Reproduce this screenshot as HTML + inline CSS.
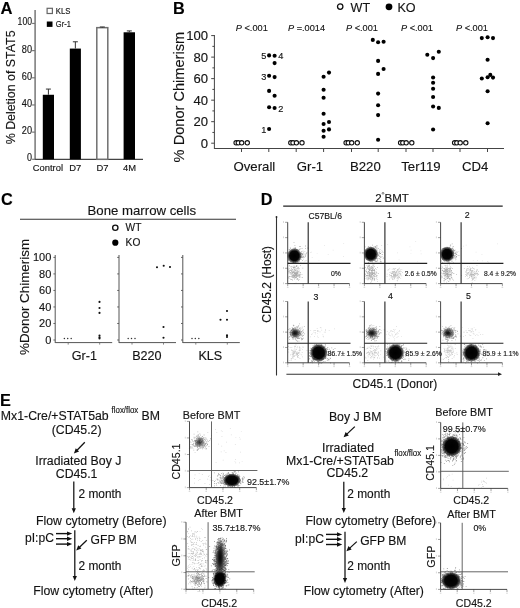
<!DOCTYPE html>
<html><head><meta charset="utf-8"><style>
html,body{margin:0;padding:0;background:#fff;width:520px;height:608px;overflow:hidden}
svg{display:block;filter:blur(0.3px);font-family:"Liberation Sans",sans-serif} text{stroke:#222;stroke-width:0.15px}
</style></head><body>
<svg width="520" height="608" viewBox="0 0 520 608" font-family="Liberation Sans, sans-serif"><defs><radialGradient id="g1"><stop offset="0" stop-color="#000"/><stop offset="0.62" stop-color="#000" stop-opacity="0.97"/><stop offset="0.85" stop-color="#000" stop-opacity="0.55"/><stop offset="1" stop-color="#000" stop-opacity="0"/></radialGradient><radialGradient id="g2"><stop offset="0" stop-color="#000" stop-opacity="0.85"/><stop offset="0.4" stop-color="#000" stop-opacity="0.6"/><stop offset="1" stop-color="#000" stop-opacity="0"/></radialGradient></defs>
<text transform="translate(0.6 13.7) scale(1 1.0)" font-size="16.6" text-anchor="start" font-weight="bold" fill="#000" >A</text>
<line x1="35.1" y1="10" x2="35.1" y2="159.9" stroke="#777" stroke-width="1.5"/>
<line x1="35.1" y1="159.3" x2="143" y2="159.3" stroke="#444" stroke-width="1.3"/>
<line x1="32.1" y1="159.3" x2="35.1" y2="159.3" stroke="#777" stroke-width="1.2"/>
<text transform="translate(32.0 161.3) scale(1 1.0)" font-size="10.0" text-anchor="end" textLength="5.0" lengthAdjust="spacingAndGlyphs" fill="#111" >0</text>
<line x1="32.1" y1="132.13" x2="35.1" y2="132.13" stroke="#777" stroke-width="1.2"/>
<text transform="translate(32.0 134.13) scale(1 1.0)" font-size="10.0" text-anchor="end" textLength="10.2" lengthAdjust="spacingAndGlyphs" fill="#111" >20</text>
<line x1="32.1" y1="104.96000000000001" x2="35.1" y2="104.96000000000001" stroke="#777" stroke-width="1.2"/>
<text transform="translate(32.0 106.96000000000001) scale(1 1.0)" font-size="10.0" text-anchor="end" textLength="10.2" lengthAdjust="spacingAndGlyphs" fill="#111" >40</text>
<line x1="32.1" y1="77.79" x2="35.1" y2="77.79" stroke="#777" stroke-width="1.2"/>
<text transform="translate(32.0 79.79) scale(1 1.0)" font-size="10.0" text-anchor="end" textLength="10.2" lengthAdjust="spacingAndGlyphs" fill="#111" >60</text>
<line x1="32.1" y1="50.620000000000005" x2="35.1" y2="50.620000000000005" stroke="#777" stroke-width="1.2"/>
<text transform="translate(32.0 52.620000000000005) scale(1 1.0)" font-size="10.0" text-anchor="end" textLength="10.2" lengthAdjust="spacingAndGlyphs" fill="#111" >80</text>
<line x1="32.1" y1="23.450000000000017" x2="35.1" y2="23.450000000000017" stroke="#777" stroke-width="1.2"/>
<text transform="translate(32.0 25.450000000000017) scale(1 1.0)" font-size="10.0" text-anchor="end" textLength="14.4" lengthAdjust="spacingAndGlyphs" fill="#111" >100</text>
<text transform="translate(14.6,87.4) rotate(-90) scale(1 1.0)" font-size="12.4" text-anchor="middle" fill="#111">% Deletion of STAT5</text>
<rect x="47.1" y="8.3" width="5.3" height="5.2" fill="#fff" stroke="#666" stroke-width="1.2"/>
<text transform="translate(55.8 13.9) scale(1 1.0)" font-size="8.4" text-anchor="start" textLength="14.6" lengthAdjust="spacingAndGlyphs" fill="#111" >KLS</text>
<rect x="46.8" y="21.5" width="5.7" height="5.4" fill="#000" stroke="none" stroke-width="1"/>
<text transform="translate(55.8 26.9) scale(1 1.0)" font-size="8.4" text-anchor="start" textLength="15.0" lengthAdjust="spacingAndGlyphs" fill="#111" >Gr-1</text>
<rect x="42.8" y="94.77125000000001" width="11.200000000000003" height="64.52875" fill="#000" stroke="none" stroke-width="1"/>
<line x1="48.4" y1="94.77125000000001" x2="48.4" y2="89.06555" stroke="#333" stroke-width="1"/>
<line x1="45.9" y1="89.06555" x2="50.9" y2="89.06555" stroke="#333" stroke-width="1"/>
<rect x="69.8" y="48.58225" width="11.100000000000009" height="110.71775000000001" fill="#000" stroke="none" stroke-width="1"/>
<line x1="75.35" y1="48.58225" x2="75.35" y2="41.78975000000001" stroke="#333" stroke-width="1"/>
<line x1="72.85" y1="41.78975000000001" x2="77.85" y2="41.78975000000001" stroke="#333" stroke-width="1"/>
<rect x="96.8" y="27.66135" width="11.0" height="131.63865" fill="#fff" stroke="#707070" stroke-width="1.5"/>
<line x1="102.3" y1="27.66135" x2="102.3" y2="26.982100000000003" stroke="#333" stroke-width="1"/>
<line x1="99.8" y1="26.982100000000003" x2="104.8" y2="26.982100000000003" stroke="#333" stroke-width="1"/>
<rect x="123.6" y="32.28025000000001" width="11.400000000000006" height="127.01975" fill="#000" stroke="none" stroke-width="1"/>
<line x1="129.3" y1="32.28025000000001" x2="129.3" y2="30.921750000000003" stroke="#333" stroke-width="1"/>
<line x1="126.80000000000001" y1="30.921750000000003" x2="131.8" y2="30.921750000000003" stroke="#333" stroke-width="1"/>
<text transform="translate(47.9 171.3) scale(1 1.0)" font-size="9.4" text-anchor="middle" fill="#111" >Control</text>
<text transform="translate(75.2 171.3) scale(1 1.0)" font-size="9.4" text-anchor="middle" fill="#111" >D7</text>
<text transform="translate(102.5 171.3) scale(1 1.0)" font-size="9.4" text-anchor="middle" fill="#111" >D7</text>
<text transform="translate(129.5 171.3) scale(1 1.0)" font-size="9.4" text-anchor="middle" fill="#111" >4M</text>
<text transform="translate(172.9 13.6) scale(1 1.0)" font-size="16.3" text-anchor="start" font-weight="bold" fill="#000" >B</text>
<line x1="214.4" y1="35" x2="214.4" y2="149.0" stroke="#444" stroke-width="1"/>
<line x1="214.4" y1="148.5" x2="504" y2="148.5" stroke="#444" stroke-width="1"/>
<line x1="211.20000000000002" y1="143.2" x2="214.4" y2="143.2" stroke="#444" stroke-width="1"/>
<text transform="translate(208 147.79999999999998) scale(1 1.0)" font-size="13.1" text-anchor="end" fill="#111" >0</text>
<line x1="212.4" y1="132.44" x2="214.4" y2="132.44" stroke="#444" stroke-width="1"/>
<line x1="211.20000000000002" y1="121.67999999999998" x2="214.4" y2="121.67999999999998" stroke="#444" stroke-width="1"/>
<text transform="translate(208 126.27999999999997) scale(1 1.0)" font-size="13.1" text-anchor="end" fill="#111" >20</text>
<line x1="212.4" y1="110.91999999999999" x2="214.4" y2="110.91999999999999" stroke="#444" stroke-width="1"/>
<line x1="211.20000000000002" y1="100.15999999999998" x2="214.4" y2="100.15999999999998" stroke="#444" stroke-width="1"/>
<text transform="translate(208 104.75999999999998) scale(1 1.0)" font-size="13.1" text-anchor="end" fill="#111" >40</text>
<line x1="212.4" y1="89.39999999999998" x2="214.4" y2="89.39999999999998" stroke="#444" stroke-width="1"/>
<line x1="211.20000000000002" y1="78.63999999999999" x2="214.4" y2="78.63999999999999" stroke="#444" stroke-width="1"/>
<text transform="translate(208 83.23999999999998) scale(1 1.0)" font-size="13.1" text-anchor="end" fill="#111" >60</text>
<line x1="212.4" y1="67.87999999999998" x2="214.4" y2="67.87999999999998" stroke="#444" stroke-width="1"/>
<line x1="211.20000000000002" y1="57.119999999999976" x2="214.4" y2="57.119999999999976" stroke="#444" stroke-width="1"/>
<text transform="translate(208 61.71999999999998) scale(1 1.0)" font-size="13.1" text-anchor="end" fill="#111" >80</text>
<line x1="212.4" y1="46.359999999999985" x2="214.4" y2="46.359999999999985" stroke="#444" stroke-width="1"/>
<line x1="211.20000000000002" y1="35.59999999999998" x2="214.4" y2="35.59999999999998" stroke="#444" stroke-width="1"/>
<text transform="translate(208 40.19999999999998) scale(1 1.0)" font-size="13.1" text-anchor="end" fill="#111" >100</text>
<text transform="translate(183.6,97.1) rotate(-90) scale(1 1.0)" font-size="14.6" text-anchor="middle" fill="#111">% Donor Chimerism</text>
<line x1="241.5" y1="148.5" x2="241.5" y2="152.0" stroke="#444" stroke-width="1"/>
<line x1="268.8" y1="148.5" x2="268.8" y2="152.0" stroke="#444" stroke-width="1"/>
<line x1="296.2" y1="148.5" x2="296.2" y2="152.0" stroke="#444" stroke-width="1"/>
<line x1="323.6" y1="148.5" x2="323.6" y2="152.0" stroke="#444" stroke-width="1"/>
<line x1="351.5" y1="148.5" x2="351.5" y2="152.0" stroke="#444" stroke-width="1"/>
<line x1="378.2" y1="148.5" x2="378.2" y2="152.0" stroke="#444" stroke-width="1"/>
<line x1="406.0" y1="148.5" x2="406.0" y2="152.0" stroke="#444" stroke-width="1"/>
<line x1="433.0" y1="148.5" x2="433.0" y2="152.0" stroke="#444" stroke-width="1"/>
<line x1="460.0" y1="148.5" x2="460.0" y2="152.0" stroke="#444" stroke-width="1"/>
<line x1="487.5" y1="148.5" x2="487.5" y2="152.0" stroke="#444" stroke-width="1"/>
<text transform="translate(254.4 171.2) scale(1 1.0)" font-size="13.2" text-anchor="middle" fill="#111" >Overall</text>
<text transform="translate(310.0 171.2) scale(1 1.0)" font-size="13.2" text-anchor="middle" fill="#111" >Gr-1</text>
<text transform="translate(365.4 171.2) scale(1 1.0)" font-size="13.2" text-anchor="middle" fill="#111" >B220</text>
<text transform="translate(420.9 171.2) scale(1 1.0)" font-size="13.2" text-anchor="middle" fill="#111" >Ter119</text>
<text transform="translate(475.25 171.2) scale(1 1.0)" font-size="13.2" text-anchor="middle" fill="#111" >CD4</text>
<circle cx="340.2" cy="6.6" r="2.7" fill="#fff" stroke="#111" stroke-width="1.3"/>
<text transform="translate(350.6 11.5) scale(1 1.0)" font-size="12.6" text-anchor="start" fill="#111" >WT</text>
<circle cx="389.0" cy="6.8" r="3.4" fill="#000" stroke="none" stroke-width="1"/>
<text transform="translate(397.4 11.5) scale(1 1.0)" font-size="12.6" text-anchor="start" fill="#111" >KO</text>
<text transform="translate(235.8 31.2) scale(1 1.0)" font-size="9.2" fill="#111"><tspan font-style="italic">P</tspan> &lt;.001</text>
<text transform="translate(288.0 31.2) scale(1 1.0)" font-size="9.2" fill="#111"><tspan font-style="italic">P</tspan> =.0014</text>
<text transform="translate(346.0 31.2) scale(1 1.0)" font-size="9.2" fill="#111"><tspan font-style="italic">P</tspan> &lt;.001</text>
<text transform="translate(401.0 31.2) scale(1 1.0)" font-size="9.2" fill="#111"><tspan font-style="italic">P</tspan> &lt;.001</text>
<text transform="translate(456.0 31.2) scale(1 1.0)" font-size="9.2" fill="#111"><tspan font-style="italic">P</tspan> &lt;.001</text>
<circle cx="236.1" cy="142.8" r="2.15" fill="#fff" stroke="#111" stroke-width="1.1"/>
<circle cx="238.3" cy="142.8" r="2.15" fill="#fff" stroke="#111" stroke-width="1.1"/>
<circle cx="241.7" cy="142.8" r="2.15" fill="#fff" stroke="#111" stroke-width="1.1"/>
<circle cx="247.3" cy="142.8" r="2.15" fill="#fff" stroke="#111" stroke-width="1.1"/>
<circle cx="290.8" cy="142.8" r="2.15" fill="#fff" stroke="#111" stroke-width="1.1"/>
<circle cx="293.0" cy="142.8" r="2.15" fill="#fff" stroke="#111" stroke-width="1.1"/>
<circle cx="296.4" cy="142.8" r="2.15" fill="#fff" stroke="#111" stroke-width="1.1"/>
<circle cx="302.0" cy="142.8" r="2.15" fill="#fff" stroke="#111" stroke-width="1.1"/>
<circle cx="346.1" cy="142.8" r="2.15" fill="#fff" stroke="#111" stroke-width="1.1"/>
<circle cx="348.3" cy="142.8" r="2.15" fill="#fff" stroke="#111" stroke-width="1.1"/>
<circle cx="351.7" cy="142.8" r="2.15" fill="#fff" stroke="#111" stroke-width="1.1"/>
<circle cx="357.3" cy="142.8" r="2.15" fill="#fff" stroke="#111" stroke-width="1.1"/>
<circle cx="400.6" cy="142.8" r="2.15" fill="#fff" stroke="#111" stroke-width="1.1"/>
<circle cx="402.8" cy="142.8" r="2.15" fill="#fff" stroke="#111" stroke-width="1.1"/>
<circle cx="406.2" cy="142.8" r="2.15" fill="#fff" stroke="#111" stroke-width="1.1"/>
<circle cx="411.8" cy="142.8" r="2.15" fill="#fff" stroke="#111" stroke-width="1.1"/>
<circle cx="454.6" cy="142.8" r="2.15" fill="#fff" stroke="#111" stroke-width="1.1"/>
<circle cx="456.8" cy="142.8" r="2.15" fill="#fff" stroke="#111" stroke-width="1.1"/>
<circle cx="460.2" cy="142.8" r="2.15" fill="#fff" stroke="#111" stroke-width="1.1"/>
<circle cx="465.8" cy="142.8" r="2.15" fill="#fff" stroke="#111" stroke-width="1.1"/>
<circle cx="269.1" cy="55.4" r="2.05" fill="#000" stroke="none" stroke-width="1"/>
<circle cx="274.6" cy="55.7" r="2.05" fill="#000" stroke="none" stroke-width="1"/>
<circle cx="274.6" cy="63.1" r="2.05" fill="#000" stroke="none" stroke-width="1"/>
<circle cx="269.1" cy="75.7" r="2.05" fill="#000" stroke="none" stroke-width="1"/>
<circle cx="274.6" cy="77.1" r="2.05" fill="#000" stroke="none" stroke-width="1"/>
<circle cx="269.1" cy="90.9" r="2.05" fill="#000" stroke="none" stroke-width="1"/>
<circle cx="274.6" cy="95.8" r="2.05" fill="#000" stroke="none" stroke-width="1"/>
<circle cx="269.1" cy="107.2" r="2.05" fill="#000" stroke="none" stroke-width="1"/>
<circle cx="274.6" cy="108.0" r="2.05" fill="#000" stroke="none" stroke-width="1"/>
<circle cx="269.1" cy="129.0" r="2.05" fill="#000" stroke="none" stroke-width="1"/>
<circle cx="329" cy="72.6" r="2.05" fill="#000" stroke="none" stroke-width="1"/>
<circle cx="323.6" cy="76.8" r="2.05" fill="#000" stroke="none" stroke-width="1"/>
<circle cx="323.6" cy="89.7" r="2.05" fill="#000" stroke="none" stroke-width="1"/>
<circle cx="323.6" cy="97.8" r="2.05" fill="#000" stroke="none" stroke-width="1"/>
<circle cx="323.6" cy="113.7" r="2.05" fill="#000" stroke="none" stroke-width="1"/>
<circle cx="329" cy="122" r="2.05" fill="#000" stroke="none" stroke-width="1"/>
<circle cx="323.6" cy="124" r="2.05" fill="#000" stroke="none" stroke-width="1"/>
<circle cx="329" cy="129.4" r="2.05" fill="#000" stroke="none" stroke-width="1"/>
<circle cx="323.6" cy="130.7" r="2.05" fill="#000" stroke="none" stroke-width="1"/>
<circle cx="323.6" cy="136.7" r="2.05" fill="#000" stroke="none" stroke-width="1"/>
<circle cx="372.8" cy="39.9" r="2.05" fill="#000" stroke="none" stroke-width="1"/>
<circle cx="378.1" cy="42.2" r="2.05" fill="#000" stroke="none" stroke-width="1"/>
<circle cx="383.6" cy="41.8" r="2.05" fill="#000" stroke="none" stroke-width="1"/>
<circle cx="378.1" cy="60.9" r="2.05" fill="#000" stroke="none" stroke-width="1"/>
<circle cx="383.6" cy="69" r="2.05" fill="#000" stroke="none" stroke-width="1"/>
<circle cx="378.1" cy="73.9" r="2.05" fill="#000" stroke="none" stroke-width="1"/>
<circle cx="378.1" cy="93.6" r="2.05" fill="#000" stroke="none" stroke-width="1"/>
<circle cx="378.1" cy="105.3" r="2.05" fill="#000" stroke="none" stroke-width="1"/>
<circle cx="378.1" cy="115.1" r="2.05" fill="#000" stroke="none" stroke-width="1"/>
<circle cx="378.1" cy="139.8" r="2.05" fill="#000" stroke="none" stroke-width="1"/>
<circle cx="427.3" cy="54.8" r="2.05" fill="#000" stroke="none" stroke-width="1"/>
<circle cx="438.8" cy="51.8" r="2.05" fill="#000" stroke="none" stroke-width="1"/>
<circle cx="433.1" cy="58.1" r="2.05" fill="#000" stroke="none" stroke-width="1"/>
<circle cx="433.1" cy="77.5" r="2.05" fill="#000" stroke="none" stroke-width="1"/>
<circle cx="433.1" cy="82.7" r="2.05" fill="#000" stroke="none" stroke-width="1"/>
<circle cx="433.1" cy="88.8" r="2.05" fill="#000" stroke="none" stroke-width="1"/>
<circle cx="433.1" cy="97" r="2.05" fill="#000" stroke="none" stroke-width="1"/>
<circle cx="433.1" cy="106.5" r="2.05" fill="#000" stroke="none" stroke-width="1"/>
<circle cx="438.8" cy="107.9" r="2.05" fill="#000" stroke="none" stroke-width="1"/>
<circle cx="433.1" cy="129.5" r="2.05" fill="#000" stroke="none" stroke-width="1"/>
<circle cx="481.8" cy="38.1" r="2.05" fill="#000" stroke="none" stroke-width="1"/>
<circle cx="487.6" cy="37.3" r="2.05" fill="#000" stroke="none" stroke-width="1"/>
<circle cx="493" cy="38.1" r="2.05" fill="#000" stroke="none" stroke-width="1"/>
<circle cx="487.6" cy="59.8" r="2.05" fill="#000" stroke="none" stroke-width="1"/>
<circle cx="481.8" cy="78.5" r="2.05" fill="#000" stroke="none" stroke-width="1"/>
<circle cx="487.6" cy="77.2" r="2.05" fill="#000" stroke="none" stroke-width="1"/>
<circle cx="490.3" cy="74.9" r="2.05" fill="#000" stroke="none" stroke-width="1"/>
<circle cx="493" cy="77.6" r="2.05" fill="#000" stroke="none" stroke-width="1"/>
<circle cx="487.6" cy="91.2" r="2.05" fill="#000" stroke="none" stroke-width="1"/>
<circle cx="487.6" cy="123.3" r="2.05" fill="#000" stroke="none" stroke-width="1"/>
<text transform="translate(263.7 58.9) scale(1 1.0)" font-size="9.2" text-anchor="middle" fill="#111" >5</text>
<text transform="translate(280.7 58.9) scale(1 1.0)" font-size="9.2" text-anchor="middle" fill="#111" >4</text>
<text transform="translate(263.7 79.8) scale(1 1.0)" font-size="9.2" text-anchor="middle" fill="#111" >3</text>
<text transform="translate(280.7 112.3) scale(1 1.0)" font-size="9.2" text-anchor="middle" fill="#111" >2</text>
<text transform="translate(263.9 132.5) scale(1 1.0)" font-size="9.2" text-anchor="middle" fill="#111" >1</text>
<text transform="translate(1.0 205.0) scale(1 1.0)" font-size="16.3" text-anchor="start" font-weight="bold" fill="#000" >C</text>
<text transform="translate(141.8 215.4) scale(1 1.0)" font-size="13.2" text-anchor="middle" fill="#111" >Bone marrow cells</text>
<line x1="20" y1="219.2" x2="236" y2="219.2" stroke="#333" stroke-width="1.1"/>
<circle cx="115.3" cy="227.7" r="2.65" fill="#fff" stroke="#111" stroke-width="1.35"/>
<text transform="translate(125.6 230.9) scale(1 1.0)" font-size="10.2" text-anchor="start" fill="#111" >WT</text>
<circle cx="115.3" cy="242.7" r="3.1" fill="#000" stroke="none" stroke-width="1"/>
<text transform="translate(125.6 245.7) scale(1 1.0)" font-size="10.2" text-anchor="start" fill="#111" >KO</text>
<line x1="55.2" y1="255" x2="55.2" y2="343" stroke="#555" stroke-width="1"/>
<line x1="55.2" y1="342.6" x2="112.2" y2="342.6" stroke="#555" stroke-width="1"/>
<line x1="53.400000000000006" y1="340.0" x2="55.2" y2="340.0" stroke="#555" stroke-width="0.9"/>
<line x1="53.400000000000006" y1="323.48" x2="55.2" y2="323.48" stroke="#555" stroke-width="0.9"/>
<line x1="53.400000000000006" y1="306.96" x2="55.2" y2="306.96" stroke="#555" stroke-width="0.9"/>
<line x1="53.400000000000006" y1="290.44" x2="55.2" y2="290.44" stroke="#555" stroke-width="0.9"/>
<line x1="53.400000000000006" y1="273.92" x2="55.2" y2="273.92" stroke="#555" stroke-width="0.9"/>
<line x1="53.400000000000006" y1="257.4" x2="55.2" y2="257.4" stroke="#555" stroke-width="0.9"/>
<line x1="68.2" y1="342.6" x2="68.2" y2="344.6" stroke="#666" stroke-width="0.8"/>
<line x1="99.7" y1="342.6" x2="99.7" y2="344.6" stroke="#666" stroke-width="0.8"/>
<line x1="119.0" y1="255" x2="119.0" y2="343" stroke="#555" stroke-width="1"/>
<line x1="119.0" y1="342.6" x2="176.0" y2="342.6" stroke="#555" stroke-width="1"/>
<line x1="117.2" y1="340.0" x2="119.0" y2="340.0" stroke="#555" stroke-width="0.9"/>
<line x1="117.2" y1="323.48" x2="119.0" y2="323.48" stroke="#555" stroke-width="0.9"/>
<line x1="117.2" y1="306.96" x2="119.0" y2="306.96" stroke="#555" stroke-width="0.9"/>
<line x1="117.2" y1="290.44" x2="119.0" y2="290.44" stroke="#555" stroke-width="0.9"/>
<line x1="117.2" y1="273.92" x2="119.0" y2="273.92" stroke="#555" stroke-width="0.9"/>
<line x1="117.2" y1="257.4" x2="119.0" y2="257.4" stroke="#555" stroke-width="0.9"/>
<line x1="132.0" y1="342.6" x2="132.0" y2="344.6" stroke="#666" stroke-width="0.8"/>
<line x1="163.5" y1="342.6" x2="163.5" y2="344.6" stroke="#666" stroke-width="0.8"/>
<line x1="182.8" y1="255" x2="182.8" y2="343" stroke="#555" stroke-width="1"/>
<line x1="182.8" y1="342.6" x2="239.8" y2="342.6" stroke="#555" stroke-width="1"/>
<line x1="181.0" y1="340.0" x2="182.8" y2="340.0" stroke="#555" stroke-width="0.9"/>
<line x1="181.0" y1="323.48" x2="182.8" y2="323.48" stroke="#555" stroke-width="0.9"/>
<line x1="181.0" y1="306.96" x2="182.8" y2="306.96" stroke="#555" stroke-width="0.9"/>
<line x1="181.0" y1="290.44" x2="182.8" y2="290.44" stroke="#555" stroke-width="0.9"/>
<line x1="181.0" y1="273.92" x2="182.8" y2="273.92" stroke="#555" stroke-width="0.9"/>
<line x1="181.0" y1="257.4" x2="182.8" y2="257.4" stroke="#555" stroke-width="0.9"/>
<line x1="195.8" y1="342.6" x2="195.8" y2="344.6" stroke="#666" stroke-width="0.8"/>
<line x1="227.3" y1="342.6" x2="227.3" y2="344.6" stroke="#666" stroke-width="0.8"/>
<text transform="translate(51.3 343.9) scale(1 1.0)" font-size="11" text-anchor="end" fill="#111" >0</text>
<text transform="translate(51.3 327.38) scale(1 1.0)" font-size="11" text-anchor="end" fill="#111" >20</text>
<text transform="translate(51.3 310.85999999999996) scale(1 1.0)" font-size="11" text-anchor="end" fill="#111" >40</text>
<text transform="translate(51.3 294.34) scale(1 1.0)" font-size="11" text-anchor="end" fill="#111" >60</text>
<text transform="translate(51.3 277.82) scale(1 1.0)" font-size="11" text-anchor="end" fill="#111" >80</text>
<text transform="translate(51.3 261.29999999999995) scale(1 1.0)" font-size="11" text-anchor="end" fill="#111" >100</text>
<text transform="translate(29.2,297) rotate(-90) scale(1 1.0)" font-size="13.4" text-anchor="middle" fill="#111">%Donor Chimerism</text>
<text transform="translate(84.3 359.6) scale(1 1.0)" font-size="12.6" text-anchor="middle" fill="#111" >Gr-1</text>
<text transform="translate(146.9 359.6) scale(1 1.0)" font-size="12.6" text-anchor="middle" fill="#111" >B220</text>
<text transform="translate(210.3 359.6) scale(1 1.0)" font-size="12.6" text-anchor="middle" fill="#111" >KLS</text>
<circle cx="99.5" cy="301.9" r="1.05" fill="#111" stroke="none" stroke-width="1"/>
<circle cx="99.5" cy="308" r="1.05" fill="#111" stroke="none" stroke-width="1"/>
<circle cx="99.5" cy="312.9" r="1.05" fill="#111" stroke="none" stroke-width="1"/>
<circle cx="99.5" cy="335.6" r="1.05" fill="#111" stroke="none" stroke-width="1"/>
<circle cx="99.5" cy="337.2" r="1.05" fill="#111" stroke="none" stroke-width="1"/>
<circle cx="99.5" cy="338.4" r="1.05" fill="#111" stroke="none" stroke-width="1"/>
<circle cx="157" cy="267.3" r="1.05" fill="#111" stroke="none" stroke-width="1"/>
<circle cx="163.7" cy="265.8" r="1.05" fill="#111" stroke="none" stroke-width="1"/>
<circle cx="170" cy="267" r="1.05" fill="#111" stroke="none" stroke-width="1"/>
<circle cx="163.5" cy="327" r="1.05" fill="#111" stroke="none" stroke-width="1"/>
<circle cx="163.5" cy="337.7" r="1.05" fill="#111" stroke="none" stroke-width="1"/>
<circle cx="227" cy="311" r="1.05" fill="#111" stroke="none" stroke-width="1"/>
<circle cx="227" cy="319.8" r="1.05" fill="#111" stroke="none" stroke-width="1"/>
<circle cx="220.5" cy="319.8" r="1.05" fill="#111" stroke="none" stroke-width="1"/>
<circle cx="227" cy="335.4" r="1.05" fill="#111" stroke="none" stroke-width="1"/>
<circle cx="227" cy="337" r="1.05" fill="#111" stroke="none" stroke-width="1"/>
<circle cx="64.4" cy="338.6" r="0.75" fill="#333" stroke="none" stroke-width="1"/>
<circle cx="67.7" cy="338.6" r="0.75" fill="#333" stroke="none" stroke-width="1"/>
<circle cx="71.2" cy="338.6" r="0.75" fill="#333" stroke="none" stroke-width="1"/>
<circle cx="128.2" cy="338.6" r="0.75" fill="#333" stroke="none" stroke-width="1"/>
<circle cx="131.5" cy="338.6" r="0.75" fill="#333" stroke="none" stroke-width="1"/>
<circle cx="135.0" cy="338.6" r="0.75" fill="#333" stroke="none" stroke-width="1"/>
<circle cx="192.0" cy="338.6" r="0.75" fill="#333" stroke="none" stroke-width="1"/>
<circle cx="195.3" cy="338.6" r="0.75" fill="#333" stroke="none" stroke-width="1"/>
<circle cx="198.8" cy="338.6" r="0.75" fill="#333" stroke="none" stroke-width="1"/>
<text transform="translate(260.8 205.0) scale(1 1.0)" font-size="16.3" text-anchor="start" font-weight="bold" fill="#000" >D</text>
<line x1="283.2" y1="206.2" x2="502.7" y2="206.2" stroke="#222" stroke-width="1.3"/>
<text transform="translate(375.2 201.7) scale(1 1.0)" font-size="11.5" text-anchor="start" fill="#111" >2</text>
<circle cx="383.0" cy="193.3" r="0.9" fill="none" stroke="#333" stroke-width="0.6"/>
<text transform="translate(384.5 201.7) scale(1 1.0)" font-size="11.5" text-anchor="start" fill="#111" >BMT</text>
<line x1="276.5" y1="217" x2="276.5" y2="375.5" stroke="#333" stroke-width="1.1"/>
<circle cx="276.5" cy="217" r="0.9" fill="#222" stroke="none" stroke-width="1"/>
<line x1="286.4" y1="374.2" x2="500" y2="374.2" stroke="#333" stroke-width="1.1"/>
<path d="M498,372.3 L502,374.2 L498,376.1 Z" fill="#222"/>
<text transform="translate(270.8,284.3) rotate(-90) scale(1 1.0)" font-size="12" text-anchor="middle" fill="#111">CD45.2 (Host)</text>
<text transform="translate(352.6 387.6) scale(1 1.0)" font-size="12" text-anchor="start" fill="#111" >CD45.1 (Donor)</text>
<path d="M293.5 274.6h0.7v0.7h-0.7zM293.6 271.2h0.7v0.7h-0.7zM291.5 271.6h0.7v0.7h-0.7zM297.6 274.3h0.7v0.7h-0.7zM297.4 273.5h0.7v0.7h-0.7zM295.5 273.3h0.7v0.7h-0.7zM289.3 276.1h0.7v0.7h-0.7zM295.8 274.6h0.7v0.7h-0.7zM289.2 265.2h0.7v0.7h-0.7zM291.6 270.5h0.7v0.7h-0.7zM295.2 272.3h0.7v0.7h-0.7zM295.9 269.8h0.7v0.7h-0.7zM295.2 274.2h0.7v0.7h-0.7zM292.3 279.7h0.7v0.7h-0.7zM296.0 277.5h0.7v0.7h-0.7zM292.4 269.4h0.7v0.7h-0.7zM293.3 272.1h0.7v0.7h-0.7zM296.2 273.5h0.7v0.7h-0.7zM293.0 268.5h0.7v0.7h-0.7zM292.7 277.6h0.7v0.7h-0.7zM291.9 273.5h0.7v0.7h-0.7zM295.6 266.2h0.7v0.7h-0.7zM294.4 278.0h0.7v0.7h-0.7zM288.3 271.1h0.7v0.7h-0.7zM294.0 269.1h0.7v0.7h-0.7zM295.8 272.2h0.7v0.7h-0.7zM289.9 276.0h0.7v0.7h-0.7zM296.3 276.5h0.7v0.7h-0.7zM298.6 274.0h0.7v0.7h-0.7zM294.7 267.0h0.7v0.7h-0.7zM296.1 269.9h0.7v0.7h-0.7zM292.9 267.2h0.7v0.7h-0.7zM291.4 270.3h0.7v0.7h-0.7zM289.9 273.5h0.7v0.7h-0.7zM298.6 274.9h0.7v0.7h-0.7zM295.4 269.4h0.7v0.7h-0.7zM290.9 276.6h0.7v0.7h-0.7zM297.6 273.2h0.7v0.7h-0.7zM295.0 274.3h0.7v0.7h-0.7zM299.1 275.1h0.7v0.7h-0.7zM295.9 274.8h0.7v0.7h-0.7zM289.6 277.9h0.7v0.7h-0.7zM297.2 274.7h0.7v0.7h-0.7zM288.4 269.8h0.7v0.7h-0.7zM296.8 264.9h0.7v0.7h-0.7zM293.7 276.8h0.7v0.7h-0.7zM290.4 279.3h0.7v0.7h-0.7zM296.0 271.9h0.7v0.7h-0.7zM295.3 275.2h0.7v0.7h-0.7zM294.7 277.3h0.7v0.7h-0.7zM292.3 270.8h0.7v0.7h-0.7zM297.4 272.6h0.7v0.7h-0.7zM291.7 276.5h0.7v0.7h-0.7zM298.7 270.6h0.7v0.7h-0.7zM290.2 271.9h0.7v0.7h-0.7zM293.9 271.2h0.7v0.7h-0.7zM298.5 268.2h0.7v0.7h-0.7zM298.1 267.2h0.7v0.7h-0.7zM291.9 275.2h0.7v0.7h-0.7zM297.7 276.1h0.7v0.7h-0.7zM295.3 273.1h0.7v0.7h-0.7zM294.8 274.9h0.7v0.7h-0.7zM293.8 273.7h0.7v0.7h-0.7zM296.0 272.5h0.7v0.7h-0.7zM296.6 274.9h0.7v0.7h-0.7zM300.3 273.9h0.7v0.7h-0.7zM293.0 270.9h0.7v0.7h-0.7zM294.3 276.4h0.7v0.7h-0.7zM293.3 274.1h0.7v0.7h-0.7zM290.9 273.5h0.7v0.7h-0.7zM295.5 273.5h0.7v0.7h-0.7zM293.0 275.3h0.7v0.7h-0.7zM295.1 270.3h0.7v0.7h-0.7zM301.6 274.0h0.7v0.7h-0.7zM292.6 272.1h0.7v0.7h-0.7zM293.6 272.2h0.7v0.7h-0.7zM297.3 267.6h0.7v0.7h-0.7zM294.1 276.5h0.7v0.7h-0.7zM296.9 278.8h0.7v0.7h-0.7zM289.2 271.0h0.7v0.7h-0.7zM293.3 275.1h0.7v0.7h-0.7zM297.6 266.4h0.7v0.7h-0.7zM296.3 266.2h0.7v0.7h-0.7zM294.8 277.5h0.7v0.7h-0.7zM293.9 273.3h0.7v0.7h-0.7zM296.7 273.1h0.7v0.7h-0.7zM294.0 278.9h0.7v0.7h-0.7zM297.4 271.3h0.7v0.7h-0.7zM302.5 267.7h0.7v0.7h-0.7zM297.0 271.4h0.7v0.7h-0.7zM294.7 275.5h0.7v0.7h-0.7zM295.0 275.2h0.7v0.7h-0.7zM289.7 266.2h0.7v0.7h-0.7zM296.1 268.5h0.7v0.7h-0.7zM291.2 266.3h0.7v0.7h-0.7zM298.1 275.6h0.7v0.7h-0.7zM298.7 268.6h0.7v0.7h-0.7zM294.3 267.7h0.7v0.7h-0.7zM296.6 279.2h0.7v0.7h-0.7zM291.6 279.1h0.7v0.7h-0.7zM297.3 271.8h0.7v0.7h-0.7zM288.4 278.4h0.7v0.7h-0.7zM294.0 270.0h0.7v0.7h-0.7zM295.5 274.2h0.7v0.7h-0.7zM298.8 268.2h0.7v0.7h-0.7zM297.7 278.7h0.7v0.7h-0.7zM298.7 271.7h0.7v0.7h-0.7zM292.1 276.8h0.7v0.7h-0.7zM294.6 273.0h0.7v0.7h-0.7zM298.6 271.4h0.7v0.7h-0.7zM288.7 275.9h0.7v0.7h-0.7zM295.3 269.9h0.7v0.7h-0.7zM294.3 276.0h0.7v0.7h-0.7zM294.5 278.1h0.7v0.7h-0.7zM294.1 276.9h0.7v0.7h-0.7zM298.8 279.3h0.7v0.7h-0.7zM292.3 276.2h0.7v0.7h-0.7zM288.7 267.9h0.7v0.7h-0.7zM288.4 277.0h0.7v0.7h-0.7zM290.6 272.4h0.7v0.7h-0.7zM293.7 272.4h0.7v0.7h-0.7zM292.5 273.5h0.7v0.7h-0.7zM299.7 272.7h0.7v0.7h-0.7zM295.9 276.7h0.7v0.7h-0.7zM293.7 267.2h0.7v0.7h-0.7zM292.6 277.0h0.7v0.7h-0.7zM289.4 270.0h0.7v0.7h-0.7zM297.3 275.8h0.7v0.7h-0.7zM294.3 275.9h0.7v0.7h-0.7zM294.8 267.5h0.7v0.7h-0.7zM289.6 269.8h0.7v0.7h-0.7zM297.1 270.1h0.7v0.7h-0.7zM291.6 269.3h0.7v0.7h-0.7zM289.7 272.0h0.7v0.7h-0.7zM290.8 274.0h0.7v0.7h-0.7zM296.5 271.3h0.7v0.7h-0.7zM295.2 270.6h0.7v0.7h-0.7zM296.6 275.6h0.7v0.7h-0.7zM296.3 273.9h0.7v0.7h-0.7zM298.3 275.3h0.7v0.7h-0.7zM297.0 278.0h0.7v0.7h-0.7zM293.4 270.5h0.7v0.7h-0.7zM300.1 265.1h0.7v0.7h-0.7zM295.7 282.7h0.7v0.7h-0.7zM291.5 275.4h0.7v0.7h-0.7zM300.0 272.0h0.7v0.7h-0.7zM296.0 276.3h0.7v0.7h-0.7zM291.6 272.1h0.7v0.7h-0.7zM295.2 276.0h0.7v0.7h-0.7zM294.2 271.7h0.7v0.7h-0.7zM291.3 271.0h0.7v0.7h-0.7zM297.0 272.9h0.7v0.7h-0.7zM291.7 269.0h0.7v0.7h-0.7zM302.3 277.3h0.7v0.7h-0.7zM296.2 274.5h0.7v0.7h-0.7zM299.4 274.3h0.7v0.7h-0.7zM294.1 274.7h0.7v0.7h-0.7zM288.5 276.8h0.7v0.7h-0.7zM295.3 269.6h0.7v0.7h-0.7zM298.3 280.1h0.7v0.7h-0.7zM290.1 269.7h0.7v0.7h-0.7zM295.2 273.3h0.7v0.7h-0.7zM293.1 268.4h0.7v0.7h-0.7zM300.7 276.9h0.7v0.7h-0.7zM290.7 266.9h0.7v0.7h-0.7zM299.4 276.7h0.7v0.7h-0.7zM299.8 275.9h0.7v0.7h-0.7zM291.7 273.6h0.7v0.7h-0.7zM287.8 269.4h0.7v0.7h-0.7zM294.1 274.7h0.7v0.7h-0.7zM292.1 272.0h0.7v0.7h-0.7zM295.7 274.1h0.7v0.7h-0.7zM296.2 273.4h0.7v0.7h-0.7zM293.3 275.8h0.7v0.7h-0.7zM294.4 269.0h0.7v0.7h-0.7zM292.4 272.5h0.7v0.7h-0.7zM294.0 273.2h0.7v0.7h-0.7zM294.3 273.2h0.7v0.7h-0.7zM293.9 267.2h0.7v0.7h-0.7zM295.6 276.9h0.7v0.7h-0.7zM295.6 271.7h0.7v0.7h-0.7zM295.6 268.4h0.7v0.7h-0.7zM288.6 272.8h0.7v0.7h-0.7zM291.5 275.6h0.7v0.7h-0.7zM291.2 279.1h0.7v0.7h-0.7zM293.2 266.7h0.7v0.7h-0.7zM292.0 274.7h0.7v0.7h-0.7zM295.8 273.2h0.7v0.7h-0.7zM298.8 275.5h0.7v0.7h-0.7zM294.2 275.0h0.7v0.7h-0.7zM299.3 276.6h0.7v0.7h-0.7zM297.4 268.0h0.7v0.7h-0.7zM293.9 275.6h0.7v0.7h-0.7zM293.4 277.0h0.7v0.7h-0.7zM296.1 276.3h0.7v0.7h-0.7zM293.7 283.2h0.7v0.7h-0.7zM298.0 271.6h0.7v0.7h-0.7zM294.6 283.4h0.7v0.7h-0.7zM293.3 276.2h0.7v0.7h-0.7zM297.2 272.5h0.7v0.7h-0.7zM290.8 273.3h0.7v0.7h-0.7zM295.4 277.2h0.7v0.7h-0.7zM296.6 272.6h0.7v0.7h-0.7zM296.9 274.8h0.7v0.7h-0.7zM294.9 272.7h0.7v0.7h-0.7zM293.6 275.4h0.7v0.7h-0.7zM291.1 269.9h0.7v0.7h-0.7zM294.3 266.4h0.7v0.7h-0.7zM292.3 274.9h0.7v0.7h-0.7zM296.0 272.3h0.7v0.7h-0.7zM293.6 266.5h0.7v0.7h-0.7zM299.8 274.7h0.7v0.7h-0.7zM297.6 268.8h0.7v0.7h-0.7zM293.7 264.9h0.7v0.7h-0.7zM296.6 276.4h0.7v0.7h-0.7zM288.6 272.3h0.7v0.7h-0.7zM296.2 265.1h0.7v0.7h-0.7zM288.8 268.0h0.7v0.7h-0.7zM292.4 266.6h0.7v0.7h-0.7zM294.4 273.5h0.7v0.7h-0.7zM296.2 275.4h0.7v0.7h-0.7zM298.8 277.4h0.7v0.7h-0.7zM290.4 270.4h0.7v0.7h-0.7zM291.1 268.0h0.7v0.7h-0.7zM294.1 272.5h0.7v0.7h-0.7zM295.8 265.8h0.7v0.7h-0.7zM290.6 272.4h0.7v0.7h-0.7z" fill="#000" fill-opacity="0.35"/>
<path d="M294.4 254.6h0.8v0.8h-0.8zM295.0 252.8h0.8v0.8h-0.8zM298.4 257.2h0.8v0.8h-0.8zM294.9 253.1h0.8v0.8h-0.8zM294.5 244.9h0.8v0.8h-0.8zM291.0 255.9h0.8v0.8h-0.8zM288.7 256.6h0.8v0.8h-0.8zM295.9 250.3h0.8v0.8h-0.8zM294.2 254.5h0.8v0.8h-0.8zM297.3 258.2h0.8v0.8h-0.8zM295.1 252.4h0.8v0.8h-0.8zM294.7 255.5h0.8v0.8h-0.8zM298.5 257.0h0.8v0.8h-0.8zM292.1 250.4h0.8v0.8h-0.8zM293.7 252.8h0.8v0.8h-0.8zM290.4 255.3h0.8v0.8h-0.8zM293.1 256.2h0.8v0.8h-0.8zM297.6 254.1h0.8v0.8h-0.8zM305.5 254.5h0.8v0.8h-0.8zM300.1 256.3h0.8v0.8h-0.8zM300.2 246.3h0.8v0.8h-0.8zM292.0 256.8h0.8v0.8h-0.8zM296.7 260.9h0.8v0.8h-0.8zM298.7 259.6h0.8v0.8h-0.8zM297.5 255.2h0.8v0.8h-0.8zM297.5 251.5h0.8v0.8h-0.8zM300.5 251.7h0.8v0.8h-0.8zM294.3 255.9h0.8v0.8h-0.8zM300.4 255.9h0.8v0.8h-0.8zM291.7 256.8h0.8v0.8h-0.8zM297.9 258.6h0.8v0.8h-0.8zM291.9 262.8h0.8v0.8h-0.8zM302.6 255.9h0.8v0.8h-0.8zM296.5 254.1h0.8v0.8h-0.8zM301.5 253.0h0.8v0.8h-0.8zM298.3 253.9h0.8v0.8h-0.8zM292.2 258.7h0.8v0.8h-0.8zM301.2 255.8h0.8v0.8h-0.8zM292.3 259.0h0.8v0.8h-0.8zM295.1 257.0h0.8v0.8h-0.8zM302.0 260.3h0.8v0.8h-0.8zM295.3 258.9h0.8v0.8h-0.8zM292.5 255.6h0.8v0.8h-0.8zM301.3 250.9h0.8v0.8h-0.8zM288.7 249.3h0.8v0.8h-0.8zM300.5 254.0h0.8v0.8h-0.8zM295.0 254.5h0.8v0.8h-0.8zM294.8 251.4h0.8v0.8h-0.8zM295.4 250.0h0.8v0.8h-0.8zM295.0 257.0h0.8v0.8h-0.8zM297.4 254.9h0.8v0.8h-0.8zM291.3 256.4h0.8v0.8h-0.8zM293.2 262.1h0.8v0.8h-0.8zM298.7 255.3h0.8v0.8h-0.8zM293.2 253.0h0.8v0.8h-0.8zM291.2 254.4h0.8v0.8h-0.8zM296.6 257.9h0.8v0.8h-0.8zM292.2 255.9h0.8v0.8h-0.8zM307.6 248.3h0.8v0.8h-0.8zM293.0 256.5h0.8v0.8h-0.8zM296.0 257.4h0.8v0.8h-0.8zM294.2 257.3h0.8v0.8h-0.8zM295.5 258.9h0.8v0.8h-0.8zM295.3 251.7h0.8v0.8h-0.8zM290.7 258.3h0.8v0.8h-0.8zM292.4 258.3h0.8v0.8h-0.8zM298.6 257.0h0.8v0.8h-0.8zM297.5 255.4h0.8v0.8h-0.8zM289.1 255.7h0.8v0.8h-0.8zM297.3 253.7h0.8v0.8h-0.8zM294.9 258.8h0.8v0.8h-0.8zM291.4 258.4h0.8v0.8h-0.8zM303.5 253.6h0.8v0.8h-0.8zM295.9 255.2h0.8v0.8h-0.8zM302.1 257.1h0.8v0.8h-0.8zM299.3 253.0h0.8v0.8h-0.8zM295.2 255.8h0.8v0.8h-0.8zM299.3 248.8h0.8v0.8h-0.8zM298.6 255.3h0.8v0.8h-0.8zM297.3 257.3h0.8v0.8h-0.8zM288.7 255.0h0.8v0.8h-0.8zM301.9 253.5h0.8v0.8h-0.8zM290.8 250.4h0.8v0.8h-0.8zM289.9 257.1h0.8v0.8h-0.8zM302.7 257.5h0.8v0.8h-0.8zM293.0 253.1h0.8v0.8h-0.8zM297.6 258.0h0.8v0.8h-0.8zM290.8 251.1h0.8v0.8h-0.8zM296.6 256.8h0.8v0.8h-0.8zM289.5 255.0h0.8v0.8h-0.8zM292.9 257.6h0.8v0.8h-0.8zM294.8 255.5h0.8v0.8h-0.8zM293.7 260.0h0.8v0.8h-0.8zM301.4 254.3h0.8v0.8h-0.8zM299.0 252.8h0.8v0.8h-0.8zM295.6 258.8h0.8v0.8h-0.8zM302.0 254.3h0.8v0.8h-0.8zM295.0 256.6h0.8v0.8h-0.8zM288.7 255.9h0.8v0.8h-0.8zM292.3 257.3h0.8v0.8h-0.8zM290.3 247.9h0.8v0.8h-0.8zM295.5 256.8h0.8v0.8h-0.8zM292.9 259.4h0.8v0.8h-0.8zM294.1 253.4h0.8v0.8h-0.8zM297.4 249.5h0.8v0.8h-0.8zM292.3 255.7h0.8v0.8h-0.8zM299.0 255.1h0.8v0.8h-0.8zM296.7 253.2h0.8v0.8h-0.8zM296.6 262.5h0.8v0.8h-0.8zM292.5 255.9h0.8v0.8h-0.8zM296.1 259.9h0.8v0.8h-0.8zM289.9 247.4h0.8v0.8h-0.8zM298.0 259.0h0.8v0.8h-0.8zM296.2 256.8h0.8v0.8h-0.8zM299.4 257.3h0.8v0.8h-0.8zM302.6 250.8h0.8v0.8h-0.8zM293.6 242.0h0.8v0.8h-0.8zM298.9 254.3h0.8v0.8h-0.8zM295.3 254.8h0.8v0.8h-0.8zM293.1 252.4h0.8v0.8h-0.8zM292.5 258.4h0.8v0.8h-0.8zM295.5 256.1h0.8v0.8h-0.8zM294.5 259.5h0.8v0.8h-0.8zM297.5 255.2h0.8v0.8h-0.8zM298.2 255.2h0.8v0.8h-0.8zM290.2 261.6h0.8v0.8h-0.8zM297.3 252.0h0.8v0.8h-0.8zM300.0 257.2h0.8v0.8h-0.8zM288.4 262.2h0.8v0.8h-0.8zM296.8 259.4h0.8v0.8h-0.8zM296.2 255.2h0.8v0.8h-0.8zM288.5 259.7h0.8v0.8h-0.8zM295.4 254.7h0.8v0.8h-0.8zM296.8 256.1h0.8v0.8h-0.8zM298.3 254.3h0.8v0.8h-0.8zM295.1 247.2h0.8v0.8h-0.8zM293.4 258.5h0.8v0.8h-0.8zM301.2 254.3h0.8v0.8h-0.8zM294.8 262.1h0.8v0.8h-0.8zM293.9 258.7h0.8v0.8h-0.8zM302.7 256.0h0.8v0.8h-0.8zM300.7 253.0h0.8v0.8h-0.8zM296.2 255.5h0.8v0.8h-0.8zM295.8 260.3h0.8v0.8h-0.8zM305.8 253.1h0.8v0.8h-0.8zM292.8 257.8h0.8v0.8h-0.8zM290.7 257.8h0.8v0.8h-0.8zM297.8 254.7h0.8v0.8h-0.8zM297.6 249.6h0.8v0.8h-0.8zM298.6 249.6h0.8v0.8h-0.8zM292.2 253.6h0.8v0.8h-0.8zM293.5 259.2h0.8v0.8h-0.8zM295.7 254.2h0.8v0.8h-0.8zM297.7 262.1h0.8v0.8h-0.8zM295.3 257.3h0.8v0.8h-0.8zM300.8 256.9h0.8v0.8h-0.8zM305.0 247.9h0.8v0.8h-0.8zM295.1 257.5h0.8v0.8h-0.8zM299.5 258.5h0.8v0.8h-0.8zM294.1 251.6h0.8v0.8h-0.8zM295.8 259.9h0.8v0.8h-0.8zM290.5 251.7h0.8v0.8h-0.8zM295.2 248.1h0.8v0.8h-0.8zM294.2 254.1h0.8v0.8h-0.8zM297.3 253.0h0.8v0.8h-0.8zM291.4 254.2h0.8v0.8h-0.8zM295.1 253.1h0.8v0.8h-0.8zM295.4 258.8h0.8v0.8h-0.8zM300.5 262.6h0.8v0.8h-0.8zM291.9 254.1h0.8v0.8h-0.8zM292.1 255.7h0.8v0.8h-0.8zM297.6 250.4h0.8v0.8h-0.8zM297.3 255.7h0.8v0.8h-0.8zM300.6 248.3h0.8v0.8h-0.8zM298.9 256.6h0.8v0.8h-0.8zM297.4 257.6h0.8v0.8h-0.8zM301.0 254.9h0.8v0.8h-0.8zM299.1 254.2h0.8v0.8h-0.8zM298.5 252.5h0.8v0.8h-0.8zM294.8 262.7h0.8v0.8h-0.8zM297.3 255.2h0.8v0.8h-0.8zM290.3 252.6h0.8v0.8h-0.8zM296.2 259.6h0.8v0.8h-0.8zM297.2 257.9h0.8v0.8h-0.8zM295.1 261.2h0.8v0.8h-0.8zM293.6 253.6h0.8v0.8h-0.8zM299.2 256.1h0.8v0.8h-0.8zM294.1 253.5h0.8v0.8h-0.8zM294.2 258.3h0.8v0.8h-0.8zM296.9 251.0h0.8v0.8h-0.8zM297.2 256.5h0.8v0.8h-0.8zM290.9 258.9h0.8v0.8h-0.8zM294.1 254.5h0.8v0.8h-0.8zM298.8 261.1h0.8v0.8h-0.8zM292.3 257.6h0.8v0.8h-0.8zM293.1 260.6h0.8v0.8h-0.8zM292.5 259.0h0.8v0.8h-0.8zM305.1 245.6h0.8v0.8h-0.8zM293.4 257.8h0.8v0.8h-0.8zM294.9 253.1h0.8v0.8h-0.8zM304.8 256.1h0.8v0.8h-0.8zM288.1 259.2h0.8v0.8h-0.8zM287.7 260.4h0.8v0.8h-0.8zM292.8 256.4h0.8v0.8h-0.8zM300.8 256.3h0.8v0.8h-0.8zM289.2 249.0h0.8v0.8h-0.8zM300.5 258.8h0.8v0.8h-0.8zM291.7 259.2h0.8v0.8h-0.8zM297.5 258.4h0.8v0.8h-0.8zM299.3 258.7h0.8v0.8h-0.8zM299.2 246.0h0.8v0.8h-0.8zM296.0 257.8h0.8v0.8h-0.8zM306.5 252.0h0.8v0.8h-0.8zM293.9 255.9h0.8v0.8h-0.8zM299.2 254.0h0.8v0.8h-0.8zM300.3 252.6h0.8v0.8h-0.8zM296.5 253.7h0.8v0.8h-0.8zM296.0 253.0h0.8v0.8h-0.8zM288.3 260.2h0.8v0.8h-0.8zM296.6 253.6h0.8v0.8h-0.8zM296.2 259.8h0.8v0.8h-0.8zM291.0 255.4h0.8v0.8h-0.8zM297.7 257.9h0.8v0.8h-0.8zM293.8 247.4h0.8v0.8h-0.8zM300.8 257.1h0.8v0.8h-0.8zM295.4 254.7h0.8v0.8h-0.8zM296.5 254.1h0.8v0.8h-0.8zM290.8 252.8h0.8v0.8h-0.8zM292.7 253.4h0.8v0.8h-0.8zM290.2 258.3h0.8v0.8h-0.8zM289.5 258.4h0.8v0.8h-0.8zM290.8 257.2h0.8v0.8h-0.8zM301.3 256.6h0.8v0.8h-0.8zM292.1 256.0h0.8v0.8h-0.8zM296.0 248.9h0.8v0.8h-0.8zM292.6 256.5h0.8v0.8h-0.8zM293.2 256.1h0.8v0.8h-0.8zM298.5 258.9h0.8v0.8h-0.8zM299.3 258.2h0.8v0.8h-0.8zM294.0 255.7h0.8v0.8h-0.8zM294.1 254.5h0.8v0.8h-0.8zM294.5 248.9h0.8v0.8h-0.8zM293.8 255.7h0.8v0.8h-0.8zM291.0 255.7h0.8v0.8h-0.8z" fill="#000" fill-opacity="0.35"/>
<path d="M302.1 254.3h0.7v0.7h-0.7zM307.6 247.0h0.7v0.7h-0.7zM299.6 249.3h0.7v0.7h-0.7zM303.7 262.8h0.7v0.7h-0.7zM291.5 255.2h0.7v0.7h-0.7zM302.1 253.9h0.7v0.7h-0.7zM302.2 248.1h0.7v0.7h-0.7zM303.3 255.9h0.7v0.7h-0.7zM300.4 253.0h0.7v0.7h-0.7zM302.5 253.3h0.7v0.7h-0.7zM301.1 253.3h0.7v0.7h-0.7zM292.4 254.7h0.7v0.7h-0.7zM301.0 257.1h0.7v0.7h-0.7zM297.2 254.7h0.7v0.7h-0.7zM302.5 255.2h0.7v0.7h-0.7zM304.6 260.8h0.7v0.7h-0.7zM297.1 249.0h0.7v0.7h-0.7zM303.3 259.4h0.7v0.7h-0.7zM303.5 257.2h0.7v0.7h-0.7zM298.1 252.7h0.7v0.7h-0.7zM303.4 252.1h0.7v0.7h-0.7zM294.0 251.8h0.7v0.7h-0.7zM297.9 252.6h0.7v0.7h-0.7zM301.1 252.6h0.7v0.7h-0.7zM304.9 254.6h0.7v0.7h-0.7zM296.5 258.7h0.7v0.7h-0.7zM298.3 255.5h0.7v0.7h-0.7zM300.3 253.9h0.7v0.7h-0.7zM301.4 252.7h0.7v0.7h-0.7zM293.8 248.2h0.7v0.7h-0.7zM295.9 252.5h0.7v0.7h-0.7zM300.2 255.0h0.7v0.7h-0.7zM302.2 255.2h0.7v0.7h-0.7zM297.5 252.7h0.7v0.7h-0.7zM292.9 254.3h0.7v0.7h-0.7zM302.0 256.4h0.7v0.7h-0.7zM299.9 254.3h0.7v0.7h-0.7zM303.6 254.8h0.7v0.7h-0.7zM302.9 256.5h0.7v0.7h-0.7zM301.0 258.7h0.7v0.7h-0.7zM298.3 253.7h0.7v0.7h-0.7zM297.5 252.4h0.7v0.7h-0.7zM305.7 260.1h0.7v0.7h-0.7zM300.4 256.5h0.7v0.7h-0.7zM304.4 257.2h0.7v0.7h-0.7zM304.5 251.0h0.7v0.7h-0.7zM298.1 256.2h0.7v0.7h-0.7zM305.3 255.1h0.7v0.7h-0.7zM297.3 253.7h0.7v0.7h-0.7z" fill="#000" fill-opacity="0.25"/>
<ellipse cx="294.3" cy="255.8" rx="7.5" ry="7.9" fill="url(#g1)" fill-opacity="1.0"/>
<path d="M332.8 249.8h0.7v0.7h-0.7zM343.3 256.1h0.7v0.7h-0.7zM318.6 259.9h0.7v0.7h-0.7zM311.3 251.7h0.7v0.7h-0.7zM324.2 245.2h0.7v0.7h-0.7zM311.8 257.1h0.7v0.7h-0.7zM310.1 252.1h0.7v0.7h-0.7zM343.4 243.1h0.7v0.7h-0.7zM316.8 253.4h0.7v0.7h-0.7zM327.8 254.1h0.7v0.7h-0.7z" fill="#000" fill-opacity="0.15"/>
<line x1="285.09999999999997" y1="222.3" x2="287.7" y2="222.3" stroke="#777" stroke-width="0.7"/>
<line x1="283.5" y1="221.10000000000002" x2="283.5" y2="222.9" stroke="#aaa" stroke-width="0.5"/>
<line x1="287.7" y1="283.6" x2="287.7" y2="286.20000000000005" stroke="#777" stroke-width="0.7"/>
<line x1="286.9" y1="287.40000000000003" x2="288.5" y2="287.40000000000003" stroke="#aaa" stroke-width="0.5"/>
<line x1="285.09999999999997" y1="237.625" x2="287.7" y2="237.625" stroke="#777" stroke-width="0.7"/>
<line x1="283.5" y1="236.425" x2="283.5" y2="238.225" stroke="#aaa" stroke-width="0.5"/>
<line x1="303.15" y1="283.6" x2="303.15" y2="286.20000000000005" stroke="#777" stroke-width="0.7"/>
<line x1="302.34999999999997" y1="287.40000000000003" x2="303.95" y2="287.40000000000003" stroke="#aaa" stroke-width="0.5"/>
<line x1="285.09999999999997" y1="252.95000000000002" x2="287.7" y2="252.95000000000002" stroke="#777" stroke-width="0.7"/>
<line x1="283.5" y1="251.75000000000003" x2="283.5" y2="253.55" stroke="#aaa" stroke-width="0.5"/>
<line x1="318.6" y1="283.6" x2="318.6" y2="286.20000000000005" stroke="#777" stroke-width="0.7"/>
<line x1="317.8" y1="287.40000000000003" x2="319.40000000000003" y2="287.40000000000003" stroke="#aaa" stroke-width="0.5"/>
<line x1="285.09999999999997" y1="268.27500000000003" x2="287.7" y2="268.27500000000003" stroke="#777" stroke-width="0.7"/>
<line x1="283.5" y1="267.07500000000005" x2="283.5" y2="268.87500000000006" stroke="#aaa" stroke-width="0.5"/>
<line x1="334.05" y1="283.6" x2="334.05" y2="286.20000000000005" stroke="#777" stroke-width="0.7"/>
<line x1="333.25" y1="287.40000000000003" x2="334.85" y2="287.40000000000003" stroke="#aaa" stroke-width="0.5"/>
<line x1="285.09999999999997" y1="283.6" x2="287.7" y2="283.6" stroke="#777" stroke-width="0.7"/>
<line x1="283.5" y1="282.40000000000003" x2="283.5" y2="284.20000000000005" stroke="#aaa" stroke-width="0.5"/>
<line x1="349.5" y1="283.6" x2="349.5" y2="286.20000000000005" stroke="#777" stroke-width="0.7"/>
<line x1="348.7" y1="287.40000000000003" x2="350.3" y2="287.40000000000003" stroke="#aaa" stroke-width="0.5"/>
<line x1="287.7" y1="222.3" x2="287.7" y2="283.6" stroke="#333" stroke-width="0.9"/>
<line x1="287.7" y1="283.6" x2="349.5" y2="283.6" stroke="#333" stroke-width="0.9"/>
<line x1="308.2" y1="222.3" x2="308.2" y2="283.6" stroke="#222" stroke-width="1.1"/>
<line x1="287.7" y1="263.4" x2="350.5" y2="263.4" stroke="#222" stroke-width="1.1"/>
<path d="M371.5 270.1h0.7v0.7h-0.7zM369.9 275.8h0.7v0.7h-0.7zM376.8 275.1h0.7v0.7h-0.7zM371.8 266.0h0.7v0.7h-0.7zM376.6 272.8h0.7v0.7h-0.7zM370.7 267.8h0.7v0.7h-0.7zM370.6 267.9h0.7v0.7h-0.7zM371.0 274.5h0.7v0.7h-0.7zM370.9 273.7h0.7v0.7h-0.7zM368.2 278.5h0.7v0.7h-0.7zM368.8 264.9h0.7v0.7h-0.7zM370.2 269.3h0.7v0.7h-0.7zM367.8 271.0h0.7v0.7h-0.7zM371.7 267.5h0.7v0.7h-0.7zM370.4 278.5h0.7v0.7h-0.7zM372.8 271.9h0.7v0.7h-0.7zM371.2 272.0h0.7v0.7h-0.7zM370.7 275.6h0.7v0.7h-0.7zM370.7 268.8h0.7v0.7h-0.7zM372.8 269.9h0.7v0.7h-0.7zM371.2 281.6h0.7v0.7h-0.7zM367.7 267.8h0.7v0.7h-0.7zM365.2 274.0h0.7v0.7h-0.7zM368.9 264.7h0.7v0.7h-0.7zM366.4 275.1h0.7v0.7h-0.7zM368.5 271.0h0.7v0.7h-0.7zM371.8 278.2h0.7v0.7h-0.7zM376.6 276.8h0.7v0.7h-0.7zM371.2 273.3h0.7v0.7h-0.7zM376.2 278.5h0.7v0.7h-0.7zM369.9 274.4h0.7v0.7h-0.7zM371.7 272.7h0.7v0.7h-0.7zM369.3 266.9h0.7v0.7h-0.7zM369.2 266.0h0.7v0.7h-0.7zM374.5 274.8h0.7v0.7h-0.7zM367.2 278.4h0.7v0.7h-0.7zM373.5 264.5h0.7v0.7h-0.7zM376.3 275.9h0.7v0.7h-0.7zM377.0 267.3h0.7v0.7h-0.7zM372.4 274.3h0.7v0.7h-0.7zM371.4 273.2h0.7v0.7h-0.7zM374.0 266.2h0.7v0.7h-0.7zM367.1 266.6h0.7v0.7h-0.7zM369.1 270.0h0.7v0.7h-0.7zM371.9 273.6h0.7v0.7h-0.7zM370.9 269.7h0.7v0.7h-0.7zM369.5 276.5h0.7v0.7h-0.7zM373.1 272.9h0.7v0.7h-0.7zM369.8 279.0h0.7v0.7h-0.7zM369.0 275.2h0.7v0.7h-0.7zM374.3 271.4h0.7v0.7h-0.7zM373.3 267.8h0.7v0.7h-0.7zM373.8 273.3h0.7v0.7h-0.7zM366.0 275.3h0.7v0.7h-0.7zM368.1 277.9h0.7v0.7h-0.7zM368.8 271.8h0.7v0.7h-0.7zM371.6 271.1h0.7v0.7h-0.7zM371.6 270.2h0.7v0.7h-0.7zM372.8 272.5h0.7v0.7h-0.7zM374.3 272.6h0.7v0.7h-0.7zM365.5 272.9h0.7v0.7h-0.7zM372.2 277.0h0.7v0.7h-0.7zM367.6 279.0h0.7v0.7h-0.7zM370.3 282.6h0.7v0.7h-0.7zM370.4 275.4h0.7v0.7h-0.7zM369.7 267.8h0.7v0.7h-0.7zM374.1 276.3h0.7v0.7h-0.7zM375.4 276.1h0.7v0.7h-0.7zM369.1 265.5h0.7v0.7h-0.7zM368.8 269.7h0.7v0.7h-0.7zM368.4 274.9h0.7v0.7h-0.7zM371.8 271.4h0.7v0.7h-0.7zM371.3 271.9h0.7v0.7h-0.7zM371.4 275.7h0.7v0.7h-0.7zM373.7 269.6h0.7v0.7h-0.7zM366.3 278.5h0.7v0.7h-0.7zM371.1 277.1h0.7v0.7h-0.7zM365.9 271.1h0.7v0.7h-0.7zM370.9 266.4h0.7v0.7h-0.7zM369.3 275.5h0.7v0.7h-0.7zM374.0 279.2h0.7v0.7h-0.7zM368.2 266.6h0.7v0.7h-0.7zM372.4 276.4h0.7v0.7h-0.7zM371.4 267.0h0.7v0.7h-0.7zM373.1 275.8h0.7v0.7h-0.7zM372.5 270.5h0.7v0.7h-0.7zM371.7 275.8h0.7v0.7h-0.7zM369.1 264.8h0.7v0.7h-0.7zM371.8 274.5h0.7v0.7h-0.7zM370.8 276.2h0.7v0.7h-0.7zM369.0 272.2h0.7v0.7h-0.7zM369.9 274.9h0.7v0.7h-0.7zM375.6 271.4h0.7v0.7h-0.7zM377.0 278.9h0.7v0.7h-0.7zM373.2 275.0h0.7v0.7h-0.7zM376.1 271.7h0.7v0.7h-0.7zM370.5 268.0h0.7v0.7h-0.7zM372.2 278.1h0.7v0.7h-0.7zM372.4 274.3h0.7v0.7h-0.7zM370.2 273.2h0.7v0.7h-0.7zM366.5 276.9h0.7v0.7h-0.7zM369.6 267.9h0.7v0.7h-0.7zM368.5 269.0h0.7v0.7h-0.7zM373.4 276.9h0.7v0.7h-0.7zM366.7 276.4h0.7v0.7h-0.7zM373.5 270.1h0.7v0.7h-0.7zM366.3 269.4h0.7v0.7h-0.7zM368.9 273.9h0.7v0.7h-0.7zM371.5 266.1h0.7v0.7h-0.7zM373.5 267.4h0.7v0.7h-0.7zM368.7 268.9h0.7v0.7h-0.7zM369.2 278.0h0.7v0.7h-0.7zM373.4 275.0h0.7v0.7h-0.7zM371.8 266.0h0.7v0.7h-0.7zM369.2 270.2h0.7v0.7h-0.7zM367.9 274.6h0.7v0.7h-0.7zM368.6 269.5h0.7v0.7h-0.7zM372.6 278.1h0.7v0.7h-0.7zM371.3 268.4h0.7v0.7h-0.7zM374.4 273.7h0.7v0.7h-0.7zM373.6 278.7h0.7v0.7h-0.7zM374.2 270.6h0.7v0.7h-0.7zM374.0 275.8h0.7v0.7h-0.7zM366.2 270.8h0.7v0.7h-0.7zM366.5 272.0h0.7v0.7h-0.7zM372.5 268.0h0.7v0.7h-0.7zM364.6 278.0h0.7v0.7h-0.7zM371.9 278.7h0.7v0.7h-0.7zM366.8 277.0h0.7v0.7h-0.7zM377.0 280.9h0.7v0.7h-0.7zM370.2 273.6h0.7v0.7h-0.7zM370.3 276.7h0.7v0.7h-0.7zM373.9 272.9h0.7v0.7h-0.7zM366.7 275.6h0.7v0.7h-0.7zM369.4 275.1h0.7v0.7h-0.7zM371.6 279.3h0.7v0.7h-0.7zM374.2 270.6h0.7v0.7h-0.7zM371.8 279.9h0.7v0.7h-0.7zM369.2 274.3h0.7v0.7h-0.7zM374.4 277.8h0.7v0.7h-0.7zM372.4 267.0h0.7v0.7h-0.7zM367.0 273.5h0.7v0.7h-0.7zM372.0 283.2h0.7v0.7h-0.7zM368.2 277.3h0.7v0.7h-0.7zM373.1 265.5h0.7v0.7h-0.7zM368.3 273.2h0.7v0.7h-0.7zM369.3 271.9h0.7v0.7h-0.7zM372.2 269.1h0.7v0.7h-0.7zM372.2 269.8h0.7v0.7h-0.7zM369.2 274.8h0.7v0.7h-0.7zM369.1 273.7h0.7v0.7h-0.7zM375.6 272.6h0.7v0.7h-0.7zM370.4 275.6h0.7v0.7h-0.7zM369.7 277.0h0.7v0.7h-0.7zM367.0 275.1h0.7v0.7h-0.7zM369.3 269.1h0.7v0.7h-0.7zM376.1 268.9h0.7v0.7h-0.7zM376.1 275.3h0.7v0.7h-0.7zM375.2 268.4h0.7v0.7h-0.7zM374.4 278.6h0.7v0.7h-0.7zM370.5 272.0h0.7v0.7h-0.7zM378.2 273.2h0.7v0.7h-0.7zM369.5 269.9h0.7v0.7h-0.7zM372.1 273.9h0.7v0.7h-0.7zM371.3 279.7h0.7v0.7h-0.7zM369.8 274.5h0.7v0.7h-0.7zM375.2 268.3h0.7v0.7h-0.7zM373.9 280.2h0.7v0.7h-0.7zM366.7 267.9h0.7v0.7h-0.7zM367.7 264.7h0.7v0.7h-0.7zM372.2 264.7h0.7v0.7h-0.7zM372.3 278.6h0.7v0.7h-0.7zM366.0 271.2h0.7v0.7h-0.7zM365.0 275.8h0.7v0.7h-0.7zM368.6 271.4h0.7v0.7h-0.7zM371.0 274.8h0.7v0.7h-0.7zM369.8 272.6h0.7v0.7h-0.7zM369.2 273.0h0.7v0.7h-0.7zM367.3 272.8h0.7v0.7h-0.7zM365.0 270.4h0.7v0.7h-0.7zM376.5 272.8h0.7v0.7h-0.7zM367.0 273.6h0.7v0.7h-0.7zM367.9 265.6h0.7v0.7h-0.7zM368.6 275.6h0.7v0.7h-0.7zM372.0 272.1h0.7v0.7h-0.7zM368.0 268.0h0.7v0.7h-0.7zM374.8 273.5h0.7v0.7h-0.7zM366.7 282.9h0.7v0.7h-0.7zM367.4 272.2h0.7v0.7h-0.7zM371.4 271.8h0.7v0.7h-0.7zM370.0 266.7h0.7v0.7h-0.7zM367.6 279.6h0.7v0.7h-0.7zM368.5 276.1h0.7v0.7h-0.7zM365.7 271.3h0.7v0.7h-0.7zM371.6 276.9h0.7v0.7h-0.7zM367.4 275.0h0.7v0.7h-0.7zM372.0 269.4h0.7v0.7h-0.7zM372.2 268.7h0.7v0.7h-0.7zM368.4 272.4h0.7v0.7h-0.7zM367.8 266.4h0.7v0.7h-0.7zM369.5 275.7h0.7v0.7h-0.7zM369.6 277.8h0.7v0.7h-0.7zM367.3 267.0h0.7v0.7h-0.7zM375.5 274.2h0.7v0.7h-0.7zM373.6 269.0h0.7v0.7h-0.7zM373.2 273.6h0.7v0.7h-0.7zM372.7 272.6h0.7v0.7h-0.7zM374.4 269.8h0.7v0.7h-0.7zM367.9 266.3h0.7v0.7h-0.7zM374.3 269.4h0.7v0.7h-0.7zM367.7 268.6h0.7v0.7h-0.7zM369.5 267.2h0.7v0.7h-0.7zM369.9 269.9h0.7v0.7h-0.7zM369.1 268.5h0.7v0.7h-0.7zM370.9 270.6h0.7v0.7h-0.7zM371.1 273.5h0.7v0.7h-0.7zM369.2 269.2h0.7v0.7h-0.7zM373.1 265.9h0.7v0.7h-0.7zM368.7 271.3h0.7v0.7h-0.7zM369.8 276.7h0.7v0.7h-0.7zM369.5 276.6h0.7v0.7h-0.7zM366.4 264.9h0.7v0.7h-0.7zM374.5 274.3h0.7v0.7h-0.7zM372.3 273.0h0.7v0.7h-0.7zM372.3 267.4h0.7v0.7h-0.7zM373.6 270.3h0.7v0.7h-0.7zM373.8 272.9h0.7v0.7h-0.7zM364.9 267.1h0.7v0.7h-0.7zM374.2 271.9h0.7v0.7h-0.7zM369.6 273.5h0.7v0.7h-0.7zM369.5 270.2h0.7v0.7h-0.7z" fill="#000" fill-opacity="0.35"/>
<path d="M372.3 254.8h0.8v0.8h-0.8zM378.5 254.4h0.8v0.8h-0.8zM380.1 261.4h0.8v0.8h-0.8zM379.4 258.4h0.8v0.8h-0.8zM372.4 254.7h0.8v0.8h-0.8zM371.2 251.3h0.8v0.8h-0.8zM371.5 251.6h0.8v0.8h-0.8zM379.0 256.3h0.8v0.8h-0.8zM369.8 246.5h0.8v0.8h-0.8zM371.6 252.5h0.8v0.8h-0.8zM367.0 249.7h0.8v0.8h-0.8zM371.7 253.6h0.8v0.8h-0.8zM378.2 254.7h0.8v0.8h-0.8zM372.5 252.7h0.8v0.8h-0.8zM369.1 260.2h0.8v0.8h-0.8zM376.2 261.1h0.8v0.8h-0.8zM370.3 254.3h0.8v0.8h-0.8zM367.9 258.1h0.8v0.8h-0.8zM365.7 256.5h0.8v0.8h-0.8zM376.6 259.8h0.8v0.8h-0.8zM367.7 258.6h0.8v0.8h-0.8zM368.7 251.2h0.8v0.8h-0.8zM366.0 258.8h0.8v0.8h-0.8zM379.1 251.8h0.8v0.8h-0.8zM368.5 252.8h0.8v0.8h-0.8zM382.8 258.2h0.8v0.8h-0.8zM369.4 247.0h0.8v0.8h-0.8zM368.8 258.9h0.8v0.8h-0.8zM380.0 253.1h0.8v0.8h-0.8zM368.8 252.2h0.8v0.8h-0.8zM367.0 258.5h0.8v0.8h-0.8zM373.1 251.1h0.8v0.8h-0.8zM375.2 254.2h0.8v0.8h-0.8zM366.6 256.7h0.8v0.8h-0.8zM375.5 246.5h0.8v0.8h-0.8zM379.8 256.2h0.8v0.8h-0.8zM375.1 246.8h0.8v0.8h-0.8zM368.6 252.8h0.8v0.8h-0.8zM376.5 248.4h0.8v0.8h-0.8zM367.9 246.1h0.8v0.8h-0.8zM370.7 255.6h0.8v0.8h-0.8zM374.0 260.5h0.8v0.8h-0.8zM374.7 253.0h0.8v0.8h-0.8zM366.6 250.5h0.8v0.8h-0.8zM368.9 254.8h0.8v0.8h-0.8zM371.6 260.9h0.8v0.8h-0.8zM373.1 249.9h0.8v0.8h-0.8zM378.6 258.0h0.8v0.8h-0.8zM372.2 251.3h0.8v0.8h-0.8zM375.8 251.0h0.8v0.8h-0.8zM366.0 255.0h0.8v0.8h-0.8zM372.9 256.6h0.8v0.8h-0.8zM374.7 259.8h0.8v0.8h-0.8zM368.1 258.1h0.8v0.8h-0.8zM367.5 257.0h0.8v0.8h-0.8zM372.6 255.2h0.8v0.8h-0.8zM376.1 254.1h0.8v0.8h-0.8zM376.7 257.7h0.8v0.8h-0.8zM372.4 251.9h0.8v0.8h-0.8zM368.5 252.1h0.8v0.8h-0.8zM370.9 254.1h0.8v0.8h-0.8zM375.2 250.8h0.8v0.8h-0.8zM368.7 252.9h0.8v0.8h-0.8zM372.6 250.1h0.8v0.8h-0.8zM378.9 251.9h0.8v0.8h-0.8zM376.5 244.9h0.8v0.8h-0.8zM371.8 255.3h0.8v0.8h-0.8zM372.6 256.6h0.8v0.8h-0.8zM373.0 254.8h0.8v0.8h-0.8zM373.2 253.4h0.8v0.8h-0.8zM368.2 251.9h0.8v0.8h-0.8zM379.9 261.1h0.8v0.8h-0.8zM371.5 259.4h0.8v0.8h-0.8zM364.8 246.5h0.8v0.8h-0.8zM369.7 250.7h0.8v0.8h-0.8zM369.3 255.0h0.8v0.8h-0.8zM372.0 255.3h0.8v0.8h-0.8zM371.6 257.9h0.8v0.8h-0.8zM379.6 249.2h0.8v0.8h-0.8zM372.5 253.1h0.8v0.8h-0.8zM373.4 248.1h0.8v0.8h-0.8zM374.1 255.0h0.8v0.8h-0.8zM372.1 244.7h0.8v0.8h-0.8zM370.2 251.2h0.8v0.8h-0.8zM365.6 250.5h0.8v0.8h-0.8zM374.9 256.4h0.8v0.8h-0.8zM371.7 256.3h0.8v0.8h-0.8zM369.1 254.5h0.8v0.8h-0.8zM372.0 256.4h0.8v0.8h-0.8zM371.5 253.6h0.8v0.8h-0.8zM371.2 251.6h0.8v0.8h-0.8zM381.6 256.3h0.8v0.8h-0.8zM373.7 263.4h0.8v0.8h-0.8zM378.0 248.0h0.8v0.8h-0.8zM374.9 257.6h0.8v0.8h-0.8zM380.1 259.5h0.8v0.8h-0.8zM375.2 249.5h0.8v0.8h-0.8zM368.0 255.3h0.8v0.8h-0.8zM374.0 250.1h0.8v0.8h-0.8zM370.1 252.6h0.8v0.8h-0.8zM372.1 255.5h0.8v0.8h-0.8zM370.5 249.3h0.8v0.8h-0.8zM377.3 260.6h0.8v0.8h-0.8zM371.3 258.3h0.8v0.8h-0.8zM373.8 256.8h0.8v0.8h-0.8zM373.9 251.1h0.8v0.8h-0.8zM374.3 258.2h0.8v0.8h-0.8zM367.9 262.1h0.8v0.8h-0.8zM381.0 261.5h0.8v0.8h-0.8zM380.6 257.2h0.8v0.8h-0.8zM370.3 251.8h0.8v0.8h-0.8zM368.2 254.7h0.8v0.8h-0.8zM371.7 256.9h0.8v0.8h-0.8zM381.8 254.1h0.8v0.8h-0.8zM374.8 256.1h0.8v0.8h-0.8zM373.0 253.4h0.8v0.8h-0.8zM371.3 250.9h0.8v0.8h-0.8zM372.6 254.1h0.8v0.8h-0.8zM373.2 250.8h0.8v0.8h-0.8zM372.0 254.4h0.8v0.8h-0.8zM374.5 249.9h0.8v0.8h-0.8zM373.6 258.1h0.8v0.8h-0.8zM374.4 252.7h0.8v0.8h-0.8zM369.6 253.3h0.8v0.8h-0.8zM375.0 260.4h0.8v0.8h-0.8zM371.1 251.6h0.8v0.8h-0.8zM373.5 255.0h0.8v0.8h-0.8zM367.8 251.3h0.8v0.8h-0.8zM371.4 256.9h0.8v0.8h-0.8zM366.6 250.1h0.8v0.8h-0.8zM374.0 249.3h0.8v0.8h-0.8zM372.3 255.6h0.8v0.8h-0.8zM371.3 250.1h0.8v0.8h-0.8zM371.5 252.9h0.8v0.8h-0.8zM373.3 250.8h0.8v0.8h-0.8zM376.6 247.5h0.8v0.8h-0.8zM371.0 254.2h0.8v0.8h-0.8zM376.0 251.8h0.8v0.8h-0.8zM374.2 251.9h0.8v0.8h-0.8zM375.0 261.1h0.8v0.8h-0.8zM370.0 256.0h0.8v0.8h-0.8zM367.7 258.1h0.8v0.8h-0.8zM377.1 254.3h0.8v0.8h-0.8zM366.8 255.8h0.8v0.8h-0.8zM376.9 258.6h0.8v0.8h-0.8zM375.4 246.9h0.8v0.8h-0.8zM368.8 259.9h0.8v0.8h-0.8zM366.4 258.7h0.8v0.8h-0.8zM380.1 257.2h0.8v0.8h-0.8zM376.7 252.9h0.8v0.8h-0.8zM366.4 253.8h0.8v0.8h-0.8zM370.9 254.0h0.8v0.8h-0.8zM374.9 253.6h0.8v0.8h-0.8zM372.6 255.9h0.8v0.8h-0.8zM371.8 261.6h0.8v0.8h-0.8zM373.7 254.5h0.8v0.8h-0.8zM370.9 251.7h0.8v0.8h-0.8zM377.7 254.8h0.8v0.8h-0.8zM367.1 252.0h0.8v0.8h-0.8zM371.2 252.4h0.8v0.8h-0.8zM376.6 249.6h0.8v0.8h-0.8zM374.0 254.8h0.8v0.8h-0.8zM366.6 254.4h0.8v0.8h-0.8zM371.4 256.2h0.8v0.8h-0.8zM369.8 255.4h0.8v0.8h-0.8zM364.5 249.9h0.8v0.8h-0.8zM375.3 258.4h0.8v0.8h-0.8zM371.7 251.8h0.8v0.8h-0.8zM376.6 245.8h0.8v0.8h-0.8zM368.3 256.9h0.8v0.8h-0.8zM374.7 250.1h0.8v0.8h-0.8zM372.5 250.6h0.8v0.8h-0.8zM372.0 257.8h0.8v0.8h-0.8zM375.1 245.9h0.8v0.8h-0.8zM375.2 247.1h0.8v0.8h-0.8zM376.8 255.8h0.8v0.8h-0.8zM381.7 251.8h0.8v0.8h-0.8zM371.8 258.4h0.8v0.8h-0.8zM369.0 251.4h0.8v0.8h-0.8zM370.2 253.9h0.8v0.8h-0.8zM367.0 256.1h0.8v0.8h-0.8zM374.2 254.5h0.8v0.8h-0.8zM379.3 252.9h0.8v0.8h-0.8zM377.5 252.0h0.8v0.8h-0.8zM375.1 246.5h0.8v0.8h-0.8zM372.7 253.5h0.8v0.8h-0.8zM369.6 251.8h0.8v0.8h-0.8zM370.3 251.3h0.8v0.8h-0.8zM369.4 252.1h0.8v0.8h-0.8zM367.1 253.7h0.8v0.8h-0.8zM375.3 253.2h0.8v0.8h-0.8zM369.6 259.6h0.8v0.8h-0.8zM376.1 257.9h0.8v0.8h-0.8zM376.9 252.9h0.8v0.8h-0.8zM371.2 258.7h0.8v0.8h-0.8zM369.4 253.7h0.8v0.8h-0.8zM373.5 255.7h0.8v0.8h-0.8zM370.6 258.1h0.8v0.8h-0.8zM371.0 257.1h0.8v0.8h-0.8zM376.5 256.8h0.8v0.8h-0.8zM375.0 249.6h0.8v0.8h-0.8zM366.0 251.7h0.8v0.8h-0.8zM373.9 260.2h0.8v0.8h-0.8zM366.4 255.4h0.8v0.8h-0.8zM368.0 251.3h0.8v0.8h-0.8zM370.6 257.0h0.8v0.8h-0.8zM372.7 258.9h0.8v0.8h-0.8zM367.5 257.8h0.8v0.8h-0.8zM375.9 254.5h0.8v0.8h-0.8zM373.9 251.9h0.8v0.8h-0.8zM367.0 252.6h0.8v0.8h-0.8zM369.7 260.8h0.8v0.8h-0.8zM372.7 255.4h0.8v0.8h-0.8zM375.1 251.1h0.8v0.8h-0.8zM375.8 255.7h0.8v0.8h-0.8zM365.1 256.6h0.8v0.8h-0.8zM374.2 256.0h0.8v0.8h-0.8zM378.8 252.5h0.8v0.8h-0.8zM374.1 257.2h0.8v0.8h-0.8zM367.8 259.0h0.8v0.8h-0.8zM365.4 249.0h0.8v0.8h-0.8zM374.1 249.8h0.8v0.8h-0.8zM371.3 247.6h0.8v0.8h-0.8zM372.1 249.7h0.8v0.8h-0.8zM373.3 248.1h0.8v0.8h-0.8zM373.8 253.1h0.8v0.8h-0.8zM372.1 253.9h0.8v0.8h-0.8zM372.4 248.9h0.8v0.8h-0.8zM367.7 252.4h0.8v0.8h-0.8zM373.7 246.3h0.8v0.8h-0.8zM368.4 251.8h0.8v0.8h-0.8zM367.1 255.5h0.8v0.8h-0.8zM371.2 250.9h0.8v0.8h-0.8zM367.5 257.4h0.8v0.8h-0.8zM368.9 256.5h0.8v0.8h-0.8zM373.8 246.6h0.8v0.8h-0.8zM367.0 254.2h0.8v0.8h-0.8zM373.3 257.3h0.8v0.8h-0.8zM375.3 258.3h0.8v0.8h-0.8zM370.2 253.4h0.8v0.8h-0.8zM375.2 252.5h0.8v0.8h-0.8zM376.4 247.8h0.8v0.8h-0.8zM374.7 253.5h0.8v0.8h-0.8z" fill="#000" fill-opacity="0.35"/>
<path d="M369.9 256.1h0.7v0.7h-0.7zM377.9 253.3h0.7v0.7h-0.7zM373.0 251.8h0.7v0.7h-0.7zM382.1 250.7h0.7v0.7h-0.7zM364.6 250.6h0.7v0.7h-0.7zM372.6 252.8h0.7v0.7h-0.7zM375.4 250.5h0.7v0.7h-0.7zM373.9 256.3h0.7v0.7h-0.7zM371.8 259.1h0.7v0.7h-0.7zM374.9 249.9h0.7v0.7h-0.7zM379.6 254.9h0.7v0.7h-0.7zM373.2 255.4h0.7v0.7h-0.7zM370.4 250.4h0.7v0.7h-0.7zM380.7 252.4h0.7v0.7h-0.7zM372.2 254.7h0.7v0.7h-0.7zM380.0 253.1h0.7v0.7h-0.7zM370.5 252.2h0.7v0.7h-0.7zM378.3 255.5h0.7v0.7h-0.7zM383.3 252.4h0.7v0.7h-0.7zM375.1 253.1h0.7v0.7h-0.7zM381.0 250.4h0.7v0.7h-0.7zM381.4 245.0h0.7v0.7h-0.7zM379.6 251.2h0.7v0.7h-0.7zM378.4 255.3h0.7v0.7h-0.7zM372.7 252.9h0.7v0.7h-0.7zM377.6 255.0h0.7v0.7h-0.7zM373.5 250.2h0.7v0.7h-0.7zM370.1 260.8h0.7v0.7h-0.7zM376.1 252.5h0.7v0.7h-0.7zM371.6 256.0h0.7v0.7h-0.7zM374.9 257.5h0.7v0.7h-0.7zM379.8 253.3h0.7v0.7h-0.7zM379.3 249.9h0.7v0.7h-0.7zM375.7 251.5h0.7v0.7h-0.7zM372.4 253.3h0.7v0.7h-0.7zM376.3 257.5h0.7v0.7h-0.7zM365.1 251.2h0.7v0.7h-0.7zM373.6 251.8h0.7v0.7h-0.7zM378.3 254.4h0.7v0.7h-0.7zM376.9 251.8h0.7v0.7h-0.7zM378.5 254.3h0.7v0.7h-0.7zM370.4 252.4h0.7v0.7h-0.7zM372.0 249.7h0.7v0.7h-0.7zM377.3 253.4h0.7v0.7h-0.7zM377.2 250.6h0.7v0.7h-0.7zM376.1 250.5h0.7v0.7h-0.7zM378.1 255.3h0.7v0.7h-0.7zM382.9 257.0h0.7v0.7h-0.7zM374.0 251.8h0.7v0.7h-0.7zM373.5 254.1h0.7v0.7h-0.7z" fill="#000" fill-opacity="0.25"/>
<ellipse cx="370.79999999999995" cy="254.2" rx="7.5" ry="7.9" fill="url(#g1)" fill-opacity="1.0"/>
<path d="M401.4 275.6h0.7v0.7h-0.7zM387.6 269.7h0.7v0.7h-0.7zM390.6 275.0h0.7v0.7h-0.7zM394.9 274.4h0.7v0.7h-0.7zM400.8 271.0h0.7v0.7h-0.7zM392.1 279.4h0.7v0.7h-0.7zM396.0 271.2h0.7v0.7h-0.7zM388.2 268.9h0.7v0.7h-0.7zM386.8 273.7h0.7v0.7h-0.7zM395.0 276.5h0.7v0.7h-0.7zM394.4 271.4h0.7v0.7h-0.7zM392.5 279.2h0.7v0.7h-0.7zM389.1 274.0h0.7v0.7h-0.7zM395.0 275.4h0.7v0.7h-0.7zM393.6 275.0h0.7v0.7h-0.7zM397.6 273.1h0.7v0.7h-0.7zM393.4 272.9h0.7v0.7h-0.7zM391.7 272.9h0.7v0.7h-0.7zM393.9 274.1h0.7v0.7h-0.7zM399.3 277.4h0.7v0.7h-0.7zM393.4 275.3h0.7v0.7h-0.7zM395.9 275.8h0.7v0.7h-0.7zM395.0 274.3h0.7v0.7h-0.7zM393.4 271.1h0.7v0.7h-0.7zM397.8 277.4h0.7v0.7h-0.7zM397.1 274.8h0.7v0.7h-0.7zM395.8 272.1h0.7v0.7h-0.7zM389.0 275.5h0.7v0.7h-0.7zM395.6 271.8h0.7v0.7h-0.7zM391.7 277.3h0.7v0.7h-0.7zM388.9 278.8h0.7v0.7h-0.7zM397.0 280.6h0.7v0.7h-0.7zM392.5 273.4h0.7v0.7h-0.7zM393.2 274.0h0.7v0.7h-0.7zM394.2 271.3h0.7v0.7h-0.7zM398.4 271.1h0.7v0.7h-0.7zM393.2 275.2h0.7v0.7h-0.7zM393.1 272.2h0.7v0.7h-0.7zM396.1 272.4h0.7v0.7h-0.7zM390.8 273.2h0.7v0.7h-0.7zM394.2 278.6h0.7v0.7h-0.7zM391.3 276.4h0.7v0.7h-0.7zM392.3 272.4h0.7v0.7h-0.7zM393.8 274.3h0.7v0.7h-0.7zM397.7 278.7h0.7v0.7h-0.7zM392.8 277.5h0.7v0.7h-0.7zM398.2 275.9h0.7v0.7h-0.7zM392.4 276.2h0.7v0.7h-0.7zM394.5 274.6h0.7v0.7h-0.7zM394.0 275.5h0.7v0.7h-0.7zM398.6 276.9h0.7v0.7h-0.7zM394.2 276.5h0.7v0.7h-0.7zM399.7 270.7h0.7v0.7h-0.7zM399.8 269.5h0.7v0.7h-0.7zM396.7 275.3h0.7v0.7h-0.7zM399.8 274.3h0.7v0.7h-0.7zM393.3 271.1h0.7v0.7h-0.7zM390.8 275.8h0.7v0.7h-0.7zM394.1 271.3h0.7v0.7h-0.7zM396.7 271.2h0.7v0.7h-0.7zM393.5 272.1h0.7v0.7h-0.7zM400.4 277.9h0.7v0.7h-0.7zM394.4 268.8h0.7v0.7h-0.7zM395.8 273.7h0.7v0.7h-0.7zM396.1 275.2h0.7v0.7h-0.7zM393.8 276.3h0.7v0.7h-0.7zM397.7 274.1h0.7v0.7h-0.7zM393.6 272.1h0.7v0.7h-0.7zM397.2 270.2h0.7v0.7h-0.7zM394.4 271.3h0.7v0.7h-0.7zM390.3 275.3h0.7v0.7h-0.7zM394.8 273.6h0.7v0.7h-0.7zM397.8 269.0h0.7v0.7h-0.7zM394.7 274.4h0.7v0.7h-0.7zM397.6 270.2h0.7v0.7h-0.7zM397.3 274.2h0.7v0.7h-0.7zM399.4 276.9h0.7v0.7h-0.7zM396.7 279.9h0.7v0.7h-0.7zM394.9 272.2h0.7v0.7h-0.7zM393.8 270.7h0.7v0.7h-0.7zM394.8 267.9h0.7v0.7h-0.7zM394.6 274.8h0.7v0.7h-0.7zM398.2 272.5h0.7v0.7h-0.7zM399.5 271.5h0.7v0.7h-0.7zM394.5 267.9h0.7v0.7h-0.7zM392.4 271.1h0.7v0.7h-0.7zM399.7 275.1h0.7v0.7h-0.7zM391.3 275.1h0.7v0.7h-0.7zM396.5 272.8h0.7v0.7h-0.7zM395.0 272.6h0.7v0.7h-0.7zM393.2 268.3h0.7v0.7h-0.7zM394.6 277.3h0.7v0.7h-0.7zM399.5 272.7h0.7v0.7h-0.7zM392.5 272.9h0.7v0.7h-0.7zM397.8 274.5h0.7v0.7h-0.7zM393.0 274.6h0.7v0.7h-0.7zM394.2 275.0h0.7v0.7h-0.7zM393.6 269.2h0.7v0.7h-0.7zM395.1 275.7h0.7v0.7h-0.7zM391.3 273.2h0.7v0.7h-0.7zM397.7 272.4h0.7v0.7h-0.7zM392.8 279.4h0.7v0.7h-0.7zM397.6 276.5h0.7v0.7h-0.7zM391.9 278.3h0.7v0.7h-0.7zM389.6 272.0h0.7v0.7h-0.7zM397.3 277.4h0.7v0.7h-0.7zM391.9 271.6h0.7v0.7h-0.7zM395.5 267.9h0.7v0.7h-0.7zM397.0 275.1h0.7v0.7h-0.7zM393.5 275.1h0.7v0.7h-0.7zM397.4 274.4h0.7v0.7h-0.7zM396.6 277.9h0.7v0.7h-0.7zM393.4 274.0h0.7v0.7h-0.7zM393.2 276.5h0.7v0.7h-0.7zM393.6 274.9h0.7v0.7h-0.7zM395.3 273.7h0.7v0.7h-0.7zM400.4 273.3h0.7v0.7h-0.7zM399.4 275.9h0.7v0.7h-0.7zM399.1 273.0h0.7v0.7h-0.7zM397.9 275.7h0.7v0.7h-0.7zM392.9 274.3h0.7v0.7h-0.7zM394.5 273.4h0.7v0.7h-0.7zM399.1 271.4h0.7v0.7h-0.7zM389.5 268.5h0.7v0.7h-0.7zM393.5 271.6h0.7v0.7h-0.7zM394.9 275.1h0.7v0.7h-0.7zM400.5 274.4h0.7v0.7h-0.7zM396.4 271.4h0.7v0.7h-0.7zM396.7 277.4h0.7v0.7h-0.7zM399.2 267.8h0.7v0.7h-0.7zM397.7 278.1h0.7v0.7h-0.7zM397.5 269.2h0.7v0.7h-0.7zM393.9 275.2h0.7v0.7h-0.7zM396.2 271.2h0.7v0.7h-0.7zM392.1 276.3h0.7v0.7h-0.7zM390.7 277.6h0.7v0.7h-0.7zM395.0 274.4h0.7v0.7h-0.7zM390.7 271.8h0.7v0.7h-0.7zM397.1 269.3h0.7v0.7h-0.7zM401.5 269.4h0.7v0.7h-0.7zM391.0 273.6h0.7v0.7h-0.7zM396.4 275.6h0.7v0.7h-0.7zM393.7 272.9h0.7v0.7h-0.7zM394.2 271.8h0.7v0.7h-0.7zM386.7 276.3h0.7v0.7h-0.7zM395.7 274.0h0.7v0.7h-0.7zM392.9 274.2h0.7v0.7h-0.7zM394.9 273.3h0.7v0.7h-0.7zM398.4 268.5h0.7v0.7h-0.7zM395.7 270.4h0.7v0.7h-0.7zM393.9 277.8h0.7v0.7h-0.7zM391.5 273.2h0.7v0.7h-0.7zM393.0 276.2h0.7v0.7h-0.7zM391.8 268.7h0.7v0.7h-0.7zM396.5 272.5h0.7v0.7h-0.7zM393.9 276.6h0.7v0.7h-0.7zM392.1 272.4h0.7v0.7h-0.7zM395.4 274.7h0.7v0.7h-0.7zM393.3 276.5h0.7v0.7h-0.7zM402.0 272.3h0.7v0.7h-0.7z" fill="#000" fill-opacity="0.28"/>
<path d="M417.4 261.4h0.7v0.7h-0.7zM420.8 253.6h0.7v0.7h-0.7zM415.4 241.3h0.7v0.7h-0.7zM410.6 253.4h0.7v0.7h-0.7zM397.0 252.6h0.7v0.7h-0.7zM420.5 250.6h0.7v0.7h-0.7zM409.6 246.6h0.7v0.7h-0.7zM398.7 259.5h0.7v0.7h-0.7zM387.4 244.2h0.7v0.7h-0.7zM410.7 249.8h0.7v0.7h-0.7z" fill="#000" fill-opacity="0.15"/>
<line x1="361.79999999999995" y1="222.3" x2="364.4" y2="222.3" stroke="#777" stroke-width="0.7"/>
<line x1="360.2" y1="221.10000000000002" x2="360.2" y2="222.9" stroke="#aaa" stroke-width="0.5"/>
<line x1="364.4" y1="283.6" x2="364.4" y2="286.20000000000005" stroke="#777" stroke-width="0.7"/>
<line x1="363.59999999999997" y1="287.40000000000003" x2="365.2" y2="287.40000000000003" stroke="#aaa" stroke-width="0.5"/>
<line x1="361.79999999999995" y1="237.625" x2="364.4" y2="237.625" stroke="#777" stroke-width="0.7"/>
<line x1="360.2" y1="236.425" x2="360.2" y2="238.225" stroke="#aaa" stroke-width="0.5"/>
<line x1="379.84999999999997" y1="283.6" x2="379.84999999999997" y2="286.20000000000005" stroke="#777" stroke-width="0.7"/>
<line x1="379.04999999999995" y1="287.40000000000003" x2="380.65" y2="287.40000000000003" stroke="#aaa" stroke-width="0.5"/>
<line x1="361.79999999999995" y1="252.95000000000002" x2="364.4" y2="252.95000000000002" stroke="#777" stroke-width="0.7"/>
<line x1="360.2" y1="251.75000000000003" x2="360.2" y2="253.55" stroke="#aaa" stroke-width="0.5"/>
<line x1="395.29999999999995" y1="283.6" x2="395.29999999999995" y2="286.20000000000005" stroke="#777" stroke-width="0.7"/>
<line x1="394.49999999999994" y1="287.40000000000003" x2="396.09999999999997" y2="287.40000000000003" stroke="#aaa" stroke-width="0.5"/>
<line x1="361.79999999999995" y1="268.27500000000003" x2="364.4" y2="268.27500000000003" stroke="#777" stroke-width="0.7"/>
<line x1="360.2" y1="267.07500000000005" x2="360.2" y2="268.87500000000006" stroke="#aaa" stroke-width="0.5"/>
<line x1="410.75" y1="283.6" x2="410.75" y2="286.20000000000005" stroke="#777" stroke-width="0.7"/>
<line x1="409.95" y1="287.40000000000003" x2="411.55" y2="287.40000000000003" stroke="#aaa" stroke-width="0.5"/>
<line x1="361.79999999999995" y1="283.6" x2="364.4" y2="283.6" stroke="#777" stroke-width="0.7"/>
<line x1="360.2" y1="282.40000000000003" x2="360.2" y2="284.20000000000005" stroke="#aaa" stroke-width="0.5"/>
<line x1="426.2" y1="283.6" x2="426.2" y2="286.20000000000005" stroke="#777" stroke-width="0.7"/>
<line x1="425.4" y1="287.40000000000003" x2="427.0" y2="287.40000000000003" stroke="#aaa" stroke-width="0.5"/>
<line x1="364.4" y1="222.3" x2="364.4" y2="283.6" stroke="#333" stroke-width="0.9"/>
<line x1="364.4" y1="283.6" x2="426.2" y2="283.6" stroke="#333" stroke-width="0.9"/>
<line x1="384.9" y1="222.3" x2="384.9" y2="283.6" stroke="#222" stroke-width="1.1"/>
<line x1="364.4" y1="263.4" x2="427.2" y2="263.4" stroke="#222" stroke-width="1.1"/>
<path d="M450.8 275.6h0.7v0.7h-0.7zM444.3 276.5h0.7v0.7h-0.7zM443.8 275.1h0.7v0.7h-0.7zM444.2 270.8h0.7v0.7h-0.7zM448.4 274.2h0.7v0.7h-0.7zM449.9 269.1h0.7v0.7h-0.7zM451.5 277.9h0.7v0.7h-0.7zM447.0 274.4h0.7v0.7h-0.7zM444.8 271.9h0.7v0.7h-0.7zM443.2 272.9h0.7v0.7h-0.7zM447.6 277.9h0.7v0.7h-0.7zM449.7 275.8h0.7v0.7h-0.7zM446.0 271.6h0.7v0.7h-0.7zM446.0 273.4h0.7v0.7h-0.7zM441.4 275.6h0.7v0.7h-0.7zM442.5 270.4h0.7v0.7h-0.7zM447.1 270.4h0.7v0.7h-0.7zM451.8 272.1h0.7v0.7h-0.7zM451.5 277.2h0.7v0.7h-0.7zM445.6 274.1h0.7v0.7h-0.7zM450.7 271.2h0.7v0.7h-0.7zM447.3 270.2h0.7v0.7h-0.7zM447.2 271.1h0.7v0.7h-0.7zM447.2 276.5h0.7v0.7h-0.7zM451.0 273.0h0.7v0.7h-0.7zM447.6 276.0h0.7v0.7h-0.7zM446.2 268.2h0.7v0.7h-0.7zM450.2 268.7h0.7v0.7h-0.7zM449.7 268.6h0.7v0.7h-0.7zM452.3 268.3h0.7v0.7h-0.7zM449.4 278.5h0.7v0.7h-0.7zM444.2 278.5h0.7v0.7h-0.7zM444.6 265.4h0.7v0.7h-0.7zM449.1 275.3h0.7v0.7h-0.7zM446.8 271.3h0.7v0.7h-0.7zM445.9 271.3h0.7v0.7h-0.7zM441.8 270.2h0.7v0.7h-0.7zM452.2 278.7h0.7v0.7h-0.7zM446.0 269.6h0.7v0.7h-0.7zM448.1 276.8h0.7v0.7h-0.7zM449.1 267.8h0.7v0.7h-0.7zM447.5 273.1h0.7v0.7h-0.7zM451.1 277.3h0.7v0.7h-0.7zM448.5 277.4h0.7v0.7h-0.7zM445.9 278.7h0.7v0.7h-0.7zM445.8 274.1h0.7v0.7h-0.7zM449.6 268.8h0.7v0.7h-0.7zM445.0 265.4h0.7v0.7h-0.7zM447.5 272.3h0.7v0.7h-0.7zM446.1 274.5h0.7v0.7h-0.7zM440.9 272.4h0.7v0.7h-0.7zM447.3 271.4h0.7v0.7h-0.7zM449.3 279.6h0.7v0.7h-0.7zM445.7 268.7h0.7v0.7h-0.7zM445.3 272.9h0.7v0.7h-0.7zM448.7 269.0h0.7v0.7h-0.7zM449.9 268.4h0.7v0.7h-0.7zM449.4 274.2h0.7v0.7h-0.7zM448.3 281.2h0.7v0.7h-0.7zM446.2 271.8h0.7v0.7h-0.7zM448.4 276.0h0.7v0.7h-0.7zM443.1 273.6h0.7v0.7h-0.7zM444.9 275.0h0.7v0.7h-0.7zM450.9 272.7h0.7v0.7h-0.7zM446.7 273.2h0.7v0.7h-0.7zM448.6 273.2h0.7v0.7h-0.7zM445.9 269.6h0.7v0.7h-0.7zM446.5 277.4h0.7v0.7h-0.7zM446.7 277.9h0.7v0.7h-0.7zM447.8 272.4h0.7v0.7h-0.7zM442.2 269.8h0.7v0.7h-0.7zM450.6 267.3h0.7v0.7h-0.7zM444.1 268.1h0.7v0.7h-0.7zM445.4 275.1h0.7v0.7h-0.7zM451.2 270.1h0.7v0.7h-0.7zM445.3 279.2h0.7v0.7h-0.7zM446.8 267.5h0.7v0.7h-0.7zM445.2 269.6h0.7v0.7h-0.7zM444.1 271.2h0.7v0.7h-0.7zM449.5 273.9h0.7v0.7h-0.7zM444.1 273.0h0.7v0.7h-0.7zM447.1 275.6h0.7v0.7h-0.7zM446.1 274.3h0.7v0.7h-0.7zM453.1 272.9h0.7v0.7h-0.7zM443.9 273.8h0.7v0.7h-0.7zM444.7 271.0h0.7v0.7h-0.7zM447.5 273.9h0.7v0.7h-0.7zM446.2 275.9h0.7v0.7h-0.7zM446.4 267.2h0.7v0.7h-0.7zM449.5 271.0h0.7v0.7h-0.7zM450.5 269.9h0.7v0.7h-0.7zM448.6 273.8h0.7v0.7h-0.7zM443.8 278.2h0.7v0.7h-0.7zM441.6 276.2h0.7v0.7h-0.7zM450.1 274.5h0.7v0.7h-0.7zM448.9 270.5h0.7v0.7h-0.7zM447.0 273.4h0.7v0.7h-0.7zM448.2 275.4h0.7v0.7h-0.7zM446.4 269.7h0.7v0.7h-0.7zM445.4 274.2h0.7v0.7h-0.7zM442.2 267.4h0.7v0.7h-0.7zM445.8 270.3h0.7v0.7h-0.7zM446.0 271.5h0.7v0.7h-0.7zM449.2 264.5h0.7v0.7h-0.7zM446.1 274.4h0.7v0.7h-0.7zM448.4 277.3h0.7v0.7h-0.7zM450.0 268.3h0.7v0.7h-0.7zM448.8 271.1h0.7v0.7h-0.7zM444.7 278.7h0.7v0.7h-0.7zM445.2 269.1h0.7v0.7h-0.7zM445.8 269.1h0.7v0.7h-0.7zM449.9 274.0h0.7v0.7h-0.7zM451.0 274.2h0.7v0.7h-0.7zM445.2 276.7h0.7v0.7h-0.7zM445.1 270.6h0.7v0.7h-0.7zM446.5 272.7h0.7v0.7h-0.7zM450.4 270.1h0.7v0.7h-0.7zM448.0 272.4h0.7v0.7h-0.7zM443.4 268.1h0.7v0.7h-0.7zM446.4 274.1h0.7v0.7h-0.7zM447.9 274.4h0.7v0.7h-0.7zM447.1 270.7h0.7v0.7h-0.7zM448.2 268.4h0.7v0.7h-0.7zM443.1 271.2h0.7v0.7h-0.7zM442.9 270.4h0.7v0.7h-0.7zM444.8 270.3h0.7v0.7h-0.7zM446.9 269.3h0.7v0.7h-0.7zM445.8 265.6h0.7v0.7h-0.7zM447.4 268.9h0.7v0.7h-0.7zM444.7 273.5h0.7v0.7h-0.7zM447.3 272.9h0.7v0.7h-0.7zM442.7 273.4h0.7v0.7h-0.7zM447.4 268.6h0.7v0.7h-0.7zM449.2 272.3h0.7v0.7h-0.7zM447.1 270.7h0.7v0.7h-0.7zM448.6 272.9h0.7v0.7h-0.7zM450.3 274.3h0.7v0.7h-0.7zM445.2 271.6h0.7v0.7h-0.7zM449.7 271.0h0.7v0.7h-0.7zM448.1 274.6h0.7v0.7h-0.7zM447.4 273.4h0.7v0.7h-0.7zM447.4 269.4h0.7v0.7h-0.7zM450.5 272.0h0.7v0.7h-0.7zM445.2 269.6h0.7v0.7h-0.7zM448.0 268.1h0.7v0.7h-0.7zM444.1 280.6h0.7v0.7h-0.7zM450.8 276.8h0.7v0.7h-0.7zM451.0 274.9h0.7v0.7h-0.7zM442.1 277.4h0.7v0.7h-0.7zM450.6 274.5h0.7v0.7h-0.7zM441.3 277.6h0.7v0.7h-0.7zM451.0 270.5h0.7v0.7h-0.7zM447.4 275.7h0.7v0.7h-0.7zM446.8 277.0h0.7v0.7h-0.7zM447.2 275.3h0.7v0.7h-0.7zM447.2 266.5h0.7v0.7h-0.7zM447.8 277.8h0.7v0.7h-0.7zM450.3 279.5h0.7v0.7h-0.7zM448.6 270.1h0.7v0.7h-0.7zM447.1 264.7h0.7v0.7h-0.7zM446.5 276.2h0.7v0.7h-0.7zM440.7 273.3h0.7v0.7h-0.7zM449.4 277.9h0.7v0.7h-0.7zM444.3 269.8h0.7v0.7h-0.7zM441.5 268.3h0.7v0.7h-0.7zM448.6 280.9h0.7v0.7h-0.7zM443.7 278.1h0.7v0.7h-0.7zM448.2 270.5h0.7v0.7h-0.7zM446.8 273.4h0.7v0.7h-0.7zM453.2 279.8h0.7v0.7h-0.7zM453.6 273.0h0.7v0.7h-0.7zM449.9 278.1h0.7v0.7h-0.7zM448.5 274.0h0.7v0.7h-0.7zM446.5 270.8h0.7v0.7h-0.7zM443.4 280.5h0.7v0.7h-0.7zM447.8 272.4h0.7v0.7h-0.7zM447.5 279.9h0.7v0.7h-0.7zM446.7 271.4h0.7v0.7h-0.7zM444.8 272.4h0.7v0.7h-0.7zM445.7 273.3h0.7v0.7h-0.7zM456.1 274.1h0.7v0.7h-0.7zM444.5 280.4h0.7v0.7h-0.7zM449.5 275.8h0.7v0.7h-0.7zM449.1 275.8h0.7v0.7h-0.7zM449.0 278.3h0.7v0.7h-0.7zM449.9 278.0h0.7v0.7h-0.7zM445.5 272.5h0.7v0.7h-0.7zM444.9 276.4h0.7v0.7h-0.7zM449.4 270.6h0.7v0.7h-0.7zM448.7 283.2h0.7v0.7h-0.7zM450.6 267.9h0.7v0.7h-0.7zM446.7 275.1h0.7v0.7h-0.7zM446.9 274.1h0.7v0.7h-0.7zM450.4 273.8h0.7v0.7h-0.7zM443.8 275.4h0.7v0.7h-0.7zM446.7 273.0h0.7v0.7h-0.7zM445.3 266.8h0.7v0.7h-0.7zM443.4 271.1h0.7v0.7h-0.7zM450.4 267.7h0.7v0.7h-0.7zM444.9 274.7h0.7v0.7h-0.7zM444.8 275.2h0.7v0.7h-0.7zM445.6 273.8h0.7v0.7h-0.7zM447.3 272.5h0.7v0.7h-0.7zM441.7 266.5h0.7v0.7h-0.7zM446.9 278.3h0.7v0.7h-0.7zM445.4 274.7h0.7v0.7h-0.7zM447.5 274.5h0.7v0.7h-0.7zM449.9 266.4h0.7v0.7h-0.7zM447.8 271.8h0.7v0.7h-0.7zM446.1 269.0h0.7v0.7h-0.7zM444.7 268.3h0.7v0.7h-0.7zM443.8 282.8h0.7v0.7h-0.7zM452.0 272.5h0.7v0.7h-0.7zM449.2 268.5h0.7v0.7h-0.7zM447.4 278.4h0.7v0.7h-0.7zM446.9 268.4h0.7v0.7h-0.7zM446.3 268.4h0.7v0.7h-0.7zM442.9 271.5h0.7v0.7h-0.7zM445.8 269.2h0.7v0.7h-0.7zM444.4 268.7h0.7v0.7h-0.7zM447.7 278.2h0.7v0.7h-0.7zM446.4 281.7h0.7v0.7h-0.7zM442.3 273.6h0.7v0.7h-0.7zM443.6 271.8h0.7v0.7h-0.7z" fill="#000" fill-opacity="0.35"/>
<path d="M448.4 256.4h0.8v0.8h-0.8zM452.8 252.0h0.8v0.8h-0.8zM442.7 253.5h0.8v0.8h-0.8zM449.3 251.5h0.8v0.8h-0.8zM451.8 260.8h0.8v0.8h-0.8zM441.9 255.6h0.8v0.8h-0.8zM452.4 246.7h0.8v0.8h-0.8zM448.9 253.3h0.8v0.8h-0.8zM441.9 259.3h0.8v0.8h-0.8zM448.9 252.3h0.8v0.8h-0.8zM449.9 256.7h0.8v0.8h-0.8zM451.3 256.5h0.8v0.8h-0.8zM449.8 249.6h0.8v0.8h-0.8zM446.2 254.7h0.8v0.8h-0.8zM446.4 250.1h0.8v0.8h-0.8zM448.1 251.9h0.8v0.8h-0.8zM446.2 250.7h0.8v0.8h-0.8zM444.8 253.8h0.8v0.8h-0.8zM445.2 256.8h0.8v0.8h-0.8zM447.4 254.7h0.8v0.8h-0.8zM449.7 259.2h0.8v0.8h-0.8zM450.6 255.1h0.8v0.8h-0.8zM447.3 251.1h0.8v0.8h-0.8zM446.5 256.9h0.8v0.8h-0.8zM449.0 252.7h0.8v0.8h-0.8zM442.3 248.2h0.8v0.8h-0.8zM449.4 258.2h0.8v0.8h-0.8zM449.6 248.8h0.8v0.8h-0.8zM447.1 255.1h0.8v0.8h-0.8zM444.1 255.6h0.8v0.8h-0.8zM447.1 250.9h0.8v0.8h-0.8zM442.7 257.4h0.8v0.8h-0.8zM449.5 250.7h0.8v0.8h-0.8zM443.7 257.7h0.8v0.8h-0.8zM450.6 253.0h0.8v0.8h-0.8zM454.8 253.1h0.8v0.8h-0.8zM443.5 258.5h0.8v0.8h-0.8zM447.2 255.5h0.8v0.8h-0.8zM448.2 250.3h0.8v0.8h-0.8zM442.9 253.4h0.8v0.8h-0.8zM454.0 250.3h0.8v0.8h-0.8zM453.8 255.1h0.8v0.8h-0.8zM443.2 255.2h0.8v0.8h-0.8zM450.4 250.7h0.8v0.8h-0.8zM443.2 255.9h0.8v0.8h-0.8zM444.5 248.4h0.8v0.8h-0.8zM447.0 254.9h0.8v0.8h-0.8zM445.6 249.6h0.8v0.8h-0.8zM448.9 247.4h0.8v0.8h-0.8zM450.3 256.1h0.8v0.8h-0.8zM455.2 257.6h0.8v0.8h-0.8zM449.5 255.2h0.8v0.8h-0.8zM448.1 249.0h0.8v0.8h-0.8zM454.3 256.2h0.8v0.8h-0.8zM446.8 249.7h0.8v0.8h-0.8zM454.3 256.3h0.8v0.8h-0.8zM442.9 256.8h0.8v0.8h-0.8zM456.1 254.1h0.8v0.8h-0.8zM449.7 252.6h0.8v0.8h-0.8zM445.3 258.4h0.8v0.8h-0.8zM447.5 257.3h0.8v0.8h-0.8zM446.7 257.0h0.8v0.8h-0.8zM451.5 250.3h0.8v0.8h-0.8zM443.4 253.9h0.8v0.8h-0.8zM451.6 255.3h0.8v0.8h-0.8zM453.3 248.9h0.8v0.8h-0.8zM450.1 251.8h0.8v0.8h-0.8zM448.4 255.4h0.8v0.8h-0.8zM443.9 253.3h0.8v0.8h-0.8zM443.0 255.2h0.8v0.8h-0.8zM444.4 252.3h0.8v0.8h-0.8zM448.9 251.7h0.8v0.8h-0.8zM452.9 251.7h0.8v0.8h-0.8zM451.6 255.3h0.8v0.8h-0.8zM443.6 253.4h0.8v0.8h-0.8zM444.4 252.8h0.8v0.8h-0.8zM446.8 261.3h0.8v0.8h-0.8zM446.2 260.3h0.8v0.8h-0.8zM449.9 249.1h0.8v0.8h-0.8zM452.4 255.7h0.8v0.8h-0.8zM447.1 253.2h0.8v0.8h-0.8zM449.1 253.0h0.8v0.8h-0.8zM445.7 252.8h0.8v0.8h-0.8zM453.0 251.8h0.8v0.8h-0.8zM449.6 249.7h0.8v0.8h-0.8zM445.0 248.9h0.8v0.8h-0.8zM447.2 256.8h0.8v0.8h-0.8zM449.3 252.3h0.8v0.8h-0.8zM450.6 252.9h0.8v0.8h-0.8zM449.6 255.3h0.8v0.8h-0.8zM450.3 244.6h0.8v0.8h-0.8zM442.5 257.2h0.8v0.8h-0.8zM447.5 262.9h0.8v0.8h-0.8zM447.0 252.1h0.8v0.8h-0.8zM454.4 256.4h0.8v0.8h-0.8zM456.1 256.2h0.8v0.8h-0.8zM447.1 257.0h0.8v0.8h-0.8zM444.6 252.5h0.8v0.8h-0.8zM445.6 253.3h0.8v0.8h-0.8zM451.3 252.3h0.8v0.8h-0.8zM449.4 252.3h0.8v0.8h-0.8zM451.8 243.5h0.8v0.8h-0.8zM447.1 254.9h0.8v0.8h-0.8zM443.4 258.1h0.8v0.8h-0.8zM448.9 259.2h0.8v0.8h-0.8zM452.1 256.7h0.8v0.8h-0.8zM447.4 250.0h0.8v0.8h-0.8zM447.1 252.4h0.8v0.8h-0.8zM449.1 252.4h0.8v0.8h-0.8zM461.0 248.0h0.8v0.8h-0.8zM453.0 252.4h0.8v0.8h-0.8zM447.0 257.8h0.8v0.8h-0.8zM448.0 249.5h0.8v0.8h-0.8zM449.8 253.4h0.8v0.8h-0.8zM443.5 251.3h0.8v0.8h-0.8zM450.1 255.4h0.8v0.8h-0.8zM446.8 262.6h0.8v0.8h-0.8zM449.8 251.8h0.8v0.8h-0.8zM449.0 253.7h0.8v0.8h-0.8zM442.1 262.2h0.8v0.8h-0.8zM447.2 253.1h0.8v0.8h-0.8zM445.6 258.0h0.8v0.8h-0.8zM448.1 260.8h0.8v0.8h-0.8zM451.3 260.6h0.8v0.8h-0.8zM447.5 255.6h0.8v0.8h-0.8zM446.2 253.5h0.8v0.8h-0.8zM440.7 252.0h0.8v0.8h-0.8zM444.0 251.7h0.8v0.8h-0.8zM453.2 255.2h0.8v0.8h-0.8zM453.2 257.5h0.8v0.8h-0.8zM451.9 258.1h0.8v0.8h-0.8zM445.4 257.3h0.8v0.8h-0.8zM446.6 252.2h0.8v0.8h-0.8zM453.1 262.5h0.8v0.8h-0.8zM443.9 260.9h0.8v0.8h-0.8zM451.5 250.9h0.8v0.8h-0.8zM449.2 255.6h0.8v0.8h-0.8zM449.6 252.8h0.8v0.8h-0.8zM442.5 254.3h0.8v0.8h-0.8zM451.7 257.2h0.8v0.8h-0.8zM450.8 258.4h0.8v0.8h-0.8zM443.8 254.0h0.8v0.8h-0.8zM449.4 258.1h0.8v0.8h-0.8zM448.7 256.2h0.8v0.8h-0.8zM448.6 262.3h0.8v0.8h-0.8zM458.5 255.1h0.8v0.8h-0.8zM441.9 251.6h0.8v0.8h-0.8zM449.0 260.8h0.8v0.8h-0.8zM450.0 256.8h0.8v0.8h-0.8zM452.3 255.0h0.8v0.8h-0.8zM444.4 253.8h0.8v0.8h-0.8zM449.4 253.1h0.8v0.8h-0.8zM445.2 252.8h0.8v0.8h-0.8zM441.6 250.3h0.8v0.8h-0.8zM447.6 252.8h0.8v0.8h-0.8zM448.2 259.6h0.8v0.8h-0.8zM449.3 254.1h0.8v0.8h-0.8zM443.0 250.0h0.8v0.8h-0.8zM449.6 250.8h0.8v0.8h-0.8zM449.8 250.1h0.8v0.8h-0.8zM448.6 253.9h0.8v0.8h-0.8zM452.2 252.7h0.8v0.8h-0.8zM446.4 255.1h0.8v0.8h-0.8zM448.2 260.7h0.8v0.8h-0.8zM446.9 252.1h0.8v0.8h-0.8zM446.6 256.0h0.8v0.8h-0.8zM449.0 256.9h0.8v0.8h-0.8zM455.8 254.1h0.8v0.8h-0.8zM442.9 254.8h0.8v0.8h-0.8zM449.8 245.6h0.8v0.8h-0.8zM448.1 248.5h0.8v0.8h-0.8zM449.9 259.5h0.8v0.8h-0.8zM452.4 248.4h0.8v0.8h-0.8zM453.8 257.7h0.8v0.8h-0.8zM446.5 256.1h0.8v0.8h-0.8zM454.4 252.9h0.8v0.8h-0.8zM447.9 252.0h0.8v0.8h-0.8zM452.9 245.9h0.8v0.8h-0.8zM454.0 250.5h0.8v0.8h-0.8zM451.9 247.9h0.8v0.8h-0.8zM444.0 251.9h0.8v0.8h-0.8zM451.5 248.0h0.8v0.8h-0.8zM450.6 251.8h0.8v0.8h-0.8zM453.3 253.0h0.8v0.8h-0.8zM450.1 253.5h0.8v0.8h-0.8zM455.6 252.8h0.8v0.8h-0.8zM447.9 261.8h0.8v0.8h-0.8zM448.3 256.8h0.8v0.8h-0.8zM444.9 255.0h0.8v0.8h-0.8zM445.3 248.4h0.8v0.8h-0.8zM442.0 258.6h0.8v0.8h-0.8zM449.8 248.4h0.8v0.8h-0.8zM455.7 251.5h0.8v0.8h-0.8zM446.4 255.1h0.8v0.8h-0.8zM443.2 248.0h0.8v0.8h-0.8zM444.8 258.7h0.8v0.8h-0.8zM452.0 248.1h0.8v0.8h-0.8zM453.1 254.3h0.8v0.8h-0.8zM450.1 254.4h0.8v0.8h-0.8zM449.8 250.3h0.8v0.8h-0.8zM444.2 251.5h0.8v0.8h-0.8zM446.4 256.6h0.8v0.8h-0.8zM442.9 260.3h0.8v0.8h-0.8zM445.3 251.9h0.8v0.8h-0.8zM451.0 255.9h0.8v0.8h-0.8zM446.6 250.1h0.8v0.8h-0.8zM443.8 248.0h0.8v0.8h-0.8zM452.8 258.4h0.8v0.8h-0.8zM455.9 256.1h0.8v0.8h-0.8zM449.4 257.1h0.8v0.8h-0.8zM452.0 253.2h0.8v0.8h-0.8zM449.5 262.5h0.8v0.8h-0.8zM440.8 248.8h0.8v0.8h-0.8zM443.9 257.1h0.8v0.8h-0.8zM453.0 252.9h0.8v0.8h-0.8zM450.8 254.0h0.8v0.8h-0.8zM449.3 252.1h0.8v0.8h-0.8zM447.9 254.2h0.8v0.8h-0.8zM452.8 262.8h0.8v0.8h-0.8zM448.0 257.9h0.8v0.8h-0.8zM452.5 257.2h0.8v0.8h-0.8zM451.4 250.5h0.8v0.8h-0.8zM440.8 260.6h0.8v0.8h-0.8zM453.1 250.5h0.8v0.8h-0.8zM453.5 256.8h0.8v0.8h-0.8zM443.8 258.7h0.8v0.8h-0.8zM445.1 251.3h0.8v0.8h-0.8zM441.5 253.4h0.8v0.8h-0.8zM452.3 251.6h0.8v0.8h-0.8zM455.8 256.9h0.8v0.8h-0.8zM445.7 249.5h0.8v0.8h-0.8zM441.1 256.4h0.8v0.8h-0.8zM453.5 250.1h0.8v0.8h-0.8zM448.0 253.1h0.8v0.8h-0.8zM446.9 256.1h0.8v0.8h-0.8zM456.9 251.7h0.8v0.8h-0.8zM451.6 258.4h0.8v0.8h-0.8zM446.8 253.6h0.8v0.8h-0.8zM442.3 258.4h0.8v0.8h-0.8zM445.7 251.7h0.8v0.8h-0.8zM448.3 250.9h0.8v0.8h-0.8zM443.6 253.1h0.8v0.8h-0.8zM454.3 253.4h0.8v0.8h-0.8zM450.2 248.5h0.8v0.8h-0.8z" fill="#000" fill-opacity="0.35"/>
<path d="M446.4 258.5h0.7v0.7h-0.7zM451.7 248.7h0.7v0.7h-0.7zM452.6 255.0h0.7v0.7h-0.7zM447.2 250.6h0.7v0.7h-0.7zM453.9 250.5h0.7v0.7h-0.7zM455.7 256.0h0.7v0.7h-0.7zM454.5 252.0h0.7v0.7h-0.7zM452.8 251.4h0.7v0.7h-0.7zM452.6 254.1h0.7v0.7h-0.7zM452.0 256.0h0.7v0.7h-0.7zM454.2 255.6h0.7v0.7h-0.7zM455.2 252.5h0.7v0.7h-0.7zM451.4 256.1h0.7v0.7h-0.7zM455.1 254.7h0.7v0.7h-0.7zM450.3 255.0h0.7v0.7h-0.7zM455.7 252.7h0.7v0.7h-0.7zM455.2 259.5h0.7v0.7h-0.7zM446.7 255.0h0.7v0.7h-0.7zM449.0 249.2h0.7v0.7h-0.7zM452.2 254.8h0.7v0.7h-0.7zM453.2 249.8h0.7v0.7h-0.7zM448.1 251.6h0.7v0.7h-0.7zM453.0 250.8h0.7v0.7h-0.7zM447.9 258.3h0.7v0.7h-0.7zM450.2 252.7h0.7v0.7h-0.7zM451.1 251.5h0.7v0.7h-0.7zM453.1 252.3h0.7v0.7h-0.7zM455.1 249.8h0.7v0.7h-0.7zM448.0 258.9h0.7v0.7h-0.7zM452.7 255.4h0.7v0.7h-0.7zM457.0 254.8h0.7v0.7h-0.7zM453.1 248.7h0.7v0.7h-0.7zM447.6 256.0h0.7v0.7h-0.7zM455.3 254.9h0.7v0.7h-0.7zM447.4 247.0h0.7v0.7h-0.7zM449.4 249.8h0.7v0.7h-0.7zM453.5 250.2h0.7v0.7h-0.7zM458.4 251.4h0.7v0.7h-0.7zM451.1 255.7h0.7v0.7h-0.7zM454.1 250.6h0.7v0.7h-0.7zM455.8 258.8h0.7v0.7h-0.7zM448.8 252.5h0.7v0.7h-0.7zM449.3 247.6h0.7v0.7h-0.7zM455.1 255.2h0.7v0.7h-0.7zM456.3 254.4h0.7v0.7h-0.7zM446.2 253.1h0.7v0.7h-0.7zM450.7 249.8h0.7v0.7h-0.7zM449.2 255.4h0.7v0.7h-0.7zM452.0 258.9h0.7v0.7h-0.7z" fill="#000" fill-opacity="0.25"/>
<ellipse cx="447.0" cy="254.2" rx="7.5" ry="7.9" fill="url(#g1)" fill-opacity="1.0"/>
<path d="M472.6 267.9h0.7v0.7h-0.7zM474.0 277.1h0.7v0.7h-0.7zM471.2 270.0h0.7v0.7h-0.7zM476.8 269.7h0.7v0.7h-0.7zM470.8 267.9h0.7v0.7h-0.7zM467.1 268.5h0.7v0.7h-0.7zM474.6 276.9h0.7v0.7h-0.7zM469.8 269.5h0.7v0.7h-0.7zM470.9 274.6h0.7v0.7h-0.7zM466.2 270.1h0.7v0.7h-0.7zM470.8 275.6h0.7v0.7h-0.7zM471.3 274.8h0.7v0.7h-0.7zM467.1 266.2h0.7v0.7h-0.7zM472.1 270.8h0.7v0.7h-0.7zM470.7 272.4h0.7v0.7h-0.7zM472.6 271.2h0.7v0.7h-0.7zM475.7 273.6h0.7v0.7h-0.7zM472.8 275.3h0.7v0.7h-0.7zM474.4 274.7h0.7v0.7h-0.7zM465.5 271.7h0.7v0.7h-0.7zM477.1 274.9h0.7v0.7h-0.7zM472.9 274.9h0.7v0.7h-0.7zM469.0 271.5h0.7v0.7h-0.7zM469.0 276.9h0.7v0.7h-0.7zM472.3 278.7h0.7v0.7h-0.7zM472.7 279.0h0.7v0.7h-0.7zM472.6 270.0h0.7v0.7h-0.7zM476.7 274.5h0.7v0.7h-0.7zM474.9 274.1h0.7v0.7h-0.7zM470.0 274.0h0.7v0.7h-0.7zM467.5 270.0h0.7v0.7h-0.7zM468.2 272.0h0.7v0.7h-0.7zM466.7 273.2h0.7v0.7h-0.7zM472.1 279.5h0.7v0.7h-0.7zM477.1 273.4h0.7v0.7h-0.7zM474.0 272.9h0.7v0.7h-0.7zM472.4 273.4h0.7v0.7h-0.7zM469.3 273.7h0.7v0.7h-0.7zM466.3 274.8h0.7v0.7h-0.7zM470.2 270.3h0.7v0.7h-0.7zM469.9 275.1h0.7v0.7h-0.7zM468.9 274.9h0.7v0.7h-0.7zM472.9 278.1h0.7v0.7h-0.7zM467.6 273.2h0.7v0.7h-0.7zM472.8 277.9h0.7v0.7h-0.7zM472.0 275.7h0.7v0.7h-0.7zM466.3 271.8h0.7v0.7h-0.7zM476.5 272.7h0.7v0.7h-0.7zM478.1 271.3h0.7v0.7h-0.7zM470.2 268.8h0.7v0.7h-0.7zM473.2 274.3h0.7v0.7h-0.7zM477.7 274.0h0.7v0.7h-0.7zM470.3 269.3h0.7v0.7h-0.7zM470.8 276.3h0.7v0.7h-0.7zM473.5 277.1h0.7v0.7h-0.7zM473.9 273.4h0.7v0.7h-0.7zM473.1 274.0h0.7v0.7h-0.7zM466.8 278.6h0.7v0.7h-0.7zM472.3 270.4h0.7v0.7h-0.7zM472.4 274.4h0.7v0.7h-0.7zM474.3 277.8h0.7v0.7h-0.7zM461.2 275.1h0.7v0.7h-0.7zM476.1 270.7h0.7v0.7h-0.7zM465.0 274.3h0.7v0.7h-0.7zM472.2 274.5h0.7v0.7h-0.7zM467.5 272.1h0.7v0.7h-0.7zM471.7 275.7h0.7v0.7h-0.7zM478.3 274.4h0.7v0.7h-0.7zM469.1 266.5h0.7v0.7h-0.7zM474.6 273.1h0.7v0.7h-0.7zM470.7 270.6h0.7v0.7h-0.7zM473.5 268.2h0.7v0.7h-0.7zM471.5 273.9h0.7v0.7h-0.7zM472.1 277.4h0.7v0.7h-0.7zM470.8 273.8h0.7v0.7h-0.7zM473.9 268.9h0.7v0.7h-0.7zM470.1 273.7h0.7v0.7h-0.7zM474.2 271.1h0.7v0.7h-0.7zM473.7 274.6h0.7v0.7h-0.7zM466.2 269.1h0.7v0.7h-0.7zM466.4 273.9h0.7v0.7h-0.7zM471.8 275.7h0.7v0.7h-0.7zM473.8 271.9h0.7v0.7h-0.7zM474.6 275.9h0.7v0.7h-0.7zM472.6 274.9h0.7v0.7h-0.7zM466.9 274.6h0.7v0.7h-0.7zM467.7 269.9h0.7v0.7h-0.7zM470.0 273.9h0.7v0.7h-0.7zM470.9 272.5h0.7v0.7h-0.7zM467.8 274.1h0.7v0.7h-0.7zM468.7 269.3h0.7v0.7h-0.7zM471.4 277.8h0.7v0.7h-0.7zM469.8 270.3h0.7v0.7h-0.7zM475.6 278.6h0.7v0.7h-0.7zM470.1 272.9h0.7v0.7h-0.7zM471.8 282.3h0.7v0.7h-0.7zM471.5 276.5h0.7v0.7h-0.7zM472.6 268.1h0.7v0.7h-0.7zM467.5 269.8h0.7v0.7h-0.7zM472.5 273.8h0.7v0.7h-0.7zM477.0 272.7h0.7v0.7h-0.7zM472.1 273.7h0.7v0.7h-0.7zM471.6 280.4h0.7v0.7h-0.7zM472.0 277.9h0.7v0.7h-0.7zM475.4 271.7h0.7v0.7h-0.7zM473.4 272.4h0.7v0.7h-0.7zM471.5 274.0h0.7v0.7h-0.7zM471.2 272.1h0.7v0.7h-0.7zM476.2 272.7h0.7v0.7h-0.7zM473.4 278.5h0.7v0.7h-0.7zM473.2 276.6h0.7v0.7h-0.7zM475.7 276.8h0.7v0.7h-0.7zM476.8 269.2h0.7v0.7h-0.7zM477.5 273.6h0.7v0.7h-0.7zM465.3 271.6h0.7v0.7h-0.7zM466.5 273.4h0.7v0.7h-0.7zM466.2 270.5h0.7v0.7h-0.7zM472.1 274.0h0.7v0.7h-0.7zM468.5 272.8h0.7v0.7h-0.7zM470.8 273.7h0.7v0.7h-0.7zM471.1 272.8h0.7v0.7h-0.7zM474.0 268.7h0.7v0.7h-0.7zM469.5 273.9h0.7v0.7h-0.7zM469.8 271.8h0.7v0.7h-0.7zM469.7 274.1h0.7v0.7h-0.7zM475.2 272.9h0.7v0.7h-0.7zM470.2 274.6h0.7v0.7h-0.7zM470.3 267.7h0.7v0.7h-0.7zM472.0 272.4h0.7v0.7h-0.7zM469.2 275.4h0.7v0.7h-0.7zM471.2 271.8h0.7v0.7h-0.7zM463.9 268.3h0.7v0.7h-0.7zM471.1 273.1h0.7v0.7h-0.7zM472.5 274.2h0.7v0.7h-0.7zM469.5 269.7h0.7v0.7h-0.7zM467.5 273.1h0.7v0.7h-0.7zM467.3 275.8h0.7v0.7h-0.7zM466.7 268.1h0.7v0.7h-0.7zM470.5 268.2h0.7v0.7h-0.7zM476.5 270.5h0.7v0.7h-0.7zM470.9 272.8h0.7v0.7h-0.7zM468.4 268.2h0.7v0.7h-0.7zM465.0 276.1h0.7v0.7h-0.7zM474.5 280.0h0.7v0.7h-0.7zM466.3 275.2h0.7v0.7h-0.7zM471.1 276.0h0.7v0.7h-0.7zM469.4 275.7h0.7v0.7h-0.7zM474.1 275.3h0.7v0.7h-0.7zM475.9 273.0h0.7v0.7h-0.7zM476.2 271.4h0.7v0.7h-0.7zM476.6 265.3h0.7v0.7h-0.7zM471.1 271.1h0.7v0.7h-0.7zM471.1 276.6h0.7v0.7h-0.7zM473.5 273.8h0.7v0.7h-0.7zM476.7 269.1h0.7v0.7h-0.7zM468.4 278.0h0.7v0.7h-0.7zM472.2 267.3h0.7v0.7h-0.7zM472.2 269.9h0.7v0.7h-0.7zM476.0 276.9h0.7v0.7h-0.7zM469.3 277.4h0.7v0.7h-0.7z" fill="#000" fill-opacity="0.28"/>
<path d="M475.7 251.8h0.7v0.7h-0.7zM497.2 243.5h0.7v0.7h-0.7zM481.6 254.3h0.7v0.7h-0.7zM481.9 260.6h0.7v0.7h-0.7zM477.2 260.1h0.7v0.7h-0.7zM487.3 261.3h0.7v0.7h-0.7zM465.8 244.7h0.7v0.7h-0.7zM472.9 259.9h0.7v0.7h-0.7zM463.1 245.7h0.7v0.7h-0.7zM488.2 261.8h0.7v0.7h-0.7z" fill="#000" fill-opacity="0.15"/>
<line x1="438.0" y1="222.3" x2="440.6" y2="222.3" stroke="#777" stroke-width="0.7"/>
<line x1="436.40000000000003" y1="221.10000000000002" x2="436.40000000000003" y2="222.9" stroke="#aaa" stroke-width="0.5"/>
<line x1="440.6" y1="283.6" x2="440.6" y2="286.20000000000005" stroke="#777" stroke-width="0.7"/>
<line x1="439.8" y1="287.40000000000003" x2="441.40000000000003" y2="287.40000000000003" stroke="#aaa" stroke-width="0.5"/>
<line x1="438.0" y1="237.625" x2="440.6" y2="237.625" stroke="#777" stroke-width="0.7"/>
<line x1="436.40000000000003" y1="236.425" x2="436.40000000000003" y2="238.225" stroke="#aaa" stroke-width="0.5"/>
<line x1="456.05" y1="283.6" x2="456.05" y2="286.20000000000005" stroke="#777" stroke-width="0.7"/>
<line x1="455.25" y1="287.40000000000003" x2="456.85" y2="287.40000000000003" stroke="#aaa" stroke-width="0.5"/>
<line x1="438.0" y1="252.95000000000002" x2="440.6" y2="252.95000000000002" stroke="#777" stroke-width="0.7"/>
<line x1="436.40000000000003" y1="251.75000000000003" x2="436.40000000000003" y2="253.55" stroke="#aaa" stroke-width="0.5"/>
<line x1="471.5" y1="283.6" x2="471.5" y2="286.20000000000005" stroke="#777" stroke-width="0.7"/>
<line x1="470.7" y1="287.40000000000003" x2="472.3" y2="287.40000000000003" stroke="#aaa" stroke-width="0.5"/>
<line x1="438.0" y1="268.27500000000003" x2="440.6" y2="268.27500000000003" stroke="#777" stroke-width="0.7"/>
<line x1="436.40000000000003" y1="267.07500000000005" x2="436.40000000000003" y2="268.87500000000006" stroke="#aaa" stroke-width="0.5"/>
<line x1="486.95000000000005" y1="283.6" x2="486.95000000000005" y2="286.20000000000005" stroke="#777" stroke-width="0.7"/>
<line x1="486.15000000000003" y1="287.40000000000003" x2="487.75000000000006" y2="287.40000000000003" stroke="#aaa" stroke-width="0.5"/>
<line x1="438.0" y1="283.6" x2="440.6" y2="283.6" stroke="#777" stroke-width="0.7"/>
<line x1="436.40000000000003" y1="282.40000000000003" x2="436.40000000000003" y2="284.20000000000005" stroke="#aaa" stroke-width="0.5"/>
<line x1="502.40000000000003" y1="283.6" x2="502.40000000000003" y2="286.20000000000005" stroke="#777" stroke-width="0.7"/>
<line x1="501.6" y1="287.40000000000003" x2="503.20000000000005" y2="287.40000000000003" stroke="#aaa" stroke-width="0.5"/>
<line x1="440.6" y1="222.3" x2="440.6" y2="283.6" stroke="#333" stroke-width="0.9"/>
<line x1="440.6" y1="283.6" x2="502.40000000000003" y2="283.6" stroke="#333" stroke-width="0.9"/>
<line x1="461.1" y1="222.3" x2="461.1" y2="283.6" stroke="#222" stroke-width="1.1"/>
<line x1="440.6" y1="263.4" x2="503.40000000000003" y2="263.4" stroke="#222" stroke-width="1.1"/>
<text transform="translate(325.2 218.6) scale(1 1.0)" font-size="8.6" text-anchor="middle" fill="#111" >C57BL/6</text>
<text transform="translate(389.4 218.0) scale(1 1.0)" font-size="8.8" text-anchor="middle" fill="#111" >1</text>
<text transform="translate(467.2 218.0) scale(1 1.0)" font-size="8.8" text-anchor="middle" fill="#111" >2</text>
<text transform="translate(331 276.4) scale(1 1.0)" font-size="6.9" text-anchor="start" fill="#111" >0%</text>
<text transform="translate(404.8 276.2) scale(1 1.0)" font-size="6.7" text-anchor="start" fill="#111" >2.6 ± 0.5%</text>
<text transform="translate(484.0 276.2) scale(1 1.0)" font-size="6.7" text-anchor="start" fill="#111" >8.4 ± 9.2%</text>
<path d="M297.2 336.2h0.7v0.7h-0.7zM293.4 328.3h0.7v0.7h-0.7zM295.3 327.5h0.7v0.7h-0.7zM295.5 335.5h0.7v0.7h-0.7zM300.9 333.9h0.7v0.7h-0.7zM296.2 335.5h0.7v0.7h-0.7zM300.5 331.9h0.7v0.7h-0.7zM291.1 330.4h0.7v0.7h-0.7zM291.0 330.1h0.7v0.7h-0.7zM295.1 334.1h0.7v0.7h-0.7zM296.1 333.2h0.7v0.7h-0.7zM294.2 334.4h0.7v0.7h-0.7zM298.7 335.5h0.7v0.7h-0.7zM300.9 332.0h0.7v0.7h-0.7zM294.6 338.6h0.7v0.7h-0.7zM296.2 334.4h0.7v0.7h-0.7zM294.3 336.2h0.7v0.7h-0.7zM294.1 329.7h0.7v0.7h-0.7zM295.3 331.5h0.7v0.7h-0.7zM298.5 331.8h0.7v0.7h-0.7zM295.9 332.3h0.7v0.7h-0.7zM296.7 330.9h0.7v0.7h-0.7zM299.5 328.3h0.7v0.7h-0.7zM294.1 330.7h0.7v0.7h-0.7zM297.8 333.1h0.7v0.7h-0.7zM297.2 331.9h0.7v0.7h-0.7zM292.9 329.3h0.7v0.7h-0.7zM294.3 331.2h0.7v0.7h-0.7zM296.5 334.2h0.7v0.7h-0.7zM299.0 332.6h0.7v0.7h-0.7zM292.8 329.5h0.7v0.7h-0.7zM295.7 334.2h0.7v0.7h-0.7zM302.5 333.6h0.7v0.7h-0.7zM301.8 339.2h0.7v0.7h-0.7zM291.7 337.0h0.7v0.7h-0.7zM299.6 337.4h0.7v0.7h-0.7zM295.5 336.2h0.7v0.7h-0.7zM293.8 332.8h0.7v0.7h-0.7zM295.6 338.9h0.7v0.7h-0.7zM294.7 336.2h0.7v0.7h-0.7zM295.7 330.7h0.7v0.7h-0.7zM296.4 335.2h0.7v0.7h-0.7zM292.9 335.1h0.7v0.7h-0.7zM292.9 330.1h0.7v0.7h-0.7zM296.3 332.2h0.7v0.7h-0.7zM292.0 327.6h0.7v0.7h-0.7zM295.6 333.8h0.7v0.7h-0.7zM293.8 333.6h0.7v0.7h-0.7zM290.0 334.3h0.7v0.7h-0.7zM297.0 333.9h0.7v0.7h-0.7zM293.3 333.3h0.7v0.7h-0.7zM296.0 336.5h0.7v0.7h-0.7zM296.5 333.8h0.7v0.7h-0.7zM292.9 335.8h0.7v0.7h-0.7zM299.7 331.4h0.7v0.7h-0.7zM297.8 334.0h0.7v0.7h-0.7zM295.3 328.8h0.7v0.7h-0.7zM301.8 326.8h0.7v0.7h-0.7zM296.6 331.8h0.7v0.7h-0.7zM299.6 331.6h0.7v0.7h-0.7zM295.6 335.0h0.7v0.7h-0.7zM297.1 331.3h0.7v0.7h-0.7zM298.0 334.3h0.7v0.7h-0.7zM299.1 331.3h0.7v0.7h-0.7zM295.3 331.7h0.7v0.7h-0.7zM292.5 333.8h0.7v0.7h-0.7zM297.0 337.7h0.7v0.7h-0.7zM294.3 334.3h0.7v0.7h-0.7zM299.6 332.6h0.7v0.7h-0.7zM295.7 333.4h0.7v0.7h-0.7zM293.0 329.7h0.7v0.7h-0.7zM299.5 333.6h0.7v0.7h-0.7zM295.2 328.9h0.7v0.7h-0.7zM295.9 336.9h0.7v0.7h-0.7zM291.4 330.1h0.7v0.7h-0.7zM299.5 337.7h0.7v0.7h-0.7zM301.1 331.2h0.7v0.7h-0.7zM297.7 330.5h0.7v0.7h-0.7zM297.4 331.8h0.7v0.7h-0.7zM296.2 337.4h0.7v0.7h-0.7zM296.7 332.2h0.7v0.7h-0.7zM295.7 333.9h0.7v0.7h-0.7zM293.7 333.7h0.7v0.7h-0.7zM297.6 338.1h0.7v0.7h-0.7zM288.1 329.1h0.7v0.7h-0.7zM291.1 335.9h0.7v0.7h-0.7zM304.2 333.6h0.7v0.7h-0.7zM295.9 336.7h0.7v0.7h-0.7zM293.7 331.4h0.7v0.7h-0.7zM296.7 331.1h0.7v0.7h-0.7zM299.5 333.0h0.7v0.7h-0.7zM296.9 341.3h0.7v0.7h-0.7zM293.9 336.0h0.7v0.7h-0.7zM292.5 337.1h0.7v0.7h-0.7zM298.9 333.5h0.7v0.7h-0.7zM299.0 338.3h0.7v0.7h-0.7zM300.4 333.0h0.7v0.7h-0.7zM295.3 336.6h0.7v0.7h-0.7zM290.2 331.0h0.7v0.7h-0.7zM297.2 334.9h0.7v0.7h-0.7zM302.1 338.8h0.7v0.7h-0.7zM296.7 334.4h0.7v0.7h-0.7zM290.8 332.4h0.7v0.7h-0.7zM296.4 332.3h0.7v0.7h-0.7zM295.7 335.0h0.7v0.7h-0.7zM292.1 331.1h0.7v0.7h-0.7zM289.2 336.7h0.7v0.7h-0.7zM291.7 327.4h0.7v0.7h-0.7zM298.2 332.3h0.7v0.7h-0.7zM298.9 331.8h0.7v0.7h-0.7zM303.1 335.3h0.7v0.7h-0.7zM296.0 333.4h0.7v0.7h-0.7zM294.8 335.6h0.7v0.7h-0.7zM302.6 331.6h0.7v0.7h-0.7zM291.6 334.9h0.7v0.7h-0.7zM299.3 328.1h0.7v0.7h-0.7zM293.0 329.7h0.7v0.7h-0.7zM297.5 334.6h0.7v0.7h-0.7zM292.9 329.3h0.7v0.7h-0.7zM297.9 326.3h0.7v0.7h-0.7zM297.8 332.5h0.7v0.7h-0.7zM302.3 336.2h0.7v0.7h-0.7zM293.4 332.1h0.7v0.7h-0.7zM294.5 330.6h0.7v0.7h-0.7zM295.8 336.1h0.7v0.7h-0.7zM290.1 332.3h0.7v0.7h-0.7zM300.8 335.4h0.7v0.7h-0.7zM292.6 330.4h0.7v0.7h-0.7zM292.5 327.8h0.7v0.7h-0.7zM299.6 333.2h0.7v0.7h-0.7zM293.0 328.3h0.7v0.7h-0.7zM294.1 331.3h0.7v0.7h-0.7zM301.6 331.5h0.7v0.7h-0.7zM295.9 336.5h0.7v0.7h-0.7zM297.9 332.4h0.7v0.7h-0.7zM287.8 337.6h0.7v0.7h-0.7zM297.6 331.6h0.7v0.7h-0.7zM295.2 329.9h0.7v0.7h-0.7zM292.3 328.2h0.7v0.7h-0.7zM297.3 334.7h0.7v0.7h-0.7zM296.1 335.5h0.7v0.7h-0.7zM297.4 333.4h0.7v0.7h-0.7zM292.4 334.9h0.7v0.7h-0.7zM299.7 335.0h0.7v0.7h-0.7zM299.9 331.5h0.7v0.7h-0.7zM292.0 337.1h0.7v0.7h-0.7zM293.4 333.8h0.7v0.7h-0.7zM294.8 333.1h0.7v0.7h-0.7zM294.5 331.3h0.7v0.7h-0.7zM289.2 339.2h0.7v0.7h-0.7zM296.2 326.8h0.7v0.7h-0.7zM292.3 329.4h0.7v0.7h-0.7zM292.9 324.7h0.7v0.7h-0.7zM297.5 338.3h0.7v0.7h-0.7zM294.6 335.4h0.7v0.7h-0.7zM297.6 329.0h0.7v0.7h-0.7zM299.8 327.5h0.7v0.7h-0.7zM293.5 331.8h0.7v0.7h-0.7zM299.9 333.4h0.7v0.7h-0.7zM295.1 330.4h0.7v0.7h-0.7zM295.8 333.1h0.7v0.7h-0.7zM298.1 337.5h0.7v0.7h-0.7zM298.1 333.1h0.7v0.7h-0.7zM295.0 338.2h0.7v0.7h-0.7zM296.2 332.9h0.7v0.7h-0.7zM301.8 338.1h0.7v0.7h-0.7zM297.5 332.6h0.7v0.7h-0.7zM293.3 336.4h0.7v0.7h-0.7zM293.9 336.1h0.7v0.7h-0.7zM292.7 333.3h0.7v0.7h-0.7zM296.9 333.5h0.7v0.7h-0.7zM296.3 334.2h0.7v0.7h-0.7zM291.5 329.4h0.7v0.7h-0.7zM295.0 338.8h0.7v0.7h-0.7zM295.1 330.0h0.7v0.7h-0.7zM293.2 333.1h0.7v0.7h-0.7zM299.7 331.2h0.7v0.7h-0.7zM297.5 333.6h0.7v0.7h-0.7zM294.2 330.0h0.7v0.7h-0.7zM295.0 330.7h0.7v0.7h-0.7zM297.4 327.3h0.7v0.7h-0.7zM299.5 335.4h0.7v0.7h-0.7zM297.5 337.8h0.7v0.7h-0.7zM297.6 327.5h0.7v0.7h-0.7zM295.7 334.5h0.7v0.7h-0.7zM293.1 329.4h0.7v0.7h-0.7zM297.0 334.6h0.7v0.7h-0.7zM294.0 332.2h0.7v0.7h-0.7zM293.7 331.2h0.7v0.7h-0.7zM295.3 336.5h0.7v0.7h-0.7zM289.8 331.9h0.7v0.7h-0.7zM301.2 334.0h0.7v0.7h-0.7zM296.0 335.7h0.7v0.7h-0.7zM292.0 329.1h0.7v0.7h-0.7zM289.7 328.3h0.7v0.7h-0.7zM296.4 335.7h0.7v0.7h-0.7zM294.0 330.8h0.7v0.7h-0.7zM296.9 335.0h0.7v0.7h-0.7zM296.4 326.9h0.7v0.7h-0.7zM293.6 324.9h0.7v0.7h-0.7zM296.4 330.3h0.7v0.7h-0.7zM293.2 337.8h0.7v0.7h-0.7zM300.1 334.5h0.7v0.7h-0.7zM296.5 333.6h0.7v0.7h-0.7zM293.4 332.8h0.7v0.7h-0.7zM302.2 330.2h0.7v0.7h-0.7zM293.2 333.5h0.7v0.7h-0.7zM298.6 335.7h0.7v0.7h-0.7zM292.1 332.6h0.7v0.7h-0.7zM294.6 329.0h0.7v0.7h-0.7zM295.8 331.5h0.7v0.7h-0.7zM298.7 334.4h0.7v0.7h-0.7zM292.8 333.3h0.7v0.7h-0.7zM294.3 331.0h0.7v0.7h-0.7zM293.8 336.4h0.7v0.7h-0.7zM294.1 327.5h0.7v0.7h-0.7zM292.8 335.6h0.7v0.7h-0.7zM303.0 329.6h0.7v0.7h-0.7zM294.3 331.9h0.7v0.7h-0.7zM290.6 334.3h0.7v0.7h-0.7zM295.3 333.9h0.7v0.7h-0.7zM303.3 332.1h0.7v0.7h-0.7zM298.3 335.7h0.7v0.7h-0.7zM293.3 331.1h0.7v0.7h-0.7zM301.0 335.3h0.7v0.7h-0.7zM296.0 329.5h0.7v0.7h-0.7zM298.6 334.7h0.7v0.7h-0.7zM303.2 337.7h0.7v0.7h-0.7zM298.3 333.9h0.7v0.7h-0.7zM295.7 331.2h0.7v0.7h-0.7zM296.6 333.8h0.7v0.7h-0.7zM297.8 336.5h0.7v0.7h-0.7zM296.6 331.3h0.7v0.7h-0.7zM298.3 338.0h0.7v0.7h-0.7zM292.6 334.3h0.7v0.7h-0.7zM297.4 334.7h0.7v0.7h-0.7zM297.3 332.7h0.7v0.7h-0.7zM295.1 338.4h0.7v0.7h-0.7zM301.6 328.5h0.7v0.7h-0.7zM293.1 331.3h0.7v0.7h-0.7zM289.9 334.1h0.7v0.7h-0.7zM295.3 331.3h0.7v0.7h-0.7zM298.6 340.8h0.7v0.7h-0.7zM300.7 336.8h0.7v0.7h-0.7zM294.1 335.1h0.7v0.7h-0.7zM295.4 336.7h0.7v0.7h-0.7zM297.5 332.9h0.7v0.7h-0.7zM297.4 330.7h0.7v0.7h-0.7zM298.3 337.8h0.7v0.7h-0.7zM294.2 334.8h0.7v0.7h-0.7zM289.7 336.0h0.7v0.7h-0.7zM298.6 329.7h0.7v0.7h-0.7zM301.6 333.4h0.7v0.7h-0.7zM289.4 328.6h0.7v0.7h-0.7zM298.6 332.1h0.7v0.7h-0.7zM299.4 328.0h0.7v0.7h-0.7zM295.2 336.1h0.7v0.7h-0.7zM293.1 335.2h0.7v0.7h-0.7zM294.2 334.1h0.7v0.7h-0.7zM296.6 340.2h0.7v0.7h-0.7zM291.2 335.5h0.7v0.7h-0.7zM300.1 329.4h0.7v0.7h-0.7zM295.8 340.4h0.7v0.7h-0.7zM299.2 323.5h0.7v0.7h-0.7zM294.7 327.5h0.7v0.7h-0.7zM296.6 330.7h0.7v0.7h-0.7zM293.5 330.3h0.7v0.7h-0.7zM296.5 331.5h0.7v0.7h-0.7zM292.3 332.3h0.7v0.7h-0.7zM296.9 330.3h0.7v0.7h-0.7zM299.4 327.7h0.7v0.7h-0.7zM296.9 331.8h0.7v0.7h-0.7zM301.0 330.9h0.7v0.7h-0.7zM293.2 328.7h0.7v0.7h-0.7zM302.4 335.0h0.7v0.7h-0.7zM291.7 331.9h0.7v0.7h-0.7zM292.2 337.9h0.7v0.7h-0.7zM297.0 326.5h0.7v0.7h-0.7zM296.2 335.9h0.7v0.7h-0.7zM295.5 334.5h0.7v0.7h-0.7zM295.1 333.7h0.7v0.7h-0.7zM296.2 330.7h0.7v0.7h-0.7zM296.7 333.5h0.7v0.7h-0.7zM295.4 330.8h0.7v0.7h-0.7zM292.0 333.8h0.7v0.7h-0.7zM298.4 325.2h0.7v0.7h-0.7zM293.6 337.3h0.7v0.7h-0.7zM298.7 330.7h0.7v0.7h-0.7zM300.2 329.8h0.7v0.7h-0.7zM292.7 339.2h0.7v0.7h-0.7zM294.0 332.3h0.7v0.7h-0.7zM289.7 329.8h0.7v0.7h-0.7zM291.4 332.6h0.7v0.7h-0.7zM289.1 336.4h0.7v0.7h-0.7zM294.3 331.1h0.7v0.7h-0.7zM293.3 335.4h0.7v0.7h-0.7zM300.9 331.7h0.7v0.7h-0.7zM301.1 338.2h0.7v0.7h-0.7zM300.2 334.0h0.7v0.7h-0.7zM290.3 335.2h0.7v0.7h-0.7zM294.1 333.6h0.7v0.7h-0.7zM288.9 332.1h0.7v0.7h-0.7zM296.3 330.0h0.7v0.7h-0.7zM296.5 338.4h0.7v0.7h-0.7zM296.3 330.8h0.7v0.7h-0.7zM303.9 326.1h0.7v0.7h-0.7zM292.3 334.3h0.7v0.7h-0.7zM293.4 325.6h0.7v0.7h-0.7zM296.4 335.7h0.7v0.7h-0.7zM292.7 337.7h0.7v0.7h-0.7zM297.3 336.8h0.7v0.7h-0.7zM290.2 333.0h0.7v0.7h-0.7zM301.1 339.5h0.7v0.7h-0.7zM300.1 333.0h0.7v0.7h-0.7zM296.1 331.0h0.7v0.7h-0.7zM299.4 330.8h0.7v0.7h-0.7zM295.9 326.4h0.7v0.7h-0.7z" fill="#000" fill-opacity="0.4"/>
<ellipse cx="295.09999999999997" cy="333" rx="6.4" ry="5.6" fill="url(#g2)" fill-opacity="1.0"/>
<ellipse cx="294.7" cy="333.2" rx="3.2" ry="2.8" fill="url(#g2)" fill-opacity="0.6"/>
<path d="M290.7 358.6h0.7v0.7h-0.7zM295.9 352.8h0.7v0.7h-0.7zM288.4 351.9h0.7v0.7h-0.7zM302.6 346.5h0.7v0.7h-0.7zM287.8 351.4h0.7v0.7h-0.7zM293.9 351.2h0.7v0.7h-0.7zM291.5 347.0h0.7v0.7h-0.7zM291.6 354.4h0.7v0.7h-0.7zM295.5 355.0h0.7v0.7h-0.7zM292.1 354.2h0.7v0.7h-0.7zM294.2 352.3h0.7v0.7h-0.7zM298.8 352.1h0.7v0.7h-0.7zM294.5 345.8h0.7v0.7h-0.7zM295.9 354.9h0.7v0.7h-0.7zM293.6 351.8h0.7v0.7h-0.7zM289.8 347.0h0.7v0.7h-0.7zM297.0 356.8h0.7v0.7h-0.7zM294.7 345.8h0.7v0.7h-0.7zM294.4 346.2h0.7v0.7h-0.7zM294.8 359.2h0.7v0.7h-0.7zM296.7 351.4h0.7v0.7h-0.7zM299.2 350.6h0.7v0.7h-0.7zM296.8 352.7h0.7v0.7h-0.7zM297.2 346.5h0.7v0.7h-0.7zM298.1 355.3h0.7v0.7h-0.7zM292.7 357.6h0.7v0.7h-0.7zM295.8 354.5h0.7v0.7h-0.7zM297.5 355.3h0.7v0.7h-0.7zM293.6 349.8h0.7v0.7h-0.7zM297.0 354.3h0.7v0.7h-0.7zM297.6 353.3h0.7v0.7h-0.7zM294.1 356.1h0.7v0.7h-0.7zM297.3 356.0h0.7v0.7h-0.7zM293.5 352.5h0.7v0.7h-0.7zM294.1 350.8h0.7v0.7h-0.7zM296.3 353.3h0.7v0.7h-0.7zM293.1 354.0h0.7v0.7h-0.7zM292.9 353.6h0.7v0.7h-0.7zM294.5 348.5h0.7v0.7h-0.7zM299.6 358.2h0.7v0.7h-0.7zM295.4 351.8h0.7v0.7h-0.7zM298.9 347.0h0.7v0.7h-0.7zM292.8 356.2h0.7v0.7h-0.7zM298.7 350.1h0.7v0.7h-0.7zM293.1 353.3h0.7v0.7h-0.7zM291.0 350.1h0.7v0.7h-0.7zM297.7 354.9h0.7v0.7h-0.7zM299.3 346.6h0.7v0.7h-0.7zM291.4 348.9h0.7v0.7h-0.7zM291.3 359.7h0.7v0.7h-0.7zM292.4 350.8h0.7v0.7h-0.7zM296.4 353.7h0.7v0.7h-0.7zM300.6 347.9h0.7v0.7h-0.7zM298.7 352.6h0.7v0.7h-0.7zM291.8 352.6h0.7v0.7h-0.7zM291.0 358.1h0.7v0.7h-0.7zM293.2 355.8h0.7v0.7h-0.7zM300.1 349.7h0.7v0.7h-0.7zM292.7 352.5h0.7v0.7h-0.7zM292.2 355.4h0.7v0.7h-0.7zM296.3 349.1h0.7v0.7h-0.7zM293.4 354.7h0.7v0.7h-0.7zM290.8 358.4h0.7v0.7h-0.7zM293.0 351.3h0.7v0.7h-0.7zM292.6 358.1h0.7v0.7h-0.7zM298.5 356.9h0.7v0.7h-0.7zM297.9 352.3h0.7v0.7h-0.7zM301.4 354.5h0.7v0.7h-0.7zM297.2 354.2h0.7v0.7h-0.7zM298.2 353.1h0.7v0.7h-0.7zM295.1 346.0h0.7v0.7h-0.7zM302.7 347.1h0.7v0.7h-0.7zM288.4 349.3h0.7v0.7h-0.7zM302.2 356.6h0.7v0.7h-0.7zM293.7 353.0h0.7v0.7h-0.7zM295.6 344.5h0.7v0.7h-0.7zM294.6 353.1h0.7v0.7h-0.7zM299.7 347.4h0.7v0.7h-0.7zM288.1 346.0h0.7v0.7h-0.7zM296.8 352.3h0.7v0.7h-0.7zM296.2 352.6h0.7v0.7h-0.7zM294.5 346.8h0.7v0.7h-0.7zM297.2 353.5h0.7v0.7h-0.7zM297.7 356.7h0.7v0.7h-0.7zM289.6 360.1h0.7v0.7h-0.7zM292.6 353.5h0.7v0.7h-0.7zM295.6 354.8h0.7v0.7h-0.7zM306.6 350.0h0.7v0.7h-0.7zM295.1 349.7h0.7v0.7h-0.7zM296.5 354.0h0.7v0.7h-0.7zM292.4 357.0h0.7v0.7h-0.7zM299.6 353.7h0.7v0.7h-0.7zM295.3 351.1h0.7v0.7h-0.7zM290.1 354.5h0.7v0.7h-0.7zM292.4 350.1h0.7v0.7h-0.7zM299.1 348.5h0.7v0.7h-0.7zM293.9 355.3h0.7v0.7h-0.7zM302.0 349.4h0.7v0.7h-0.7zM299.5 349.5h0.7v0.7h-0.7zM297.0 353.8h0.7v0.7h-0.7zM291.8 355.9h0.7v0.7h-0.7zM301.8 352.2h0.7v0.7h-0.7zM296.6 347.5h0.7v0.7h-0.7zM301.8 352.2h0.7v0.7h-0.7z" fill="#000" fill-opacity="0.25"/>
<path d="M311.3 334.1h0.7v0.7h-0.7zM310.4 330.1h0.7v0.7h-0.7zM328.8 330.2h0.7v0.7h-0.7zM314.4 330.4h0.7v0.7h-0.7zM314.9 333.6h0.7v0.7h-0.7zM325.0 329.2h0.7v0.7h-0.7zM319.9 327.0h0.7v0.7h-0.7zM325.3 331.8h0.7v0.7h-0.7zM314.2 336.3h0.7v0.7h-0.7zM317.2 335.8h0.7v0.7h-0.7zM323.1 336.6h0.7v0.7h-0.7zM313.7 332.2h0.7v0.7h-0.7zM319.5 331.5h0.7v0.7h-0.7zM325.3 330.0h0.7v0.7h-0.7zM322.7 335.8h0.7v0.7h-0.7zM313.2 330.5h0.7v0.7h-0.7zM319.7 331.5h0.7v0.7h-0.7zM318.1 330.7h0.7v0.7h-0.7zM317.3 333.4h0.7v0.7h-0.7zM321.4 329.8h0.7v0.7h-0.7zM317.1 329.9h0.7v0.7h-0.7zM316.8 328.0h0.7v0.7h-0.7zM322.5 333.9h0.7v0.7h-0.7zM317.1 330.1h0.7v0.7h-0.7zM315.4 330.1h0.7v0.7h-0.7zM310.0 336.6h0.7v0.7h-0.7zM334.1 328.6h0.7v0.7h-0.7zM311.9 333.6h0.7v0.7h-0.7zM320.7 327.6h0.7v0.7h-0.7zM315.2 332.2h0.7v0.7h-0.7zM317.7 330.4h0.7v0.7h-0.7zM317.0 331.2h0.7v0.7h-0.7zM323.9 331.7h0.7v0.7h-0.7zM317.5 330.5h0.7v0.7h-0.7zM314.5 329.9h0.7v0.7h-0.7zM317.8 337.1h0.7v0.7h-0.7z" fill="#000" fill-opacity="0.2"/>
<path d="M324.5 354.0h0.8v0.8h-0.8zM327.4 357.9h0.8v0.8h-0.8zM319.8 352.0h0.8v0.8h-0.8zM313.0 354.0h0.8v0.8h-0.8zM317.1 344.9h0.8v0.8h-0.8zM312.0 362.5h0.8v0.8h-0.8zM319.8 355.3h0.8v0.8h-0.8zM319.7 350.5h0.8v0.8h-0.8zM321.1 358.2h0.8v0.8h-0.8zM317.1 355.4h0.8v0.8h-0.8zM324.0 350.4h0.8v0.8h-0.8zM319.6 349.1h0.8v0.8h-0.8zM321.8 351.0h0.8v0.8h-0.8zM324.7 349.0h0.8v0.8h-0.8zM327.5 351.2h0.8v0.8h-0.8zM314.3 348.3h0.8v0.8h-0.8zM322.1 348.5h0.8v0.8h-0.8zM328.1 359.2h0.8v0.8h-0.8zM321.4 345.7h0.8v0.8h-0.8zM318.6 349.2h0.8v0.8h-0.8zM309.3 354.9h0.8v0.8h-0.8zM330.1 350.1h0.8v0.8h-0.8zM322.9 359.2h0.8v0.8h-0.8zM313.7 351.1h0.8v0.8h-0.8zM320.1 355.2h0.8v0.8h-0.8zM312.7 353.9h0.8v0.8h-0.8zM318.1 357.6h0.8v0.8h-0.8zM310.4 350.0h0.8v0.8h-0.8zM316.1 351.2h0.8v0.8h-0.8zM322.5 349.7h0.8v0.8h-0.8zM332.9 349.3h0.8v0.8h-0.8zM323.1 357.9h0.8v0.8h-0.8zM323.7 351.8h0.8v0.8h-0.8zM314.4 351.5h0.8v0.8h-0.8zM322.2 353.4h0.8v0.8h-0.8zM321.7 355.7h0.8v0.8h-0.8zM314.1 348.1h0.8v0.8h-0.8zM326.2 350.4h0.8v0.8h-0.8zM310.5 362.1h0.8v0.8h-0.8zM314.4 348.1h0.8v0.8h-0.8zM323.7 347.1h0.8v0.8h-0.8zM314.2 358.0h0.8v0.8h-0.8zM319.4 353.1h0.8v0.8h-0.8zM315.4 351.7h0.8v0.8h-0.8zM316.1 352.7h0.8v0.8h-0.8zM322.7 346.4h0.8v0.8h-0.8zM326.5 352.4h0.8v0.8h-0.8zM318.6 352.5h0.8v0.8h-0.8zM323.9 354.4h0.8v0.8h-0.8zM323.1 352.0h0.8v0.8h-0.8zM318.1 352.5h0.8v0.8h-0.8zM309.0 358.2h0.8v0.8h-0.8zM310.5 347.8h0.8v0.8h-0.8zM322.2 353.1h0.8v0.8h-0.8zM322.9 361.3h0.8v0.8h-0.8zM328.4 359.7h0.8v0.8h-0.8zM314.1 352.4h0.8v0.8h-0.8zM323.9 351.7h0.8v0.8h-0.8zM318.1 351.0h0.8v0.8h-0.8zM325.3 358.1h0.8v0.8h-0.8zM318.3 355.6h0.8v0.8h-0.8zM313.7 358.3h0.8v0.8h-0.8zM334.6 348.2h0.8v0.8h-0.8zM326.0 352.5h0.8v0.8h-0.8zM316.9 350.4h0.8v0.8h-0.8zM317.7 346.5h0.8v0.8h-0.8zM311.6 361.1h0.8v0.8h-0.8zM318.6 355.6h0.8v0.8h-0.8zM320.3 355.2h0.8v0.8h-0.8zM310.8 348.1h0.8v0.8h-0.8zM322.0 357.8h0.8v0.8h-0.8zM312.7 349.9h0.8v0.8h-0.8zM313.1 356.1h0.8v0.8h-0.8zM320.5 353.0h0.8v0.8h-0.8zM315.3 354.5h0.8v0.8h-0.8zM318.9 349.1h0.8v0.8h-0.8zM320.4 349.5h0.8v0.8h-0.8zM323.7 355.9h0.8v0.8h-0.8zM315.1 355.7h0.8v0.8h-0.8zM319.0 349.3h0.8v0.8h-0.8zM313.9 344.5h0.8v0.8h-0.8zM312.8 354.5h0.8v0.8h-0.8zM325.0 349.7h0.8v0.8h-0.8zM319.5 354.5h0.8v0.8h-0.8zM322.8 355.0h0.8v0.8h-0.8zM325.1 356.6h0.8v0.8h-0.8zM314.7 354.8h0.8v0.8h-0.8zM318.8 355.7h0.8v0.8h-0.8zM317.1 357.0h0.8v0.8h-0.8zM325.6 348.6h0.8v0.8h-0.8zM315.9 354.1h0.8v0.8h-0.8zM321.3 353.5h0.8v0.8h-0.8zM323.0 346.9h0.8v0.8h-0.8zM322.7 358.6h0.8v0.8h-0.8zM324.5 354.9h0.8v0.8h-0.8zM317.5 354.8h0.8v0.8h-0.8zM318.3 344.9h0.8v0.8h-0.8zM315.6 352.6h0.8v0.8h-0.8zM316.0 348.1h0.8v0.8h-0.8zM317.5 350.9h0.8v0.8h-0.8zM319.1 352.6h0.8v0.8h-0.8zM319.6 357.8h0.8v0.8h-0.8zM319.4 354.8h0.8v0.8h-0.8zM316.6 356.2h0.8v0.8h-0.8zM316.9 349.7h0.8v0.8h-0.8zM312.3 357.3h0.8v0.8h-0.8zM316.0 354.0h0.8v0.8h-0.8zM324.6 355.5h0.8v0.8h-0.8zM330.4 352.1h0.8v0.8h-0.8zM323.7 356.3h0.8v0.8h-0.8zM315.3 353.0h0.8v0.8h-0.8zM315.8 347.7h0.8v0.8h-0.8zM320.3 348.9h0.8v0.8h-0.8zM327.4 349.1h0.8v0.8h-0.8zM315.9 353.3h0.8v0.8h-0.8zM316.0 353.1h0.8v0.8h-0.8zM315.5 345.7h0.8v0.8h-0.8zM326.6 355.0h0.8v0.8h-0.8zM319.5 350.5h0.8v0.8h-0.8zM317.9 354.3h0.8v0.8h-0.8zM311.5 348.8h0.8v0.8h-0.8zM314.1 359.1h0.8v0.8h-0.8zM313.2 358.7h0.8v0.8h-0.8zM318.3 353.0h0.8v0.8h-0.8zM325.7 357.2h0.8v0.8h-0.8zM323.6 347.5h0.8v0.8h-0.8zM324.6 361.2h0.8v0.8h-0.8zM318.2 350.4h0.8v0.8h-0.8zM313.0 357.9h0.8v0.8h-0.8zM320.2 352.8h0.8v0.8h-0.8zM312.3 360.9h0.8v0.8h-0.8zM323.3 352.7h0.8v0.8h-0.8zM326.4 348.0h0.8v0.8h-0.8zM323.3 347.8h0.8v0.8h-0.8zM326.0 351.4h0.8v0.8h-0.8zM325.1 350.7h0.8v0.8h-0.8zM320.8 358.5h0.8v0.8h-0.8zM314.0 353.3h0.8v0.8h-0.8zM314.3 357.1h0.8v0.8h-0.8zM315.6 350.9h0.8v0.8h-0.8zM317.6 358.6h0.8v0.8h-0.8zM313.3 352.7h0.8v0.8h-0.8zM317.0 350.1h0.8v0.8h-0.8zM314.6 352.0h0.8v0.8h-0.8zM319.7 345.1h0.8v0.8h-0.8zM319.9 346.9h0.8v0.8h-0.8zM313.7 352.5h0.8v0.8h-0.8zM317.4 357.7h0.8v0.8h-0.8zM316.2 343.9h0.8v0.8h-0.8zM310.3 353.7h0.8v0.8h-0.8zM320.0 358.1h0.8v0.8h-0.8zM315.9 356.1h0.8v0.8h-0.8zM313.2 359.3h0.8v0.8h-0.8zM318.3 349.4h0.8v0.8h-0.8zM319.6 361.5h0.8v0.8h-0.8zM314.3 346.6h0.8v0.8h-0.8zM313.4 347.0h0.8v0.8h-0.8zM318.4 354.6h0.8v0.8h-0.8zM317.8 353.8h0.8v0.8h-0.8zM324.9 351.4h0.8v0.8h-0.8zM320.0 349.4h0.8v0.8h-0.8zM317.4 354.8h0.8v0.8h-0.8zM321.1 345.0h0.8v0.8h-0.8zM313.7 353.2h0.8v0.8h-0.8zM318.0 358.5h0.8v0.8h-0.8zM324.8 344.6h0.8v0.8h-0.8zM313.7 354.7h0.8v0.8h-0.8zM319.9 355.5h0.8v0.8h-0.8zM321.5 349.2h0.8v0.8h-0.8zM325.2 344.4h0.8v0.8h-0.8zM315.7 354.2h0.8v0.8h-0.8zM319.4 348.0h0.8v0.8h-0.8zM326.9 360.2h0.8v0.8h-0.8zM313.8 354.7h0.8v0.8h-0.8zM315.4 350.6h0.8v0.8h-0.8zM323.8 353.4h0.8v0.8h-0.8zM318.1 353.3h0.8v0.8h-0.8zM312.6 358.9h0.8v0.8h-0.8zM314.8 359.3h0.8v0.8h-0.8zM316.3 350.5h0.8v0.8h-0.8zM326.4 353.8h0.8v0.8h-0.8zM315.4 350.1h0.8v0.8h-0.8zM321.8 362.2h0.8v0.8h-0.8zM321.9 350.8h0.8v0.8h-0.8zM312.9 349.4h0.8v0.8h-0.8zM318.1 354.0h0.8v0.8h-0.8zM315.3 359.2h0.8v0.8h-0.8zM313.7 349.2h0.8v0.8h-0.8zM321.3 355.2h0.8v0.8h-0.8zM316.7 357.6h0.8v0.8h-0.8zM311.4 361.0h0.8v0.8h-0.8zM330.1 362.6h0.8v0.8h-0.8zM319.3 362.6h0.8v0.8h-0.8zM319.0 359.4h0.8v0.8h-0.8zM317.7 353.8h0.8v0.8h-0.8zM321.4 344.1h0.8v0.8h-0.8zM317.6 361.4h0.8v0.8h-0.8zM323.5 354.4h0.8v0.8h-0.8zM319.7 359.7h0.8v0.8h-0.8zM320.4 343.3h0.8v0.8h-0.8zM313.8 351.3h0.8v0.8h-0.8zM319.5 350.6h0.8v0.8h-0.8zM318.2 361.1h0.8v0.8h-0.8zM323.6 355.8h0.8v0.8h-0.8zM318.8 353.1h0.8v0.8h-0.8zM320.6 354.0h0.8v0.8h-0.8zM314.9 356.7h0.8v0.8h-0.8zM314.4 352.6h0.8v0.8h-0.8zM316.8 347.0h0.8v0.8h-0.8zM321.8 352.5h0.8v0.8h-0.8zM312.6 352.4h0.8v0.8h-0.8zM311.5 360.0h0.8v0.8h-0.8zM321.4 362.7h0.8v0.8h-0.8zM315.8 356.3h0.8v0.8h-0.8zM313.7 348.5h0.8v0.8h-0.8zM318.2 354.9h0.8v0.8h-0.8zM323.5 351.5h0.8v0.8h-0.8zM324.4 357.6h0.8v0.8h-0.8zM314.2 351.9h0.8v0.8h-0.8zM313.9 361.3h0.8v0.8h-0.8zM315.8 357.2h0.8v0.8h-0.8zM323.4 351.5h0.8v0.8h-0.8zM316.2 354.5h0.8v0.8h-0.8zM314.7 346.5h0.8v0.8h-0.8zM313.7 354.5h0.8v0.8h-0.8zM319.7 361.6h0.8v0.8h-0.8zM309.2 355.3h0.8v0.8h-0.8zM312.7 358.6h0.8v0.8h-0.8zM322.3 353.4h0.8v0.8h-0.8zM326.3 350.9h0.8v0.8h-0.8zM316.0 347.6h0.8v0.8h-0.8zM315.3 353.4h0.8v0.8h-0.8zM322.2 359.2h0.8v0.8h-0.8zM317.3 349.2h0.8v0.8h-0.8zM317.0 350.7h0.8v0.8h-0.8zM316.3 350.8h0.8v0.8h-0.8zM314.2 352.5h0.8v0.8h-0.8zM316.1 352.0h0.8v0.8h-0.8zM311.5 353.5h0.8v0.8h-0.8zM321.7 356.0h0.8v0.8h-0.8zM315.9 347.1h0.8v0.8h-0.8zM312.0 347.0h0.8v0.8h-0.8zM315.4 351.3h0.8v0.8h-0.8zM309.5 356.1h0.8v0.8h-0.8zM310.8 349.4h0.8v0.8h-0.8zM315.0 356.9h0.8v0.8h-0.8zM328.2 351.0h0.8v0.8h-0.8zM317.3 350.9h0.8v0.8h-0.8zM317.7 352.0h0.8v0.8h-0.8zM331.4 347.4h0.8v0.8h-0.8zM318.1 348.9h0.8v0.8h-0.8zM320.5 350.2h0.8v0.8h-0.8zM321.7 347.4h0.8v0.8h-0.8zM329.6 353.8h0.8v0.8h-0.8zM309.6 356.3h0.8v0.8h-0.8zM316.3 347.1h0.8v0.8h-0.8zM321.0 350.2h0.8v0.8h-0.8zM322.5 350.1h0.8v0.8h-0.8zM323.3 353.5h0.8v0.8h-0.8zM320.5 353.6h0.8v0.8h-0.8zM316.8 351.0h0.8v0.8h-0.8zM321.0 356.3h0.8v0.8h-0.8zM327.4 347.1h0.8v0.8h-0.8zM324.3 352.5h0.8v0.8h-0.8zM319.9 348.9h0.8v0.8h-0.8zM327.2 348.7h0.8v0.8h-0.8zM318.3 349.2h0.8v0.8h-0.8zM328.6 359.0h0.8v0.8h-0.8zM311.9 350.6h0.8v0.8h-0.8zM320.6 350.7h0.8v0.8h-0.8zM316.9 347.5h0.8v0.8h-0.8zM320.0 347.4h0.8v0.8h-0.8zM317.0 360.9h0.8v0.8h-0.8zM320.6 349.5h0.8v0.8h-0.8zM316.9 348.1h0.8v0.8h-0.8zM319.3 356.3h0.8v0.8h-0.8zM323.5 351.4h0.8v0.8h-0.8zM312.6 352.4h0.8v0.8h-0.8zM327.3 354.2h0.8v0.8h-0.8zM316.5 355.5h0.8v0.8h-0.8zM313.8 359.4h0.8v0.8h-0.8zM315.8 348.5h0.8v0.8h-0.8zM315.7 352.4h0.8v0.8h-0.8zM323.8 350.0h0.8v0.8h-0.8zM309.6 352.4h0.8v0.8h-0.8zM321.4 360.4h0.8v0.8h-0.8zM312.9 360.1h0.8v0.8h-0.8zM322.2 355.0h0.8v0.8h-0.8zM314.8 348.5h0.8v0.8h-0.8zM313.8 357.4h0.8v0.8h-0.8zM319.8 358.1h0.8v0.8h-0.8zM328.0 352.9h0.8v0.8h-0.8zM318.5 362.2h0.8v0.8h-0.8zM312.0 350.6h0.8v0.8h-0.8zM316.8 351.0h0.8v0.8h-0.8zM319.4 348.7h0.8v0.8h-0.8zM324.6 346.1h0.8v0.8h-0.8zM314.5 344.5h0.8v0.8h-0.8zM311.5 355.7h0.8v0.8h-0.8zM321.9 351.9h0.8v0.8h-0.8zM323.0 355.8h0.8v0.8h-0.8zM315.8 352.6h0.8v0.8h-0.8zM320.6 362.7h0.8v0.8h-0.8zM316.4 354.6h0.8v0.8h-0.8zM321.5 358.8h0.8v0.8h-0.8zM320.9 358.1h0.8v0.8h-0.8zM313.3 351.5h0.8v0.8h-0.8zM308.8 352.6h0.8v0.8h-0.8zM330.6 354.0h0.8v0.8h-0.8zM319.2 354.1h0.8v0.8h-0.8zM319.4 346.3h0.8v0.8h-0.8zM315.2 352.0h0.8v0.8h-0.8zM319.6 348.6h0.8v0.8h-0.8zM318.2 349.2h0.8v0.8h-0.8zM312.0 349.6h0.8v0.8h-0.8zM314.6 356.9h0.8v0.8h-0.8zM325.5 355.7h0.8v0.8h-0.8zM317.6 350.1h0.8v0.8h-0.8zM310.7 350.3h0.8v0.8h-0.8zM326.7 358.5h0.8v0.8h-0.8zM319.8 351.6h0.8v0.8h-0.8zM318.7 354.9h0.8v0.8h-0.8zM318.7 354.9h0.8v0.8h-0.8zM314.8 353.1h0.8v0.8h-0.8zM316.9 358.1h0.8v0.8h-0.8zM312.4 359.2h0.8v0.8h-0.8zM318.3 350.4h0.8v0.8h-0.8zM318.8 353.4h0.8v0.8h-0.8zM317.5 354.9h0.8v0.8h-0.8zM315.7 344.6h0.8v0.8h-0.8zM322.3 352.7h0.8v0.8h-0.8zM327.2 354.7h0.8v0.8h-0.8zM308.5 358.9h0.8v0.8h-0.8zM315.2 355.5h0.8v0.8h-0.8zM330.0 358.2h0.8v0.8h-0.8zM313.1 352.4h0.8v0.8h-0.8zM310.5 356.1h0.8v0.8h-0.8zM321.6 347.8h0.8v0.8h-0.8zM321.0 357.4h0.8v0.8h-0.8zM322.8 349.6h0.8v0.8h-0.8zM315.2 347.4h0.8v0.8h-0.8zM312.1 354.4h0.8v0.8h-0.8zM318.9 359.2h0.8v0.8h-0.8zM320.1 351.3h0.8v0.8h-0.8zM311.4 360.4h0.8v0.8h-0.8zM319.5 352.7h0.8v0.8h-0.8zM313.6 347.7h0.8v0.8h-0.8zM321.9 348.1h0.8v0.8h-0.8zM321.7 355.9h0.8v0.8h-0.8zM316.8 344.9h0.8v0.8h-0.8zM320.8 359.7h0.8v0.8h-0.8zM314.5 346.7h0.8v0.8h-0.8zM324.3 353.5h0.8v0.8h-0.8zM315.5 358.8h0.8v0.8h-0.8zM317.3 355.0h0.8v0.8h-0.8zM316.6 349.2h0.8v0.8h-0.8zM319.8 348.7h0.8v0.8h-0.8zM309.6 350.2h0.8v0.8h-0.8zM325.0 358.2h0.8v0.8h-0.8zM329.8 357.7h0.8v0.8h-0.8zM326.9 354.1h0.8v0.8h-0.8zM316.5 355.1h0.8v0.8h-0.8zM313.9 356.4h0.8v0.8h-0.8zM316.4 354.1h0.8v0.8h-0.8zM314.4 352.2h0.8v0.8h-0.8zM323.7 351.8h0.8v0.8h-0.8zM315.3 354.2h0.8v0.8h-0.8zM323.2 351.9h0.8v0.8h-0.8zM312.7 345.3h0.8v0.8h-0.8zM311.9 358.0h0.8v0.8h-0.8zM318.2 355.2h0.8v0.8h-0.8zM324.2 354.2h0.8v0.8h-0.8zM321.2 350.4h0.8v0.8h-0.8zM310.5 355.9h0.8v0.8h-0.8zM318.2 355.6h0.8v0.8h-0.8zM313.3 352.2h0.8v0.8h-0.8zM329.0 348.8h0.8v0.8h-0.8zM319.2 359.2h0.8v0.8h-0.8zM317.5 353.5h0.8v0.8h-0.8zM316.5 359.1h0.8v0.8h-0.8z" fill="#000" fill-opacity="0.4"/>
<ellipse cx="318.7" cy="352.8" rx="9.0" ry="9.2" fill="url(#g1)" fill-opacity="1.0"/>
<line x1="285.09999999999997" y1="301.5" x2="287.7" y2="301.5" stroke="#777" stroke-width="0.7"/>
<line x1="283.5" y1="300.3" x2="283.5" y2="302.1" stroke="#aaa" stroke-width="0.5"/>
<line x1="287.7" y1="362.8" x2="287.7" y2="365.40000000000003" stroke="#777" stroke-width="0.7"/>
<line x1="286.9" y1="366.6" x2="288.5" y2="366.6" stroke="#aaa" stroke-width="0.5"/>
<line x1="285.09999999999997" y1="316.825" x2="287.7" y2="316.825" stroke="#777" stroke-width="0.7"/>
<line x1="283.5" y1="315.625" x2="283.5" y2="317.425" stroke="#aaa" stroke-width="0.5"/>
<line x1="303.15" y1="362.8" x2="303.15" y2="365.40000000000003" stroke="#777" stroke-width="0.7"/>
<line x1="302.34999999999997" y1="366.6" x2="303.95" y2="366.6" stroke="#aaa" stroke-width="0.5"/>
<line x1="285.09999999999997" y1="332.15" x2="287.7" y2="332.15" stroke="#777" stroke-width="0.7"/>
<line x1="283.5" y1="330.95" x2="283.5" y2="332.75" stroke="#aaa" stroke-width="0.5"/>
<line x1="318.6" y1="362.8" x2="318.6" y2="365.40000000000003" stroke="#777" stroke-width="0.7"/>
<line x1="317.8" y1="366.6" x2="319.40000000000003" y2="366.6" stroke="#aaa" stroke-width="0.5"/>
<line x1="285.09999999999997" y1="347.475" x2="287.7" y2="347.475" stroke="#777" stroke-width="0.7"/>
<line x1="283.5" y1="346.27500000000003" x2="283.5" y2="348.07500000000005" stroke="#aaa" stroke-width="0.5"/>
<line x1="334.05" y1="362.8" x2="334.05" y2="365.40000000000003" stroke="#777" stroke-width="0.7"/>
<line x1="333.25" y1="366.6" x2="334.85" y2="366.6" stroke="#aaa" stroke-width="0.5"/>
<line x1="285.09999999999997" y1="362.8" x2="287.7" y2="362.8" stroke="#777" stroke-width="0.7"/>
<line x1="283.5" y1="361.6" x2="283.5" y2="363.40000000000003" stroke="#aaa" stroke-width="0.5"/>
<line x1="349.5" y1="362.8" x2="349.5" y2="365.40000000000003" stroke="#777" stroke-width="0.7"/>
<line x1="348.7" y1="366.6" x2="350.3" y2="366.6" stroke="#aaa" stroke-width="0.5"/>
<line x1="287.7" y1="301.5" x2="287.7" y2="362.8" stroke="#333" stroke-width="0.9"/>
<line x1="287.7" y1="362.8" x2="349.5" y2="362.8" stroke="#333" stroke-width="0.9"/>
<line x1="308.2" y1="301.5" x2="308.2" y2="362.8" stroke="#222" stroke-width="1.1"/>
<line x1="287.7" y1="343.3" x2="350.5" y2="343.3" stroke="#222" stroke-width="1.1"/>
<path d="M371.9 331.8h0.7v0.7h-0.7zM373.7 332.3h0.7v0.7h-0.7zM370.4 338.0h0.7v0.7h-0.7zM375.7 333.4h0.7v0.7h-0.7zM375.1 335.7h0.7v0.7h-0.7zM374.3 333.2h0.7v0.7h-0.7zM372.5 334.3h0.7v0.7h-0.7zM374.2 334.2h0.7v0.7h-0.7zM370.3 332.8h0.7v0.7h-0.7zM373.8 329.9h0.7v0.7h-0.7zM372.2 335.5h0.7v0.7h-0.7zM372.8 332.1h0.7v0.7h-0.7zM372.1 331.5h0.7v0.7h-0.7zM375.7 331.8h0.7v0.7h-0.7zM366.3 329.2h0.7v0.7h-0.7zM373.3 333.7h0.7v0.7h-0.7zM370.5 328.9h0.7v0.7h-0.7zM371.7 330.4h0.7v0.7h-0.7zM369.9 333.0h0.7v0.7h-0.7zM369.5 334.0h0.7v0.7h-0.7zM369.6 331.6h0.7v0.7h-0.7zM371.4 337.7h0.7v0.7h-0.7zM377.8 336.0h0.7v0.7h-0.7zM369.6 333.1h0.7v0.7h-0.7zM375.4 335.6h0.7v0.7h-0.7zM366.5 332.9h0.7v0.7h-0.7zM369.6 335.4h0.7v0.7h-0.7zM374.4 331.4h0.7v0.7h-0.7zM379.8 332.2h0.7v0.7h-0.7zM380.8 332.5h0.7v0.7h-0.7zM371.9 339.0h0.7v0.7h-0.7zM370.3 331.6h0.7v0.7h-0.7zM377.4 332.9h0.7v0.7h-0.7zM373.9 329.1h0.7v0.7h-0.7zM378.5 336.2h0.7v0.7h-0.7zM373.5 335.3h0.7v0.7h-0.7zM370.4 331.6h0.7v0.7h-0.7zM366.7 334.2h0.7v0.7h-0.7zM376.6 335.8h0.7v0.7h-0.7zM375.4 335.3h0.7v0.7h-0.7zM369.0 328.9h0.7v0.7h-0.7zM374.5 333.6h0.7v0.7h-0.7zM375.7 332.2h0.7v0.7h-0.7zM369.1 334.5h0.7v0.7h-0.7zM370.2 327.9h0.7v0.7h-0.7zM370.1 330.3h0.7v0.7h-0.7zM368.3 331.3h0.7v0.7h-0.7zM375.5 340.5h0.7v0.7h-0.7zM378.3 331.7h0.7v0.7h-0.7zM376.2 332.8h0.7v0.7h-0.7zM373.6 330.9h0.7v0.7h-0.7zM371.9 327.8h0.7v0.7h-0.7zM378.5 330.6h0.7v0.7h-0.7zM374.3 331.2h0.7v0.7h-0.7zM373.2 329.4h0.7v0.7h-0.7zM370.9 335.9h0.7v0.7h-0.7zM374.3 326.9h0.7v0.7h-0.7zM375.2 328.9h0.7v0.7h-0.7zM373.2 334.7h0.7v0.7h-0.7zM369.9 332.1h0.7v0.7h-0.7zM371.3 334.3h0.7v0.7h-0.7zM375.4 337.3h0.7v0.7h-0.7zM373.4 339.3h0.7v0.7h-0.7zM368.9 338.6h0.7v0.7h-0.7zM371.3 335.5h0.7v0.7h-0.7zM371.8 333.3h0.7v0.7h-0.7zM369.0 334.3h0.7v0.7h-0.7zM379.3 333.5h0.7v0.7h-0.7zM372.1 333.1h0.7v0.7h-0.7zM374.7 332.4h0.7v0.7h-0.7zM372.2 333.7h0.7v0.7h-0.7zM376.8 336.0h0.7v0.7h-0.7zM368.5 331.1h0.7v0.7h-0.7zM372.3 335.7h0.7v0.7h-0.7zM375.6 332.4h0.7v0.7h-0.7zM379.7 332.5h0.7v0.7h-0.7zM377.2 337.5h0.7v0.7h-0.7zM377.8 333.7h0.7v0.7h-0.7zM374.2 328.3h0.7v0.7h-0.7zM365.9 331.1h0.7v0.7h-0.7zM374.7 336.4h0.7v0.7h-0.7zM371.8 336.3h0.7v0.7h-0.7zM374.2 337.8h0.7v0.7h-0.7zM366.6 330.5h0.7v0.7h-0.7zM368.8 329.8h0.7v0.7h-0.7zM378.0 330.2h0.7v0.7h-0.7zM369.3 331.8h0.7v0.7h-0.7zM375.3 331.6h0.7v0.7h-0.7zM374.8 334.8h0.7v0.7h-0.7zM369.9 325.6h0.7v0.7h-0.7zM369.0 329.1h0.7v0.7h-0.7zM378.0 330.8h0.7v0.7h-0.7zM368.4 334.2h0.7v0.7h-0.7zM372.4 330.1h0.7v0.7h-0.7zM376.1 335.9h0.7v0.7h-0.7zM373.2 330.7h0.7v0.7h-0.7zM369.1 326.6h0.7v0.7h-0.7zM373.6 334.3h0.7v0.7h-0.7zM369.0 333.1h0.7v0.7h-0.7zM383.8 329.5h0.7v0.7h-0.7zM366.2 335.0h0.7v0.7h-0.7zM370.7 331.5h0.7v0.7h-0.7zM374.4 332.6h0.7v0.7h-0.7zM375.7 334.7h0.7v0.7h-0.7zM376.3 333.4h0.7v0.7h-0.7zM364.6 337.3h0.7v0.7h-0.7zM366.2 336.3h0.7v0.7h-0.7zM373.1 328.7h0.7v0.7h-0.7zM372.4 335.8h0.7v0.7h-0.7zM368.6 333.2h0.7v0.7h-0.7zM369.6 329.9h0.7v0.7h-0.7zM370.0 337.0h0.7v0.7h-0.7zM374.6 333.0h0.7v0.7h-0.7zM371.9 333.4h0.7v0.7h-0.7zM373.2 333.6h0.7v0.7h-0.7zM366.1 335.9h0.7v0.7h-0.7zM369.2 324.9h0.7v0.7h-0.7zM374.7 329.3h0.7v0.7h-0.7zM371.7 332.7h0.7v0.7h-0.7zM370.1 334.7h0.7v0.7h-0.7zM371.2 332.2h0.7v0.7h-0.7zM368.8 332.2h0.7v0.7h-0.7zM368.5 333.2h0.7v0.7h-0.7zM376.9 336.2h0.7v0.7h-0.7zM373.7 328.8h0.7v0.7h-0.7zM375.8 336.0h0.7v0.7h-0.7zM379.5 326.0h0.7v0.7h-0.7zM372.3 332.0h0.7v0.7h-0.7zM376.0 329.6h0.7v0.7h-0.7zM370.9 340.3h0.7v0.7h-0.7zM375.7 326.8h0.7v0.7h-0.7zM372.3 337.3h0.7v0.7h-0.7zM370.0 334.9h0.7v0.7h-0.7zM372.6 328.4h0.7v0.7h-0.7zM370.0 336.6h0.7v0.7h-0.7zM376.4 331.1h0.7v0.7h-0.7zM376.2 330.8h0.7v0.7h-0.7zM373.1 333.0h0.7v0.7h-0.7zM367.8 334.0h0.7v0.7h-0.7zM370.8 324.4h0.7v0.7h-0.7zM369.3 330.4h0.7v0.7h-0.7zM369.2 330.0h0.7v0.7h-0.7zM369.8 325.3h0.7v0.7h-0.7zM375.4 333.3h0.7v0.7h-0.7zM373.1 332.2h0.7v0.7h-0.7zM372.4 332.2h0.7v0.7h-0.7zM368.3 328.2h0.7v0.7h-0.7zM372.5 336.2h0.7v0.7h-0.7zM373.0 338.1h0.7v0.7h-0.7zM367.4 332.2h0.7v0.7h-0.7zM370.0 336.9h0.7v0.7h-0.7zM378.2 331.4h0.7v0.7h-0.7zM374.8 332.3h0.7v0.7h-0.7zM368.7 332.7h0.7v0.7h-0.7zM368.5 337.9h0.7v0.7h-0.7zM374.3 336.8h0.7v0.7h-0.7zM373.5 325.4h0.7v0.7h-0.7zM375.0 333.3h0.7v0.7h-0.7zM375.8 338.4h0.7v0.7h-0.7zM368.6 335.5h0.7v0.7h-0.7zM373.4 332.5h0.7v0.7h-0.7zM371.2 334.7h0.7v0.7h-0.7zM374.2 335.1h0.7v0.7h-0.7zM370.8 328.9h0.7v0.7h-0.7zM376.9 337.1h0.7v0.7h-0.7zM370.2 332.9h0.7v0.7h-0.7zM375.1 327.5h0.7v0.7h-0.7zM374.0 340.6h0.7v0.7h-0.7zM373.2 330.8h0.7v0.7h-0.7zM379.4 333.0h0.7v0.7h-0.7zM373.0 331.7h0.7v0.7h-0.7zM372.8 327.3h0.7v0.7h-0.7zM367.7 328.4h0.7v0.7h-0.7zM375.4 332.7h0.7v0.7h-0.7zM376.3 326.6h0.7v0.7h-0.7zM370.1 337.6h0.7v0.7h-0.7zM369.4 327.1h0.7v0.7h-0.7zM369.6 331.9h0.7v0.7h-0.7zM372.2 337.1h0.7v0.7h-0.7zM376.9 337.9h0.7v0.7h-0.7zM374.3 331.4h0.7v0.7h-0.7zM370.4 328.3h0.7v0.7h-0.7zM376.7 337.0h0.7v0.7h-0.7zM372.5 330.2h0.7v0.7h-0.7zM374.6 334.6h0.7v0.7h-0.7zM372.7 329.3h0.7v0.7h-0.7zM373.0 331.2h0.7v0.7h-0.7zM374.8 334.9h0.7v0.7h-0.7zM373.8 331.7h0.7v0.7h-0.7zM377.6 335.5h0.7v0.7h-0.7zM376.7 335.7h0.7v0.7h-0.7zM374.5 334.2h0.7v0.7h-0.7zM368.4 327.3h0.7v0.7h-0.7zM368.9 334.9h0.7v0.7h-0.7zM375.4 333.6h0.7v0.7h-0.7zM372.5 338.8h0.7v0.7h-0.7zM370.8 327.4h0.7v0.7h-0.7zM366.7 332.0h0.7v0.7h-0.7zM374.7 335.3h0.7v0.7h-0.7zM371.4 335.6h0.7v0.7h-0.7zM372.0 330.7h0.7v0.7h-0.7zM370.9 335.4h0.7v0.7h-0.7zM375.6 329.4h0.7v0.7h-0.7zM368.7 333.4h0.7v0.7h-0.7zM379.7 329.3h0.7v0.7h-0.7zM367.8 334.3h0.7v0.7h-0.7zM374.0 331.1h0.7v0.7h-0.7zM372.1 334.5h0.7v0.7h-0.7zM366.0 332.9h0.7v0.7h-0.7zM374.3 335.9h0.7v0.7h-0.7zM376.3 332.8h0.7v0.7h-0.7zM367.1 337.3h0.7v0.7h-0.7zM374.9 331.0h0.7v0.7h-0.7zM375.9 336.3h0.7v0.7h-0.7zM371.7 325.5h0.7v0.7h-0.7zM370.5 330.6h0.7v0.7h-0.7zM369.2 332.7h0.7v0.7h-0.7zM368.4 334.2h0.7v0.7h-0.7zM378.9 329.2h0.7v0.7h-0.7zM375.9 331.3h0.7v0.7h-0.7zM374.1 332.6h0.7v0.7h-0.7zM376.7 330.8h0.7v0.7h-0.7zM374.8 330.6h0.7v0.7h-0.7zM373.0 333.0h0.7v0.7h-0.7zM376.0 328.0h0.7v0.7h-0.7zM367.4 337.4h0.7v0.7h-0.7zM373.6 338.4h0.7v0.7h-0.7zM368.6 333.7h0.7v0.7h-0.7zM374.3 338.6h0.7v0.7h-0.7zM372.0 331.6h0.7v0.7h-0.7zM374.7 332.7h0.7v0.7h-0.7zM369.6 335.4h0.7v0.7h-0.7zM365.5 329.8h0.7v0.7h-0.7zM377.0 331.4h0.7v0.7h-0.7zM371.1 334.2h0.7v0.7h-0.7zM376.2 334.7h0.7v0.7h-0.7zM368.8 331.2h0.7v0.7h-0.7zM375.9 332.6h0.7v0.7h-0.7zM370.0 335.8h0.7v0.7h-0.7zM376.2 339.9h0.7v0.7h-0.7zM368.4 330.8h0.7v0.7h-0.7zM369.8 334.1h0.7v0.7h-0.7zM370.5 336.5h0.7v0.7h-0.7zM369.9 332.1h0.7v0.7h-0.7zM374.2 333.6h0.7v0.7h-0.7zM368.6 337.8h0.7v0.7h-0.7zM374.2 331.4h0.7v0.7h-0.7zM372.9 329.5h0.7v0.7h-0.7zM367.9 332.0h0.7v0.7h-0.7zM373.5 333.3h0.7v0.7h-0.7zM369.5 328.6h0.7v0.7h-0.7zM366.3 338.1h0.7v0.7h-0.7zM373.5 330.5h0.7v0.7h-0.7zM376.4 334.7h0.7v0.7h-0.7zM370.7 331.1h0.7v0.7h-0.7zM376.2 334.0h0.7v0.7h-0.7zM377.9 334.1h0.7v0.7h-0.7zM370.1 331.1h0.7v0.7h-0.7zM369.7 333.8h0.7v0.7h-0.7zM373.1 334.9h0.7v0.7h-0.7zM373.8 329.7h0.7v0.7h-0.7zM371.5 330.0h0.7v0.7h-0.7zM373.9 328.8h0.7v0.7h-0.7zM370.2 330.3h0.7v0.7h-0.7zM370.0 332.2h0.7v0.7h-0.7zM377.5 332.2h0.7v0.7h-0.7zM367.2 332.0h0.7v0.7h-0.7zM374.8 334.8h0.7v0.7h-0.7zM373.0 339.3h0.7v0.7h-0.7zM376.1 333.3h0.7v0.7h-0.7zM376.5 328.8h0.7v0.7h-0.7zM371.6 330.3h0.7v0.7h-0.7zM372.8 338.1h0.7v0.7h-0.7zM370.5 338.0h0.7v0.7h-0.7zM368.6 337.5h0.7v0.7h-0.7zM366.3 330.3h0.7v0.7h-0.7zM375.7 332.7h0.7v0.7h-0.7zM372.7 333.0h0.7v0.7h-0.7zM372.8 332.4h0.7v0.7h-0.7zM368.8 332.1h0.7v0.7h-0.7zM372.6 330.2h0.7v0.7h-0.7zM373.8 338.6h0.7v0.7h-0.7zM366.5 331.3h0.7v0.7h-0.7zM371.2 333.1h0.7v0.7h-0.7zM372.5 330.7h0.7v0.7h-0.7zM372.1 333.0h0.7v0.7h-0.7zM371.9 337.9h0.7v0.7h-0.7zM372.7 328.3h0.7v0.7h-0.7zM366.7 334.9h0.7v0.7h-0.7zM371.0 331.0h0.7v0.7h-0.7zM367.5 332.0h0.7v0.7h-0.7zM371.9 330.8h0.7v0.7h-0.7zM371.0 335.8h0.7v0.7h-0.7zM374.9 334.7h0.7v0.7h-0.7zM371.6 328.7h0.7v0.7h-0.7zM374.9 337.7h0.7v0.7h-0.7zM376.7 336.7h0.7v0.7h-0.7zM373.2 334.2h0.7v0.7h-0.7zM372.2 337.0h0.7v0.7h-0.7zM371.3 339.8h0.7v0.7h-0.7zM374.9 332.0h0.7v0.7h-0.7zM372.2 327.9h0.7v0.7h-0.7zM369.6 332.1h0.7v0.7h-0.7zM380.8 330.4h0.7v0.7h-0.7zM375.4 333.2h0.7v0.7h-0.7zM371.2 335.0h0.7v0.7h-0.7zM365.2 336.0h0.7v0.7h-0.7zM379.0 333.9h0.7v0.7h-0.7zM372.0 333.5h0.7v0.7h-0.7zM374.5 331.4h0.7v0.7h-0.7zM372.6 334.6h0.7v0.7h-0.7zM371.0 334.2h0.7v0.7h-0.7zM373.4 335.3h0.7v0.7h-0.7zM368.8 331.3h0.7v0.7h-0.7zM370.7 336.8h0.7v0.7h-0.7zM373.1 327.8h0.7v0.7h-0.7zM367.7 339.1h0.7v0.7h-0.7zM373.4 328.9h0.7v0.7h-0.7z" fill="#000" fill-opacity="0.4"/>
<ellipse cx="371.79999999999995" cy="333" rx="6.4" ry="5.6" fill="url(#g2)" fill-opacity="1.0"/>
<ellipse cx="371.4" cy="333.2" rx="3.2" ry="2.8" fill="url(#g2)" fill-opacity="0.6"/>
<path d="M369.4 352.5h0.7v0.7h-0.7zM377.1 357.9h0.7v0.7h-0.7zM371.2 350.9h0.7v0.7h-0.7zM378.7 348.4h0.7v0.7h-0.7zM377.6 353.2h0.7v0.7h-0.7zM372.7 356.7h0.7v0.7h-0.7zM374.0 349.0h0.7v0.7h-0.7zM367.4 352.1h0.7v0.7h-0.7zM374.1 357.0h0.7v0.7h-0.7zM374.4 357.5h0.7v0.7h-0.7zM375.0 352.8h0.7v0.7h-0.7zM373.8 353.5h0.7v0.7h-0.7zM370.3 351.6h0.7v0.7h-0.7zM372.8 350.4h0.7v0.7h-0.7zM367.6 346.7h0.7v0.7h-0.7zM374.1 353.9h0.7v0.7h-0.7zM372.8 347.7h0.7v0.7h-0.7zM375.2 350.6h0.7v0.7h-0.7zM365.6 357.7h0.7v0.7h-0.7zM367.5 360.2h0.7v0.7h-0.7zM374.2 350.4h0.7v0.7h-0.7zM364.6 349.4h0.7v0.7h-0.7zM377.3 357.0h0.7v0.7h-0.7zM373.3 345.8h0.7v0.7h-0.7zM371.1 351.0h0.7v0.7h-0.7zM373.9 351.5h0.7v0.7h-0.7zM373.5 346.0h0.7v0.7h-0.7zM370.3 357.3h0.7v0.7h-0.7zM367.6 355.4h0.7v0.7h-0.7zM380.0 354.4h0.7v0.7h-0.7zM367.8 356.5h0.7v0.7h-0.7zM366.3 353.2h0.7v0.7h-0.7zM371.1 356.5h0.7v0.7h-0.7zM376.3 352.7h0.7v0.7h-0.7zM378.3 355.6h0.7v0.7h-0.7zM370.8 348.4h0.7v0.7h-0.7zM380.5 350.5h0.7v0.7h-0.7zM373.8 351.6h0.7v0.7h-0.7zM370.8 346.1h0.7v0.7h-0.7zM371.9 351.6h0.7v0.7h-0.7zM375.6 350.1h0.7v0.7h-0.7zM367.2 348.1h0.7v0.7h-0.7zM372.3 352.9h0.7v0.7h-0.7zM374.8 350.6h0.7v0.7h-0.7zM374.2 352.5h0.7v0.7h-0.7zM378.0 351.8h0.7v0.7h-0.7zM372.9 354.1h0.7v0.7h-0.7zM376.4 348.6h0.7v0.7h-0.7zM370.8 351.0h0.7v0.7h-0.7zM365.4 356.8h0.7v0.7h-0.7zM375.9 352.1h0.7v0.7h-0.7zM383.5 356.7h0.7v0.7h-0.7zM379.1 357.7h0.7v0.7h-0.7zM375.4 346.8h0.7v0.7h-0.7zM377.5 353.5h0.7v0.7h-0.7zM368.5 352.2h0.7v0.7h-0.7zM374.9 355.6h0.7v0.7h-0.7zM373.0 350.1h0.7v0.7h-0.7zM374.9 349.2h0.7v0.7h-0.7zM372.1 354.8h0.7v0.7h-0.7zM367.6 353.4h0.7v0.7h-0.7zM365.9 348.6h0.7v0.7h-0.7zM368.3 351.7h0.7v0.7h-0.7zM374.8 351.8h0.7v0.7h-0.7zM375.4 352.4h0.7v0.7h-0.7zM371.7 353.8h0.7v0.7h-0.7zM371.6 352.5h0.7v0.7h-0.7zM375.8 349.9h0.7v0.7h-0.7zM376.2 347.9h0.7v0.7h-0.7zM371.7 345.6h0.7v0.7h-0.7zM370.6 357.8h0.7v0.7h-0.7zM373.6 356.7h0.7v0.7h-0.7zM367.5 348.3h0.7v0.7h-0.7zM373.9 355.0h0.7v0.7h-0.7zM375.2 345.9h0.7v0.7h-0.7zM374.1 351.7h0.7v0.7h-0.7zM372.8 353.7h0.7v0.7h-0.7zM371.5 345.8h0.7v0.7h-0.7zM368.9 346.7h0.7v0.7h-0.7zM368.1 351.5h0.7v0.7h-0.7zM376.7 349.4h0.7v0.7h-0.7zM369.9 347.8h0.7v0.7h-0.7zM366.7 352.2h0.7v0.7h-0.7zM370.8 351.1h0.7v0.7h-0.7zM369.2 353.8h0.7v0.7h-0.7zM368.4 354.0h0.7v0.7h-0.7zM370.2 354.9h0.7v0.7h-0.7zM369.5 353.6h0.7v0.7h-0.7zM373.9 351.7h0.7v0.7h-0.7zM377.8 352.6h0.7v0.7h-0.7zM369.5 354.5h0.7v0.7h-0.7zM369.7 350.0h0.7v0.7h-0.7zM372.4 352.7h0.7v0.7h-0.7zM378.0 345.6h0.7v0.7h-0.7zM371.5 356.1h0.7v0.7h-0.7zM371.9 353.2h0.7v0.7h-0.7zM377.5 347.5h0.7v0.7h-0.7zM372.5 354.9h0.7v0.7h-0.7zM370.5 345.6h0.7v0.7h-0.7zM369.1 352.7h0.7v0.7h-0.7zM373.0 358.8h0.7v0.7h-0.7zM376.8 346.3h0.7v0.7h-0.7zM375.8 355.4h0.7v0.7h-0.7zM377.8 351.4h0.7v0.7h-0.7zM370.6 352.5h0.7v0.7h-0.7zM377.5 354.3h0.7v0.7h-0.7zM378.0 354.9h0.7v0.7h-0.7zM370.5 348.3h0.7v0.7h-0.7zM378.5 346.4h0.7v0.7h-0.7z" fill="#000" fill-opacity="0.25"/>
<path d="M392.7 331.1h0.7v0.7h-0.7zM390.0 330.5h0.7v0.7h-0.7zM394.4 338.4h0.7v0.7h-0.7zM394.1 330.6h0.7v0.7h-0.7zM395.0 334.5h0.7v0.7h-0.7zM390.4 330.9h0.7v0.7h-0.7zM385.9 333.9h0.7v0.7h-0.7zM397.7 336.1h0.7v0.7h-0.7zM388.6 337.9h0.7v0.7h-0.7zM398.7 331.3h0.7v0.7h-0.7zM392.5 331.2h0.7v0.7h-0.7zM388.5 334.1h0.7v0.7h-0.7zM391.4 330.0h0.7v0.7h-0.7zM396.9 332.3h0.7v0.7h-0.7zM391.6 331.4h0.7v0.7h-0.7zM392.0 335.6h0.7v0.7h-0.7zM399.3 330.0h0.7v0.7h-0.7zM394.2 335.7h0.7v0.7h-0.7zM393.0 336.8h0.7v0.7h-0.7zM396.6 333.8h0.7v0.7h-0.7zM396.1 333.6h0.7v0.7h-0.7zM396.7 333.4h0.7v0.7h-0.7zM391.9 334.4h0.7v0.7h-0.7zM394.7 329.2h0.7v0.7h-0.7zM389.4 332.4h0.7v0.7h-0.7zM396.0 326.0h0.7v0.7h-0.7zM394.3 339.7h0.7v0.7h-0.7zM386.9 331.3h0.7v0.7h-0.7zM391.5 333.5h0.7v0.7h-0.7zM401.3 336.4h0.7v0.7h-0.7zM389.5 335.3h0.7v0.7h-0.7zM388.5 332.8h0.7v0.7h-0.7zM395.2 333.7h0.7v0.7h-0.7zM390.5 335.6h0.7v0.7h-0.7zM394.1 331.9h0.7v0.7h-0.7zM393.1 329.1h0.7v0.7h-0.7zM397.9 332.9h0.7v0.7h-0.7zM396.6 337.1h0.7v0.7h-0.7z" fill="#000" fill-opacity="0.2"/>
<path d="M391.0 351.4h0.8v0.8h-0.8zM395.4 356.9h0.8v0.8h-0.8zM394.5 357.3h0.8v0.8h-0.8zM397.7 344.3h0.8v0.8h-0.8zM394.0 350.8h0.8v0.8h-0.8zM398.4 353.6h0.8v0.8h-0.8zM395.1 358.9h0.8v0.8h-0.8zM398.4 346.8h0.8v0.8h-0.8zM391.9 354.4h0.8v0.8h-0.8zM404.0 351.8h0.8v0.8h-0.8zM394.5 354.1h0.8v0.8h-0.8zM399.4 352.4h0.8v0.8h-0.8zM396.9 350.8h0.8v0.8h-0.8zM392.6 348.9h0.8v0.8h-0.8zM398.7 350.1h0.8v0.8h-0.8zM398.2 354.8h0.8v0.8h-0.8zM390.5 346.9h0.8v0.8h-0.8zM394.6 356.7h0.8v0.8h-0.8zM408.3 360.3h0.8v0.8h-0.8zM402.3 354.7h0.8v0.8h-0.8zM393.4 355.4h0.8v0.8h-0.8zM395.4 355.8h0.8v0.8h-0.8zM390.2 347.5h0.8v0.8h-0.8zM392.1 352.6h0.8v0.8h-0.8zM397.2 351.1h0.8v0.8h-0.8zM397.2 356.1h0.8v0.8h-0.8zM389.5 352.3h0.8v0.8h-0.8zM387.5 350.1h0.8v0.8h-0.8zM400.0 349.3h0.8v0.8h-0.8zM404.9 355.3h0.8v0.8h-0.8zM399.9 353.3h0.8v0.8h-0.8zM399.8 358.1h0.8v0.8h-0.8zM395.9 350.2h0.8v0.8h-0.8zM392.6 362.2h0.8v0.8h-0.8zM394.5 350.6h0.8v0.8h-0.8zM391.8 344.6h0.8v0.8h-0.8zM392.9 354.4h0.8v0.8h-0.8zM392.9 349.1h0.8v0.8h-0.8zM397.5 355.0h0.8v0.8h-0.8zM393.2 354.3h0.8v0.8h-0.8zM390.5 357.0h0.8v0.8h-0.8zM390.4 351.2h0.8v0.8h-0.8zM396.1 350.8h0.8v0.8h-0.8zM403.1 344.3h0.8v0.8h-0.8zM396.0 346.6h0.8v0.8h-0.8zM397.0 346.5h0.8v0.8h-0.8zM398.4 355.4h0.8v0.8h-0.8zM404.1 358.7h0.8v0.8h-0.8zM393.1 357.4h0.8v0.8h-0.8zM393.1 352.3h0.8v0.8h-0.8zM392.9 344.2h0.8v0.8h-0.8zM394.2 355.4h0.8v0.8h-0.8zM396.0 345.1h0.8v0.8h-0.8zM392.1 356.1h0.8v0.8h-0.8zM401.0 360.6h0.8v0.8h-0.8zM386.2 355.0h0.8v0.8h-0.8zM393.0 356.5h0.8v0.8h-0.8zM386.8 352.1h0.8v0.8h-0.8zM399.0 349.7h0.8v0.8h-0.8zM393.6 348.0h0.8v0.8h-0.8zM401.1 346.3h0.8v0.8h-0.8zM390.8 351.2h0.8v0.8h-0.8zM396.8 348.7h0.8v0.8h-0.8zM398.4 354.5h0.8v0.8h-0.8zM396.8 352.5h0.8v0.8h-0.8zM397.7 347.1h0.8v0.8h-0.8zM389.3 350.7h0.8v0.8h-0.8zM389.8 356.2h0.8v0.8h-0.8zM405.3 358.8h0.8v0.8h-0.8zM397.7 354.4h0.8v0.8h-0.8zM391.9 346.5h0.8v0.8h-0.8zM398.2 345.6h0.8v0.8h-0.8zM396.9 352.1h0.8v0.8h-0.8zM399.2 353.0h0.8v0.8h-0.8zM395.9 350.0h0.8v0.8h-0.8zM386.7 351.1h0.8v0.8h-0.8zM398.9 357.9h0.8v0.8h-0.8zM402.4 348.0h0.8v0.8h-0.8zM390.6 356.2h0.8v0.8h-0.8zM397.0 345.4h0.8v0.8h-0.8zM392.6 360.4h0.8v0.8h-0.8zM386.1 353.5h0.8v0.8h-0.8zM388.4 360.6h0.8v0.8h-0.8zM393.1 347.8h0.8v0.8h-0.8zM386.7 349.3h0.8v0.8h-0.8zM406.5 353.3h0.8v0.8h-0.8zM394.1 347.1h0.8v0.8h-0.8zM397.1 350.5h0.8v0.8h-0.8zM391.1 359.5h0.8v0.8h-0.8zM397.6 348.5h0.8v0.8h-0.8zM402.9 352.5h0.8v0.8h-0.8zM398.0 353.5h0.8v0.8h-0.8zM401.4 355.8h0.8v0.8h-0.8zM393.6 356.3h0.8v0.8h-0.8zM393.4 353.5h0.8v0.8h-0.8zM403.7 347.6h0.8v0.8h-0.8zM390.1 350.8h0.8v0.8h-0.8zM392.9 359.1h0.8v0.8h-0.8zM403.5 350.6h0.8v0.8h-0.8zM396.3 351.0h0.8v0.8h-0.8zM398.8 356.0h0.8v0.8h-0.8zM399.2 356.5h0.8v0.8h-0.8zM405.2 352.0h0.8v0.8h-0.8zM399.0 351.9h0.8v0.8h-0.8zM395.6 353.9h0.8v0.8h-0.8zM395.1 354.5h0.8v0.8h-0.8zM391.1 352.1h0.8v0.8h-0.8zM392.3 347.1h0.8v0.8h-0.8zM391.8 350.4h0.8v0.8h-0.8zM394.6 345.2h0.8v0.8h-0.8zM394.1 347.3h0.8v0.8h-0.8zM391.2 353.7h0.8v0.8h-0.8zM401.0 354.2h0.8v0.8h-0.8zM392.9 350.7h0.8v0.8h-0.8zM402.2 344.9h0.8v0.8h-0.8zM401.2 345.5h0.8v0.8h-0.8zM392.2 353.0h0.8v0.8h-0.8zM394.3 360.9h0.8v0.8h-0.8zM397.9 352.6h0.8v0.8h-0.8zM400.3 353.0h0.8v0.8h-0.8zM391.3 358.3h0.8v0.8h-0.8zM403.0 359.0h0.8v0.8h-0.8zM389.4 362.1h0.8v0.8h-0.8zM393.3 356.5h0.8v0.8h-0.8zM387.2 347.8h0.8v0.8h-0.8zM401.4 355.2h0.8v0.8h-0.8zM397.6 351.9h0.8v0.8h-0.8zM395.4 353.9h0.8v0.8h-0.8zM399.2 351.5h0.8v0.8h-0.8zM390.8 351.0h0.8v0.8h-0.8zM405.5 349.4h0.8v0.8h-0.8zM395.0 362.1h0.8v0.8h-0.8zM400.8 353.4h0.8v0.8h-0.8zM399.1 351.5h0.8v0.8h-0.8zM390.8 357.7h0.8v0.8h-0.8zM396.1 360.6h0.8v0.8h-0.8zM394.1 351.0h0.8v0.8h-0.8zM397.2 351.9h0.8v0.8h-0.8zM393.8 348.4h0.8v0.8h-0.8zM396.7 354.4h0.8v0.8h-0.8zM404.7 352.7h0.8v0.8h-0.8zM386.5 355.1h0.8v0.8h-0.8zM407.1 350.6h0.8v0.8h-0.8zM391.3 352.0h0.8v0.8h-0.8zM394.4 345.4h0.8v0.8h-0.8zM398.3 348.5h0.8v0.8h-0.8zM386.0 349.3h0.8v0.8h-0.8zM398.6 362.2h0.8v0.8h-0.8zM401.8 353.8h0.8v0.8h-0.8zM392.8 351.5h0.8v0.8h-0.8zM400.3 350.3h0.8v0.8h-0.8zM397.5 357.5h0.8v0.8h-0.8zM390.8 349.9h0.8v0.8h-0.8zM397.7 352.8h0.8v0.8h-0.8zM394.8 350.2h0.8v0.8h-0.8zM395.1 361.9h0.8v0.8h-0.8zM402.3 344.9h0.8v0.8h-0.8zM395.6 353.3h0.8v0.8h-0.8zM395.6 346.0h0.8v0.8h-0.8zM394.7 353.5h0.8v0.8h-0.8zM391.9 354.3h0.8v0.8h-0.8zM395.9 354.7h0.8v0.8h-0.8zM394.6 350.6h0.8v0.8h-0.8zM396.3 358.1h0.8v0.8h-0.8zM400.0 352.4h0.8v0.8h-0.8zM393.0 358.0h0.8v0.8h-0.8zM398.2 357.1h0.8v0.8h-0.8zM394.0 348.6h0.8v0.8h-0.8zM396.4 349.7h0.8v0.8h-0.8zM401.3 357.0h0.8v0.8h-0.8zM402.2 357.9h0.8v0.8h-0.8zM393.0 348.6h0.8v0.8h-0.8zM400.4 357.8h0.8v0.8h-0.8zM395.7 347.2h0.8v0.8h-0.8zM387.6 354.1h0.8v0.8h-0.8zM391.2 349.5h0.8v0.8h-0.8zM397.7 357.9h0.8v0.8h-0.8zM402.0 352.6h0.8v0.8h-0.8zM393.7 355.9h0.8v0.8h-0.8zM389.6 346.8h0.8v0.8h-0.8zM395.5 360.5h0.8v0.8h-0.8zM400.6 352.8h0.8v0.8h-0.8zM400.6 350.8h0.8v0.8h-0.8zM389.4 344.6h0.8v0.8h-0.8zM396.8 357.2h0.8v0.8h-0.8zM397.3 352.6h0.8v0.8h-0.8zM393.4 358.1h0.8v0.8h-0.8zM395.2 345.7h0.8v0.8h-0.8zM402.4 349.6h0.8v0.8h-0.8zM397.4 352.8h0.8v0.8h-0.8zM400.8 354.0h0.8v0.8h-0.8zM401.7 353.8h0.8v0.8h-0.8zM393.0 350.3h0.8v0.8h-0.8zM398.7 348.7h0.8v0.8h-0.8zM400.1 351.6h0.8v0.8h-0.8zM390.7 348.5h0.8v0.8h-0.8zM394.7 361.5h0.8v0.8h-0.8zM399.3 352.9h0.8v0.8h-0.8zM390.8 362.1h0.8v0.8h-0.8zM394.0 352.8h0.8v0.8h-0.8zM393.2 359.3h0.8v0.8h-0.8zM396.3 350.6h0.8v0.8h-0.8zM396.3 347.9h0.8v0.8h-0.8zM390.0 352.0h0.8v0.8h-0.8zM405.6 347.4h0.8v0.8h-0.8zM394.7 345.1h0.8v0.8h-0.8zM396.3 353.8h0.8v0.8h-0.8zM399.2 346.3h0.8v0.8h-0.8zM392.3 349.6h0.8v0.8h-0.8zM394.4 352.6h0.8v0.8h-0.8zM392.8 356.7h0.8v0.8h-0.8zM408.5 358.5h0.8v0.8h-0.8zM403.2 347.5h0.8v0.8h-0.8zM400.8 352.9h0.8v0.8h-0.8zM401.8 358.0h0.8v0.8h-0.8zM398.7 344.6h0.8v0.8h-0.8zM396.1 350.3h0.8v0.8h-0.8zM397.7 353.0h0.8v0.8h-0.8zM400.8 344.9h0.8v0.8h-0.8zM391.6 352.4h0.8v0.8h-0.8zM397.0 350.8h0.8v0.8h-0.8zM395.3 353.1h0.8v0.8h-0.8zM400.8 352.2h0.8v0.8h-0.8zM396.6 343.9h0.8v0.8h-0.8zM397.5 352.3h0.8v0.8h-0.8zM395.4 349.2h0.8v0.8h-0.8zM393.3 356.9h0.8v0.8h-0.8zM397.2 352.7h0.8v0.8h-0.8zM392.9 353.8h0.8v0.8h-0.8zM401.5 352.7h0.8v0.8h-0.8zM393.5 347.0h0.8v0.8h-0.8zM395.9 348.3h0.8v0.8h-0.8zM388.1 357.1h0.8v0.8h-0.8zM391.7 361.8h0.8v0.8h-0.8zM394.9 346.3h0.8v0.8h-0.8zM389.8 356.3h0.8v0.8h-0.8zM397.5 353.8h0.8v0.8h-0.8zM394.4 355.2h0.8v0.8h-0.8zM403.3 355.2h0.8v0.8h-0.8zM394.6 345.9h0.8v0.8h-0.8zM397.7 360.5h0.8v0.8h-0.8zM398.7 346.6h0.8v0.8h-0.8zM396.3 359.2h0.8v0.8h-0.8zM392.2 355.2h0.8v0.8h-0.8zM401.6 360.8h0.8v0.8h-0.8zM387.3 344.2h0.8v0.8h-0.8zM397.3 356.3h0.8v0.8h-0.8zM393.6 352.7h0.8v0.8h-0.8zM393.3 358.7h0.8v0.8h-0.8zM388.9 349.5h0.8v0.8h-0.8zM387.6 348.3h0.8v0.8h-0.8zM395.3 352.9h0.8v0.8h-0.8zM404.6 351.7h0.8v0.8h-0.8zM397.2 354.5h0.8v0.8h-0.8zM396.7 360.0h0.8v0.8h-0.8zM396.1 353.5h0.8v0.8h-0.8zM394.8 352.8h0.8v0.8h-0.8zM395.1 357.7h0.8v0.8h-0.8zM395.5 353.1h0.8v0.8h-0.8zM395.2 356.5h0.8v0.8h-0.8zM393.0 357.4h0.8v0.8h-0.8zM392.5 356.2h0.8v0.8h-0.8zM405.2 353.9h0.8v0.8h-0.8zM395.0 347.0h0.8v0.8h-0.8zM399.2 352.9h0.8v0.8h-0.8zM400.1 349.6h0.8v0.8h-0.8zM398.1 361.7h0.8v0.8h-0.8zM397.5 351.2h0.8v0.8h-0.8zM388.7 352.8h0.8v0.8h-0.8zM398.8 355.7h0.8v0.8h-0.8zM389.7 347.7h0.8v0.8h-0.8zM390.4 347.8h0.8v0.8h-0.8zM394.0 354.1h0.8v0.8h-0.8zM405.3 353.8h0.8v0.8h-0.8zM402.9 344.7h0.8v0.8h-0.8zM403.3 356.7h0.8v0.8h-0.8zM397.7 356.9h0.8v0.8h-0.8zM398.6 362.2h0.8v0.8h-0.8zM399.5 344.2h0.8v0.8h-0.8zM386.4 360.7h0.8v0.8h-0.8zM395.0 359.3h0.8v0.8h-0.8zM393.6 349.6h0.8v0.8h-0.8zM393.6 354.4h0.8v0.8h-0.8zM396.4 349.7h0.8v0.8h-0.8zM398.2 355.8h0.8v0.8h-0.8zM390.7 347.3h0.8v0.8h-0.8zM385.3 351.3h0.8v0.8h-0.8zM395.5 349.4h0.8v0.8h-0.8zM392.3 352.1h0.8v0.8h-0.8zM395.6 355.6h0.8v0.8h-0.8zM399.7 355.0h0.8v0.8h-0.8zM401.1 348.0h0.8v0.8h-0.8zM398.5 354.6h0.8v0.8h-0.8zM390.0 349.5h0.8v0.8h-0.8zM397.7 353.2h0.8v0.8h-0.8zM388.9 350.1h0.8v0.8h-0.8zM403.2 357.0h0.8v0.8h-0.8zM395.8 359.5h0.8v0.8h-0.8zM390.7 352.0h0.8v0.8h-0.8zM400.3 351.1h0.8v0.8h-0.8zM389.7 355.7h0.8v0.8h-0.8zM396.2 346.6h0.8v0.8h-0.8zM393.9 345.8h0.8v0.8h-0.8zM408.8 349.4h0.8v0.8h-0.8zM395.6 349.3h0.8v0.8h-0.8zM390.3 350.6h0.8v0.8h-0.8zM396.5 361.5h0.8v0.8h-0.8zM396.9 360.5h0.8v0.8h-0.8zM389.9 353.2h0.8v0.8h-0.8zM393.2 345.1h0.8v0.8h-0.8zM414.6 351.6h0.8v0.8h-0.8zM396.7 349.1h0.8v0.8h-0.8zM392.4 347.7h0.8v0.8h-0.8zM400.7 350.8h0.8v0.8h-0.8zM394.7 353.7h0.8v0.8h-0.8zM389.1 353.9h0.8v0.8h-0.8zM394.5 355.0h0.8v0.8h-0.8zM393.4 353.0h0.8v0.8h-0.8zM398.1 357.6h0.8v0.8h-0.8zM391.9 357.6h0.8v0.8h-0.8zM390.3 351.9h0.8v0.8h-0.8zM396.1 353.5h0.8v0.8h-0.8zM394.5 357.4h0.8v0.8h-0.8zM391.8 360.3h0.8v0.8h-0.8zM386.1 353.2h0.8v0.8h-0.8zM398.2 352.9h0.8v0.8h-0.8zM396.8 357.4h0.8v0.8h-0.8zM391.3 355.7h0.8v0.8h-0.8zM400.9 351.6h0.8v0.8h-0.8zM391.0 347.6h0.8v0.8h-0.8zM397.6 348.8h0.8v0.8h-0.8zM408.1 355.6h0.8v0.8h-0.8zM388.7 351.4h0.8v0.8h-0.8zM403.3 356.2h0.8v0.8h-0.8zM390.2 357.9h0.8v0.8h-0.8zM392.6 355.7h0.8v0.8h-0.8zM398.3 350.6h0.8v0.8h-0.8zM394.6 358.5h0.8v0.8h-0.8zM398.0 352.5h0.8v0.8h-0.8zM397.7 361.4h0.8v0.8h-0.8zM400.2 355.2h0.8v0.8h-0.8zM397.1 345.1h0.8v0.8h-0.8zM396.1 350.4h0.8v0.8h-0.8zM399.2 349.8h0.8v0.8h-0.8zM397.7 347.6h0.8v0.8h-0.8zM400.0 349.2h0.8v0.8h-0.8zM395.3 355.7h0.8v0.8h-0.8zM393.7 352.8h0.8v0.8h-0.8zM400.9 361.5h0.8v0.8h-0.8zM386.1 348.3h0.8v0.8h-0.8zM398.9 357.4h0.8v0.8h-0.8zM393.0 353.3h0.8v0.8h-0.8zM394.4 346.9h0.8v0.8h-0.8zM387.4 346.5h0.8v0.8h-0.8zM402.1 350.9h0.8v0.8h-0.8zM405.4 356.0h0.8v0.8h-0.8zM397.4 356.0h0.8v0.8h-0.8zM399.5 357.3h0.8v0.8h-0.8zM390.4 350.0h0.8v0.8h-0.8zM392.6 353.3h0.8v0.8h-0.8zM394.1 346.7h0.8v0.8h-0.8zM391.8 361.6h0.8v0.8h-0.8zM406.3 348.6h0.8v0.8h-0.8zM397.4 352.6h0.8v0.8h-0.8zM391.1 356.3h0.8v0.8h-0.8zM395.0 361.0h0.8v0.8h-0.8zM397.7 351.3h0.8v0.8h-0.8zM399.8 349.3h0.8v0.8h-0.8zM399.9 356.2h0.8v0.8h-0.8zM386.3 351.8h0.8v0.8h-0.8z" fill="#000" fill-opacity="0.4"/>
<ellipse cx="395.4" cy="352.8" rx="9.0" ry="9.2" fill="url(#g1)" fill-opacity="1.0"/>
<line x1="361.79999999999995" y1="301.5" x2="364.4" y2="301.5" stroke="#777" stroke-width="0.7"/>
<line x1="360.2" y1="300.3" x2="360.2" y2="302.1" stroke="#aaa" stroke-width="0.5"/>
<line x1="364.4" y1="362.8" x2="364.4" y2="365.40000000000003" stroke="#777" stroke-width="0.7"/>
<line x1="363.59999999999997" y1="366.6" x2="365.2" y2="366.6" stroke="#aaa" stroke-width="0.5"/>
<line x1="361.79999999999995" y1="316.825" x2="364.4" y2="316.825" stroke="#777" stroke-width="0.7"/>
<line x1="360.2" y1="315.625" x2="360.2" y2="317.425" stroke="#aaa" stroke-width="0.5"/>
<line x1="379.84999999999997" y1="362.8" x2="379.84999999999997" y2="365.40000000000003" stroke="#777" stroke-width="0.7"/>
<line x1="379.04999999999995" y1="366.6" x2="380.65" y2="366.6" stroke="#aaa" stroke-width="0.5"/>
<line x1="361.79999999999995" y1="332.15" x2="364.4" y2="332.15" stroke="#777" stroke-width="0.7"/>
<line x1="360.2" y1="330.95" x2="360.2" y2="332.75" stroke="#aaa" stroke-width="0.5"/>
<line x1="395.29999999999995" y1="362.8" x2="395.29999999999995" y2="365.40000000000003" stroke="#777" stroke-width="0.7"/>
<line x1="394.49999999999994" y1="366.6" x2="396.09999999999997" y2="366.6" stroke="#aaa" stroke-width="0.5"/>
<line x1="361.79999999999995" y1="347.475" x2="364.4" y2="347.475" stroke="#777" stroke-width="0.7"/>
<line x1="360.2" y1="346.27500000000003" x2="360.2" y2="348.07500000000005" stroke="#aaa" stroke-width="0.5"/>
<line x1="410.75" y1="362.8" x2="410.75" y2="365.40000000000003" stroke="#777" stroke-width="0.7"/>
<line x1="409.95" y1="366.6" x2="411.55" y2="366.6" stroke="#aaa" stroke-width="0.5"/>
<line x1="361.79999999999995" y1="362.8" x2="364.4" y2="362.8" stroke="#777" stroke-width="0.7"/>
<line x1="360.2" y1="361.6" x2="360.2" y2="363.40000000000003" stroke="#aaa" stroke-width="0.5"/>
<line x1="426.2" y1="362.8" x2="426.2" y2="365.40000000000003" stroke="#777" stroke-width="0.7"/>
<line x1="425.4" y1="366.6" x2="427.0" y2="366.6" stroke="#aaa" stroke-width="0.5"/>
<line x1="364.4" y1="301.5" x2="364.4" y2="362.8" stroke="#333" stroke-width="0.9"/>
<line x1="364.4" y1="362.8" x2="426.2" y2="362.8" stroke="#333" stroke-width="0.9"/>
<line x1="384.9" y1="301.5" x2="384.9" y2="362.8" stroke="#222" stroke-width="1.1"/>
<line x1="364.4" y1="343.3" x2="427.2" y2="343.3" stroke="#222" stroke-width="1.1"/>
<path d="M449.5 335.5h0.7v0.7h-0.7zM449.0 333.0h0.7v0.7h-0.7zM447.2 332.1h0.7v0.7h-0.7zM448.4 329.5h0.7v0.7h-0.7zM450.7 331.9h0.7v0.7h-0.7zM450.3 331.3h0.7v0.7h-0.7zM449.9 333.4h0.7v0.7h-0.7zM451.6 334.5h0.7v0.7h-0.7zM451.7 332.5h0.7v0.7h-0.7zM448.2 332.1h0.7v0.7h-0.7zM443.9 332.6h0.7v0.7h-0.7zM452.3 335.5h0.7v0.7h-0.7zM445.4 334.0h0.7v0.7h-0.7zM451.1 328.6h0.7v0.7h-0.7zM449.6 334.1h0.7v0.7h-0.7zM451.1 333.8h0.7v0.7h-0.7zM442.2 326.4h0.7v0.7h-0.7zM455.5 331.7h0.7v0.7h-0.7zM452.9 337.1h0.7v0.7h-0.7zM448.7 329.3h0.7v0.7h-0.7zM453.3 332.9h0.7v0.7h-0.7zM450.2 334.6h0.7v0.7h-0.7zM451.8 336.3h0.7v0.7h-0.7zM443.3 328.4h0.7v0.7h-0.7zM448.9 333.0h0.7v0.7h-0.7zM451.2 332.6h0.7v0.7h-0.7zM447.8 339.6h0.7v0.7h-0.7zM453.3 336.8h0.7v0.7h-0.7zM452.1 330.4h0.7v0.7h-0.7zM448.1 332.8h0.7v0.7h-0.7zM444.5 330.2h0.7v0.7h-0.7zM449.0 329.1h0.7v0.7h-0.7zM450.3 334.5h0.7v0.7h-0.7zM447.6 331.9h0.7v0.7h-0.7zM450.5 334.6h0.7v0.7h-0.7zM449.7 329.0h0.7v0.7h-0.7zM442.6 339.7h0.7v0.7h-0.7zM446.1 331.8h0.7v0.7h-0.7zM441.9 330.4h0.7v0.7h-0.7zM445.8 335.6h0.7v0.7h-0.7zM446.9 331.4h0.7v0.7h-0.7zM445.6 331.6h0.7v0.7h-0.7zM442.8 333.9h0.7v0.7h-0.7zM452.7 333.5h0.7v0.7h-0.7zM446.5 337.1h0.7v0.7h-0.7zM450.1 329.7h0.7v0.7h-0.7zM446.4 331.0h0.7v0.7h-0.7zM448.2 336.9h0.7v0.7h-0.7zM445.9 332.5h0.7v0.7h-0.7zM448.8 329.1h0.7v0.7h-0.7zM446.7 335.0h0.7v0.7h-0.7zM452.4 326.9h0.7v0.7h-0.7zM450.9 332.1h0.7v0.7h-0.7zM453.0 335.0h0.7v0.7h-0.7zM455.4 334.0h0.7v0.7h-0.7zM447.0 330.3h0.7v0.7h-0.7zM443.3 334.8h0.7v0.7h-0.7zM450.2 335.7h0.7v0.7h-0.7zM449.6 328.1h0.7v0.7h-0.7zM447.0 332.2h0.7v0.7h-0.7zM449.0 335.5h0.7v0.7h-0.7zM453.4 333.9h0.7v0.7h-0.7zM441.1 329.7h0.7v0.7h-0.7zM440.8 330.5h0.7v0.7h-0.7zM444.1 333.8h0.7v0.7h-0.7zM447.6 336.6h0.7v0.7h-0.7zM452.2 331.5h0.7v0.7h-0.7zM451.8 333.0h0.7v0.7h-0.7zM450.0 337.4h0.7v0.7h-0.7zM444.3 332.8h0.7v0.7h-0.7zM453.9 330.5h0.7v0.7h-0.7zM449.2 333.4h0.7v0.7h-0.7zM446.9 328.8h0.7v0.7h-0.7zM446.0 329.8h0.7v0.7h-0.7zM452.2 333.8h0.7v0.7h-0.7zM450.9 329.2h0.7v0.7h-0.7zM450.2 333.5h0.7v0.7h-0.7zM452.1 330.7h0.7v0.7h-0.7zM451.3 337.4h0.7v0.7h-0.7zM454.8 330.0h0.7v0.7h-0.7zM444.4 328.3h0.7v0.7h-0.7zM451.8 334.9h0.7v0.7h-0.7zM449.6 330.2h0.7v0.7h-0.7zM452.9 338.2h0.7v0.7h-0.7zM448.3 332.6h0.7v0.7h-0.7zM452.6 334.6h0.7v0.7h-0.7zM453.2 331.7h0.7v0.7h-0.7zM449.6 331.9h0.7v0.7h-0.7zM446.4 332.0h0.7v0.7h-0.7zM447.4 334.6h0.7v0.7h-0.7zM447.3 333.2h0.7v0.7h-0.7zM445.5 329.0h0.7v0.7h-0.7zM453.5 329.8h0.7v0.7h-0.7zM454.9 336.0h0.7v0.7h-0.7zM446.9 333.1h0.7v0.7h-0.7zM447.8 331.0h0.7v0.7h-0.7zM452.9 332.6h0.7v0.7h-0.7zM451.8 330.8h0.7v0.7h-0.7zM445.9 337.3h0.7v0.7h-0.7zM447.4 329.5h0.7v0.7h-0.7zM447.8 336.4h0.7v0.7h-0.7zM447.8 330.7h0.7v0.7h-0.7zM450.7 336.2h0.7v0.7h-0.7zM447.7 332.0h0.7v0.7h-0.7zM447.1 341.7h0.7v0.7h-0.7zM447.7 338.6h0.7v0.7h-0.7zM447.9 334.3h0.7v0.7h-0.7zM441.2 333.6h0.7v0.7h-0.7zM448.6 332.0h0.7v0.7h-0.7zM447.0 328.6h0.7v0.7h-0.7zM443.1 333.5h0.7v0.7h-0.7zM446.1 332.7h0.7v0.7h-0.7zM447.8 331.4h0.7v0.7h-0.7zM445.8 339.0h0.7v0.7h-0.7zM444.5 331.4h0.7v0.7h-0.7zM447.4 329.3h0.7v0.7h-0.7zM445.0 335.8h0.7v0.7h-0.7zM451.7 333.4h0.7v0.7h-0.7zM459.9 335.7h0.7v0.7h-0.7zM452.8 330.4h0.7v0.7h-0.7zM452.3 338.4h0.7v0.7h-0.7zM447.1 338.8h0.7v0.7h-0.7zM445.5 329.3h0.7v0.7h-0.7zM448.2 330.4h0.7v0.7h-0.7zM450.7 329.4h0.7v0.7h-0.7zM448.7 326.7h0.7v0.7h-0.7zM448.3 336.4h0.7v0.7h-0.7zM447.5 334.0h0.7v0.7h-0.7zM452.3 329.5h0.7v0.7h-0.7zM443.9 333.3h0.7v0.7h-0.7zM449.4 332.1h0.7v0.7h-0.7zM445.0 336.9h0.7v0.7h-0.7zM444.3 332.2h0.7v0.7h-0.7zM448.3 335.3h0.7v0.7h-0.7zM446.8 330.4h0.7v0.7h-0.7zM455.6 330.3h0.7v0.7h-0.7zM451.2 332.5h0.7v0.7h-0.7zM446.7 332.9h0.7v0.7h-0.7zM447.5 334.0h0.7v0.7h-0.7zM448.7 329.9h0.7v0.7h-0.7zM447.0 340.5h0.7v0.7h-0.7zM455.0 335.1h0.7v0.7h-0.7zM449.2 332.0h0.7v0.7h-0.7zM453.3 331.6h0.7v0.7h-0.7zM445.5 335.2h0.7v0.7h-0.7zM445.0 330.5h0.7v0.7h-0.7zM453.6 327.8h0.7v0.7h-0.7zM448.2 333.4h0.7v0.7h-0.7zM449.3 328.3h0.7v0.7h-0.7zM447.6 331.9h0.7v0.7h-0.7zM455.2 336.2h0.7v0.7h-0.7zM445.7 335.8h0.7v0.7h-0.7zM450.7 332.6h0.7v0.7h-0.7zM447.6 332.1h0.7v0.7h-0.7zM442.9 331.0h0.7v0.7h-0.7zM451.7 337.7h0.7v0.7h-0.7zM455.0 331.8h0.7v0.7h-0.7zM450.6 325.3h0.7v0.7h-0.7zM447.5 328.9h0.7v0.7h-0.7zM451.3 327.7h0.7v0.7h-0.7zM444.7 329.4h0.7v0.7h-0.7zM449.8 335.7h0.7v0.7h-0.7zM445.1 338.8h0.7v0.7h-0.7zM449.0 330.3h0.7v0.7h-0.7zM449.7 333.0h0.7v0.7h-0.7zM451.4 334.1h0.7v0.7h-0.7zM456.2 336.8h0.7v0.7h-0.7zM446.1 335.5h0.7v0.7h-0.7zM451.1 329.8h0.7v0.7h-0.7zM445.8 330.4h0.7v0.7h-0.7zM447.6 337.0h0.7v0.7h-0.7zM446.4 333.2h0.7v0.7h-0.7zM451.0 336.1h0.7v0.7h-0.7zM449.6 329.7h0.7v0.7h-0.7zM456.2 335.8h0.7v0.7h-0.7zM453.3 338.2h0.7v0.7h-0.7zM453.4 334.3h0.7v0.7h-0.7zM450.1 335.0h0.7v0.7h-0.7zM443.1 335.6h0.7v0.7h-0.7zM445.0 334.4h0.7v0.7h-0.7zM444.8 335.3h0.7v0.7h-0.7zM446.7 341.0h0.7v0.7h-0.7zM449.1 334.6h0.7v0.7h-0.7zM445.2 332.1h0.7v0.7h-0.7zM448.2 332.1h0.7v0.7h-0.7zM446.9 330.2h0.7v0.7h-0.7zM451.1 331.8h0.7v0.7h-0.7zM445.5 334.2h0.7v0.7h-0.7zM445.5 332.4h0.7v0.7h-0.7zM446.6 330.0h0.7v0.7h-0.7zM447.6 330.4h0.7v0.7h-0.7zM444.0 334.1h0.7v0.7h-0.7zM447.4 328.3h0.7v0.7h-0.7zM447.0 333.6h0.7v0.7h-0.7zM449.9 334.2h0.7v0.7h-0.7zM449.3 334.9h0.7v0.7h-0.7zM446.7 330.4h0.7v0.7h-0.7zM450.6 331.7h0.7v0.7h-0.7zM448.5 335.1h0.7v0.7h-0.7zM451.8 336.9h0.7v0.7h-0.7zM446.0 331.8h0.7v0.7h-0.7zM450.4 328.4h0.7v0.7h-0.7zM444.0 335.0h0.7v0.7h-0.7zM446.3 330.0h0.7v0.7h-0.7zM451.3 334.7h0.7v0.7h-0.7zM451.7 331.9h0.7v0.7h-0.7zM447.4 331.9h0.7v0.7h-0.7zM449.5 326.5h0.7v0.7h-0.7zM446.0 335.3h0.7v0.7h-0.7zM445.7 332.8h0.7v0.7h-0.7zM448.9 334.7h0.7v0.7h-0.7zM446.7 329.4h0.7v0.7h-0.7zM457.3 330.7h0.7v0.7h-0.7zM454.5 327.4h0.7v0.7h-0.7zM448.8 332.4h0.7v0.7h-0.7zM455.1 339.6h0.7v0.7h-0.7zM451.9 329.7h0.7v0.7h-0.7zM445.6 330.6h0.7v0.7h-0.7zM446.6 333.8h0.7v0.7h-0.7zM445.6 332.2h0.7v0.7h-0.7zM453.6 337.6h0.7v0.7h-0.7zM441.8 329.9h0.7v0.7h-0.7zM447.1 337.2h0.7v0.7h-0.7zM447.3 339.1h0.7v0.7h-0.7zM449.7 337.6h0.7v0.7h-0.7zM445.4 332.0h0.7v0.7h-0.7zM452.0 334.8h0.7v0.7h-0.7zM441.8 332.1h0.7v0.7h-0.7zM449.1 335.0h0.7v0.7h-0.7zM446.2 338.6h0.7v0.7h-0.7zM449.0 337.6h0.7v0.7h-0.7zM449.9 333.3h0.7v0.7h-0.7zM447.3 329.3h0.7v0.7h-0.7zM451.5 335.4h0.7v0.7h-0.7zM451.7 331.8h0.7v0.7h-0.7zM444.9 331.8h0.7v0.7h-0.7zM447.3 333.0h0.7v0.7h-0.7zM451.9 330.1h0.7v0.7h-0.7zM446.7 335.2h0.7v0.7h-0.7zM451.6 340.1h0.7v0.7h-0.7zM450.3 330.3h0.7v0.7h-0.7zM444.8 330.5h0.7v0.7h-0.7zM448.7 333.8h0.7v0.7h-0.7zM448.2 331.0h0.7v0.7h-0.7zM447.8 332.8h0.7v0.7h-0.7zM450.5 333.3h0.7v0.7h-0.7zM445.6 329.3h0.7v0.7h-0.7zM453.7 332.7h0.7v0.7h-0.7zM447.8 332.9h0.7v0.7h-0.7zM452.4 332.0h0.7v0.7h-0.7zM449.1 332.2h0.7v0.7h-0.7zM450.5 329.8h0.7v0.7h-0.7zM449.2 336.3h0.7v0.7h-0.7zM452.6 335.0h0.7v0.7h-0.7zM449.5 338.0h0.7v0.7h-0.7zM450.9 337.5h0.7v0.7h-0.7zM444.2 329.5h0.7v0.7h-0.7zM451.3 332.2h0.7v0.7h-0.7zM446.9 330.0h0.7v0.7h-0.7zM453.7 329.2h0.7v0.7h-0.7zM448.8 328.5h0.7v0.7h-0.7zM447.8 340.2h0.7v0.7h-0.7zM457.0 331.4h0.7v0.7h-0.7zM444.9 338.2h0.7v0.7h-0.7zM445.4 327.3h0.7v0.7h-0.7zM449.7 329.6h0.7v0.7h-0.7zM443.3 336.6h0.7v0.7h-0.7zM445.9 329.6h0.7v0.7h-0.7zM449.0 332.4h0.7v0.7h-0.7zM452.4 333.3h0.7v0.7h-0.7zM454.1 336.6h0.7v0.7h-0.7zM454.7 336.6h0.7v0.7h-0.7zM448.7 334.7h0.7v0.7h-0.7zM448.5 328.0h0.7v0.7h-0.7zM444.3 335.4h0.7v0.7h-0.7zM443.9 332.8h0.7v0.7h-0.7zM444.8 333.8h0.7v0.7h-0.7zM447.8 331.5h0.7v0.7h-0.7zM445.5 325.9h0.7v0.7h-0.7zM448.7 328.9h0.7v0.7h-0.7zM447.4 334.2h0.7v0.7h-0.7zM452.1 335.3h0.7v0.7h-0.7zM453.7 328.5h0.7v0.7h-0.7zM450.8 338.0h0.7v0.7h-0.7zM449.8 329.5h0.7v0.7h-0.7zM449.9 331.4h0.7v0.7h-0.7zM446.2 336.4h0.7v0.7h-0.7zM447.8 329.4h0.7v0.7h-0.7zM446.1 339.3h0.7v0.7h-0.7zM445.5 335.2h0.7v0.7h-0.7zM449.1 336.7h0.7v0.7h-0.7zM447.5 330.0h0.7v0.7h-0.7zM446.2 329.7h0.7v0.7h-0.7zM457.6 333.6h0.7v0.7h-0.7zM447.3 337.0h0.7v0.7h-0.7zM450.8 332.4h0.7v0.7h-0.7zM450.6 333.9h0.7v0.7h-0.7zM452.4 338.3h0.7v0.7h-0.7zM447.4 332.9h0.7v0.7h-0.7zM447.8 336.9h0.7v0.7h-0.7zM449.8 335.5h0.7v0.7h-0.7zM451.6 331.0h0.7v0.7h-0.7zM448.9 337.4h0.7v0.7h-0.7zM451.7 335.6h0.7v0.7h-0.7zM447.5 331.9h0.7v0.7h-0.7zM445.4 332.1h0.7v0.7h-0.7zM448.2 328.4h0.7v0.7h-0.7zM452.5 330.6h0.7v0.7h-0.7zM449.3 334.9h0.7v0.7h-0.7zM446.5 327.2h0.7v0.7h-0.7zM451.9 334.3h0.7v0.7h-0.7zM447.6 336.6h0.7v0.7h-0.7zM451.6 330.0h0.7v0.7h-0.7zM448.2 327.4h0.7v0.7h-0.7zM447.5 337.5h0.7v0.7h-0.7z" fill="#000" fill-opacity="0.4"/>
<ellipse cx="448.0" cy="333" rx="6.4" ry="5.6" fill="url(#g2)" fill-opacity="1.0"/>
<ellipse cx="447.6" cy="333.2" rx="3.2" ry="2.8" fill="url(#g2)" fill-opacity="0.6"/>
<path d="M445.9 355.0h0.7v0.7h-0.7zM443.6 350.9h0.7v0.7h-0.7zM451.8 358.3h0.7v0.7h-0.7zM450.2 354.8h0.7v0.7h-0.7zM443.0 359.0h0.7v0.7h-0.7zM456.8 354.2h0.7v0.7h-0.7zM448.9 353.0h0.7v0.7h-0.7zM448.8 349.8h0.7v0.7h-0.7zM448.6 351.5h0.7v0.7h-0.7zM450.9 354.5h0.7v0.7h-0.7zM451.9 354.2h0.7v0.7h-0.7zM445.4 357.1h0.7v0.7h-0.7zM449.8 350.1h0.7v0.7h-0.7zM454.9 348.0h0.7v0.7h-0.7zM444.8 350.2h0.7v0.7h-0.7zM450.0 354.9h0.7v0.7h-0.7zM449.0 354.5h0.7v0.7h-0.7zM446.3 349.8h0.7v0.7h-0.7zM449.1 347.1h0.7v0.7h-0.7zM449.3 350.6h0.7v0.7h-0.7zM450.9 348.3h0.7v0.7h-0.7zM446.9 349.9h0.7v0.7h-0.7zM447.4 348.3h0.7v0.7h-0.7zM447.8 347.0h0.7v0.7h-0.7zM450.4 354.5h0.7v0.7h-0.7zM448.6 351.3h0.7v0.7h-0.7zM445.7 348.5h0.7v0.7h-0.7zM447.9 348.7h0.7v0.7h-0.7zM444.8 352.6h0.7v0.7h-0.7zM448.6 350.5h0.7v0.7h-0.7zM446.0 351.8h0.7v0.7h-0.7zM446.4 350.4h0.7v0.7h-0.7zM449.3 354.7h0.7v0.7h-0.7zM451.2 349.8h0.7v0.7h-0.7zM452.6 347.8h0.7v0.7h-0.7zM448.1 356.8h0.7v0.7h-0.7zM456.5 352.5h0.7v0.7h-0.7zM447.5 350.6h0.7v0.7h-0.7zM444.7 351.5h0.7v0.7h-0.7zM447.3 349.2h0.7v0.7h-0.7zM452.6 349.2h0.7v0.7h-0.7zM454.2 355.1h0.7v0.7h-0.7zM450.8 349.9h0.7v0.7h-0.7zM447.0 344.7h0.7v0.7h-0.7zM449.6 351.0h0.7v0.7h-0.7zM449.9 349.5h0.7v0.7h-0.7zM450.3 346.5h0.7v0.7h-0.7zM441.4 353.8h0.7v0.7h-0.7zM452.9 350.7h0.7v0.7h-0.7zM448.1 346.4h0.7v0.7h-0.7zM445.4 354.6h0.7v0.7h-0.7zM446.2 351.9h0.7v0.7h-0.7zM448.1 359.3h0.7v0.7h-0.7zM451.6 347.2h0.7v0.7h-0.7zM447.1 347.8h0.7v0.7h-0.7zM444.1 349.5h0.7v0.7h-0.7zM452.3 352.2h0.7v0.7h-0.7zM450.9 351.5h0.7v0.7h-0.7zM447.3 352.3h0.7v0.7h-0.7zM448.4 359.1h0.7v0.7h-0.7zM454.6 353.4h0.7v0.7h-0.7zM450.6 344.7h0.7v0.7h-0.7zM448.2 360.8h0.7v0.7h-0.7zM446.0 355.0h0.7v0.7h-0.7zM452.7 350.5h0.7v0.7h-0.7zM447.9 350.3h0.7v0.7h-0.7zM451.3 352.1h0.7v0.7h-0.7zM453.6 356.4h0.7v0.7h-0.7zM448.6 361.6h0.7v0.7h-0.7zM447.6 349.8h0.7v0.7h-0.7zM447.9 348.8h0.7v0.7h-0.7zM447.3 351.7h0.7v0.7h-0.7zM451.6 346.2h0.7v0.7h-0.7zM444.0 349.2h0.7v0.7h-0.7zM447.6 353.7h0.7v0.7h-0.7zM446.1 357.6h0.7v0.7h-0.7zM446.9 351.2h0.7v0.7h-0.7zM448.8 356.3h0.7v0.7h-0.7zM449.6 352.1h0.7v0.7h-0.7zM446.9 352.6h0.7v0.7h-0.7zM450.0 350.7h0.7v0.7h-0.7zM448.6 345.2h0.7v0.7h-0.7zM446.9 356.4h0.7v0.7h-0.7zM453.3 351.7h0.7v0.7h-0.7zM441.6 358.8h0.7v0.7h-0.7zM448.1 361.5h0.7v0.7h-0.7zM447.3 355.7h0.7v0.7h-0.7zM446.6 357.1h0.7v0.7h-0.7zM452.4 348.1h0.7v0.7h-0.7zM452.9 362.5h0.7v0.7h-0.7zM447.9 347.6h0.7v0.7h-0.7zM449.5 350.5h0.7v0.7h-0.7zM443.7 348.1h0.7v0.7h-0.7zM449.4 346.4h0.7v0.7h-0.7zM452.2 353.7h0.7v0.7h-0.7zM448.1 357.2h0.7v0.7h-0.7zM445.6 354.5h0.7v0.7h-0.7zM444.2 350.8h0.7v0.7h-0.7zM450.7 350.0h0.7v0.7h-0.7zM448.3 354.4h0.7v0.7h-0.7zM453.6 356.8h0.7v0.7h-0.7zM450.1 351.0h0.7v0.7h-0.7zM443.9 358.3h0.7v0.7h-0.7zM454.8 344.1h0.7v0.7h-0.7zM451.5 351.8h0.7v0.7h-0.7zM451.0 353.2h0.7v0.7h-0.7zM448.0 352.0h0.7v0.7h-0.7z" fill="#000" fill-opacity="0.25"/>
<path d="M470.5 335.2h0.7v0.7h-0.7zM469.4 330.5h0.7v0.7h-0.7zM473.8 333.8h0.7v0.7h-0.7zM472.7 332.8h0.7v0.7h-0.7zM477.7 335.0h0.7v0.7h-0.7zM471.7 331.4h0.7v0.7h-0.7zM473.8 326.9h0.7v0.7h-0.7zM468.1 330.1h0.7v0.7h-0.7zM471.5 331.0h0.7v0.7h-0.7zM482.5 334.0h0.7v0.7h-0.7zM472.6 338.1h0.7v0.7h-0.7zM470.6 331.1h0.7v0.7h-0.7zM476.6 334.3h0.7v0.7h-0.7zM475.1 335.3h0.7v0.7h-0.7zM468.9 330.2h0.7v0.7h-0.7zM467.2 332.3h0.7v0.7h-0.7zM475.5 329.1h0.7v0.7h-0.7zM468.1 328.4h0.7v0.7h-0.7zM480.3 334.2h0.7v0.7h-0.7zM471.7 328.7h0.7v0.7h-0.7zM465.7 330.2h0.7v0.7h-0.7zM470.8 328.5h0.7v0.7h-0.7zM469.6 335.3h0.7v0.7h-0.7zM470.7 332.3h0.7v0.7h-0.7zM469.9 330.1h0.7v0.7h-0.7zM464.0 331.8h0.7v0.7h-0.7zM465.7 330.5h0.7v0.7h-0.7zM463.0 331.7h0.7v0.7h-0.7zM475.0 329.7h0.7v0.7h-0.7zM472.2 327.9h0.7v0.7h-0.7zM473.4 333.5h0.7v0.7h-0.7zM468.8 334.4h0.7v0.7h-0.7zM466.4 332.1h0.7v0.7h-0.7zM478.7 331.9h0.7v0.7h-0.7zM465.2 335.1h0.7v0.7h-0.7zM473.2 331.2h0.7v0.7h-0.7zM461.9 326.9h0.7v0.7h-0.7zM463.3 336.0h0.7v0.7h-0.7zM472.1 329.7h0.7v0.7h-0.7z" fill="#000" fill-opacity="0.2"/>
<path d="M477.4 359.9h0.8v0.8h-0.8zM467.4 355.2h0.8v0.8h-0.8zM463.4 354.6h0.8v0.8h-0.8zM480.7 345.9h0.8v0.8h-0.8zM471.9 349.7h0.8v0.8h-0.8zM471.2 353.2h0.8v0.8h-0.8zM473.0 357.1h0.8v0.8h-0.8zM474.2 357.9h0.8v0.8h-0.8zM476.7 358.2h0.8v0.8h-0.8zM468.3 354.8h0.8v0.8h-0.8zM469.8 348.7h0.8v0.8h-0.8zM481.4 354.2h0.8v0.8h-0.8zM470.5 356.6h0.8v0.8h-0.8zM470.6 350.1h0.8v0.8h-0.8zM479.0 351.3h0.8v0.8h-0.8zM470.0 352.3h0.8v0.8h-0.8zM470.5 357.9h0.8v0.8h-0.8zM474.5 352.5h0.8v0.8h-0.8zM469.8 351.7h0.8v0.8h-0.8zM480.1 351.3h0.8v0.8h-0.8zM474.9 345.1h0.8v0.8h-0.8zM473.3 356.2h0.8v0.8h-0.8zM478.0 354.3h0.8v0.8h-0.8zM474.5 354.4h0.8v0.8h-0.8zM477.0 362.8h0.8v0.8h-0.8zM472.7 348.8h0.8v0.8h-0.8zM474.6 352.3h0.8v0.8h-0.8zM474.8 356.6h0.8v0.8h-0.8zM472.4 350.7h0.8v0.8h-0.8zM473.2 346.7h0.8v0.8h-0.8zM473.0 348.5h0.8v0.8h-0.8zM473.9 353.4h0.8v0.8h-0.8zM470.6 346.9h0.8v0.8h-0.8zM471.9 349.5h0.8v0.8h-0.8zM470.9 356.2h0.8v0.8h-0.8zM476.4 346.5h0.8v0.8h-0.8zM476.3 359.4h0.8v0.8h-0.8zM477.3 354.2h0.8v0.8h-0.8zM471.2 361.3h0.8v0.8h-0.8zM470.1 345.4h0.8v0.8h-0.8zM472.1 354.2h0.8v0.8h-0.8zM466.5 346.9h0.8v0.8h-0.8zM481.5 353.4h0.8v0.8h-0.8zM475.5 350.0h0.8v0.8h-0.8zM464.1 351.9h0.8v0.8h-0.8zM478.3 349.5h0.8v0.8h-0.8zM462.7 352.0h0.8v0.8h-0.8zM470.3 352.9h0.8v0.8h-0.8zM466.5 351.3h0.8v0.8h-0.8zM468.9 357.1h0.8v0.8h-0.8zM472.4 357.1h0.8v0.8h-0.8zM461.9 355.4h0.8v0.8h-0.8zM476.0 357.1h0.8v0.8h-0.8zM471.3 344.1h0.8v0.8h-0.8zM469.2 354.8h0.8v0.8h-0.8zM478.5 351.1h0.8v0.8h-0.8zM468.9 349.0h0.8v0.8h-0.8zM476.7 357.0h0.8v0.8h-0.8zM462.6 358.7h0.8v0.8h-0.8zM467.1 345.6h0.8v0.8h-0.8zM463.7 349.3h0.8v0.8h-0.8zM465.5 349.5h0.8v0.8h-0.8zM472.4 354.8h0.8v0.8h-0.8zM469.3 345.1h0.8v0.8h-0.8zM469.6 349.5h0.8v0.8h-0.8zM462.7 353.5h0.8v0.8h-0.8zM464.4 344.3h0.8v0.8h-0.8zM479.2 357.4h0.8v0.8h-0.8zM478.9 353.4h0.8v0.8h-0.8zM469.6 352.4h0.8v0.8h-0.8zM464.9 356.4h0.8v0.8h-0.8zM473.0 351.3h0.8v0.8h-0.8zM462.4 352.3h0.8v0.8h-0.8zM479.8 359.9h0.8v0.8h-0.8zM476.0 351.1h0.8v0.8h-0.8zM472.3 355.5h0.8v0.8h-0.8zM472.6 357.9h0.8v0.8h-0.8zM464.8 356.0h0.8v0.8h-0.8zM477.0 352.8h0.8v0.8h-0.8zM474.3 353.2h0.8v0.8h-0.8zM472.5 350.5h0.8v0.8h-0.8zM469.6 358.6h0.8v0.8h-0.8zM470.3 352.6h0.8v0.8h-0.8zM477.6 357.6h0.8v0.8h-0.8zM469.7 354.0h0.8v0.8h-0.8zM466.6 353.4h0.8v0.8h-0.8zM473.2 352.8h0.8v0.8h-0.8zM472.5 354.6h0.8v0.8h-0.8zM472.0 350.4h0.8v0.8h-0.8zM466.9 351.6h0.8v0.8h-0.8zM479.7 351.7h0.8v0.8h-0.8zM468.4 350.5h0.8v0.8h-0.8zM465.7 355.2h0.8v0.8h-0.8zM466.8 357.3h0.8v0.8h-0.8zM476.2 355.6h0.8v0.8h-0.8zM476.8 352.4h0.8v0.8h-0.8zM462.9 352.5h0.8v0.8h-0.8zM474.8 345.3h0.8v0.8h-0.8zM465.6 358.2h0.8v0.8h-0.8zM473.8 359.4h0.8v0.8h-0.8zM475.0 353.1h0.8v0.8h-0.8zM473.8 357.0h0.8v0.8h-0.8zM471.5 351.8h0.8v0.8h-0.8zM473.2 351.3h0.8v0.8h-0.8zM483.7 349.1h0.8v0.8h-0.8zM464.1 346.5h0.8v0.8h-0.8zM476.9 350.8h0.8v0.8h-0.8zM472.5 351.8h0.8v0.8h-0.8zM473.0 345.7h0.8v0.8h-0.8zM472.1 350.0h0.8v0.8h-0.8zM477.1 355.8h0.8v0.8h-0.8zM465.4 348.1h0.8v0.8h-0.8zM474.5 358.6h0.8v0.8h-0.8zM475.5 352.1h0.8v0.8h-0.8zM469.0 348.0h0.8v0.8h-0.8zM466.5 355.6h0.8v0.8h-0.8zM473.1 354.2h0.8v0.8h-0.8zM471.0 355.8h0.8v0.8h-0.8zM475.6 350.0h0.8v0.8h-0.8zM476.3 348.3h0.8v0.8h-0.8zM480.5 346.4h0.8v0.8h-0.8zM470.2 347.5h0.8v0.8h-0.8zM471.9 359.2h0.8v0.8h-0.8zM467.9 361.5h0.8v0.8h-0.8zM478.7 354.7h0.8v0.8h-0.8zM468.7 357.2h0.8v0.8h-0.8zM476.5 352.6h0.8v0.8h-0.8zM484.1 349.5h0.8v0.8h-0.8zM465.0 351.7h0.8v0.8h-0.8zM474.6 361.1h0.8v0.8h-0.8zM462.8 353.6h0.8v0.8h-0.8zM478.0 349.5h0.8v0.8h-0.8zM469.4 346.9h0.8v0.8h-0.8zM475.5 356.9h0.8v0.8h-0.8zM474.6 354.0h0.8v0.8h-0.8zM476.6 352.2h0.8v0.8h-0.8zM475.3 356.8h0.8v0.8h-0.8zM478.2 355.3h0.8v0.8h-0.8zM472.1 356.3h0.8v0.8h-0.8zM463.9 344.2h0.8v0.8h-0.8zM479.8 353.5h0.8v0.8h-0.8zM466.4 350.0h0.8v0.8h-0.8zM470.9 353.2h0.8v0.8h-0.8zM467.8 357.7h0.8v0.8h-0.8zM466.2 361.0h0.8v0.8h-0.8zM475.0 344.5h0.8v0.8h-0.8zM465.5 353.1h0.8v0.8h-0.8zM473.0 350.7h0.8v0.8h-0.8zM471.7 353.6h0.8v0.8h-0.8zM465.9 353.1h0.8v0.8h-0.8zM483.2 349.6h0.8v0.8h-0.8zM466.5 356.1h0.8v0.8h-0.8zM478.5 357.9h0.8v0.8h-0.8zM468.5 352.4h0.8v0.8h-0.8zM472.7 351.8h0.8v0.8h-0.8zM473.7 358.1h0.8v0.8h-0.8zM474.4 352.7h0.8v0.8h-0.8zM470.6 361.6h0.8v0.8h-0.8zM465.4 362.7h0.8v0.8h-0.8zM475.4 353.2h0.8v0.8h-0.8zM467.9 361.8h0.8v0.8h-0.8zM477.8 357.3h0.8v0.8h-0.8zM482.3 344.0h0.8v0.8h-0.8zM472.2 351.3h0.8v0.8h-0.8zM468.0 353.2h0.8v0.8h-0.8zM474.4 355.4h0.8v0.8h-0.8zM471.0 346.3h0.8v0.8h-0.8zM474.5 355.8h0.8v0.8h-0.8zM482.5 357.4h0.8v0.8h-0.8zM471.8 347.1h0.8v0.8h-0.8zM485.5 349.5h0.8v0.8h-0.8zM472.7 356.5h0.8v0.8h-0.8zM474.2 359.4h0.8v0.8h-0.8zM466.4 349.4h0.8v0.8h-0.8zM472.6 346.7h0.8v0.8h-0.8zM468.5 359.6h0.8v0.8h-0.8zM473.2 352.3h0.8v0.8h-0.8zM468.8 353.0h0.8v0.8h-0.8zM471.5 347.5h0.8v0.8h-0.8zM475.7 346.5h0.8v0.8h-0.8zM478.2 351.1h0.8v0.8h-0.8zM473.1 348.5h0.8v0.8h-0.8zM480.9 359.6h0.8v0.8h-0.8zM482.5 357.2h0.8v0.8h-0.8zM478.6 349.8h0.8v0.8h-0.8zM478.3 350.6h0.8v0.8h-0.8zM471.4 346.1h0.8v0.8h-0.8zM472.0 354.8h0.8v0.8h-0.8zM471.4 347.3h0.8v0.8h-0.8zM476.3 357.3h0.8v0.8h-0.8zM471.2 356.7h0.8v0.8h-0.8zM476.7 347.9h0.8v0.8h-0.8zM471.5 343.6h0.8v0.8h-0.8zM466.3 354.9h0.8v0.8h-0.8zM467.1 354.7h0.8v0.8h-0.8zM469.2 360.3h0.8v0.8h-0.8zM471.7 353.4h0.8v0.8h-0.8zM468.0 344.9h0.8v0.8h-0.8zM470.7 348.5h0.8v0.8h-0.8zM478.9 361.3h0.8v0.8h-0.8zM467.8 354.4h0.8v0.8h-0.8zM467.0 357.1h0.8v0.8h-0.8zM467.3 352.1h0.8v0.8h-0.8zM478.4 355.4h0.8v0.8h-0.8zM470.0 345.3h0.8v0.8h-0.8zM463.4 358.8h0.8v0.8h-0.8zM474.3 353.1h0.8v0.8h-0.8zM478.2 353.5h0.8v0.8h-0.8zM467.9 352.3h0.8v0.8h-0.8zM471.2 352.7h0.8v0.8h-0.8zM484.6 355.7h0.8v0.8h-0.8zM473.1 351.6h0.8v0.8h-0.8zM468.1 347.9h0.8v0.8h-0.8zM461.9 350.5h0.8v0.8h-0.8zM463.8 343.6h0.8v0.8h-0.8zM478.8 359.0h0.8v0.8h-0.8zM471.8 347.8h0.8v0.8h-0.8zM462.6 351.5h0.8v0.8h-0.8zM477.6 355.0h0.8v0.8h-0.8zM464.1 349.5h0.8v0.8h-0.8zM467.7 358.5h0.8v0.8h-0.8zM471.2 347.9h0.8v0.8h-0.8zM467.3 357.3h0.8v0.8h-0.8zM461.7 353.8h0.8v0.8h-0.8zM471.1 356.9h0.8v0.8h-0.8zM465.7 357.3h0.8v0.8h-0.8zM463.2 352.6h0.8v0.8h-0.8zM470.6 353.4h0.8v0.8h-0.8zM466.5 357.1h0.8v0.8h-0.8zM483.9 360.3h0.8v0.8h-0.8zM466.7 349.9h0.8v0.8h-0.8zM475.4 353.5h0.8v0.8h-0.8zM467.7 359.0h0.8v0.8h-0.8zM474.3 357.9h0.8v0.8h-0.8zM470.7 359.2h0.8v0.8h-0.8zM469.2 347.2h0.8v0.8h-0.8zM471.6 345.8h0.8v0.8h-0.8zM478.2 356.5h0.8v0.8h-0.8zM462.9 353.7h0.8v0.8h-0.8zM476.1 351.0h0.8v0.8h-0.8zM473.8 349.9h0.8v0.8h-0.8zM471.3 352.4h0.8v0.8h-0.8zM474.2 348.0h0.8v0.8h-0.8zM465.7 354.4h0.8v0.8h-0.8zM469.0 355.4h0.8v0.8h-0.8zM469.0 346.2h0.8v0.8h-0.8zM475.5 354.1h0.8v0.8h-0.8zM475.5 351.1h0.8v0.8h-0.8zM469.8 359.1h0.8v0.8h-0.8zM462.8 361.5h0.8v0.8h-0.8zM474.3 352.5h0.8v0.8h-0.8zM472.1 355.8h0.8v0.8h-0.8zM467.6 354.2h0.8v0.8h-0.8zM466.6 343.5h0.8v0.8h-0.8zM472.7 353.3h0.8v0.8h-0.8zM475.0 355.6h0.8v0.8h-0.8zM475.3 356.8h0.8v0.8h-0.8zM466.1 358.9h0.8v0.8h-0.8zM485.6 350.0h0.8v0.8h-0.8zM465.0 356.2h0.8v0.8h-0.8zM476.4 357.9h0.8v0.8h-0.8zM479.6 345.9h0.8v0.8h-0.8zM473.6 355.1h0.8v0.8h-0.8zM478.2 348.3h0.8v0.8h-0.8zM471.8 350.9h0.8v0.8h-0.8zM470.8 352.1h0.8v0.8h-0.8zM470.8 343.9h0.8v0.8h-0.8zM471.4 353.1h0.8v0.8h-0.8zM468.0 349.5h0.8v0.8h-0.8zM467.1 360.8h0.8v0.8h-0.8zM476.5 351.9h0.8v0.8h-0.8zM466.6 355.2h0.8v0.8h-0.8zM468.5 360.3h0.8v0.8h-0.8zM477.4 352.2h0.8v0.8h-0.8zM474.8 348.8h0.8v0.8h-0.8zM463.3 357.0h0.8v0.8h-0.8zM480.2 351.3h0.8v0.8h-0.8zM468.9 343.8h0.8v0.8h-0.8zM482.9 346.8h0.8v0.8h-0.8zM466.6 351.8h0.8v0.8h-0.8zM478.0 353.1h0.8v0.8h-0.8zM471.5 352.9h0.8v0.8h-0.8zM476.1 352.6h0.8v0.8h-0.8zM472.4 352.4h0.8v0.8h-0.8zM465.8 359.5h0.8v0.8h-0.8zM468.0 346.2h0.8v0.8h-0.8zM469.3 353.0h0.8v0.8h-0.8zM475.9 345.4h0.8v0.8h-0.8zM465.0 353.7h0.8v0.8h-0.8zM473.6 347.3h0.8v0.8h-0.8zM465.7 353.7h0.8v0.8h-0.8zM470.9 344.7h0.8v0.8h-0.8zM467.0 360.3h0.8v0.8h-0.8zM466.1 358.1h0.8v0.8h-0.8zM463.6 360.3h0.8v0.8h-0.8zM480.0 349.6h0.8v0.8h-0.8zM468.0 356.0h0.8v0.8h-0.8zM465.1 355.6h0.8v0.8h-0.8zM478.0 354.1h0.8v0.8h-0.8zM473.3 352.0h0.8v0.8h-0.8zM476.9 348.7h0.8v0.8h-0.8zM479.9 352.7h0.8v0.8h-0.8zM469.9 344.6h0.8v0.8h-0.8zM469.3 354.0h0.8v0.8h-0.8zM478.1 344.7h0.8v0.8h-0.8zM470.9 349.4h0.8v0.8h-0.8zM465.3 352.8h0.8v0.8h-0.8zM467.6 357.2h0.8v0.8h-0.8zM474.3 351.1h0.8v0.8h-0.8zM472.3 347.9h0.8v0.8h-0.8zM466.1 349.1h0.8v0.8h-0.8zM471.3 348.6h0.8v0.8h-0.8zM469.4 348.5h0.8v0.8h-0.8zM472.8 347.1h0.8v0.8h-0.8zM471.5 353.3h0.8v0.8h-0.8zM476.6 349.1h0.8v0.8h-0.8zM465.6 345.3h0.8v0.8h-0.8zM475.6 349.7h0.8v0.8h-0.8zM476.8 352.4h0.8v0.8h-0.8zM470.2 343.5h0.8v0.8h-0.8zM468.1 356.8h0.8v0.8h-0.8zM468.4 356.2h0.8v0.8h-0.8zM463.0 357.9h0.8v0.8h-0.8zM486.1 358.4h0.8v0.8h-0.8zM473.3 346.6h0.8v0.8h-0.8zM468.9 349.5h0.8v0.8h-0.8zM467.1 356.8h0.8v0.8h-0.8zM472.4 356.5h0.8v0.8h-0.8zM476.1 347.1h0.8v0.8h-0.8zM464.6 355.1h0.8v0.8h-0.8zM471.8 353.2h0.8v0.8h-0.8zM467.4 357.9h0.8v0.8h-0.8zM474.2 358.5h0.8v0.8h-0.8zM469.8 356.3h0.8v0.8h-0.8zM471.3 348.1h0.8v0.8h-0.8zM471.2 344.5h0.8v0.8h-0.8zM470.7 353.7h0.8v0.8h-0.8zM475.2 347.5h0.8v0.8h-0.8zM464.7 349.1h0.8v0.8h-0.8zM485.3 353.5h0.8v0.8h-0.8zM467.6 349.4h0.8v0.8h-0.8zM480.8 347.0h0.8v0.8h-0.8zM471.0 352.4h0.8v0.8h-0.8zM467.8 349.2h0.8v0.8h-0.8zM462.8 348.6h0.8v0.8h-0.8zM478.4 359.9h0.8v0.8h-0.8zM470.1 356.3h0.8v0.8h-0.8zM474.0 353.4h0.8v0.8h-0.8zM470.9 358.9h0.8v0.8h-0.8zM474.6 351.7h0.8v0.8h-0.8zM470.4 357.5h0.8v0.8h-0.8zM468.5 349.2h0.8v0.8h-0.8zM470.2 350.3h0.8v0.8h-0.8zM478.2 354.6h0.8v0.8h-0.8zM471.1 350.2h0.8v0.8h-0.8zM479.0 355.0h0.8v0.8h-0.8zM482.5 357.4h0.8v0.8h-0.8zM470.5 350.0h0.8v0.8h-0.8zM470.1 353.7h0.8v0.8h-0.8zM475.7 355.2h0.8v0.8h-0.8zM479.8 345.2h0.8v0.8h-0.8zM471.7 345.7h0.8v0.8h-0.8zM466.2 349.8h0.8v0.8h-0.8zM468.2 347.9h0.8v0.8h-0.8zM463.7 358.5h0.8v0.8h-0.8zM469.9 357.6h0.8v0.8h-0.8zM468.5 357.2h0.8v0.8h-0.8zM468.7 354.8h0.8v0.8h-0.8zM466.0 359.8h0.8v0.8h-0.8zM473.9 358.1h0.8v0.8h-0.8zM470.2 359.2h0.8v0.8h-0.8zM472.0 350.3h0.8v0.8h-0.8zM468.3 353.1h0.8v0.8h-0.8zM466.9 346.8h0.8v0.8h-0.8z" fill="#000" fill-opacity="0.4"/>
<ellipse cx="471.6" cy="352.8" rx="9.0" ry="9.2" fill="url(#g1)" fill-opacity="1.0"/>
<line x1="438.0" y1="301.5" x2="440.6" y2="301.5" stroke="#777" stroke-width="0.7"/>
<line x1="436.40000000000003" y1="300.3" x2="436.40000000000003" y2="302.1" stroke="#aaa" stroke-width="0.5"/>
<line x1="440.6" y1="362.8" x2="440.6" y2="365.40000000000003" stroke="#777" stroke-width="0.7"/>
<line x1="439.8" y1="366.6" x2="441.40000000000003" y2="366.6" stroke="#aaa" stroke-width="0.5"/>
<line x1="438.0" y1="316.825" x2="440.6" y2="316.825" stroke="#777" stroke-width="0.7"/>
<line x1="436.40000000000003" y1="315.625" x2="436.40000000000003" y2="317.425" stroke="#aaa" stroke-width="0.5"/>
<line x1="456.05" y1="362.8" x2="456.05" y2="365.40000000000003" stroke="#777" stroke-width="0.7"/>
<line x1="455.25" y1="366.6" x2="456.85" y2="366.6" stroke="#aaa" stroke-width="0.5"/>
<line x1="438.0" y1="332.15" x2="440.6" y2="332.15" stroke="#777" stroke-width="0.7"/>
<line x1="436.40000000000003" y1="330.95" x2="436.40000000000003" y2="332.75" stroke="#aaa" stroke-width="0.5"/>
<line x1="471.5" y1="362.8" x2="471.5" y2="365.40000000000003" stroke="#777" stroke-width="0.7"/>
<line x1="470.7" y1="366.6" x2="472.3" y2="366.6" stroke="#aaa" stroke-width="0.5"/>
<line x1="438.0" y1="347.475" x2="440.6" y2="347.475" stroke="#777" stroke-width="0.7"/>
<line x1="436.40000000000003" y1="346.27500000000003" x2="436.40000000000003" y2="348.07500000000005" stroke="#aaa" stroke-width="0.5"/>
<line x1="486.95000000000005" y1="362.8" x2="486.95000000000005" y2="365.40000000000003" stroke="#777" stroke-width="0.7"/>
<line x1="486.15000000000003" y1="366.6" x2="487.75000000000006" y2="366.6" stroke="#aaa" stroke-width="0.5"/>
<line x1="438.0" y1="362.8" x2="440.6" y2="362.8" stroke="#777" stroke-width="0.7"/>
<line x1="436.40000000000003" y1="361.6" x2="436.40000000000003" y2="363.40000000000003" stroke="#aaa" stroke-width="0.5"/>
<line x1="502.40000000000003" y1="362.8" x2="502.40000000000003" y2="365.40000000000003" stroke="#777" stroke-width="0.7"/>
<line x1="501.6" y1="366.6" x2="503.20000000000005" y2="366.6" stroke="#aaa" stroke-width="0.5"/>
<line x1="440.6" y1="301.5" x2="440.6" y2="362.8" stroke="#333" stroke-width="0.9"/>
<line x1="440.6" y1="362.8" x2="502.40000000000003" y2="362.8" stroke="#333" stroke-width="0.9"/>
<line x1="461.1" y1="301.5" x2="461.1" y2="362.8" stroke="#222" stroke-width="1.1"/>
<line x1="440.6" y1="343.3" x2="503.40000000000003" y2="343.3" stroke="#222" stroke-width="1.1"/>
<text transform="translate(316.0 299.6) scale(1 1.0)" font-size="8.8" text-anchor="middle" fill="#111" >3</text>
<text transform="translate(390.4 298.8) scale(1 1.0)" font-size="8.8" text-anchor="middle" fill="#111" >4</text>
<text transform="translate(468.5 298.8) scale(1 1.0)" font-size="8.8" text-anchor="middle" fill="#111" >5</text>
<text transform="translate(327.7 355.8) scale(1 1.0)" font-size="6.8" text-anchor="start" fill="#111" >86.7± 1.5%</text>
<text transform="translate(405.6 356.3) scale(1 1.0)" font-size="6.8" text-anchor="start" fill="#111" >85.9 ± 2.6%</text>
<text transform="translate(482.4 356.3) scale(1 1.0)" font-size="6.8" text-anchor="start" fill="#111" >85.9 ± 1.1%</text>
<text transform="translate(0 405.7) scale(1 1.05)" font-size="16.3" text-anchor="start" font-weight="bold" fill="#000" >E</text>
<text transform="translate(0.8 419.8) scale(1 1.05)" font-size="12.3" text-anchor="start" fill="#111" >Mx1-Cre/+STAT5ab</text>
<text transform="translate(111.6 412.8) scale(1 1.05)" font-size="7.9" text-anchor="start" fill="#111" >flox/flox</text>
<text transform="translate(141.5 419.8) scale(1 1.05)" font-size="12.3" text-anchor="start" fill="#111" >BM</text>
<text transform="translate(76.6 434.2) scale(1 1.05)" font-size="12.3" text-anchor="middle" fill="#111" >(CD45.2)</text>
<line x1="84.8" y1="442.3" x2="77.05292313635722" y2="450.18922506297565" stroke="#111" stroke-width="1.25"/>
<path d="M73.90,453.40 L75.76,448.22 L79.04,451.44 Z" fill="#111"/>
<text transform="translate(78.3 465.4) scale(1 1.05)" font-size="12.3" text-anchor="middle" fill="#111" >Irradiated Boy J</text>
<text transform="translate(76.6 478.0) scale(1 1.05)" font-size="12.3" text-anchor="middle" fill="#111" >CD45.1</text>
<line x1="73.8" y1="481.5" x2="73.8" y2="508.79999999999995" stroke="#111" stroke-width="1.25"/>
<path d="M73.80,513.30 L71.70,508.30 L75.90,508.30 Z" fill="#111"/>
<text transform="translate(78.5 497.8) scale(1 1.05)" font-size="11.9" text-anchor="start" fill="#111" >2 month</text>
<text transform="translate(36.0 525.4) scale(1 1.05)" font-size="12.3" text-anchor="start" fill="#111" >Flow cytometry (Before)</text>
<text transform="translate(25.0 542.3) scale(1 1.05)" font-size="12.1" text-anchor="start" fill="#111" >pI:pC</text>
<line x1="56.0" y1="533.6" x2="67.5" y2="533.6" stroke="#111" stroke-width="1.4"/>
<path d="M72.20,533.60 L67.00,535.80 L67.00,531.40 Z" fill="#111"/>
<line x1="56.0" y1="538.7" x2="67.5" y2="538.7" stroke="#111" stroke-width="1.4"/>
<path d="M72.20,538.70 L67.00,540.90 L67.00,536.50 Z" fill="#111"/>
<line x1="56.0" y1="544.1" x2="67.5" y2="544.1" stroke="#111" stroke-width="1.4"/>
<path d="M72.20,544.10 L67.00,546.30 L67.00,541.90 Z" fill="#111"/>
<line x1="74.8" y1="530.2" x2="74.8" y2="576.5" stroke="#111" stroke-width="1.25"/>
<path d="M74.80,581.00 L72.70,576.00 L76.90,576.00 Z" fill="#111"/>
<line x1="86.8" y1="540.3" x2="79.45788968826137" y2="547.2957843536378" stroke="#111" stroke-width="1.25"/>
<path d="M76.20,550.40 L78.23,545.29 L81.41,548.62 Z" fill="#111"/>
<text transform="translate(90.6 544.4) scale(1 1.05)" font-size="12.1" text-anchor="start" fill="#111" >GFP BM</text>
<text transform="translate(78.5 570.2) scale(1 1.05)" font-size="11.9" text-anchor="start" fill="#111" >2 month</text>
<text transform="translate(33.2 595.2) scale(1 1.05)" font-size="12.3" text-anchor="start" fill="#111" >Flow cytometry (After)</text>
<text transform="translate(355.2 421.2) scale(1 1.05)" font-size="12.3" text-anchor="middle" fill="#111" >Boy J BM</text>
<line x1="354.8" y1="426.6" x2="346.868320299144" y2="434.1067682883102" stroke="#111" stroke-width="1.25"/>
<path d="M343.60,437.20 L345.65,432.09 L348.81,435.43 Z" fill="#111"/>
<text transform="translate(348.0 452.3) scale(1 1.05)" font-size="12.3" text-anchor="middle" fill="#111" >Irradiated</text>
<text transform="translate(286.0 465.4) scale(1 1.05)" font-size="12.3" text-anchor="start" fill="#111" >Mx1-Cre/+STAT5ab</text>
<text transform="translate(394.4 455.8) scale(1 1.05)" font-size="7.9" text-anchor="start" fill="#111" >flox/flox</text>
<text transform="translate(347.3 477.4) scale(1 1.05)" font-size="12.3" text-anchor="middle" fill="#111" >CD45.2</text>
<line x1="343.8" y1="481.7" x2="343.8" y2="508.5" stroke="#111" stroke-width="1.25"/>
<path d="M343.80,513.00 L341.70,508.00 L345.90,508.00 Z" fill="#111"/>
<text transform="translate(347.3 497.6) scale(1 1.05)" font-size="11.9" text-anchor="start" fill="#111" >2 month</text>
<text transform="translate(305.6 525.4) scale(1 1.05)" font-size="12.3" text-anchor="start" fill="#111" >Flow cytometry (Before)</text>
<text transform="translate(295.0 542.7) scale(1 1.05)" font-size="12.1" text-anchor="start" fill="#111" >pI:pC</text>
<line x1="326.0" y1="534.4" x2="337.5" y2="534.4" stroke="#111" stroke-width="1.4"/>
<path d="M342.20,534.40 L337.00,536.60 L337.00,532.20 Z" fill="#111"/>
<line x1="326.0" y1="539.3" x2="337.5" y2="539.3" stroke="#111" stroke-width="1.4"/>
<path d="M342.20,539.30 L337.00,541.50 L337.00,537.10 Z" fill="#111"/>
<line x1="326.0" y1="544.5" x2="337.5" y2="544.5" stroke="#111" stroke-width="1.4"/>
<path d="M342.20,544.50 L337.00,546.70 L337.00,542.30 Z" fill="#111"/>
<line x1="345.0" y1="531.7" x2="345.0" y2="578.5" stroke="#111" stroke-width="1.25"/>
<path d="M345.00,583.00 L342.90,578.00 L347.10,578.00 Z" fill="#111"/>
<line x1="356.8" y1="541.6" x2="349.7066155008237" y2="548.1477395377012" stroke="#111" stroke-width="1.25"/>
<path d="M346.40,551.20 L348.51,546.12 L351.63,549.50 Z" fill="#111"/>
<text transform="translate(360.2 545.2) scale(1 1.05)" font-size="12.1" text-anchor="start" fill="#111" >GFP BM</text>
<text transform="translate(347.3 570.2) scale(1 1.05)" font-size="11.9" text-anchor="start" fill="#111" >2 month</text>
<text transform="translate(303.7 595.0) scale(1 1.05)" font-size="12.3" text-anchor="start" fill="#111" >Flow cytometry (After)</text>
<path d="M200.2 444.6h0.7v0.7h-0.7zM198.6 445.1h0.7v0.7h-0.7zM205.7 437.7h0.7v0.7h-0.7zM200.7 438.7h0.7v0.7h-0.7zM197.2 442.7h0.7v0.7h-0.7zM190.7 444.2h0.7v0.7h-0.7zM202.9 444.0h0.7v0.7h-0.7zM202.2 448.5h0.7v0.7h-0.7zM198.3 445.9h0.7v0.7h-0.7zM205.2 443.8h0.7v0.7h-0.7zM192.9 441.5h0.7v0.7h-0.7zM198.6 436.4h0.7v0.7h-0.7zM199.5 444.8h0.7v0.7h-0.7zM198.7 441.5h0.7v0.7h-0.7zM205.3 439.9h0.7v0.7h-0.7zM196.1 442.2h0.7v0.7h-0.7zM204.0 444.2h0.7v0.7h-0.7zM200.0 440.4h0.7v0.7h-0.7zM204.4 445.2h0.7v0.7h-0.7zM193.1 443.3h0.7v0.7h-0.7zM190.5 447.3h0.7v0.7h-0.7zM202.0 439.9h0.7v0.7h-0.7zM194.8 441.0h0.7v0.7h-0.7zM193.0 444.1h0.7v0.7h-0.7zM197.8 435.9h0.7v0.7h-0.7zM199.6 446.2h0.7v0.7h-0.7zM194.9 440.8h0.7v0.7h-0.7zM206.6 442.7h0.7v0.7h-0.7zM197.6 442.8h0.7v0.7h-0.7zM202.7 438.6h0.7v0.7h-0.7zM199.3 436.4h0.7v0.7h-0.7zM193.7 436.7h0.7v0.7h-0.7zM202.9 443.2h0.7v0.7h-0.7zM202.5 446.4h0.7v0.7h-0.7zM199.9 442.9h0.7v0.7h-0.7zM201.2 443.7h0.7v0.7h-0.7zM195.6 441.1h0.7v0.7h-0.7zM199.1 442.2h0.7v0.7h-0.7zM196.8 441.6h0.7v0.7h-0.7zM200.8 442.7h0.7v0.7h-0.7zM201.9 445.0h0.7v0.7h-0.7zM201.8 445.5h0.7v0.7h-0.7zM202.9 447.0h0.7v0.7h-0.7zM202.1 439.9h0.7v0.7h-0.7zM208.6 446.1h0.7v0.7h-0.7zM204.5 444.7h0.7v0.7h-0.7zM199.9 438.1h0.7v0.7h-0.7zM201.4 440.9h0.7v0.7h-0.7zM198.2 434.6h0.7v0.7h-0.7zM205.6 438.0h0.7v0.7h-0.7zM195.5 443.7h0.7v0.7h-0.7zM201.9 439.3h0.7v0.7h-0.7zM199.7 443.0h0.7v0.7h-0.7zM200.3 443.9h0.7v0.7h-0.7zM202.7 440.8h0.7v0.7h-0.7zM193.5 449.7h0.7v0.7h-0.7zM198.2 438.6h0.7v0.7h-0.7zM202.6 444.2h0.7v0.7h-0.7zM197.3 450.3h0.7v0.7h-0.7zM190.7 446.6h0.7v0.7h-0.7zM199.6 443.2h0.7v0.7h-0.7zM200.9 441.3h0.7v0.7h-0.7zM200.9 437.5h0.7v0.7h-0.7zM198.2 448.6h0.7v0.7h-0.7zM189.9 446.4h0.7v0.7h-0.7zM191.2 439.1h0.7v0.7h-0.7zM203.0 440.7h0.7v0.7h-0.7zM197.5 436.8h0.7v0.7h-0.7zM199.2 441.5h0.7v0.7h-0.7zM197.3 436.6h0.7v0.7h-0.7zM200.3 443.6h0.7v0.7h-0.7zM204.0 443.9h0.7v0.7h-0.7zM205.5 446.3h0.7v0.7h-0.7zM188.9 447.9h0.7v0.7h-0.7zM199.3 438.4h0.7v0.7h-0.7zM201.3 445.5h0.7v0.7h-0.7zM193.8 437.8h0.7v0.7h-0.7zM202.3 440.2h0.7v0.7h-0.7zM205.3 442.9h0.7v0.7h-0.7zM197.6 437.4h0.7v0.7h-0.7zM202.0 436.1h0.7v0.7h-0.7zM194.7 437.5h0.7v0.7h-0.7zM206.2 448.1h0.7v0.7h-0.7zM198.9 440.8h0.7v0.7h-0.7zM202.4 446.5h0.7v0.7h-0.7zM196.6 449.8h0.7v0.7h-0.7zM198.9 446.1h0.7v0.7h-0.7zM190.7 441.9h0.7v0.7h-0.7zM197.0 449.1h0.7v0.7h-0.7zM198.9 437.6h0.7v0.7h-0.7zM207.1 439.7h0.7v0.7h-0.7zM199.7 437.7h0.7v0.7h-0.7zM202.3 442.8h0.7v0.7h-0.7zM198.6 440.7h0.7v0.7h-0.7zM197.5 439.6h0.7v0.7h-0.7zM194.3 446.3h0.7v0.7h-0.7zM203.1 437.2h0.7v0.7h-0.7zM195.3 443.5h0.7v0.7h-0.7zM208.3 441.4h0.7v0.7h-0.7zM198.5 441.2h0.7v0.7h-0.7zM200.6 441.5h0.7v0.7h-0.7zM203.8 445.5h0.7v0.7h-0.7zM201.8 447.6h0.7v0.7h-0.7zM198.8 440.2h0.7v0.7h-0.7zM211.1 435.3h0.7v0.7h-0.7zM193.7 433.8h0.7v0.7h-0.7zM201.1 438.3h0.7v0.7h-0.7zM203.7 434.7h0.7v0.7h-0.7zM199.2 440.7h0.7v0.7h-0.7zM195.6 446.0h0.7v0.7h-0.7zM198.2 443.7h0.7v0.7h-0.7zM197.7 442.6h0.7v0.7h-0.7zM198.0 442.4h0.7v0.7h-0.7zM199.3 439.7h0.7v0.7h-0.7zM201.4 441.4h0.7v0.7h-0.7zM196.0 438.4h0.7v0.7h-0.7zM201.4 446.8h0.7v0.7h-0.7zM194.7 440.6h0.7v0.7h-0.7zM201.4 445.8h0.7v0.7h-0.7zM202.4 437.9h0.7v0.7h-0.7zM199.8 445.3h0.7v0.7h-0.7zM200.6 441.3h0.7v0.7h-0.7zM195.2 442.7h0.7v0.7h-0.7zM199.4 442.2h0.7v0.7h-0.7zM205.4 446.3h0.7v0.7h-0.7zM196.7 442.9h0.7v0.7h-0.7zM198.5 442.4h0.7v0.7h-0.7zM205.9 445.3h0.7v0.7h-0.7zM199.9 439.8h0.7v0.7h-0.7zM199.1 443.4h0.7v0.7h-0.7zM197.8 446.0h0.7v0.7h-0.7zM199.8 437.9h0.7v0.7h-0.7zM207.5 431.9h0.7v0.7h-0.7zM198.7 441.7h0.7v0.7h-0.7zM203.5 446.0h0.7v0.7h-0.7zM205.3 447.6h0.7v0.7h-0.7zM200.9 442.5h0.7v0.7h-0.7zM203.6 442.0h0.7v0.7h-0.7zM194.9 440.5h0.7v0.7h-0.7zM202.2 444.2h0.7v0.7h-0.7zM195.5 446.3h0.7v0.7h-0.7zM200.9 436.8h0.7v0.7h-0.7zM201.5 445.6h0.7v0.7h-0.7zM201.7 441.0h0.7v0.7h-0.7zM196.6 446.0h0.7v0.7h-0.7zM200.6 442.1h0.7v0.7h-0.7zM198.2 438.5h0.7v0.7h-0.7zM192.5 440.9h0.7v0.7h-0.7zM203.9 444.8h0.7v0.7h-0.7zM197.1 447.5h0.7v0.7h-0.7zM198.8 438.6h0.7v0.7h-0.7zM203.4 447.0h0.7v0.7h-0.7zM198.2 437.8h0.7v0.7h-0.7zM199.5 433.6h0.7v0.7h-0.7zM199.9 447.5h0.7v0.7h-0.7zM200.7 439.5h0.7v0.7h-0.7zM202.4 440.4h0.7v0.7h-0.7zM204.5 440.8h0.7v0.7h-0.7zM207.5 440.9h0.7v0.7h-0.7zM200.4 438.8h0.7v0.7h-0.7zM194.8 443.3h0.7v0.7h-0.7zM201.0 438.7h0.7v0.7h-0.7zM201.8 440.6h0.7v0.7h-0.7zM197.6 441.8h0.7v0.7h-0.7zM201.2 444.6h0.7v0.7h-0.7zM204.4 443.4h0.7v0.7h-0.7zM196.9 439.7h0.7v0.7h-0.7zM201.1 437.9h0.7v0.7h-0.7zM199.0 440.7h0.7v0.7h-0.7zM199.3 442.7h0.7v0.7h-0.7zM203.7 447.9h0.7v0.7h-0.7zM203.1 445.6h0.7v0.7h-0.7zM195.6 445.7h0.7v0.7h-0.7zM204.6 437.3h0.7v0.7h-0.7zM209.3 440.1h0.7v0.7h-0.7zM190.6 448.3h0.7v0.7h-0.7zM199.9 439.3h0.7v0.7h-0.7zM197.5 445.9h0.7v0.7h-0.7zM200.7 440.8h0.7v0.7h-0.7zM204.1 438.8h0.7v0.7h-0.7zM196.5 440.1h0.7v0.7h-0.7zM196.8 444.5h0.7v0.7h-0.7zM198.8 438.4h0.7v0.7h-0.7zM197.9 435.1h0.7v0.7h-0.7zM200.3 442.5h0.7v0.7h-0.7zM202.0 441.3h0.7v0.7h-0.7zM201.2 438.8h0.7v0.7h-0.7zM199.8 442.6h0.7v0.7h-0.7zM195.1 444.2h0.7v0.7h-0.7zM200.2 442.3h0.7v0.7h-0.7zM197.9 449.1h0.7v0.7h-0.7zM199.7 439.4h0.7v0.7h-0.7zM196.5 444.2h0.7v0.7h-0.7zM198.9 439.3h0.7v0.7h-0.7zM196.9 445.4h0.7v0.7h-0.7zM200.0 445.8h0.7v0.7h-0.7zM199.6 438.0h0.7v0.7h-0.7zM203.0 443.2h0.7v0.7h-0.7zM197.2 441.0h0.7v0.7h-0.7zM196.0 445.0h0.7v0.7h-0.7zM198.1 443.8h0.7v0.7h-0.7zM200.7 441.2h0.7v0.7h-0.7zM201.1 441.2h0.7v0.7h-0.7zM195.2 440.6h0.7v0.7h-0.7zM195.2 444.7h0.7v0.7h-0.7zM202.2 440.0h0.7v0.7h-0.7zM202.1 443.0h0.7v0.7h-0.7zM203.4 438.8h0.7v0.7h-0.7zM199.8 438.6h0.7v0.7h-0.7zM197.1 446.9h0.7v0.7h-0.7zM192.1 438.9h0.7v0.7h-0.7zM201.6 444.8h0.7v0.7h-0.7zM196.7 435.0h0.7v0.7h-0.7zM193.2 443.4h0.7v0.7h-0.7zM203.9 445.3h0.7v0.7h-0.7zM196.9 446.8h0.7v0.7h-0.7zM199.0 444.3h0.7v0.7h-0.7zM199.0 447.7h0.7v0.7h-0.7zM197.7 434.6h0.7v0.7h-0.7zM198.5 442.8h0.7v0.7h-0.7zM200.8 439.6h0.7v0.7h-0.7zM198.8 438.1h0.7v0.7h-0.7zM198.8 442.4h0.7v0.7h-0.7zM200.6 447.9h0.7v0.7h-0.7zM192.1 443.9h0.7v0.7h-0.7zM201.3 438.0h0.7v0.7h-0.7zM200.0 442.1h0.7v0.7h-0.7zM195.9 444.6h0.7v0.7h-0.7zM207.0 444.5h0.7v0.7h-0.7zM202.6 445.8h0.7v0.7h-0.7zM199.2 445.5h0.7v0.7h-0.7zM196.6 442.7h0.7v0.7h-0.7zM202.4 446.7h0.7v0.7h-0.7zM198.6 441.1h0.7v0.7h-0.7zM201.5 441.8h0.7v0.7h-0.7zM200.2 444.9h0.7v0.7h-0.7zM196.8 445.2h0.7v0.7h-0.7zM201.1 441.2h0.7v0.7h-0.7zM195.0 439.9h0.7v0.7h-0.7zM199.5 445.4h0.7v0.7h-0.7zM192.2 444.6h0.7v0.7h-0.7zM200.4 438.2h0.7v0.7h-0.7zM202.9 443.5h0.7v0.7h-0.7zM201.4 438.7h0.7v0.7h-0.7zM195.5 445.3h0.7v0.7h-0.7zM205.0 443.4h0.7v0.7h-0.7zM199.0 440.5h0.7v0.7h-0.7zM193.2 445.5h0.7v0.7h-0.7zM199.3 446.4h0.7v0.7h-0.7zM197.0 445.8h0.7v0.7h-0.7zM197.0 444.1h0.7v0.7h-0.7zM204.9 439.6h0.7v0.7h-0.7zM203.1 442.1h0.7v0.7h-0.7zM196.2 442.8h0.7v0.7h-0.7zM202.1 439.6h0.7v0.7h-0.7zM198.7 440.1h0.7v0.7h-0.7zM196.8 441.4h0.7v0.7h-0.7zM202.8 440.4h0.7v0.7h-0.7zM204.4 440.8h0.7v0.7h-0.7zM197.1 445.8h0.7v0.7h-0.7zM205.0 439.8h0.7v0.7h-0.7zM201.9 438.1h0.7v0.7h-0.7zM198.2 440.8h0.7v0.7h-0.7zM202.4 437.7h0.7v0.7h-0.7zM197.8 439.7h0.7v0.7h-0.7zM200.1 437.8h0.7v0.7h-0.7zM194.7 451.9h0.7v0.7h-0.7zM200.5 436.9h0.7v0.7h-0.7zM202.8 437.5h0.7v0.7h-0.7zM192.6 447.9h0.7v0.7h-0.7zM204.4 439.2h0.7v0.7h-0.7zM195.6 443.7h0.7v0.7h-0.7zM207.3 444.2h0.7v0.7h-0.7zM202.2 438.0h0.7v0.7h-0.7zM193.0 443.4h0.7v0.7h-0.7zM203.5 442.6h0.7v0.7h-0.7zM199.7 446.9h0.7v0.7h-0.7zM196.5 445.9h0.7v0.7h-0.7zM202.8 439.9h0.7v0.7h-0.7zM200.2 442.5h0.7v0.7h-0.7zM201.9 438.7h0.7v0.7h-0.7zM198.8 442.4h0.7v0.7h-0.7zM199.8 442.2h0.7v0.7h-0.7zM200.6 441.4h0.7v0.7h-0.7zM197.8 445.7h0.7v0.7h-0.7zM197.3 441.0h0.7v0.7h-0.7zM196.4 438.1h0.7v0.7h-0.7zM201.4 442.0h0.7v0.7h-0.7zM199.2 443.7h0.7v0.7h-0.7zM199.1 444.4h0.7v0.7h-0.7zM206.5 443.3h0.7v0.7h-0.7zM198.7 447.8h0.7v0.7h-0.7zM202.3 436.4h0.7v0.7h-0.7zM204.7 442.8h0.7v0.7h-0.7zM202.9 438.1h0.7v0.7h-0.7zM196.5 439.9h0.7v0.7h-0.7zM201.8 438.2h0.7v0.7h-0.7zM197.0 445.4h0.7v0.7h-0.7zM197.3 442.5h0.7v0.7h-0.7zM196.3 436.2h0.7v0.7h-0.7zM199.4 441.7h0.7v0.7h-0.7zM194.3 445.5h0.7v0.7h-0.7zM202.8 445.1h0.7v0.7h-0.7zM197.8 438.1h0.7v0.7h-0.7zM199.4 442.7h0.7v0.7h-0.7zM199.0 440.1h0.7v0.7h-0.7zM196.0 439.6h0.7v0.7h-0.7zM199.4 440.4h0.7v0.7h-0.7zM205.9 441.1h0.7v0.7h-0.7zM201.4 440.5h0.7v0.7h-0.7zM199.0 438.7h0.7v0.7h-0.7zM197.9 436.9h0.7v0.7h-0.7zM191.9 446.7h0.7v0.7h-0.7zM195.8 443.6h0.7v0.7h-0.7zM199.2 440.1h0.7v0.7h-0.7zM202.4 440.2h0.7v0.7h-0.7zM201.3 440.8h0.7v0.7h-0.7zM203.3 445.4h0.7v0.7h-0.7zM199.9 445.9h0.7v0.7h-0.7zM201.6 447.4h0.7v0.7h-0.7zM199.2 436.8h0.7v0.7h-0.7zM200.5 442.9h0.7v0.7h-0.7zM198.3 441.4h0.7v0.7h-0.7zM198.7 437.8h0.7v0.7h-0.7zM206.1 439.4h0.7v0.7h-0.7zM195.7 436.7h0.7v0.7h-0.7zM196.6 442.0h0.7v0.7h-0.7zM205.2 444.2h0.7v0.7h-0.7zM197.0 437.8h0.7v0.7h-0.7zM195.5 441.8h0.7v0.7h-0.7zM202.9 440.4h0.7v0.7h-0.7zM205.7 448.7h0.7v0.7h-0.7zM200.3 434.7h0.7v0.7h-0.7zM203.8 441.8h0.7v0.7h-0.7zM202.2 445.5h0.7v0.7h-0.7zM195.9 442.3h0.7v0.7h-0.7zM200.4 439.5h0.7v0.7h-0.7zM202.3 441.7h0.7v0.7h-0.7zM198.2 448.5h0.7v0.7h-0.7zM200.3 447.7h0.7v0.7h-0.7zM199.1 445.7h0.7v0.7h-0.7zM196.9 442.6h0.7v0.7h-0.7zM203.7 434.6h0.7v0.7h-0.7zM201.7 441.2h0.7v0.7h-0.7zM203.7 442.7h0.7v0.7h-0.7zM199.4 437.7h0.7v0.7h-0.7zM210.6 439.6h0.7v0.7h-0.7zM198.5 439.6h0.7v0.7h-0.7zM198.6 442.8h0.7v0.7h-0.7zM194.7 445.7h0.7v0.7h-0.7zM198.7 444.1h0.7v0.7h-0.7zM191.9 440.3h0.7v0.7h-0.7zM198.6 440.8h0.7v0.7h-0.7zM197.2 443.2h0.7v0.7h-0.7zM201.2 438.7h0.7v0.7h-0.7zM192.4 444.6h0.7v0.7h-0.7zM198.5 445.8h0.7v0.7h-0.7zM202.9 441.7h0.7v0.7h-0.7zM194.4 440.9h0.7v0.7h-0.7zM197.0 446.3h0.7v0.7h-0.7zM193.4 445.2h0.7v0.7h-0.7zM194.0 440.1h0.7v0.7h-0.7zM194.4 439.7h0.7v0.7h-0.7zM198.0 443.4h0.7v0.7h-0.7zM197.5 444.4h0.7v0.7h-0.7zM206.2 442.6h0.7v0.7h-0.7zM195.4 441.5h0.7v0.7h-0.7zM199.3 440.9h0.7v0.7h-0.7zM204.0 446.0h0.7v0.7h-0.7zM207.1 443.9h0.7v0.7h-0.7zM189.8 441.6h0.7v0.7h-0.7zM202.2 439.3h0.7v0.7h-0.7zM197.4 445.2h0.7v0.7h-0.7zM200.2 438.2h0.7v0.7h-0.7zM197.5 431.5h0.7v0.7h-0.7zM199.7 437.9h0.7v0.7h-0.7zM199.5 438.0h0.7v0.7h-0.7zM196.2 440.3h0.7v0.7h-0.7zM210.0 438.0h0.7v0.7h-0.7zM195.3 440.2h0.7v0.7h-0.7z" fill="#000" fill-opacity="0.38"/>
<ellipse cx="199.5" cy="442.2" rx="5.4" ry="5.0" fill="url(#g2)" fill-opacity="0.8"/>
<path d="M235.7 482.8h0.8v0.8h-0.8zM233.7 478.8h0.8v0.8h-0.8zM230.7 477.3h0.8v0.8h-0.8zM229.0 477.1h0.8v0.8h-0.8zM222.2 476.5h0.8v0.8h-0.8zM240.3 481.4h0.8v0.8h-0.8zM225.9 479.6h0.8v0.8h-0.8zM227.5 484.3h0.8v0.8h-0.8zM229.8 477.7h0.8v0.8h-0.8zM233.6 481.1h0.8v0.8h-0.8zM226.3 477.3h0.8v0.8h-0.8zM230.7 474.2h0.8v0.8h-0.8zM225.1 483.5h0.8v0.8h-0.8zM234.6 483.9h0.8v0.8h-0.8zM227.6 477.9h0.8v0.8h-0.8zM228.5 478.3h0.8v0.8h-0.8zM236.8 479.2h0.8v0.8h-0.8zM237.2 477.5h0.8v0.8h-0.8zM232.0 485.7h0.8v0.8h-0.8zM226.0 477.7h0.8v0.8h-0.8zM226.7 474.3h0.8v0.8h-0.8zM228.4 477.7h0.8v0.8h-0.8zM241.8 478.3h0.8v0.8h-0.8zM218.5 483.3h0.8v0.8h-0.8zM235.1 479.9h0.8v0.8h-0.8zM231.5 482.5h0.8v0.8h-0.8zM226.9 480.1h0.8v0.8h-0.8zM230.7 485.8h0.8v0.8h-0.8zM237.5 480.6h0.8v0.8h-0.8zM222.8 483.1h0.8v0.8h-0.8zM229.7 484.1h0.8v0.8h-0.8zM230.2 480.6h0.8v0.8h-0.8zM233.5 477.4h0.8v0.8h-0.8zM225.3 483.3h0.8v0.8h-0.8zM233.6 482.9h0.8v0.8h-0.8zM237.3 475.3h0.8v0.8h-0.8zM235.1 472.7h0.8v0.8h-0.8zM230.2 481.2h0.8v0.8h-0.8zM235.5 483.8h0.8v0.8h-0.8zM224.9 479.0h0.8v0.8h-0.8zM229.1 477.5h0.8v0.8h-0.8zM225.5 477.7h0.8v0.8h-0.8zM236.1 484.8h0.8v0.8h-0.8zM234.0 485.9h0.8v0.8h-0.8zM230.4 476.2h0.8v0.8h-0.8zM226.4 480.7h0.8v0.8h-0.8zM235.4 484.3h0.8v0.8h-0.8zM225.1 483.4h0.8v0.8h-0.8zM227.1 482.1h0.8v0.8h-0.8zM234.8 485.2h0.8v0.8h-0.8zM227.1 480.8h0.8v0.8h-0.8zM232.2 478.5h0.8v0.8h-0.8zM230.4 482.1h0.8v0.8h-0.8zM221.1 477.7h0.8v0.8h-0.8zM242.3 481.6h0.8v0.8h-0.8zM226.9 473.5h0.8v0.8h-0.8zM224.8 481.8h0.8v0.8h-0.8zM233.6 481.6h0.8v0.8h-0.8zM233.1 477.9h0.8v0.8h-0.8zM238.5 476.0h0.8v0.8h-0.8zM232.7 479.1h0.8v0.8h-0.8zM220.8 483.2h0.8v0.8h-0.8zM228.5 482.5h0.8v0.8h-0.8zM236.7 480.6h0.8v0.8h-0.8zM226.4 479.2h0.8v0.8h-0.8zM229.6 485.1h0.8v0.8h-0.8zM234.5 485.6h0.8v0.8h-0.8zM234.0 477.3h0.8v0.8h-0.8zM234.9 483.4h0.8v0.8h-0.8zM229.3 481.6h0.8v0.8h-0.8zM228.2 475.5h0.8v0.8h-0.8zM229.4 482.7h0.8v0.8h-0.8zM228.0 472.1h0.8v0.8h-0.8zM225.6 483.8h0.8v0.8h-0.8zM231.1 484.0h0.8v0.8h-0.8zM225.9 478.5h0.8v0.8h-0.8zM224.6 477.2h0.8v0.8h-0.8zM232.7 480.5h0.8v0.8h-0.8zM227.3 481.0h0.8v0.8h-0.8zM222.9 478.6h0.8v0.8h-0.8zM221.9 474.7h0.8v0.8h-0.8zM222.7 476.1h0.8v0.8h-0.8zM238.4 484.9h0.8v0.8h-0.8zM236.7 477.9h0.8v0.8h-0.8zM233.3 476.0h0.8v0.8h-0.8zM227.0 480.9h0.8v0.8h-0.8zM221.4 480.7h0.8v0.8h-0.8zM233.2 472.7h0.8v0.8h-0.8zM216.8 479.0h0.8v0.8h-0.8zM229.3 480.5h0.8v0.8h-0.8zM223.9 482.0h0.8v0.8h-0.8zM230.6 477.4h0.8v0.8h-0.8zM238.7 480.9h0.8v0.8h-0.8zM233.9 486.6h0.8v0.8h-0.8zM227.3 479.2h0.8v0.8h-0.8zM220.6 479.2h0.8v0.8h-0.8zM232.9 480.7h0.8v0.8h-0.8zM223.2 477.0h0.8v0.8h-0.8zM220.0 475.1h0.8v0.8h-0.8zM230.5 481.1h0.8v0.8h-0.8zM225.0 479.2h0.8v0.8h-0.8zM225.6 482.2h0.8v0.8h-0.8zM233.3 478.0h0.8v0.8h-0.8zM227.5 475.6h0.8v0.8h-0.8zM229.8 483.0h0.8v0.8h-0.8zM233.0 485.2h0.8v0.8h-0.8zM228.2 476.8h0.8v0.8h-0.8zM235.5 483.3h0.8v0.8h-0.8zM226.4 483.9h0.8v0.8h-0.8zM229.8 479.8h0.8v0.8h-0.8zM239.8 481.9h0.8v0.8h-0.8zM231.6 478.9h0.8v0.8h-0.8zM231.0 483.7h0.8v0.8h-0.8zM232.4 477.3h0.8v0.8h-0.8zM232.3 479.6h0.8v0.8h-0.8zM231.6 479.3h0.8v0.8h-0.8zM218.2 474.3h0.8v0.8h-0.8zM227.8 472.2h0.8v0.8h-0.8zM233.6 478.4h0.8v0.8h-0.8zM231.7 472.0h0.8v0.8h-0.8zM231.2 483.5h0.8v0.8h-0.8zM230.9 475.3h0.8v0.8h-0.8zM235.1 478.1h0.8v0.8h-0.8zM226.8 480.7h0.8v0.8h-0.8zM232.3 475.6h0.8v0.8h-0.8zM229.9 480.2h0.8v0.8h-0.8zM237.6 484.6h0.8v0.8h-0.8zM243.6 477.6h0.8v0.8h-0.8zM225.1 481.3h0.8v0.8h-0.8zM238.6 476.4h0.8v0.8h-0.8zM228.0 477.3h0.8v0.8h-0.8zM232.7 481.4h0.8v0.8h-0.8zM229.7 482.3h0.8v0.8h-0.8zM225.7 478.7h0.8v0.8h-0.8zM229.7 480.2h0.8v0.8h-0.8zM237.0 480.3h0.8v0.8h-0.8zM236.9 480.9h0.8v0.8h-0.8zM236.1 480.6h0.8v0.8h-0.8zM225.0 477.0h0.8v0.8h-0.8zM232.2 486.7h0.8v0.8h-0.8zM239.9 478.9h0.8v0.8h-0.8zM243.4 476.0h0.8v0.8h-0.8zM225.4 483.3h0.8v0.8h-0.8zM221.7 483.3h0.8v0.8h-0.8zM231.9 482.2h0.8v0.8h-0.8zM223.4 481.4h0.8v0.8h-0.8zM235.0 479.8h0.8v0.8h-0.8zM235.4 480.1h0.8v0.8h-0.8zM231.8 478.9h0.8v0.8h-0.8zM222.6 479.4h0.8v0.8h-0.8zM232.6 477.3h0.8v0.8h-0.8zM219.4 474.5h0.8v0.8h-0.8zM237.0 479.2h0.8v0.8h-0.8zM225.8 484.4h0.8v0.8h-0.8zM229.0 474.6h0.8v0.8h-0.8zM227.5 476.8h0.8v0.8h-0.8zM228.9 476.7h0.8v0.8h-0.8zM230.3 481.6h0.8v0.8h-0.8zM226.8 479.3h0.8v0.8h-0.8zM229.1 483.0h0.8v0.8h-0.8zM226.0 482.7h0.8v0.8h-0.8zM236.6 479.3h0.8v0.8h-0.8zM224.7 478.9h0.8v0.8h-0.8zM220.4 478.1h0.8v0.8h-0.8zM223.5 479.4h0.8v0.8h-0.8zM227.9 481.9h0.8v0.8h-0.8zM230.5 481.5h0.8v0.8h-0.8zM229.7 481.0h0.8v0.8h-0.8zM223.8 482.4h0.8v0.8h-0.8zM236.9 484.0h0.8v0.8h-0.8zM222.7 481.5h0.8v0.8h-0.8zM221.1 482.7h0.8v0.8h-0.8zM228.8 478.3h0.8v0.8h-0.8zM225.9 479.1h0.8v0.8h-0.8zM229.9 476.5h0.8v0.8h-0.8zM230.2 480.9h0.8v0.8h-0.8zM232.8 479.8h0.8v0.8h-0.8zM235.4 481.2h0.8v0.8h-0.8zM222.4 482.2h0.8v0.8h-0.8zM233.0 470.4h0.8v0.8h-0.8zM229.0 481.4h0.8v0.8h-0.8zM230.1 480.4h0.8v0.8h-0.8zM229.1 485.0h0.8v0.8h-0.8zM232.0 479.0h0.8v0.8h-0.8zM225.3 478.1h0.8v0.8h-0.8zM231.7 480.5h0.8v0.8h-0.8zM231.6 484.9h0.8v0.8h-0.8zM236.1 481.5h0.8v0.8h-0.8zM230.2 479.8h0.8v0.8h-0.8zM228.7 483.6h0.8v0.8h-0.8zM223.1 476.3h0.8v0.8h-0.8zM227.5 476.5h0.8v0.8h-0.8zM225.9 484.3h0.8v0.8h-0.8zM217.7 482.1h0.8v0.8h-0.8zM222.8 479.1h0.8v0.8h-0.8zM226.8 476.4h0.8v0.8h-0.8zM221.9 480.3h0.8v0.8h-0.8zM213.9 472.4h0.8v0.8h-0.8zM227.8 484.0h0.8v0.8h-0.8zM240.0 478.9h0.8v0.8h-0.8zM225.6 479.0h0.8v0.8h-0.8zM232.5 483.4h0.8v0.8h-0.8zM224.8 481.7h0.8v0.8h-0.8zM229.8 484.1h0.8v0.8h-0.8zM227.7 479.3h0.8v0.8h-0.8zM225.3 475.2h0.8v0.8h-0.8zM231.4 482.6h0.8v0.8h-0.8zM236.0 481.0h0.8v0.8h-0.8zM227.4 476.7h0.8v0.8h-0.8zM223.6 477.4h0.8v0.8h-0.8zM231.8 480.3h0.8v0.8h-0.8zM217.5 479.6h0.8v0.8h-0.8zM228.4 476.2h0.8v0.8h-0.8zM229.8 481.9h0.8v0.8h-0.8zM224.3 475.1h0.8v0.8h-0.8zM228.2 480.9h0.8v0.8h-0.8zM228.5 485.6h0.8v0.8h-0.8zM230.7 476.4h0.8v0.8h-0.8zM234.2 477.7h0.8v0.8h-0.8zM233.7 480.4h0.8v0.8h-0.8zM236.6 476.4h0.8v0.8h-0.8zM233.9 481.5h0.8v0.8h-0.8zM225.0 482.5h0.8v0.8h-0.8zM242.3 481.3h0.8v0.8h-0.8zM225.8 479.5h0.8v0.8h-0.8zM237.0 480.9h0.8v0.8h-0.8zM238.0 477.7h0.8v0.8h-0.8zM237.1 474.3h0.8v0.8h-0.8zM229.0 478.9h0.8v0.8h-0.8zM227.3 484.4h0.8v0.8h-0.8zM226.7 481.3h0.8v0.8h-0.8zM240.0 483.0h0.8v0.8h-0.8zM227.7 477.4h0.8v0.8h-0.8zM219.0 481.4h0.8v0.8h-0.8zM234.8 484.0h0.8v0.8h-0.8zM234.2 471.7h0.8v0.8h-0.8zM225.1 482.9h0.8v0.8h-0.8zM227.8 483.0h0.8v0.8h-0.8zM243.9 477.3h0.8v0.8h-0.8zM242.0 479.7h0.8v0.8h-0.8zM221.9 480.4h0.8v0.8h-0.8zM234.9 477.9h0.8v0.8h-0.8zM238.6 476.9h0.8v0.8h-0.8zM228.9 483.3h0.8v0.8h-0.8zM228.8 478.0h0.8v0.8h-0.8zM229.9 482.4h0.8v0.8h-0.8zM239.4 484.9h0.8v0.8h-0.8zM240.2 479.9h0.8v0.8h-0.8zM220.9 479.9h0.8v0.8h-0.8zM227.7 476.4h0.8v0.8h-0.8zM227.1 479.8h0.8v0.8h-0.8zM230.3 483.3h0.8v0.8h-0.8zM225.0 484.1h0.8v0.8h-0.8zM230.2 482.6h0.8v0.8h-0.8zM236.8 475.5h0.8v0.8h-0.8zM238.7 477.4h0.8v0.8h-0.8zM232.2 483.9h0.8v0.8h-0.8zM235.0 474.4h0.8v0.8h-0.8zM230.9 484.1h0.8v0.8h-0.8zM229.3 479.7h0.8v0.8h-0.8zM230.4 485.9h0.8v0.8h-0.8zM227.0 476.6h0.8v0.8h-0.8zM223.9 478.1h0.8v0.8h-0.8zM228.7 481.3h0.8v0.8h-0.8zM229.5 473.8h0.8v0.8h-0.8zM221.4 482.5h0.8v0.8h-0.8zM233.9 475.1h0.8v0.8h-0.8zM235.1 471.2h0.8v0.8h-0.8zM242.7 482.1h0.8v0.8h-0.8zM220.9 481.8h0.8v0.8h-0.8zM229.8 478.4h0.8v0.8h-0.8zM228.0 479.2h0.8v0.8h-0.8zM229.4 476.7h0.8v0.8h-0.8zM226.9 482.0h0.8v0.8h-0.8zM232.9 475.2h0.8v0.8h-0.8zM227.3 485.6h0.8v0.8h-0.8zM233.9 486.0h0.8v0.8h-0.8zM222.6 476.3h0.8v0.8h-0.8zM218.1 473.0h0.8v0.8h-0.8zM227.9 476.2h0.8v0.8h-0.8zM224.0 477.5h0.8v0.8h-0.8zM229.0 483.0h0.8v0.8h-0.8zM233.1 473.7h0.8v0.8h-0.8zM238.2 478.8h0.8v0.8h-0.8zM224.5 479.9h0.8v0.8h-0.8zM227.8 475.0h0.8v0.8h-0.8zM238.6 477.9h0.8v0.8h-0.8zM226.7 481.9h0.8v0.8h-0.8zM239.2 481.7h0.8v0.8h-0.8zM225.0 481.6h0.8v0.8h-0.8zM236.1 481.4h0.8v0.8h-0.8zM233.6 478.3h0.8v0.8h-0.8zM229.6 473.9h0.8v0.8h-0.8zM226.0 475.9h0.8v0.8h-0.8zM230.0 485.4h0.8v0.8h-0.8zM217.6 475.2h0.8v0.8h-0.8zM224.9 479.7h0.8v0.8h-0.8zM236.4 477.2h0.8v0.8h-0.8zM225.7 484.4h0.8v0.8h-0.8zM232.0 481.9h0.8v0.8h-0.8zM234.6 477.3h0.8v0.8h-0.8zM231.2 477.6h0.8v0.8h-0.8zM226.0 480.5h0.8v0.8h-0.8zM232.4 475.4h0.8v0.8h-0.8zM225.8 482.2h0.8v0.8h-0.8zM230.9 482.4h0.8v0.8h-0.8zM228.3 477.1h0.8v0.8h-0.8zM234.3 482.2h0.8v0.8h-0.8zM214.3 483.1h0.8v0.8h-0.8zM225.8 482.4h0.8v0.8h-0.8zM238.7 479.0h0.8v0.8h-0.8zM224.6 480.9h0.8v0.8h-0.8zM230.5 482.0h0.8v0.8h-0.8zM222.3 480.9h0.8v0.8h-0.8zM234.9 482.5h0.8v0.8h-0.8zM233.5 484.3h0.8v0.8h-0.8zM225.4 484.4h0.8v0.8h-0.8zM231.1 476.4h0.8v0.8h-0.8zM228.4 481.0h0.8v0.8h-0.8zM231.8 484.9h0.8v0.8h-0.8zM231.1 478.2h0.8v0.8h-0.8zM242.1 478.8h0.8v0.8h-0.8zM225.5 483.3h0.8v0.8h-0.8zM227.7 477.2h0.8v0.8h-0.8zM224.1 484.3h0.8v0.8h-0.8zM224.1 480.4h0.8v0.8h-0.8zM227.5 479.3h0.8v0.8h-0.8zM225.5 480.6h0.8v0.8h-0.8zM233.3 483.8h0.8v0.8h-0.8zM228.0 475.8h0.8v0.8h-0.8zM221.8 480.0h0.8v0.8h-0.8zM216.3 484.8h0.8v0.8h-0.8zM230.2 480.5h0.8v0.8h-0.8zM222.3 477.7h0.8v0.8h-0.8zM225.9 482.4h0.8v0.8h-0.8zM227.7 482.2h0.8v0.8h-0.8zM232.8 473.1h0.8v0.8h-0.8zM228.7 484.6h0.8v0.8h-0.8zM227.2 480.5h0.8v0.8h-0.8zM229.3 475.6h0.8v0.8h-0.8zM242.0 479.5h0.8v0.8h-0.8zM233.5 478.4h0.8v0.8h-0.8zM237.7 484.2h0.8v0.8h-0.8zM236.5 483.5h0.8v0.8h-0.8zM233.9 485.0h0.8v0.8h-0.8zM232.2 480.5h0.8v0.8h-0.8zM234.5 476.8h0.8v0.8h-0.8zM216.0 482.9h0.8v0.8h-0.8zM230.8 477.5h0.8v0.8h-0.8zM228.5 476.6h0.8v0.8h-0.8zM225.4 480.7h0.8v0.8h-0.8zM230.7 483.0h0.8v0.8h-0.8zM229.5 482.3h0.8v0.8h-0.8zM233.8 477.5h0.8v0.8h-0.8zM220.7 477.6h0.8v0.8h-0.8zM228.6 478.1h0.8v0.8h-0.8zM242.2 477.6h0.8v0.8h-0.8zM232.6 477.3h0.8v0.8h-0.8zM233.8 475.5h0.8v0.8h-0.8zM235.3 480.7h0.8v0.8h-0.8zM227.8 475.7h0.8v0.8h-0.8zM239.2 477.9h0.8v0.8h-0.8zM238.0 471.4h0.8v0.8h-0.8zM223.4 486.6h0.8v0.8h-0.8zM239.8 480.1h0.8v0.8h-0.8zM235.5 482.2h0.8v0.8h-0.8zM228.0 480.5h0.8v0.8h-0.8zM223.7 475.2h0.8v0.8h-0.8zM230.7 482.7h0.8v0.8h-0.8zM230.9 475.6h0.8v0.8h-0.8zM234.7 480.4h0.8v0.8h-0.8zM234.1 479.0h0.8v0.8h-0.8zM228.5 483.8h0.8v0.8h-0.8zM237.6 475.7h0.8v0.8h-0.8zM223.9 483.5h0.8v0.8h-0.8zM232.0 480.2h0.8v0.8h-0.8zM224.6 483.7h0.8v0.8h-0.8zM231.0 480.8h0.8v0.8h-0.8zM232.1 478.2h0.8v0.8h-0.8zM232.2 480.5h0.8v0.8h-0.8zM234.0 481.4h0.8v0.8h-0.8zM222.9 477.5h0.8v0.8h-0.8zM228.5 484.2h0.8v0.8h-0.8zM226.4 484.1h0.8v0.8h-0.8zM236.0 483.2h0.8v0.8h-0.8zM242.4 480.0h0.8v0.8h-0.8zM231.8 484.4h0.8v0.8h-0.8zM232.2 483.6h0.8v0.8h-0.8zM229.3 485.1h0.8v0.8h-0.8zM231.9 473.2h0.8v0.8h-0.8zM236.0 479.4h0.8v0.8h-0.8zM225.1 479.0h0.8v0.8h-0.8zM228.4 484.2h0.8v0.8h-0.8zM231.8 479.8h0.8v0.8h-0.8zM229.9 476.8h0.8v0.8h-0.8zM226.5 478.4h0.8v0.8h-0.8zM228.7 475.9h0.8v0.8h-0.8zM227.8 483.6h0.8v0.8h-0.8zM232.5 480.0h0.8v0.8h-0.8zM231.9 479.2h0.8v0.8h-0.8zM223.5 483.2h0.8v0.8h-0.8zM242.4 481.9h0.8v0.8h-0.8zM223.3 481.9h0.8v0.8h-0.8zM228.1 479.1h0.8v0.8h-0.8zM220.9 479.8h0.8v0.8h-0.8zM232.2 474.3h0.8v0.8h-0.8zM228.8 478.3h0.8v0.8h-0.8zM224.5 482.3h0.8v0.8h-0.8zM239.1 481.5h0.8v0.8h-0.8zM235.7 482.8h0.8v0.8h-0.8zM229.6 482.1h0.8v0.8h-0.8zM237.3 478.5h0.8v0.8h-0.8zM229.2 475.1h0.8v0.8h-0.8zM219.7 477.1h0.8v0.8h-0.8zM234.9 481.4h0.8v0.8h-0.8zM231.4 484.8h0.8v0.8h-0.8zM220.2 485.0h0.8v0.8h-0.8zM230.5 482.8h0.8v0.8h-0.8zM237.6 477.1h0.8v0.8h-0.8zM225.2 481.5h0.8v0.8h-0.8zM229.7 478.0h0.8v0.8h-0.8zM229.3 477.5h0.8v0.8h-0.8zM230.7 478.7h0.8v0.8h-0.8zM239.4 476.3h0.8v0.8h-0.8zM233.2 480.3h0.8v0.8h-0.8zM238.7 476.6h0.8v0.8h-0.8zM227.4 486.2h0.8v0.8h-0.8zM226.4 478.7h0.8v0.8h-0.8zM227.8 476.6h0.8v0.8h-0.8zM236.7 485.5h0.8v0.8h-0.8zM229.2 477.4h0.8v0.8h-0.8zM222.5 482.4h0.8v0.8h-0.8zM227.1 482.0h0.8v0.8h-0.8zM216.7 478.5h0.8v0.8h-0.8zM233.5 481.5h0.8v0.8h-0.8zM214.2 481.1h0.8v0.8h-0.8zM230.7 480.0h0.8v0.8h-0.8zM228.1 478.5h0.8v0.8h-0.8zM230.8 481.9h0.8v0.8h-0.8zM212.5 480.0h0.8v0.8h-0.8zM235.1 479.3h0.8v0.8h-0.8zM236.7 476.7h0.8v0.8h-0.8zM240.6 483.5h0.8v0.8h-0.8zM238.0 485.7h0.8v0.8h-0.8zM223.4 479.7h0.8v0.8h-0.8zM232.6 483.8h0.8v0.8h-0.8zM230.4 475.4h0.8v0.8h-0.8zM236.7 479.4h0.8v0.8h-0.8zM232.4 478.9h0.8v0.8h-0.8zM229.4 475.1h0.8v0.8h-0.8zM233.7 477.8h0.8v0.8h-0.8zM220.2 481.5h0.8v0.8h-0.8zM229.8 483.5h0.8v0.8h-0.8zM234.5 475.7h0.8v0.8h-0.8zM229.0 480.0h0.8v0.8h-0.8zM230.5 476.3h0.8v0.8h-0.8zM230.4 483.5h0.8v0.8h-0.8zM236.9 485.2h0.8v0.8h-0.8zM234.2 471.1h0.8v0.8h-0.8zM228.5 478.1h0.8v0.8h-0.8zM214.0 485.5h0.8v0.8h-0.8zM235.0 480.0h0.8v0.8h-0.8zM232.0 481.8h0.8v0.8h-0.8zM228.8 484.9h0.8v0.8h-0.8zM240.1 483.0h0.8v0.8h-0.8zM226.9 480.9h0.8v0.8h-0.8zM235.4 482.6h0.8v0.8h-0.8zM226.2 483.4h0.8v0.8h-0.8zM234.0 482.1h0.8v0.8h-0.8zM227.7 479.9h0.8v0.8h-0.8zM219.5 479.9h0.8v0.8h-0.8zM227.6 479.0h0.8v0.8h-0.8zM228.4 478.9h0.8v0.8h-0.8zM230.5 480.4h0.8v0.8h-0.8zM226.6 479.6h0.8v0.8h-0.8zM229.5 481.8h0.8v0.8h-0.8zM232.4 478.8h0.8v0.8h-0.8zM225.4 474.2h0.8v0.8h-0.8zM223.1 481.5h0.8v0.8h-0.8zM224.9 485.8h0.8v0.8h-0.8zM229.1 478.7h0.8v0.8h-0.8zM229.1 478.1h0.8v0.8h-0.8zM226.5 480.3h0.8v0.8h-0.8zM222.0 480.5h0.8v0.8h-0.8zM229.5 476.8h0.8v0.8h-0.8zM235.7 481.3h0.8v0.8h-0.8zM236.0 477.7h0.8v0.8h-0.8zM223.1 475.8h0.8v0.8h-0.8zM221.3 473.3h0.8v0.8h-0.8zM238.6 478.3h0.8v0.8h-0.8zM231.1 478.1h0.8v0.8h-0.8zM229.2 485.6h0.8v0.8h-0.8zM220.4 476.5h0.8v0.8h-0.8zM230.7 476.8h0.8v0.8h-0.8zM233.8 484.6h0.8v0.8h-0.8zM234.9 482.7h0.8v0.8h-0.8zM229.1 483.6h0.8v0.8h-0.8zM225.6 475.8h0.8v0.8h-0.8zM228.6 479.1h0.8v0.8h-0.8zM236.8 476.5h0.8v0.8h-0.8zM236.3 477.3h0.8v0.8h-0.8zM223.0 474.0h0.8v0.8h-0.8zM229.8 474.9h0.8v0.8h-0.8zM231.2 480.2h0.8v0.8h-0.8zM227.8 473.2h0.8v0.8h-0.8zM227.1 481.6h0.8v0.8h-0.8zM220.2 482.5h0.8v0.8h-0.8zM230.1 478.1h0.8v0.8h-0.8zM231.1 482.3h0.8v0.8h-0.8zM229.9 477.3h0.8v0.8h-0.8zM234.3 477.6h0.8v0.8h-0.8zM232.0 483.5h0.8v0.8h-0.8zM237.2 485.7h0.8v0.8h-0.8zM235.7 480.5h0.8v0.8h-0.8zM228.9 480.7h0.8v0.8h-0.8zM233.6 477.1h0.8v0.8h-0.8zM238.4 474.4h0.8v0.8h-0.8zM235.5 475.5h0.8v0.8h-0.8zM224.0 478.2h0.8v0.8h-0.8zM228.4 475.2h0.8v0.8h-0.8zM233.4 479.6h0.8v0.8h-0.8zM237.4 476.4h0.8v0.8h-0.8zM220.0 482.5h0.8v0.8h-0.8zM228.8 483.5h0.8v0.8h-0.8zM217.1 475.6h0.8v0.8h-0.8zM230.5 487.0h0.8v0.8h-0.8zM223.2 473.2h0.8v0.8h-0.8zM227.5 485.1h0.8v0.8h-0.8zM238.7 475.2h0.8v0.8h-0.8zM226.6 473.5h0.8v0.8h-0.8zM225.4 476.6h0.8v0.8h-0.8zM232.4 484.1h0.8v0.8h-0.8zM243.2 478.7h0.8v0.8h-0.8zM234.5 480.8h0.8v0.8h-0.8zM230.7 486.9h0.8v0.8h-0.8zM233.9 485.6h0.8v0.8h-0.8zM231.7 483.1h0.8v0.8h-0.8zM232.8 479.7h0.8v0.8h-0.8zM226.2 478.6h0.8v0.8h-0.8zM230.1 478.7h0.8v0.8h-0.8zM228.1 477.5h0.8v0.8h-0.8zM234.7 479.1h0.8v0.8h-0.8zM229.4 479.2h0.8v0.8h-0.8zM237.2 478.1h0.8v0.8h-0.8zM237.8 477.0h0.8v0.8h-0.8zM238.4 482.2h0.8v0.8h-0.8zM227.3 481.6h0.8v0.8h-0.8zM236.3 476.6h0.8v0.8h-0.8zM228.8 481.1h0.8v0.8h-0.8zM228.9 479.0h0.8v0.8h-0.8zM230.1 481.1h0.8v0.8h-0.8zM234.3 485.3h0.8v0.8h-0.8zM228.2 486.3h0.8v0.8h-0.8zM229.3 474.8h0.8v0.8h-0.8zM227.6 478.8h0.8v0.8h-0.8zM235.9 472.8h0.8v0.8h-0.8zM226.5 479.5h0.8v0.8h-0.8zM233.6 481.4h0.8v0.8h-0.8zM234.7 479.4h0.8v0.8h-0.8zM228.7 484.3h0.8v0.8h-0.8zM239.5 481.4h0.8v0.8h-0.8zM230.9 477.0h0.8v0.8h-0.8zM241.6 481.4h0.8v0.8h-0.8zM233.4 474.3h0.8v0.8h-0.8zM229.1 479.3h0.8v0.8h-0.8zM238.5 479.4h0.8v0.8h-0.8zM234.7 486.9h0.8v0.8h-0.8zM223.6 477.1h0.8v0.8h-0.8zM233.8 480.4h0.8v0.8h-0.8zM230.2 479.4h0.8v0.8h-0.8zM230.7 481.3h0.8v0.8h-0.8zM227.4 479.0h0.8v0.8h-0.8zM231.3 476.1h0.8v0.8h-0.8zM232.5 472.2h0.8v0.8h-0.8zM233.5 479.6h0.8v0.8h-0.8zM223.6 484.8h0.8v0.8h-0.8zM226.0 484.3h0.8v0.8h-0.8zM229.7 485.8h0.8v0.8h-0.8zM228.8 483.7h0.8v0.8h-0.8zM228.3 473.3h0.8v0.8h-0.8zM232.2 481.7h0.8v0.8h-0.8zM232.2 486.0h0.8v0.8h-0.8zM226.0 474.9h0.8v0.8h-0.8z" fill="#000" fill-opacity="0.4"/>
<ellipse cx="232" cy="480.2" rx="9.0" ry="6.8" fill="url(#g1)" fill-opacity="1.0"/>
<path d="M239.2 437.4h0.7v0.7h-0.7zM229.9 428.2h0.7v0.7h-0.7zM225.6 452.0h0.7v0.7h-0.7zM222.8 459.8h0.7v0.7h-0.7zM221.4 445.7h0.7v0.7h-0.7zM235.5 436.9h0.7v0.7h-0.7zM234.9 444.0h0.7v0.7h-0.7zM216.5 432.2h0.7v0.7h-0.7zM234.6 460.9h0.7v0.7h-0.7zM235.4 462.5h0.7v0.7h-0.7zM235.0 459.1h0.7v0.7h-0.7zM240.1 451.8h0.7v0.7h-0.7zM230.9 434.5h0.7v0.7h-0.7zM222.1 431.4h0.7v0.7h-0.7zM218.3 443.7h0.7v0.7h-0.7zM223.8 450.5h0.7v0.7h-0.7zM239.8 438.8h0.7v0.7h-0.7zM241.8 461.4h0.7v0.7h-0.7zM220.8 451.6h0.7v0.7h-0.7zM220.9 430.6h0.7v0.7h-0.7zM221.6 436.2h0.7v0.7h-0.7zM215.2 429.0h0.7v0.7h-0.7zM239.2 462.6h0.7v0.7h-0.7zM240.9 430.9h0.7v0.7h-0.7zM215.7 462.3h0.7v0.7h-0.7zM226.2 441.8h0.7v0.7h-0.7z" fill="#000" fill-opacity="0.2"/>
<path d="M215.2 480.0h0.7v0.7h-0.7zM201.9 474.3h0.7v0.7h-0.7zM194.1 482.7h0.7v0.7h-0.7zM222.6 472.6h0.7v0.7h-0.7zM198.0 479.9h0.7v0.7h-0.7zM199.6 479.3h0.7v0.7h-0.7zM208.1 476.0h0.7v0.7h-0.7zM194.2 478.3h0.7v0.7h-0.7zM219.2 474.1h0.7v0.7h-0.7zM209.4 484.2h0.7v0.7h-0.7zM210.5 477.2h0.7v0.7h-0.7zM223.4 483.7h0.7v0.7h-0.7zM225.9 476.5h0.7v0.7h-0.7zM207.4 478.8h0.7v0.7h-0.7zM220.3 481.3h0.7v0.7h-0.7zM209.8 479.7h0.7v0.7h-0.7zM222.1 477.3h0.7v0.7h-0.7zM194.7 474.6h0.7v0.7h-0.7zM198.8 473.4h0.7v0.7h-0.7zM225.2 480.3h0.7v0.7h-0.7zM218.7 478.8h0.7v0.7h-0.7zM208.8 475.4h0.7v0.7h-0.7zM222.1 478.3h0.7v0.7h-0.7zM204.6 483.1h0.7v0.7h-0.7z" fill="#000" fill-opacity="0.25"/>
<line x1="186.9" y1="421.4" x2="189.5" y2="421.4" stroke="#777" stroke-width="0.7"/>
<line x1="185.3" y1="420.2" x2="185.3" y2="422.0" stroke="#aaa" stroke-width="0.5"/>
<line x1="189.5" y1="487.6" x2="189.5" y2="490.20000000000005" stroke="#777" stroke-width="0.7"/>
<line x1="188.7" y1="491.40000000000003" x2="190.3" y2="491.40000000000003" stroke="#aaa" stroke-width="0.5"/>
<line x1="186.9" y1="437.95" x2="189.5" y2="437.95" stroke="#777" stroke-width="0.7"/>
<line x1="185.3" y1="436.75" x2="185.3" y2="438.55" stroke="#aaa" stroke-width="0.5"/>
<line x1="206.225" y1="487.6" x2="206.225" y2="490.20000000000005" stroke="#777" stroke-width="0.7"/>
<line x1="205.42499999999998" y1="491.40000000000003" x2="207.025" y2="491.40000000000003" stroke="#aaa" stroke-width="0.5"/>
<line x1="186.9" y1="454.5" x2="189.5" y2="454.5" stroke="#777" stroke-width="0.7"/>
<line x1="185.3" y1="453.3" x2="185.3" y2="455.1" stroke="#aaa" stroke-width="0.5"/>
<line x1="222.95" y1="487.6" x2="222.95" y2="490.20000000000005" stroke="#777" stroke-width="0.7"/>
<line x1="222.14999999999998" y1="491.40000000000003" x2="223.75" y2="491.40000000000003" stroke="#aaa" stroke-width="0.5"/>
<line x1="186.9" y1="471.05" x2="189.5" y2="471.05" stroke="#777" stroke-width="0.7"/>
<line x1="185.3" y1="469.85" x2="185.3" y2="471.65000000000003" stroke="#aaa" stroke-width="0.5"/>
<line x1="239.67499999999998" y1="487.6" x2="239.67499999999998" y2="490.20000000000005" stroke="#777" stroke-width="0.7"/>
<line x1="238.87499999999997" y1="491.40000000000003" x2="240.475" y2="491.40000000000003" stroke="#aaa" stroke-width="0.5"/>
<line x1="186.9" y1="487.6" x2="189.5" y2="487.6" stroke="#777" stroke-width="0.7"/>
<line x1="185.3" y1="486.40000000000003" x2="185.3" y2="488.20000000000005" stroke="#aaa" stroke-width="0.5"/>
<line x1="256.4" y1="487.6" x2="256.4" y2="490.20000000000005" stroke="#777" stroke-width="0.7"/>
<line x1="255.59999999999997" y1="491.40000000000003" x2="257.2" y2="491.40000000000003" stroke="#aaa" stroke-width="0.5"/>
<line x1="189.5" y1="421.4" x2="189.5" y2="487.6" stroke="#333" stroke-width="0.9"/>
<line x1="189.5" y1="487.6" x2="256.4" y2="487.6" stroke="#333" stroke-width="0.9"/>
<line x1="211.5" y1="421.4" x2="211.5" y2="487.6" stroke="#555" stroke-width="0.9"/>
<line x1="189.5" y1="470.5" x2="257.4" y2="470.5" stroke="#555" stroke-width="0.9"/>
<text transform="translate(211.6 418.8) scale(1 1.05)" font-size="10.8" text-anchor="middle" fill="#111" >Before BMT</text>
<text transform="translate(247 484.8) scale(1 1.05)" font-size="8.9" text-anchor="start" fill="#111" >92.5±1.7%</text>
<text transform="translate(180.0,461.5) rotate(-90) scale(1 1.05)" font-size="10.6" text-anchor="middle" fill="#111">CD45.1</text>
<text transform="translate(215.0 503.7) scale(1 1.05)" font-size="10.6" text-anchor="middle" fill="#111" >CD45.2</text>
<path d="M204.4 587.8h0.7v0.7h-0.7zM196.6 553.4h0.7v0.7h-0.7zM203.5 553.5h0.7v0.7h-0.7zM191.0 556.7h0.7v0.7h-0.7zM193.1 543.5h0.7v0.7h-0.7zM202.5 548.9h0.7v0.7h-0.7zM199.5 546.2h0.7v0.7h-0.7zM189.3 574.9h0.7v0.7h-0.7zM202.5 570.3h0.7v0.7h-0.7zM199.2 538.5h0.7v0.7h-0.7zM197.0 578.0h0.7v0.7h-0.7zM202.7 563.5h0.7v0.7h-0.7zM199.6 538.2h0.7v0.7h-0.7zM188.1 578.8h0.7v0.7h-0.7zM187.4 543.2h0.7v0.7h-0.7zM195.0 570.0h0.7v0.7h-0.7zM200.9 580.0h0.7v0.7h-0.7zM205.6 544.3h0.7v0.7h-0.7zM192.0 535.3h0.7v0.7h-0.7zM193.6 534.2h0.7v0.7h-0.7zM206.2 562.5h0.7v0.7h-0.7zM196.8 531.4h0.7v0.7h-0.7zM205.2 542.7h0.7v0.7h-0.7zM202.4 540.3h0.7v0.7h-0.7zM192.4 536.2h0.7v0.7h-0.7zM197.7 545.1h0.7v0.7h-0.7zM198.4 570.9h0.7v0.7h-0.7zM191.5 535.9h0.7v0.7h-0.7zM197.3 552.0h0.7v0.7h-0.7zM195.9 550.1h0.7v0.7h-0.7zM190.3 535.4h0.7v0.7h-0.7zM201.5 566.1h0.7v0.7h-0.7zM200.8 566.3h0.7v0.7h-0.7zM197.3 539.8h0.7v0.7h-0.7zM205.3 560.0h0.7v0.7h-0.7zM196.2 543.7h0.7v0.7h-0.7zM194.5 586.9h0.7v0.7h-0.7zM195.1 576.2h0.7v0.7h-0.7zM189.5 563.9h0.7v0.7h-0.7zM192.4 542.0h0.7v0.7h-0.7zM193.1 551.8h0.7v0.7h-0.7zM199.9 552.4h0.7v0.7h-0.7zM204.2 537.3h0.7v0.7h-0.7zM204.1 554.2h0.7v0.7h-0.7zM202.9 551.7h0.7v0.7h-0.7zM192.1 581.7h0.7v0.7h-0.7zM199.7 571.3h0.7v0.7h-0.7zM197.5 570.6h0.7v0.7h-0.7zM206.1 572.4h0.7v0.7h-0.7zM206.4 549.0h0.7v0.7h-0.7zM193.0 581.0h0.7v0.7h-0.7zM203.7 581.3h0.7v0.7h-0.7zM195.7 552.8h0.7v0.7h-0.7zM205.9 540.2h0.7v0.7h-0.7zM190.3 538.3h0.7v0.7h-0.7zM193.1 553.1h0.7v0.7h-0.7zM194.7 555.6h0.7v0.7h-0.7zM187.7 548.5h0.7v0.7h-0.7zM197.2 531.2h0.7v0.7h-0.7zM196.6 582.3h0.7v0.7h-0.7zM200.1 584.8h0.7v0.7h-0.7zM204.2 557.6h0.7v0.7h-0.7zM187.4 531.6h0.7v0.7h-0.7zM198.5 578.6h0.7v0.7h-0.7zM193.6 535.9h0.7v0.7h-0.7zM202.2 560.3h0.7v0.7h-0.7zM196.4 535.7h0.7v0.7h-0.7zM198.1 562.4h0.7v0.7h-0.7zM201.2 582.1h0.7v0.7h-0.7zM188.5 577.9h0.7v0.7h-0.7zM193.4 552.9h0.7v0.7h-0.7zM193.9 576.5h0.7v0.7h-0.7zM195.8 532.3h0.7v0.7h-0.7zM196.5 536.9h0.7v0.7h-0.7zM187.3 531.1h0.7v0.7h-0.7zM194.6 555.0h0.7v0.7h-0.7zM187.0 536.2h0.7v0.7h-0.7zM205.0 560.6h0.7v0.7h-0.7zM206.6 560.5h0.7v0.7h-0.7zM206.1 569.5h0.7v0.7h-0.7zM194.7 531.0h0.7v0.7h-0.7zM190.0 575.5h0.7v0.7h-0.7zM200.2 545.8h0.7v0.7h-0.7zM190.3 566.4h0.7v0.7h-0.7zM205.6 542.9h0.7v0.7h-0.7zM206.9 560.0h0.7v0.7h-0.7zM191.2 538.9h0.7v0.7h-0.7zM201.2 583.7h0.7v0.7h-0.7zM191.1 542.3h0.7v0.7h-0.7zM189.9 540.5h0.7v0.7h-0.7zM191.5 553.0h0.7v0.7h-0.7zM191.8 567.8h0.7v0.7h-0.7zM191.8 544.0h0.7v0.7h-0.7zM195.4 538.2h0.7v0.7h-0.7zM188.0 533.4h0.7v0.7h-0.7zM187.1 568.4h0.7v0.7h-0.7zM188.0 556.8h0.7v0.7h-0.7zM204.8 564.9h0.7v0.7h-0.7zM193.1 552.1h0.7v0.7h-0.7zM195.5 547.3h0.7v0.7h-0.7zM188.1 537.4h0.7v0.7h-0.7zM189.9 540.5h0.7v0.7h-0.7zM193.6 534.2h0.7v0.7h-0.7zM199.3 540.0h0.7v0.7h-0.7zM197.2 569.6h0.7v0.7h-0.7zM196.9 572.5h0.7v0.7h-0.7zM202.6 554.9h0.7v0.7h-0.7zM191.2 530.6h0.7v0.7h-0.7zM200.9 550.1h0.7v0.7h-0.7zM192.8 533.0h0.7v0.7h-0.7zM190.6 581.5h0.7v0.7h-0.7zM196.4 578.8h0.7v0.7h-0.7zM203.9 542.9h0.7v0.7h-0.7zM191.5 581.2h0.7v0.7h-0.7zM191.7 563.9h0.7v0.7h-0.7zM205.7 555.9h0.7v0.7h-0.7zM195.5 585.4h0.7v0.7h-0.7zM204.3 583.6h0.7v0.7h-0.7zM201.1 541.4h0.7v0.7h-0.7zM188.0 529.3h0.7v0.7h-0.7zM205.5 560.6h0.7v0.7h-0.7zM204.7 585.5h0.7v0.7h-0.7zM191.7 586.2h0.7v0.7h-0.7zM192.5 538.7h0.7v0.7h-0.7zM192.4 587.7h0.7v0.7h-0.7zM205.8 549.1h0.7v0.7h-0.7zM196.6 577.4h0.7v0.7h-0.7zM203.1 581.8h0.7v0.7h-0.7zM194.2 541.9h0.7v0.7h-0.7zM197.3 584.0h0.7v0.7h-0.7zM199.3 580.3h0.7v0.7h-0.7zM190.9 558.4h0.7v0.7h-0.7zM205.3 562.2h0.7v0.7h-0.7zM202.9 576.5h0.7v0.7h-0.7zM195.9 569.4h0.7v0.7h-0.7zM200.8 554.4h0.7v0.7h-0.7zM197.4 576.6h0.7v0.7h-0.7zM204.6 587.2h0.7v0.7h-0.7zM194.3 568.6h0.7v0.7h-0.7zM198.0 579.1h0.7v0.7h-0.7zM191.8 556.0h0.7v0.7h-0.7zM192.1 576.2h0.7v0.7h-0.7zM201.2 528.4h0.7v0.7h-0.7zM189.2 536.5h0.7v0.7h-0.7zM198.8 574.5h0.7v0.7h-0.7zM193.9 532.8h0.7v0.7h-0.7zM198.7 564.9h0.7v0.7h-0.7zM195.6 544.2h0.7v0.7h-0.7zM193.9 541.9h0.7v0.7h-0.7zM203.3 550.9h0.7v0.7h-0.7zM201.3 560.9h0.7v0.7h-0.7zM191.6 544.8h0.7v0.7h-0.7zM200.4 579.8h0.7v0.7h-0.7zM205.3 537.2h0.7v0.7h-0.7zM192.2 533.9h0.7v0.7h-0.7zM190.8 551.2h0.7v0.7h-0.7zM201.4 583.0h0.7v0.7h-0.7zM198.8 536.7h0.7v0.7h-0.7zM194.5 536.6h0.7v0.7h-0.7zM192.6 562.5h0.7v0.7h-0.7zM197.0 538.3h0.7v0.7h-0.7zM192.5 581.8h0.7v0.7h-0.7zM199.6 564.1h0.7v0.7h-0.7zM193.4 545.9h0.7v0.7h-0.7zM202.2 528.9h0.7v0.7h-0.7zM200.1 585.4h0.7v0.7h-0.7zM199.7 530.9h0.7v0.7h-0.7zM187.7 575.1h0.7v0.7h-0.7zM190.7 553.3h0.7v0.7h-0.7zM200.0 568.5h0.7v0.7h-0.7z" fill="#000" fill-opacity="0.32"/>
<path d="M193.9 573.7h0.7v0.7h-0.7zM201.8 549.0h0.7v0.7h-0.7zM188.7 567.1h0.7v0.7h-0.7zM202.4 542.9h0.7v0.7h-0.7zM205.4 546.8h0.7v0.7h-0.7zM200.4 553.5h0.7v0.7h-0.7zM194.1 548.7h0.7v0.7h-0.7zM200.1 563.4h0.7v0.7h-0.7zM200.7 552.7h0.7v0.7h-0.7zM191.0 581.6h0.7v0.7h-0.7zM206.0 553.7h0.7v0.7h-0.7zM189.3 573.9h0.7v0.7h-0.7zM196.8 556.7h0.7v0.7h-0.7zM201.0 560.2h0.7v0.7h-0.7zM196.7 579.7h0.7v0.7h-0.7zM190.2 556.9h0.7v0.7h-0.7zM195.0 559.2h0.7v0.7h-0.7zM201.3 563.5h0.7v0.7h-0.7zM197.7 550.0h0.7v0.7h-0.7zM199.7 559.2h0.7v0.7h-0.7zM204.5 565.9h0.7v0.7h-0.7zM204.9 561.8h0.7v0.7h-0.7zM197.0 548.8h0.7v0.7h-0.7zM196.6 551.6h0.7v0.7h-0.7zM199.4 572.2h0.7v0.7h-0.7zM199.1 567.3h0.7v0.7h-0.7zM197.5 560.3h0.7v0.7h-0.7zM188.5 557.5h0.7v0.7h-0.7zM196.3 555.1h0.7v0.7h-0.7zM194.6 559.7h0.7v0.7h-0.7zM192.6 553.7h0.7v0.7h-0.7zM188.3 583.6h0.7v0.7h-0.7zM190.7 541.6h0.7v0.7h-0.7zM192.8 551.0h0.7v0.7h-0.7zM189.7 526.8h0.7v0.7h-0.7zM205.7 568.2h0.7v0.7h-0.7zM193.8 562.7h0.7v0.7h-0.7zM189.4 536.6h0.7v0.7h-0.7zM198.0 562.9h0.7v0.7h-0.7zM191.9 556.0h0.7v0.7h-0.7zM202.3 558.0h0.7v0.7h-0.7zM197.1 562.9h0.7v0.7h-0.7zM188.5 558.9h0.7v0.7h-0.7zM192.3 533.4h0.7v0.7h-0.7zM201.3 553.8h0.7v0.7h-0.7zM201.9 580.0h0.7v0.7h-0.7zM202.4 572.9h0.7v0.7h-0.7zM198.4 560.3h0.7v0.7h-0.7zM200.1 563.8h0.7v0.7h-0.7zM188.4 564.9h0.7v0.7h-0.7zM201.9 551.2h0.7v0.7h-0.7zM190.6 550.2h0.7v0.7h-0.7zM192.5 562.3h0.7v0.7h-0.7zM200.6 556.3h0.7v0.7h-0.7zM194.2 534.8h0.7v0.7h-0.7zM193.5 544.1h0.7v0.7h-0.7zM192.7 560.1h0.7v0.7h-0.7zM190.8 549.6h0.7v0.7h-0.7zM189.2 552.9h0.7v0.7h-0.7zM194.3 568.0h0.7v0.7h-0.7zM199.8 549.7h0.7v0.7h-0.7zM191.9 558.3h0.7v0.7h-0.7zM199.1 554.1h0.7v0.7h-0.7zM195.1 556.2h0.7v0.7h-0.7zM189.5 559.2h0.7v0.7h-0.7zM199.4 556.6h0.7v0.7h-0.7zM189.2 556.0h0.7v0.7h-0.7zM195.3 559.8h0.7v0.7h-0.7zM193.5 565.9h0.7v0.7h-0.7zM202.5 565.8h0.7v0.7h-0.7zM197.4 570.5h0.7v0.7h-0.7zM195.7 554.0h0.7v0.7h-0.7zM187.5 556.2h0.7v0.7h-0.7zM203.2 544.7h0.7v0.7h-0.7zM200.6 540.9h0.7v0.7h-0.7zM197.8 577.7h0.7v0.7h-0.7zM196.3 542.1h0.7v0.7h-0.7zM197.7 554.3h0.7v0.7h-0.7zM200.7 549.8h0.7v0.7h-0.7zM199.5 568.2h0.7v0.7h-0.7zM197.6 556.3h0.7v0.7h-0.7zM200.1 553.7h0.7v0.7h-0.7zM193.3 558.7h0.7v0.7h-0.7zM202.5 550.1h0.7v0.7h-0.7zM198.9 548.4h0.7v0.7h-0.7zM191.6 558.1h0.7v0.7h-0.7zM188.0 546.0h0.7v0.7h-0.7zM188.9 548.9h0.7v0.7h-0.7zM190.5 583.5h0.7v0.7h-0.7zM199.6 556.9h0.7v0.7h-0.7zM188.0 528.0h0.7v0.7h-0.7zM198.6 548.6h0.7v0.7h-0.7zM202.2 551.4h0.7v0.7h-0.7zM188.2 548.5h0.7v0.7h-0.7zM200.2 549.8h0.7v0.7h-0.7zM200.1 549.4h0.7v0.7h-0.7zM194.6 549.6h0.7v0.7h-0.7zM192.7 548.3h0.7v0.7h-0.7zM204.9 555.4h0.7v0.7h-0.7zM203.4 569.2h0.7v0.7h-0.7zM195.3 554.2h0.7v0.7h-0.7zM193.1 557.5h0.7v0.7h-0.7zM198.8 556.0h0.7v0.7h-0.7zM191.1 544.7h0.7v0.7h-0.7zM205.9 575.8h0.7v0.7h-0.7zM188.6 548.5h0.7v0.7h-0.7zM195.7 562.9h0.7v0.7h-0.7zM195.3 558.8h0.7v0.7h-0.7zM198.1 569.4h0.7v0.7h-0.7zM188.2 568.9h0.7v0.7h-0.7zM198.6 562.3h0.7v0.7h-0.7zM194.4 563.5h0.7v0.7h-0.7zM200.0 564.1h0.7v0.7h-0.7zM188.2 570.7h0.7v0.7h-0.7zM196.3 566.9h0.7v0.7h-0.7zM195.9 547.8h0.7v0.7h-0.7zM200.5 550.6h0.7v0.7h-0.7zM194.6 569.0h0.7v0.7h-0.7zM198.6 576.4h0.7v0.7h-0.7zM203.1 543.5h0.7v0.7h-0.7zM199.5 553.0h0.7v0.7h-0.7zM194.2 549.6h0.7v0.7h-0.7zM206.7 554.1h0.7v0.7h-0.7zM187.7 566.6h0.7v0.7h-0.7zM195.4 560.2h0.7v0.7h-0.7zM193.6 555.6h0.7v0.7h-0.7zM191.8 551.6h0.7v0.7h-0.7zM197.8 570.9h0.7v0.7h-0.7zM199.2 567.8h0.7v0.7h-0.7zM190.5 559.8h0.7v0.7h-0.7zM198.3 566.9h0.7v0.7h-0.7zM192.2 553.9h0.7v0.7h-0.7zM192.9 569.3h0.7v0.7h-0.7zM202.4 550.9h0.7v0.7h-0.7zM195.1 558.6h0.7v0.7h-0.7zM190.5 554.8h0.7v0.7h-0.7zM201.1 565.0h0.7v0.7h-0.7zM191.8 548.6h0.7v0.7h-0.7zM195.2 539.1h0.7v0.7h-0.7zM197.8 557.5h0.7v0.7h-0.7zM187.9 553.4h0.7v0.7h-0.7zM191.9 553.0h0.7v0.7h-0.7z" fill="#000" fill-opacity="0.3"/>
<path d="M194.6 583.6h0.7v0.7h-0.7zM194.3 581.6h0.7v0.7h-0.7zM198.4 583.9h0.7v0.7h-0.7zM197.4 579.0h0.7v0.7h-0.7zM197.9 572.7h0.7v0.7h-0.7zM206.0 578.3h0.7v0.7h-0.7zM196.5 575.3h0.7v0.7h-0.7zM197.2 584.4h0.7v0.7h-0.7zM195.0 580.5h0.7v0.7h-0.7zM201.2 582.2h0.7v0.7h-0.7zM196.2 573.2h0.7v0.7h-0.7zM199.1 580.9h0.7v0.7h-0.7zM196.5 577.6h0.7v0.7h-0.7zM203.8 573.7h0.7v0.7h-0.7zM195.8 577.0h0.7v0.7h-0.7zM192.2 576.7h0.7v0.7h-0.7zM194.9 583.2h0.7v0.7h-0.7zM191.5 574.4h0.7v0.7h-0.7zM198.6 573.9h0.7v0.7h-0.7zM190.6 577.0h0.7v0.7h-0.7zM193.4 575.8h0.7v0.7h-0.7zM197.1 580.5h0.7v0.7h-0.7zM195.4 578.1h0.7v0.7h-0.7zM200.1 578.5h0.7v0.7h-0.7zM200.2 577.1h0.7v0.7h-0.7zM199.3 583.3h0.7v0.7h-0.7zM192.8 589.0h0.7v0.7h-0.7zM196.5 577.9h0.7v0.7h-0.7zM197.1 580.6h0.7v0.7h-0.7zM193.4 579.2h0.7v0.7h-0.7zM195.6 583.8h0.7v0.7h-0.7zM191.6 581.2h0.7v0.7h-0.7zM196.5 576.6h0.7v0.7h-0.7zM198.1 578.2h0.7v0.7h-0.7zM197.8 579.8h0.7v0.7h-0.7zM201.8 577.7h0.7v0.7h-0.7zM203.5 570.1h0.7v0.7h-0.7zM204.0 583.1h0.7v0.7h-0.7zM203.1 579.7h0.7v0.7h-0.7zM198.6 575.7h0.7v0.7h-0.7zM202.3 575.2h0.7v0.7h-0.7zM194.9 579.0h0.7v0.7h-0.7zM198.5 580.2h0.7v0.7h-0.7zM193.6 577.9h0.7v0.7h-0.7zM199.3 583.0h0.7v0.7h-0.7zM200.3 580.4h0.7v0.7h-0.7zM196.7 577.2h0.7v0.7h-0.7zM195.8 578.7h0.7v0.7h-0.7zM199.5 577.4h0.7v0.7h-0.7zM204.8 575.7h0.7v0.7h-0.7zM200.5 578.4h0.7v0.7h-0.7zM197.1 577.8h0.7v0.7h-0.7zM203.0 578.1h0.7v0.7h-0.7zM199.6 579.4h0.7v0.7h-0.7zM200.2 581.0h0.7v0.7h-0.7zM203.4 576.6h0.7v0.7h-0.7zM194.8 584.7h0.7v0.7h-0.7zM202.1 579.3h0.7v0.7h-0.7zM196.6 579.9h0.7v0.7h-0.7zM202.2 576.5h0.7v0.7h-0.7zM202.7 578.9h0.7v0.7h-0.7zM196.4 577.7h0.7v0.7h-0.7zM190.3 580.1h0.7v0.7h-0.7zM193.0 577.2h0.7v0.7h-0.7zM194.5 579.8h0.7v0.7h-0.7zM200.2 579.2h0.7v0.7h-0.7zM198.3 580.4h0.7v0.7h-0.7zM203.2 581.0h0.7v0.7h-0.7zM203.1 578.8h0.7v0.7h-0.7zM198.9 576.9h0.7v0.7h-0.7zM199.7 576.2h0.7v0.7h-0.7zM199.3 577.0h0.7v0.7h-0.7zM196.4 583.1h0.7v0.7h-0.7zM198.1 581.7h0.7v0.7h-0.7zM196.8 572.9h0.7v0.7h-0.7zM202.8 578.5h0.7v0.7h-0.7zM195.4 582.2h0.7v0.7h-0.7zM193.7 576.6h0.7v0.7h-0.7zM201.6 576.8h0.7v0.7h-0.7zM201.6 578.0h0.7v0.7h-0.7zM196.9 579.3h0.7v0.7h-0.7zM195.9 582.6h0.7v0.7h-0.7zM201.5 579.3h0.7v0.7h-0.7zM199.8 580.8h0.7v0.7h-0.7zM203.5 573.8h0.7v0.7h-0.7zM201.2 582.1h0.7v0.7h-0.7zM196.5 579.1h0.7v0.7h-0.7zM196.4 583.1h0.7v0.7h-0.7zM193.6 581.1h0.7v0.7h-0.7zM202.1 580.9h0.7v0.7h-0.7zM196.0 577.5h0.7v0.7h-0.7zM190.3 575.7h0.7v0.7h-0.7zM201.5 575.9h0.7v0.7h-0.7zM191.9 578.2h0.7v0.7h-0.7zM192.4 580.6h0.7v0.7h-0.7zM194.6 582.2h0.7v0.7h-0.7zM197.2 574.4h0.7v0.7h-0.7zM194.9 576.9h0.7v0.7h-0.7zM194.7 583.1h0.7v0.7h-0.7zM194.1 580.3h0.7v0.7h-0.7zM195.6 581.0h0.7v0.7h-0.7zM192.7 573.9h0.7v0.7h-0.7zM199.4 583.8h0.7v0.7h-0.7zM192.8 578.0h0.7v0.7h-0.7zM195.9 576.0h0.7v0.7h-0.7zM201.0 579.2h0.7v0.7h-0.7zM192.8 578.3h0.7v0.7h-0.7zM202.3 576.7h0.7v0.7h-0.7zM195.8 576.3h0.7v0.7h-0.7zM198.2 577.2h0.7v0.7h-0.7zM200.7 576.3h0.7v0.7h-0.7zM192.6 580.5h0.7v0.7h-0.7zM186.6 575.9h0.7v0.7h-0.7zM198.6 579.9h0.7v0.7h-0.7zM195.6 577.6h0.7v0.7h-0.7zM199.5 591.3h0.7v0.7h-0.7zM194.8 578.5h0.7v0.7h-0.7zM196.0 580.9h0.7v0.7h-0.7zM197.7 580.9h0.7v0.7h-0.7zM203.3 578.2h0.7v0.7h-0.7zM196.6 580.3h0.7v0.7h-0.7zM205.0 577.9h0.7v0.7h-0.7zM203.5 583.0h0.7v0.7h-0.7zM188.1 575.8h0.7v0.7h-0.7zM194.2 580.4h0.7v0.7h-0.7zM202.3 579.2h0.7v0.7h-0.7zM198.2 586.2h0.7v0.7h-0.7zM198.9 586.2h0.7v0.7h-0.7zM194.5 584.5h0.7v0.7h-0.7zM195.9 571.1h0.7v0.7h-0.7zM194.8 577.5h0.7v0.7h-0.7zM197.5 581.6h0.7v0.7h-0.7zM200.1 580.8h0.7v0.7h-0.7zM195.0 584.9h0.7v0.7h-0.7zM201.8 579.2h0.7v0.7h-0.7zM195.6 578.9h0.7v0.7h-0.7zM196.9 576.8h0.7v0.7h-0.7zM197.6 576.9h0.7v0.7h-0.7zM199.9 576.9h0.7v0.7h-0.7zM199.4 580.1h0.7v0.7h-0.7zM198.2 580.8h0.7v0.7h-0.7zM194.1 587.6h0.7v0.7h-0.7zM195.2 581.5h0.7v0.7h-0.7zM197.7 577.6h0.7v0.7h-0.7zM203.7 582.7h0.7v0.7h-0.7zM196.7 580.9h0.7v0.7h-0.7zM200.0 584.3h0.7v0.7h-0.7zM201.2 578.5h0.7v0.7h-0.7zM196.8 575.2h0.7v0.7h-0.7zM198.6 581.9h0.7v0.7h-0.7zM196.3 581.3h0.7v0.7h-0.7zM198.1 577.5h0.7v0.7h-0.7zM193.4 582.7h0.7v0.7h-0.7zM206.5 580.9h0.7v0.7h-0.7zM193.9 575.6h0.7v0.7h-0.7zM198.5 581.2h0.7v0.7h-0.7zM203.0 571.1h0.7v0.7h-0.7zM204.1 579.6h0.7v0.7h-0.7zM198.1 580.3h0.7v0.7h-0.7zM196.4 578.1h0.7v0.7h-0.7zM201.3 573.3h0.7v0.7h-0.7zM197.3 580.9h0.7v0.7h-0.7zM191.9 578.5h0.7v0.7h-0.7zM203.0 580.3h0.7v0.7h-0.7zM200.1 581.4h0.7v0.7h-0.7zM198.4 580.2h0.7v0.7h-0.7zM194.8 578.4h0.7v0.7h-0.7zM204.1 575.0h0.7v0.7h-0.7zM197.1 574.9h0.7v0.7h-0.7zM195.8 576.5h0.7v0.7h-0.7zM193.4 579.9h0.7v0.7h-0.7zM194.4 580.8h0.7v0.7h-0.7zM204.0 570.6h0.7v0.7h-0.7zM197.1 572.1h0.7v0.7h-0.7zM197.2 580.3h0.7v0.7h-0.7zM198.4 583.1h0.7v0.7h-0.7zM198.2 573.3h0.7v0.7h-0.7zM202.9 575.9h0.7v0.7h-0.7zM197.3 580.1h0.7v0.7h-0.7zM194.6 579.3h0.7v0.7h-0.7zM202.9 573.4h0.7v0.7h-0.7zM191.8 577.6h0.7v0.7h-0.7zM197.1 574.8h0.7v0.7h-0.7zM189.6 582.1h0.7v0.7h-0.7zM199.0 574.6h0.7v0.7h-0.7zM199.7 578.8h0.7v0.7h-0.7zM198.2 574.6h0.7v0.7h-0.7zM196.9 580.6h0.7v0.7h-0.7zM191.5 575.6h0.7v0.7h-0.7zM201.1 585.7h0.7v0.7h-0.7zM200.0 578.8h0.7v0.7h-0.7zM193.9 577.7h0.7v0.7h-0.7zM196.8 580.5h0.7v0.7h-0.7zM196.8 587.3h0.7v0.7h-0.7zM202.3 571.7h0.7v0.7h-0.7zM193.6 579.0h0.7v0.7h-0.7zM201.1 580.4h0.7v0.7h-0.7zM188.0 573.6h0.7v0.7h-0.7zM202.4 581.0h0.7v0.7h-0.7zM206.7 581.7h0.7v0.7h-0.7zM199.3 584.1h0.7v0.7h-0.7zM196.1 577.2h0.7v0.7h-0.7zM194.1 579.9h0.7v0.7h-0.7zM199.2 582.2h0.7v0.7h-0.7zM202.8 581.1h0.7v0.7h-0.7zM202.0 578.2h0.7v0.7h-0.7zM194.3 581.5h0.7v0.7h-0.7zM201.2 583.5h0.7v0.7h-0.7zM197.1 577.5h0.7v0.7h-0.7zM196.4 580.2h0.7v0.7h-0.7zM197.5 578.4h0.7v0.7h-0.7zM198.6 578.1h0.7v0.7h-0.7zM198.9 577.0h0.7v0.7h-0.7zM192.3 578.0h0.7v0.7h-0.7zM204.3 576.3h0.7v0.7h-0.7zM200.9 583.5h0.7v0.7h-0.7zM195.8 579.9h0.7v0.7h-0.7zM189.7 580.9h0.7v0.7h-0.7zM203.1 579.7h0.7v0.7h-0.7zM190.7 577.1h0.7v0.7h-0.7zM195.1 579.4h0.7v0.7h-0.7zM198.7 577.7h0.7v0.7h-0.7zM196.6 576.3h0.7v0.7h-0.7zM199.7 579.7h0.7v0.7h-0.7zM198.9 577.3h0.7v0.7h-0.7zM199.4 578.0h0.7v0.7h-0.7zM198.7 578.5h0.7v0.7h-0.7zM195.4 575.4h0.7v0.7h-0.7zM191.2 574.5h0.7v0.7h-0.7zM199.3 590.0h0.7v0.7h-0.7zM191.9 576.3h0.7v0.7h-0.7zM197.7 591.0h0.7v0.7h-0.7zM197.0 575.1h0.7v0.7h-0.7zM199.2 586.0h0.7v0.7h-0.7zM187.9 575.1h0.7v0.7h-0.7zM202.0 575.1h0.7v0.7h-0.7zM197.3 576.9h0.7v0.7h-0.7zM200.4 574.1h0.7v0.7h-0.7zM198.8 579.8h0.7v0.7h-0.7zM199.7 580.5h0.7v0.7h-0.7zM198.2 573.0h0.7v0.7h-0.7zM196.6 575.8h0.7v0.7h-0.7zM199.6 578.2h0.7v0.7h-0.7zM198.2 582.7h0.7v0.7h-0.7zM197.3 584.7h0.7v0.7h-0.7zM200.6 574.0h0.7v0.7h-0.7zM195.6 583.1h0.7v0.7h-0.7zM195.9 583.1h0.7v0.7h-0.7zM195.7 578.6h0.7v0.7h-0.7zM201.3 573.7h0.7v0.7h-0.7zM198.0 577.5h0.7v0.7h-0.7zM198.3 584.8h0.7v0.7h-0.7zM199.4 574.5h0.7v0.7h-0.7zM201.1 577.5h0.7v0.7h-0.7zM198.3 582.9h0.7v0.7h-0.7zM196.6 582.2h0.7v0.7h-0.7zM198.3 576.0h0.7v0.7h-0.7zM196.6 574.4h0.7v0.7h-0.7zM201.8 579.6h0.7v0.7h-0.7zM201.1 575.3h0.7v0.7h-0.7z" fill="#000" fill-opacity="0.4"/>
<path d="M222.5 548.5h0.8v0.8h-0.8zM220.8 559.9h0.8v0.8h-0.8zM218.2 563.0h0.8v0.8h-0.8zM220.1 551.7h0.8v0.8h-0.8zM217.8 547.4h0.8v0.8h-0.8zM224.1 561.5h0.8v0.8h-0.8zM218.9 566.7h0.8v0.8h-0.8zM217.4 548.8h0.8v0.8h-0.8zM221.1 575.3h0.8v0.8h-0.8zM220.9 561.5h0.8v0.8h-0.8zM225.2 545.1h0.8v0.8h-0.8zM229.2 549.4h0.8v0.8h-0.8zM219.8 547.0h0.8v0.8h-0.8zM216.4 557.7h0.8v0.8h-0.8zM227.3 550.9h0.8v0.8h-0.8zM218.1 562.6h0.8v0.8h-0.8zM216.9 557.5h0.8v0.8h-0.8zM222.5 538.9h0.8v0.8h-0.8zM219.1 557.2h0.8v0.8h-0.8zM218.5 558.9h0.8v0.8h-0.8zM214.6 555.8h0.8v0.8h-0.8zM218.4 550.1h0.8v0.8h-0.8zM223.8 579.4h0.8v0.8h-0.8zM222.4 551.6h0.8v0.8h-0.8zM224.3 564.8h0.8v0.8h-0.8zM217.5 565.9h0.8v0.8h-0.8zM218.3 565.6h0.8v0.8h-0.8zM222.8 571.2h0.8v0.8h-0.8zM216.8 558.8h0.8v0.8h-0.8zM220.0 548.2h0.8v0.8h-0.8zM221.2 566.7h0.8v0.8h-0.8zM215.9 554.7h0.8v0.8h-0.8zM216.7 547.7h0.8v0.8h-0.8zM216.8 573.3h0.8v0.8h-0.8zM218.0 556.2h0.8v0.8h-0.8zM223.0 569.9h0.8v0.8h-0.8zM224.2 539.9h0.8v0.8h-0.8zM222.3 543.0h0.8v0.8h-0.8zM218.1 556.0h0.8v0.8h-0.8zM218.3 579.0h0.8v0.8h-0.8zM219.5 571.4h0.8v0.8h-0.8zM219.5 559.4h0.8v0.8h-0.8zM221.5 564.3h0.8v0.8h-0.8zM221.5 543.2h0.8v0.8h-0.8zM221.5 563.1h0.8v0.8h-0.8zM221.8 559.5h0.8v0.8h-0.8zM221.2 547.4h0.8v0.8h-0.8zM223.4 548.2h0.8v0.8h-0.8zM224.2 569.8h0.8v0.8h-0.8zM219.8 557.1h0.8v0.8h-0.8zM222.3 557.0h0.8v0.8h-0.8zM216.4 562.7h0.8v0.8h-0.8zM216.3 555.6h0.8v0.8h-0.8zM225.4 567.9h0.8v0.8h-0.8zM218.6 559.3h0.8v0.8h-0.8zM218.1 559.9h0.8v0.8h-0.8zM215.7 566.6h0.8v0.8h-0.8zM220.0 554.1h0.8v0.8h-0.8zM218.2 585.6h0.8v0.8h-0.8zM218.7 555.4h0.8v0.8h-0.8zM218.3 555.2h0.8v0.8h-0.8zM223.9 566.6h0.8v0.8h-0.8zM221.3 563.6h0.8v0.8h-0.8zM224.5 567.0h0.8v0.8h-0.8zM220.7 562.7h0.8v0.8h-0.8zM220.6 560.2h0.8v0.8h-0.8zM219.2 538.3h0.8v0.8h-0.8zM221.7 560.5h0.8v0.8h-0.8zM222.9 563.0h0.8v0.8h-0.8zM219.1 565.9h0.8v0.8h-0.8zM220.6 555.7h0.8v0.8h-0.8zM218.9 555.9h0.8v0.8h-0.8zM219.1 555.7h0.8v0.8h-0.8zM222.9 588.4h0.8v0.8h-0.8zM219.7 570.9h0.8v0.8h-0.8zM218.6 558.5h0.8v0.8h-0.8zM217.8 546.8h0.8v0.8h-0.8zM217.4 555.0h0.8v0.8h-0.8zM220.5 556.7h0.8v0.8h-0.8zM216.4 556.4h0.8v0.8h-0.8zM224.5 551.4h0.8v0.8h-0.8zM220.2 569.8h0.8v0.8h-0.8zM217.6 554.5h0.8v0.8h-0.8zM228.7 572.0h0.8v0.8h-0.8zM218.4 561.6h0.8v0.8h-0.8zM220.3 561.4h0.8v0.8h-0.8zM221.4 557.1h0.8v0.8h-0.8zM213.3 550.6h0.8v0.8h-0.8zM220.5 546.7h0.8v0.8h-0.8zM219.0 574.6h0.8v0.8h-0.8zM220.7 553.6h0.8v0.8h-0.8zM220.4 570.2h0.8v0.8h-0.8zM214.9 547.8h0.8v0.8h-0.8zM218.0 555.7h0.8v0.8h-0.8zM219.7 554.4h0.8v0.8h-0.8zM220.3 560.9h0.8v0.8h-0.8zM216.5 553.9h0.8v0.8h-0.8zM216.3 562.8h0.8v0.8h-0.8zM220.8 566.4h0.8v0.8h-0.8zM217.4 554.8h0.8v0.8h-0.8zM213.3 560.1h0.8v0.8h-0.8zM215.2 563.4h0.8v0.8h-0.8zM223.2 564.3h0.8v0.8h-0.8zM221.9 562.2h0.8v0.8h-0.8zM221.1 569.1h0.8v0.8h-0.8zM223.8 579.6h0.8v0.8h-0.8zM219.2 568.1h0.8v0.8h-0.8zM222.6 564.1h0.8v0.8h-0.8zM220.8 547.7h0.8v0.8h-0.8zM223.3 551.4h0.8v0.8h-0.8zM218.0 551.7h0.8v0.8h-0.8zM221.7 550.6h0.8v0.8h-0.8zM221.4 565.5h0.8v0.8h-0.8zM220.3 556.7h0.8v0.8h-0.8zM221.8 572.7h0.8v0.8h-0.8zM218.6 549.8h0.8v0.8h-0.8zM218.2 551.5h0.8v0.8h-0.8zM219.3 558.5h0.8v0.8h-0.8zM213.1 574.2h0.8v0.8h-0.8zM217.6 555.8h0.8v0.8h-0.8zM214.1 540.9h0.8v0.8h-0.8zM217.0 562.2h0.8v0.8h-0.8zM222.5 542.4h0.8v0.8h-0.8zM220.7 574.7h0.8v0.8h-0.8zM219.2 568.9h0.8v0.8h-0.8zM220.9 551.0h0.8v0.8h-0.8zM223.0 554.1h0.8v0.8h-0.8zM221.1 556.1h0.8v0.8h-0.8zM219.4 561.5h0.8v0.8h-0.8zM224.0 543.7h0.8v0.8h-0.8zM216.7 561.0h0.8v0.8h-0.8zM222.9 558.2h0.8v0.8h-0.8zM219.4 565.1h0.8v0.8h-0.8zM224.7 551.2h0.8v0.8h-0.8zM215.2 557.3h0.8v0.8h-0.8zM222.3 547.2h0.8v0.8h-0.8zM223.4 569.1h0.8v0.8h-0.8zM222.4 551.8h0.8v0.8h-0.8zM216.1 566.4h0.8v0.8h-0.8zM220.8 566.7h0.8v0.8h-0.8zM223.4 569.7h0.8v0.8h-0.8zM219.2 559.9h0.8v0.8h-0.8zM221.4 567.2h0.8v0.8h-0.8zM219.4 555.0h0.8v0.8h-0.8zM217.1 569.9h0.8v0.8h-0.8zM221.0 554.5h0.8v0.8h-0.8zM216.2 555.0h0.8v0.8h-0.8zM216.2 555.6h0.8v0.8h-0.8zM218.4 564.9h0.8v0.8h-0.8zM217.0 542.4h0.8v0.8h-0.8zM218.2 546.7h0.8v0.8h-0.8zM222.2 558.0h0.8v0.8h-0.8zM215.0 551.5h0.8v0.8h-0.8zM219.9 559.6h0.8v0.8h-0.8zM214.5 558.7h0.8v0.8h-0.8zM220.9 569.6h0.8v0.8h-0.8zM223.3 558.8h0.8v0.8h-0.8zM216.1 556.4h0.8v0.8h-0.8zM221.9 551.1h0.8v0.8h-0.8zM223.8 550.7h0.8v0.8h-0.8zM216.6 568.0h0.8v0.8h-0.8zM219.7 563.1h0.8v0.8h-0.8zM219.1 560.3h0.8v0.8h-0.8zM218.2 578.3h0.8v0.8h-0.8zM222.0 558.8h0.8v0.8h-0.8zM221.4 568.1h0.8v0.8h-0.8zM218.4 561.7h0.8v0.8h-0.8zM220.6 554.5h0.8v0.8h-0.8zM217.7 558.0h0.8v0.8h-0.8zM219.1 556.0h0.8v0.8h-0.8zM214.2 560.7h0.8v0.8h-0.8zM222.0 560.7h0.8v0.8h-0.8zM225.1 568.3h0.8v0.8h-0.8zM218.9 553.5h0.8v0.8h-0.8zM221.5 556.4h0.8v0.8h-0.8zM215.2 561.2h0.8v0.8h-0.8zM219.1 557.8h0.8v0.8h-0.8zM221.8 561.9h0.8v0.8h-0.8zM226.1 552.8h0.8v0.8h-0.8zM219.7 563.0h0.8v0.8h-0.8zM218.7 555.0h0.8v0.8h-0.8zM225.2 545.9h0.8v0.8h-0.8zM221.0 543.0h0.8v0.8h-0.8zM221.0 541.4h0.8v0.8h-0.8zM216.5 571.0h0.8v0.8h-0.8zM224.6 561.2h0.8v0.8h-0.8zM211.9 569.8h0.8v0.8h-0.8zM220.7 549.3h0.8v0.8h-0.8zM218.9 547.2h0.8v0.8h-0.8zM219.7 559.1h0.8v0.8h-0.8zM220.4 567.6h0.8v0.8h-0.8zM218.1 538.7h0.8v0.8h-0.8zM216.5 547.8h0.8v0.8h-0.8zM218.9 555.8h0.8v0.8h-0.8zM219.9 573.2h0.8v0.8h-0.8zM220.1 549.6h0.8v0.8h-0.8zM219.1 551.5h0.8v0.8h-0.8zM219.3 565.6h0.8v0.8h-0.8zM216.6 566.8h0.8v0.8h-0.8zM225.3 574.7h0.8v0.8h-0.8zM224.9 560.9h0.8v0.8h-0.8zM216.0 579.3h0.8v0.8h-0.8zM219.8 562.2h0.8v0.8h-0.8zM218.9 550.9h0.8v0.8h-0.8zM221.8 546.5h0.8v0.8h-0.8zM215.9 565.3h0.8v0.8h-0.8zM218.9 551.9h0.8v0.8h-0.8zM221.5 573.7h0.8v0.8h-0.8zM219.1 558.7h0.8v0.8h-0.8zM221.7 569.0h0.8v0.8h-0.8zM223.1 566.5h0.8v0.8h-0.8zM218.0 565.1h0.8v0.8h-0.8zM220.0 543.6h0.8v0.8h-0.8zM223.7 565.5h0.8v0.8h-0.8zM224.1 559.4h0.8v0.8h-0.8zM222.2 559.3h0.8v0.8h-0.8zM220.5 568.8h0.8v0.8h-0.8zM220.2 565.9h0.8v0.8h-0.8zM219.9 571.8h0.8v0.8h-0.8zM221.9 544.1h0.8v0.8h-0.8zM225.0 564.2h0.8v0.8h-0.8zM218.5 554.0h0.8v0.8h-0.8zM225.9 560.9h0.8v0.8h-0.8zM221.5 565.7h0.8v0.8h-0.8zM218.2 576.8h0.8v0.8h-0.8zM226.3 552.5h0.8v0.8h-0.8zM223.4 544.3h0.8v0.8h-0.8zM219.0 560.6h0.8v0.8h-0.8zM220.2 565.5h0.8v0.8h-0.8zM221.2 563.6h0.8v0.8h-0.8zM219.6 562.9h0.8v0.8h-0.8zM218.3 578.9h0.8v0.8h-0.8zM220.2 571.9h0.8v0.8h-0.8zM220.3 558.6h0.8v0.8h-0.8zM219.5 547.6h0.8v0.8h-0.8zM226.2 564.0h0.8v0.8h-0.8zM220.4 555.6h0.8v0.8h-0.8zM223.8 556.8h0.8v0.8h-0.8zM218.6 554.8h0.8v0.8h-0.8zM224.6 563.0h0.8v0.8h-0.8zM219.6 553.8h0.8v0.8h-0.8zM223.8 562.8h0.8v0.8h-0.8zM219.0 568.6h0.8v0.8h-0.8zM222.6 550.5h0.8v0.8h-0.8zM223.4 570.5h0.8v0.8h-0.8zM219.3 547.3h0.8v0.8h-0.8zM223.3 556.7h0.8v0.8h-0.8zM219.4 557.3h0.8v0.8h-0.8zM219.2 568.0h0.8v0.8h-0.8zM216.8 565.1h0.8v0.8h-0.8zM223.5 570.1h0.8v0.8h-0.8zM222.2 562.6h0.8v0.8h-0.8zM219.4 558.9h0.8v0.8h-0.8zM217.4 576.0h0.8v0.8h-0.8zM219.7 550.4h0.8v0.8h-0.8zM222.5 574.4h0.8v0.8h-0.8zM220.8 557.0h0.8v0.8h-0.8zM216.7 566.2h0.8v0.8h-0.8zM219.3 553.7h0.8v0.8h-0.8zM221.8 547.7h0.8v0.8h-0.8zM218.2 546.4h0.8v0.8h-0.8zM219.3 567.6h0.8v0.8h-0.8zM216.2 573.0h0.8v0.8h-0.8zM218.0 555.4h0.8v0.8h-0.8zM223.0 553.1h0.8v0.8h-0.8zM224.3 558.1h0.8v0.8h-0.8zM219.7 550.8h0.8v0.8h-0.8zM223.4 559.4h0.8v0.8h-0.8zM218.6 551.0h0.8v0.8h-0.8zM218.1 559.1h0.8v0.8h-0.8zM217.9 567.6h0.8v0.8h-0.8zM219.9 554.1h0.8v0.8h-0.8zM221.4 573.6h0.8v0.8h-0.8zM213.9 563.4h0.8v0.8h-0.8zM223.2 561.3h0.8v0.8h-0.8zM222.5 545.4h0.8v0.8h-0.8zM217.8 569.6h0.8v0.8h-0.8zM219.8 560.6h0.8v0.8h-0.8zM221.9 563.5h0.8v0.8h-0.8zM221.4 555.3h0.8v0.8h-0.8zM219.2 572.5h0.8v0.8h-0.8zM218.6 546.3h0.8v0.8h-0.8zM219.0 568.5h0.8v0.8h-0.8zM225.3 561.4h0.8v0.8h-0.8zM218.2 565.8h0.8v0.8h-0.8zM220.9 571.2h0.8v0.8h-0.8zM221.6 567.2h0.8v0.8h-0.8zM221.5 564.0h0.8v0.8h-0.8zM217.4 558.5h0.8v0.8h-0.8zM224.8 572.7h0.8v0.8h-0.8zM222.9 563.8h0.8v0.8h-0.8zM219.7 563.3h0.8v0.8h-0.8zM219.1 570.3h0.8v0.8h-0.8zM219.1 552.8h0.8v0.8h-0.8zM215.3 574.8h0.8v0.8h-0.8zM217.8 551.9h0.8v0.8h-0.8zM221.2 577.1h0.8v0.8h-0.8zM222.0 556.9h0.8v0.8h-0.8zM221.7 552.2h0.8v0.8h-0.8zM219.3 560.3h0.8v0.8h-0.8zM220.1 567.4h0.8v0.8h-0.8zM221.6 577.9h0.8v0.8h-0.8zM222.5 557.3h0.8v0.8h-0.8zM220.8 552.0h0.8v0.8h-0.8zM218.3 556.8h0.8v0.8h-0.8zM223.0 553.5h0.8v0.8h-0.8zM215.5 550.4h0.8v0.8h-0.8zM216.6 558.3h0.8v0.8h-0.8zM219.2 549.0h0.8v0.8h-0.8zM217.8 556.1h0.8v0.8h-0.8zM221.2 565.8h0.8v0.8h-0.8zM223.9 557.6h0.8v0.8h-0.8zM221.9 560.7h0.8v0.8h-0.8zM216.9 554.0h0.8v0.8h-0.8zM226.5 558.5h0.8v0.8h-0.8zM224.9 567.8h0.8v0.8h-0.8zM224.9 558.2h0.8v0.8h-0.8zM222.8 557.2h0.8v0.8h-0.8zM216.9 549.0h0.8v0.8h-0.8zM221.4 544.8h0.8v0.8h-0.8zM221.2 551.8h0.8v0.8h-0.8zM221.1 547.1h0.8v0.8h-0.8zM222.6 557.9h0.8v0.8h-0.8zM215.6 546.4h0.8v0.8h-0.8zM220.3 544.6h0.8v0.8h-0.8zM221.1 564.6h0.8v0.8h-0.8zM218.2 573.2h0.8v0.8h-0.8zM224.3 563.0h0.8v0.8h-0.8zM221.4 564.5h0.8v0.8h-0.8zM219.3 572.4h0.8v0.8h-0.8zM220.2 564.2h0.8v0.8h-0.8zM222.5 549.6h0.8v0.8h-0.8zM224.2 552.3h0.8v0.8h-0.8zM221.9 566.9h0.8v0.8h-0.8zM220.6 570.7h0.8v0.8h-0.8zM218.7 579.4h0.8v0.8h-0.8zM221.5 556.1h0.8v0.8h-0.8zM227.7 560.0h0.8v0.8h-0.8zM215.4 573.4h0.8v0.8h-0.8zM224.6 554.6h0.8v0.8h-0.8zM217.2 570.7h0.8v0.8h-0.8zM220.3 550.9h0.8v0.8h-0.8zM218.7 560.7h0.8v0.8h-0.8zM223.0 574.8h0.8v0.8h-0.8zM218.3 574.5h0.8v0.8h-0.8zM215.7 566.8h0.8v0.8h-0.8zM219.7 564.2h0.8v0.8h-0.8zM218.9 553.3h0.8v0.8h-0.8zM220.9 570.7h0.8v0.8h-0.8zM213.7 560.5h0.8v0.8h-0.8zM219.0 549.9h0.8v0.8h-0.8zM216.2 564.9h0.8v0.8h-0.8zM221.7 566.1h0.8v0.8h-0.8zM214.4 545.6h0.8v0.8h-0.8zM218.3 555.9h0.8v0.8h-0.8zM225.2 556.4h0.8v0.8h-0.8zM220.5 569.4h0.8v0.8h-0.8zM225.0 563.5h0.8v0.8h-0.8zM221.1 578.3h0.8v0.8h-0.8zM219.0 543.0h0.8v0.8h-0.8zM217.9 557.1h0.8v0.8h-0.8zM223.9 563.0h0.8v0.8h-0.8zM223.6 561.0h0.8v0.8h-0.8zM220.2 554.6h0.8v0.8h-0.8zM216.5 564.8h0.8v0.8h-0.8zM221.2 565.4h0.8v0.8h-0.8zM218.6 556.1h0.8v0.8h-0.8zM221.2 565.8h0.8v0.8h-0.8zM225.9 551.8h0.8v0.8h-0.8zM223.0 568.4h0.8v0.8h-0.8zM219.4 561.3h0.8v0.8h-0.8zM220.0 574.5h0.8v0.8h-0.8zM227.5 563.1h0.8v0.8h-0.8zM219.4 569.0h0.8v0.8h-0.8zM221.6 558.3h0.8v0.8h-0.8zM222.3 568.3h0.8v0.8h-0.8zM219.0 568.1h0.8v0.8h-0.8zM213.6 547.8h0.8v0.8h-0.8zM219.2 561.5h0.8v0.8h-0.8zM215.9 574.0h0.8v0.8h-0.8zM219.0 561.5h0.8v0.8h-0.8zM220.0 567.2h0.8v0.8h-0.8zM218.4 567.1h0.8v0.8h-0.8zM217.7 546.0h0.8v0.8h-0.8zM221.6 561.6h0.8v0.8h-0.8zM222.7 541.6h0.8v0.8h-0.8zM220.4 553.9h0.8v0.8h-0.8zM219.6 556.3h0.8v0.8h-0.8zM219.0 553.7h0.8v0.8h-0.8zM223.1 543.7h0.8v0.8h-0.8zM215.3 563.3h0.8v0.8h-0.8zM226.0 552.8h0.8v0.8h-0.8zM217.5 548.9h0.8v0.8h-0.8zM217.2 571.9h0.8v0.8h-0.8zM222.1 568.6h0.8v0.8h-0.8zM221.1 562.2h0.8v0.8h-0.8zM218.4 550.8h0.8v0.8h-0.8zM221.9 583.5h0.8v0.8h-0.8zM219.1 572.1h0.8v0.8h-0.8zM218.1 560.4h0.8v0.8h-0.8zM225.1 559.3h0.8v0.8h-0.8zM222.0 554.7h0.8v0.8h-0.8zM225.6 548.3h0.8v0.8h-0.8zM221.8 557.8h0.8v0.8h-0.8zM220.7 563.5h0.8v0.8h-0.8zM223.9 568.3h0.8v0.8h-0.8zM223.2 563.5h0.8v0.8h-0.8zM217.0 572.8h0.8v0.8h-0.8zM224.6 564.6h0.8v0.8h-0.8zM222.4 557.8h0.8v0.8h-0.8zM215.9 569.4h0.8v0.8h-0.8zM218.0 578.2h0.8v0.8h-0.8zM222.1 559.8h0.8v0.8h-0.8zM218.3 561.0h0.8v0.8h-0.8zM217.2 556.5h0.8v0.8h-0.8zM224.8 557.2h0.8v0.8h-0.8zM225.5 559.1h0.8v0.8h-0.8zM221.3 551.2h0.8v0.8h-0.8zM219.3 555.8h0.8v0.8h-0.8zM216.1 578.4h0.8v0.8h-0.8zM221.8 559.2h0.8v0.8h-0.8zM216.9 560.3h0.8v0.8h-0.8zM217.1 550.8h0.8v0.8h-0.8zM219.6 580.5h0.8v0.8h-0.8zM215.1 565.3h0.8v0.8h-0.8zM216.0 558.7h0.8v0.8h-0.8zM220.3 552.8h0.8v0.8h-0.8zM225.3 565.1h0.8v0.8h-0.8zM218.3 544.4h0.8v0.8h-0.8zM220.6 553.6h0.8v0.8h-0.8zM223.1 550.1h0.8v0.8h-0.8zM223.6 555.6h0.8v0.8h-0.8zM220.7 557.4h0.8v0.8h-0.8zM221.9 570.9h0.8v0.8h-0.8zM218.5 551.4h0.8v0.8h-0.8zM225.6 569.1h0.8v0.8h-0.8zM225.7 569.1h0.8v0.8h-0.8zM220.5 575.6h0.8v0.8h-0.8zM218.2 555.9h0.8v0.8h-0.8zM218.9 566.5h0.8v0.8h-0.8zM217.6 558.3h0.8v0.8h-0.8zM217.7 557.8h0.8v0.8h-0.8zM223.4 570.6h0.8v0.8h-0.8zM219.5 584.3h0.8v0.8h-0.8zM218.1 564.4h0.8v0.8h-0.8zM218.7 538.9h0.8v0.8h-0.8zM216.7 571.8h0.8v0.8h-0.8zM215.3 587.9h0.8v0.8h-0.8zM219.7 562.6h0.8v0.8h-0.8zM223.8 560.3h0.8v0.8h-0.8zM218.3 554.2h0.8v0.8h-0.8zM217.4 565.3h0.8v0.8h-0.8zM218.7 564.9h0.8v0.8h-0.8zM215.7 555.9h0.8v0.8h-0.8zM226.1 563.5h0.8v0.8h-0.8zM219.8 571.3h0.8v0.8h-0.8zM220.9 574.7h0.8v0.8h-0.8zM216.7 567.3h0.8v0.8h-0.8zM217.0 566.5h0.8v0.8h-0.8zM227.3 574.6h0.8v0.8h-0.8zM217.6 564.0h0.8v0.8h-0.8zM221.4 553.1h0.8v0.8h-0.8zM220.8 549.8h0.8v0.8h-0.8zM222.9 568.7h0.8v0.8h-0.8zM219.6 566.6h0.8v0.8h-0.8zM227.0 558.5h0.8v0.8h-0.8zM214.6 563.2h0.8v0.8h-0.8zM218.8 552.6h0.8v0.8h-0.8zM222.7 569.6h0.8v0.8h-0.8zM221.8 575.6h0.8v0.8h-0.8zM218.2 556.0h0.8v0.8h-0.8zM212.1 563.3h0.8v0.8h-0.8zM219.5 560.6h0.8v0.8h-0.8zM217.3 562.2h0.8v0.8h-0.8zM223.2 554.0h0.8v0.8h-0.8zM221.7 558.5h0.8v0.8h-0.8zM219.6 561.1h0.8v0.8h-0.8zM224.5 565.0h0.8v0.8h-0.8zM222.1 561.5h0.8v0.8h-0.8zM213.8 569.0h0.8v0.8h-0.8zM220.0 560.9h0.8v0.8h-0.8zM218.6 545.3h0.8v0.8h-0.8zM224.4 577.6h0.8v0.8h-0.8zM224.7 542.4h0.8v0.8h-0.8zM221.7 548.7h0.8v0.8h-0.8zM219.5 555.1h0.8v0.8h-0.8zM218.3 552.7h0.8v0.8h-0.8zM218.7 567.4h0.8v0.8h-0.8zM224.8 568.9h0.8v0.8h-0.8zM220.0 558.6h0.8v0.8h-0.8zM219.4 559.8h0.8v0.8h-0.8zM218.3 558.3h0.8v0.8h-0.8zM222.5 557.9h0.8v0.8h-0.8zM217.7 558.9h0.8v0.8h-0.8zM220.3 559.3h0.8v0.8h-0.8zM219.3 566.8h0.8v0.8h-0.8zM219.9 550.4h0.8v0.8h-0.8zM221.7 553.2h0.8v0.8h-0.8zM222.3 567.8h0.8v0.8h-0.8zM221.5 563.0h0.8v0.8h-0.8zM216.1 558.1h0.8v0.8h-0.8zM220.4 566.1h0.8v0.8h-0.8zM216.8 558.5h0.8v0.8h-0.8zM215.6 561.7h0.8v0.8h-0.8zM220.3 561.2h0.8v0.8h-0.8zM224.9 567.0h0.8v0.8h-0.8zM219.5 554.5h0.8v0.8h-0.8zM218.8 567.5h0.8v0.8h-0.8zM222.7 555.2h0.8v0.8h-0.8zM219.7 555.9h0.8v0.8h-0.8zM222.1 561.8h0.8v0.8h-0.8zM217.9 551.5h0.8v0.8h-0.8zM223.9 546.6h0.8v0.8h-0.8zM226.0 554.9h0.8v0.8h-0.8zM222.6 565.4h0.8v0.8h-0.8zM222.5 570.9h0.8v0.8h-0.8zM218.7 559.9h0.8v0.8h-0.8zM222.9 565.4h0.8v0.8h-0.8zM217.8 552.8h0.8v0.8h-0.8zM215.8 562.5h0.8v0.8h-0.8zM218.5 545.1h0.8v0.8h-0.8zM218.4 563.1h0.8v0.8h-0.8zM220.6 557.9h0.8v0.8h-0.8zM220.5 566.3h0.8v0.8h-0.8zM216.5 552.2h0.8v0.8h-0.8zM222.9 567.1h0.8v0.8h-0.8zM215.9 553.1h0.8v0.8h-0.8zM224.3 567.2h0.8v0.8h-0.8zM219.6 569.8h0.8v0.8h-0.8zM224.1 573.5h0.8v0.8h-0.8zM216.0 547.6h0.8v0.8h-0.8zM218.6 559.6h0.8v0.8h-0.8zM219.0 562.4h0.8v0.8h-0.8zM224.4 570.5h0.8v0.8h-0.8zM223.0 560.0h0.8v0.8h-0.8zM224.9 564.4h0.8v0.8h-0.8zM220.8 559.8h0.8v0.8h-0.8zM214.6 580.6h0.8v0.8h-0.8zM220.0 568.6h0.8v0.8h-0.8zM226.7 558.2h0.8v0.8h-0.8zM216.6 569.8h0.8v0.8h-0.8zM220.8 551.0h0.8v0.8h-0.8zM222.9 560.1h0.8v0.8h-0.8zM217.1 563.7h0.8v0.8h-0.8zM217.0 569.3h0.8v0.8h-0.8zM226.6 563.1h0.8v0.8h-0.8zM220.7 559.3h0.8v0.8h-0.8zM222.6 560.3h0.8v0.8h-0.8zM223.1 573.6h0.8v0.8h-0.8zM222.6 550.8h0.8v0.8h-0.8zM222.0 557.5h0.8v0.8h-0.8zM221.0 569.3h0.8v0.8h-0.8zM218.1 562.0h0.8v0.8h-0.8zM224.4 552.1h0.8v0.8h-0.8zM219.5 567.0h0.8v0.8h-0.8zM219.4 569.8h0.8v0.8h-0.8zM217.1 545.7h0.8v0.8h-0.8zM221.2 558.7h0.8v0.8h-0.8zM221.0 569.2h0.8v0.8h-0.8zM223.2 556.7h0.8v0.8h-0.8zM218.9 541.6h0.8v0.8h-0.8zM217.2 562.4h0.8v0.8h-0.8zM220.7 545.9h0.8v0.8h-0.8zM222.4 559.6h0.8v0.8h-0.8zM223.3 556.7h0.8v0.8h-0.8zM222.9 549.5h0.8v0.8h-0.8zM214.6 552.3h0.8v0.8h-0.8zM222.1 563.9h0.8v0.8h-0.8zM214.5 561.4h0.8v0.8h-0.8zM222.0 576.0h0.8v0.8h-0.8zM222.4 564.9h0.8v0.8h-0.8zM215.4 563.6h0.8v0.8h-0.8zM214.2 557.2h0.8v0.8h-0.8zM219.0 550.8h0.8v0.8h-0.8zM217.0 558.7h0.8v0.8h-0.8zM221.8 553.9h0.8v0.8h-0.8zM220.9 566.8h0.8v0.8h-0.8zM220.0 578.2h0.8v0.8h-0.8zM219.1 553.1h0.8v0.8h-0.8zM214.4 570.2h0.8v0.8h-0.8zM222.1 558.3h0.8v0.8h-0.8zM221.0 558.8h0.8v0.8h-0.8zM222.6 559.9h0.8v0.8h-0.8zM220.7 559.3h0.8v0.8h-0.8zM217.4 539.0h0.8v0.8h-0.8zM221.7 548.2h0.8v0.8h-0.8zM221.2 566.1h0.8v0.8h-0.8zM225.6 553.0h0.8v0.8h-0.8zM220.5 569.0h0.8v0.8h-0.8zM218.1 554.5h0.8v0.8h-0.8zM221.4 579.6h0.8v0.8h-0.8zM223.3 569.1h0.8v0.8h-0.8zM217.2 566.3h0.8v0.8h-0.8zM223.4 548.0h0.8v0.8h-0.8zM220.1 558.2h0.8v0.8h-0.8zM222.0 543.5h0.8v0.8h-0.8zM222.1 560.0h0.8v0.8h-0.8zM219.3 540.0h0.8v0.8h-0.8zM213.9 554.9h0.8v0.8h-0.8zM222.0 564.1h0.8v0.8h-0.8zM222.3 543.9h0.8v0.8h-0.8zM220.7 572.8h0.8v0.8h-0.8zM215.5 566.2h0.8v0.8h-0.8zM217.9 565.2h0.8v0.8h-0.8zM220.3 544.6h0.8v0.8h-0.8zM216.9 572.1h0.8v0.8h-0.8zM219.7 571.8h0.8v0.8h-0.8zM221.1 568.5h0.8v0.8h-0.8zM218.9 562.1h0.8v0.8h-0.8zM218.9 568.6h0.8v0.8h-0.8zM218.3 570.5h0.8v0.8h-0.8zM224.7 548.5h0.8v0.8h-0.8zM219.5 565.2h0.8v0.8h-0.8zM225.3 570.9h0.8v0.8h-0.8zM220.3 543.6h0.8v0.8h-0.8zM222.5 554.5h0.8v0.8h-0.8zM220.6 563.8h0.8v0.8h-0.8zM215.9 570.1h0.8v0.8h-0.8zM222.8 565.5h0.8v0.8h-0.8zM221.8 563.4h0.8v0.8h-0.8zM215.9 555.2h0.8v0.8h-0.8zM222.5 556.9h0.8v0.8h-0.8zM220.1 563.5h0.8v0.8h-0.8zM220.3 562.5h0.8v0.8h-0.8zM221.5 560.0h0.8v0.8h-0.8zM216.8 557.5h0.8v0.8h-0.8zM222.9 553.6h0.8v0.8h-0.8zM221.4 562.9h0.8v0.8h-0.8zM220.0 552.7h0.8v0.8h-0.8zM218.2 568.9h0.8v0.8h-0.8zM217.8 563.3h0.8v0.8h-0.8zM220.4 561.9h0.8v0.8h-0.8zM226.0 541.4h0.8v0.8h-0.8zM222.9 558.7h0.8v0.8h-0.8zM219.2 553.7h0.8v0.8h-0.8zM220.2 560.5h0.8v0.8h-0.8zM217.3 575.5h0.8v0.8h-0.8zM217.8 558.7h0.8v0.8h-0.8zM216.3 561.4h0.8v0.8h-0.8zM221.1 570.3h0.8v0.8h-0.8zM223.0 555.3h0.8v0.8h-0.8zM224.8 559.0h0.8v0.8h-0.8zM224.6 576.2h0.8v0.8h-0.8zM218.8 549.9h0.8v0.8h-0.8zM221.6 573.6h0.8v0.8h-0.8zM221.2 570.4h0.8v0.8h-0.8zM221.8 568.4h0.8v0.8h-0.8zM224.0 557.2h0.8v0.8h-0.8zM215.8 558.9h0.8v0.8h-0.8zM217.7 548.8h0.8v0.8h-0.8zM219.5 566.7h0.8v0.8h-0.8zM214.6 545.7h0.8v0.8h-0.8zM222.4 551.7h0.8v0.8h-0.8zM218.9 572.8h0.8v0.8h-0.8zM223.4 563.4h0.8v0.8h-0.8zM221.7 563.6h0.8v0.8h-0.8zM215.9 561.7h0.8v0.8h-0.8zM221.4 558.9h0.8v0.8h-0.8zM222.4 568.3h0.8v0.8h-0.8zM220.2 557.7h0.8v0.8h-0.8zM216.5 570.8h0.8v0.8h-0.8zM218.3 563.0h0.8v0.8h-0.8zM224.6 567.3h0.8v0.8h-0.8zM216.3 559.2h0.8v0.8h-0.8zM217.9 544.5h0.8v0.8h-0.8zM217.7 565.5h0.8v0.8h-0.8zM221.0 558.1h0.8v0.8h-0.8zM220.6 549.0h0.8v0.8h-0.8zM217.8 558.4h0.8v0.8h-0.8zM222.4 557.0h0.8v0.8h-0.8zM219.5 563.2h0.8v0.8h-0.8zM224.4 548.1h0.8v0.8h-0.8zM221.6 561.8h0.8v0.8h-0.8zM219.8 562.3h0.8v0.8h-0.8zM214.2 560.3h0.8v0.8h-0.8zM219.3 548.4h0.8v0.8h-0.8zM222.5 558.9h0.8v0.8h-0.8zM219.0 567.2h0.8v0.8h-0.8zM217.3 553.3h0.8v0.8h-0.8zM222.5 568.2h0.8v0.8h-0.8zM226.0 555.7h0.8v0.8h-0.8zM215.7 546.0h0.8v0.8h-0.8zM216.5 561.0h0.8v0.8h-0.8zM219.3 553.7h0.8v0.8h-0.8zM217.1 553.5h0.8v0.8h-0.8zM219.0 571.2h0.8v0.8h-0.8zM221.9 572.9h0.8v0.8h-0.8zM222.5 567.2h0.8v0.8h-0.8zM223.5 564.3h0.8v0.8h-0.8zM224.6 570.7h0.8v0.8h-0.8zM225.4 562.1h0.8v0.8h-0.8zM217.7 583.7h0.8v0.8h-0.8zM219.2 564.9h0.8v0.8h-0.8zM218.9 553.5h0.8v0.8h-0.8zM221.3 549.5h0.8v0.8h-0.8zM219.6 573.3h0.8v0.8h-0.8zM220.4 567.7h0.8v0.8h-0.8zM221.9 563.6h0.8v0.8h-0.8zM220.3 565.8h0.8v0.8h-0.8zM217.2 565.5h0.8v0.8h-0.8zM216.9 552.9h0.8v0.8h-0.8zM218.3 547.4h0.8v0.8h-0.8zM214.2 563.6h0.8v0.8h-0.8zM221.5 566.2h0.8v0.8h-0.8zM226.6 561.7h0.8v0.8h-0.8zM222.2 553.0h0.8v0.8h-0.8zM222.1 549.3h0.8v0.8h-0.8zM225.9 550.9h0.8v0.8h-0.8zM218.8 567.1h0.8v0.8h-0.8zM213.5 572.6h0.8v0.8h-0.8zM217.2 561.9h0.8v0.8h-0.8zM222.9 561.5h0.8v0.8h-0.8zM222.8 555.3h0.8v0.8h-0.8zM221.8 539.5h0.8v0.8h-0.8zM224.5 553.8h0.8v0.8h-0.8zM217.5 560.2h0.8v0.8h-0.8zM225.0 553.4h0.8v0.8h-0.8zM220.0 556.6h0.8v0.8h-0.8zM217.3 547.7h0.8v0.8h-0.8zM221.8 566.7h0.8v0.8h-0.8zM217.8 562.2h0.8v0.8h-0.8zM221.3 563.6h0.8v0.8h-0.8zM219.5 560.4h0.8v0.8h-0.8zM220.8 550.0h0.8v0.8h-0.8zM219.6 567.5h0.8v0.8h-0.8zM218.4 572.4h0.8v0.8h-0.8zM219.3 549.6h0.8v0.8h-0.8zM219.1 547.3h0.8v0.8h-0.8zM221.8 545.0h0.8v0.8h-0.8zM220.1 557.8h0.8v0.8h-0.8zM219.1 564.0h0.8v0.8h-0.8zM220.9 554.8h0.8v0.8h-0.8zM222.4 555.8h0.8v0.8h-0.8zM222.7 572.6h0.8v0.8h-0.8zM221.1 568.7h0.8v0.8h-0.8zM216.1 565.3h0.8v0.8h-0.8zM215.6 558.4h0.8v0.8h-0.8zM217.7 552.7h0.8v0.8h-0.8zM217.2 560.2h0.8v0.8h-0.8zM221.9 549.1h0.8v0.8h-0.8zM218.2 542.5h0.8v0.8h-0.8zM217.9 540.3h0.8v0.8h-0.8zM215.6 564.4h0.8v0.8h-0.8zM222.6 552.4h0.8v0.8h-0.8zM221.0 552.7h0.8v0.8h-0.8zM223.2 576.5h0.8v0.8h-0.8zM212.7 551.9h0.8v0.8h-0.8zM218.1 555.5h0.8v0.8h-0.8zM224.6 574.8h0.8v0.8h-0.8zM220.0 566.0h0.8v0.8h-0.8zM215.3 557.2h0.8v0.8h-0.8zM219.2 558.6h0.8v0.8h-0.8zM220.9 545.3h0.8v0.8h-0.8zM216.9 580.1h0.8v0.8h-0.8zM214.9 560.6h0.8v0.8h-0.8zM222.2 564.6h0.8v0.8h-0.8zM220.2 544.8h0.8v0.8h-0.8zM218.6 545.3h0.8v0.8h-0.8zM225.8 563.4h0.8v0.8h-0.8zM222.2 561.9h0.8v0.8h-0.8zM218.9 571.1h0.8v0.8h-0.8zM222.6 566.0h0.8v0.8h-0.8zM221.7 567.0h0.8v0.8h-0.8zM219.2 564.1h0.8v0.8h-0.8zM220.2 557.6h0.8v0.8h-0.8zM221.9 580.1h0.8v0.8h-0.8zM214.0 573.5h0.8v0.8h-0.8zM218.7 571.3h0.8v0.8h-0.8zM217.0 558.3h0.8v0.8h-0.8zM223.0 559.3h0.8v0.8h-0.8zM221.0 548.6h0.8v0.8h-0.8zM216.6 575.7h0.8v0.8h-0.8zM220.5 559.2h0.8v0.8h-0.8zM215.9 550.3h0.8v0.8h-0.8zM217.0 559.5h0.8v0.8h-0.8zM219.7 554.3h0.8v0.8h-0.8zM218.0 561.0h0.8v0.8h-0.8zM223.5 546.8h0.8v0.8h-0.8zM215.8 570.6h0.8v0.8h-0.8zM215.8 556.2h0.8v0.8h-0.8zM220.4 577.2h0.8v0.8h-0.8zM219.8 570.1h0.8v0.8h-0.8zM220.4 552.4h0.8v0.8h-0.8zM220.6 540.6h0.8v0.8h-0.8zM222.4 573.9h0.8v0.8h-0.8zM219.4 567.7h0.8v0.8h-0.8zM216.9 573.9h0.8v0.8h-0.8zM218.1 552.5h0.8v0.8h-0.8zM217.7 543.3h0.8v0.8h-0.8zM222.0 578.9h0.8v0.8h-0.8zM215.8 558.1h0.8v0.8h-0.8zM221.3 554.7h0.8v0.8h-0.8zM215.4 563.2h0.8v0.8h-0.8zM223.0 561.0h0.8v0.8h-0.8zM216.8 557.2h0.8v0.8h-0.8zM214.3 559.4h0.8v0.8h-0.8zM223.6 570.5h0.8v0.8h-0.8zM219.7 564.1h0.8v0.8h-0.8zM218.5 561.2h0.8v0.8h-0.8zM218.2 561.6h0.8v0.8h-0.8zM218.5 561.9h0.8v0.8h-0.8zM222.1 559.8h0.8v0.8h-0.8zM216.2 564.7h0.8v0.8h-0.8zM219.3 555.3h0.8v0.8h-0.8zM221.7 552.1h0.8v0.8h-0.8zM222.8 565.3h0.8v0.8h-0.8zM218.0 553.4h0.8v0.8h-0.8zM219.6 551.4h0.8v0.8h-0.8zM222.8 538.7h0.8v0.8h-0.8zM220.4 556.7h0.8v0.8h-0.8zM216.8 566.0h0.8v0.8h-0.8zM218.6 564.3h0.8v0.8h-0.8zM218.7 557.3h0.8v0.8h-0.8zM221.5 569.0h0.8v0.8h-0.8zM223.0 559.8h0.8v0.8h-0.8zM224.4 556.8h0.8v0.8h-0.8zM216.0 542.4h0.8v0.8h-0.8zM215.7 551.8h0.8v0.8h-0.8zM214.7 563.1h0.8v0.8h-0.8zM220.1 559.7h0.8v0.8h-0.8zM220.7 559.0h0.8v0.8h-0.8zM219.3 557.0h0.8v0.8h-0.8zM220.1 549.4h0.8v0.8h-0.8zM223.8 574.6h0.8v0.8h-0.8zM220.1 581.5h0.8v0.8h-0.8zM217.1 568.5h0.8v0.8h-0.8zM215.2 565.7h0.8v0.8h-0.8zM217.8 569.5h0.8v0.8h-0.8zM220.3 569.0h0.8v0.8h-0.8zM221.8 565.0h0.8v0.8h-0.8zM219.2 575.1h0.8v0.8h-0.8zM221.1 564.6h0.8v0.8h-0.8zM224.2 557.6h0.8v0.8h-0.8zM225.2 570.3h0.8v0.8h-0.8zM220.2 546.3h0.8v0.8h-0.8zM223.6 557.1h0.8v0.8h-0.8zM220.3 561.2h0.8v0.8h-0.8zM222.8 566.0h0.8v0.8h-0.8zM214.6 553.8h0.8v0.8h-0.8zM221.0 561.6h0.8v0.8h-0.8zM222.4 565.4h0.8v0.8h-0.8zM224.8 553.2h0.8v0.8h-0.8zM223.9 563.6h0.8v0.8h-0.8zM220.9 566.5h0.8v0.8h-0.8zM219.0 566.8h0.8v0.8h-0.8zM219.4 566.8h0.8v0.8h-0.8zM217.8 571.1h0.8v0.8h-0.8zM215.5 553.8h0.8v0.8h-0.8zM219.9 562.3h0.8v0.8h-0.8zM217.7 556.2h0.8v0.8h-0.8zM220.8 569.9h0.8v0.8h-0.8zM223.8 555.5h0.8v0.8h-0.8zM219.8 557.1h0.8v0.8h-0.8zM215.5 555.8h0.8v0.8h-0.8zM223.3 547.3h0.8v0.8h-0.8zM228.4 569.3h0.8v0.8h-0.8zM225.1 561.8h0.8v0.8h-0.8zM213.2 564.2h0.8v0.8h-0.8zM224.7 554.6h0.8v0.8h-0.8zM223.8 567.2h0.8v0.8h-0.8zM222.3 567.1h0.8v0.8h-0.8zM221.7 566.2h0.8v0.8h-0.8zM223.5 564.0h0.8v0.8h-0.8zM221.9 564.1h0.8v0.8h-0.8zM220.4 551.8h0.8v0.8h-0.8zM214.7 550.4h0.8v0.8h-0.8zM216.4 546.0h0.8v0.8h-0.8zM222.1 556.9h0.8v0.8h-0.8zM222.3 555.6h0.8v0.8h-0.8zM221.1 558.1h0.8v0.8h-0.8zM220.9 579.8h0.8v0.8h-0.8zM224.7 572.1h0.8v0.8h-0.8zM220.9 576.9h0.8v0.8h-0.8zM222.5 568.5h0.8v0.8h-0.8zM216.6 554.2h0.8v0.8h-0.8zM220.5 558.0h0.8v0.8h-0.8zM218.5 541.1h0.8v0.8h-0.8zM217.8 559.0h0.8v0.8h-0.8zM220.9 549.9h0.8v0.8h-0.8zM219.6 577.2h0.8v0.8h-0.8zM220.5 541.4h0.8v0.8h-0.8zM219.5 560.1h0.8v0.8h-0.8zM223.8 561.9h0.8v0.8h-0.8zM224.1 563.2h0.8v0.8h-0.8zM223.5 572.8h0.8v0.8h-0.8zM224.6 561.9h0.8v0.8h-0.8zM216.4 561.9h0.8v0.8h-0.8zM221.4 553.4h0.8v0.8h-0.8zM222.5 558.5h0.8v0.8h-0.8zM222.4 561.9h0.8v0.8h-0.8zM217.3 570.0h0.8v0.8h-0.8zM225.9 568.8h0.8v0.8h-0.8zM220.9 543.7h0.8v0.8h-0.8zM221.0 559.8h0.8v0.8h-0.8zM217.7 541.9h0.8v0.8h-0.8zM221.3 569.3h0.8v0.8h-0.8zM222.1 581.7h0.8v0.8h-0.8zM214.4 563.4h0.8v0.8h-0.8zM219.9 573.6h0.8v0.8h-0.8zM219.9 550.9h0.8v0.8h-0.8zM219.9 564.2h0.8v0.8h-0.8zM217.9 552.6h0.8v0.8h-0.8zM220.8 568.4h0.8v0.8h-0.8zM219.3 564.7h0.8v0.8h-0.8zM218.5 556.8h0.8v0.8h-0.8zM220.6 569.3h0.8v0.8h-0.8zM224.7 558.9h0.8v0.8h-0.8zM221.4 578.8h0.8v0.8h-0.8zM222.5 556.6h0.8v0.8h-0.8zM221.2 546.5h0.8v0.8h-0.8zM213.9 552.8h0.8v0.8h-0.8zM217.9 547.3h0.8v0.8h-0.8zM223.1 555.7h0.8v0.8h-0.8zM220.3 560.7h0.8v0.8h-0.8zM219.4 548.9h0.8v0.8h-0.8zM225.7 541.2h0.8v0.8h-0.8zM219.9 566.7h0.8v0.8h-0.8zM219.4 559.1h0.8v0.8h-0.8zM220.9 562.3h0.8v0.8h-0.8zM219.1 570.3h0.8v0.8h-0.8zM221.5 574.4h0.8v0.8h-0.8zM220.3 541.1h0.8v0.8h-0.8zM215.2 555.2h0.8v0.8h-0.8zM221.4 544.5h0.8v0.8h-0.8zM218.4 571.9h0.8v0.8h-0.8zM221.0 553.3h0.8v0.8h-0.8zM219.7 561.1h0.8v0.8h-0.8zM218.8 557.1h0.8v0.8h-0.8zM218.2 562.2h0.8v0.8h-0.8zM224.7 573.9h0.8v0.8h-0.8zM216.4 582.1h0.8v0.8h-0.8zM219.7 546.7h0.8v0.8h-0.8zM215.7 561.4h0.8v0.8h-0.8zM220.7 554.0h0.8v0.8h-0.8zM217.7 558.0h0.8v0.8h-0.8zM220.8 566.5h0.8v0.8h-0.8zM221.7 537.4h0.8v0.8h-0.8zM218.3 562.5h0.8v0.8h-0.8zM221.1 567.7h0.8v0.8h-0.8zM215.7 575.0h0.8v0.8h-0.8zM216.6 558.1h0.8v0.8h-0.8zM218.7 555.5h0.8v0.8h-0.8zM217.8 567.8h0.8v0.8h-0.8zM222.4 563.4h0.8v0.8h-0.8zM216.3 554.1h0.8v0.8h-0.8zM219.9 563.9h0.8v0.8h-0.8zM218.4 557.5h0.8v0.8h-0.8zM227.7 560.6h0.8v0.8h-0.8zM217.9 575.6h0.8v0.8h-0.8zM222.5 548.7h0.8v0.8h-0.8zM222.3 561.7h0.8v0.8h-0.8zM217.7 567.6h0.8v0.8h-0.8zM218.3 557.2h0.8v0.8h-0.8zM220.1 562.1h0.8v0.8h-0.8zM218.8 562.9h0.8v0.8h-0.8zM220.1 561.9h0.8v0.8h-0.8zM221.2 554.0h0.8v0.8h-0.8zM216.1 559.4h0.8v0.8h-0.8zM223.6 563.2h0.8v0.8h-0.8zM220.7 553.0h0.8v0.8h-0.8zM216.7 548.2h0.8v0.8h-0.8zM217.4 556.5h0.8v0.8h-0.8zM215.6 558.9h0.8v0.8h-0.8zM215.5 566.3h0.8v0.8h-0.8zM220.0 543.3h0.8v0.8h-0.8zM218.5 562.3h0.8v0.8h-0.8zM221.2 567.4h0.8v0.8h-0.8zM219.0 558.7h0.8v0.8h-0.8zM219.4 565.2h0.8v0.8h-0.8zM218.0 558.5h0.8v0.8h-0.8zM220.5 556.8h0.8v0.8h-0.8zM216.9 573.0h0.8v0.8h-0.8zM221.5 551.4h0.8v0.8h-0.8zM225.8 552.8h0.8v0.8h-0.8zM217.5 556.6h0.8v0.8h-0.8zM221.6 574.3h0.8v0.8h-0.8zM224.0 565.3h0.8v0.8h-0.8zM220.2 566.4h0.8v0.8h-0.8zM217.8 553.4h0.8v0.8h-0.8zM221.6 562.0h0.8v0.8h-0.8zM220.7 550.4h0.8v0.8h-0.8zM220.8 546.4h0.8v0.8h-0.8zM222.7 560.2h0.8v0.8h-0.8zM218.2 555.6h0.8v0.8h-0.8zM218.0 573.1h0.8v0.8h-0.8zM211.6 570.8h0.8v0.8h-0.8zM220.1 562.5h0.8v0.8h-0.8zM217.3 547.6h0.8v0.8h-0.8zM220.7 555.8h0.8v0.8h-0.8zM221.5 570.1h0.8v0.8h-0.8zM219.7 565.2h0.8v0.8h-0.8zM220.6 562.3h0.8v0.8h-0.8zM218.6 562.3h0.8v0.8h-0.8zM221.3 560.8h0.8v0.8h-0.8zM218.7 546.2h0.8v0.8h-0.8zM217.0 575.0h0.8v0.8h-0.8zM223.0 562.9h0.8v0.8h-0.8zM220.9 558.6h0.8v0.8h-0.8zM222.0 569.2h0.8v0.8h-0.8zM219.3 563.0h0.8v0.8h-0.8zM222.8 545.0h0.8v0.8h-0.8zM217.3 554.6h0.8v0.8h-0.8zM216.7 555.9h0.8v0.8h-0.8zM217.6 556.3h0.8v0.8h-0.8zM221.4 548.9h0.8v0.8h-0.8zM220.3 573.2h0.8v0.8h-0.8zM220.6 548.4h0.8v0.8h-0.8zM218.3 571.2h0.8v0.8h-0.8zM219.3 554.1h0.8v0.8h-0.8zM222.3 553.3h0.8v0.8h-0.8zM216.8 565.9h0.8v0.8h-0.8zM220.1 553.9h0.8v0.8h-0.8zM221.4 570.6h0.8v0.8h-0.8zM223.2 561.1h0.8v0.8h-0.8zM221.4 564.8h0.8v0.8h-0.8zM215.8 575.9h0.8v0.8h-0.8zM218.1 554.8h0.8v0.8h-0.8zM217.7 550.9h0.8v0.8h-0.8zM223.2 560.1h0.8v0.8h-0.8zM218.4 542.7h0.8v0.8h-0.8zM220.5 559.6h0.8v0.8h-0.8zM217.1 559.1h0.8v0.8h-0.8zM214.8 566.3h0.8v0.8h-0.8zM216.5 564.8h0.8v0.8h-0.8zM220.3 539.9h0.8v0.8h-0.8zM216.8 553.9h0.8v0.8h-0.8zM222.3 565.8h0.8v0.8h-0.8zM221.9 576.0h0.8v0.8h-0.8zM219.2 555.2h0.8v0.8h-0.8zM214.6 550.3h0.8v0.8h-0.8zM221.7 552.1h0.8v0.8h-0.8zM217.5 569.2h0.8v0.8h-0.8zM212.9 573.3h0.8v0.8h-0.8zM223.8 543.0h0.8v0.8h-0.8zM221.4 560.0h0.8v0.8h-0.8zM222.7 556.9h0.8v0.8h-0.8zM219.7 573.5h0.8v0.8h-0.8zM218.3 564.1h0.8v0.8h-0.8zM221.9 559.0h0.8v0.8h-0.8zM222.6 565.0h0.8v0.8h-0.8zM222.5 543.9h0.8v0.8h-0.8zM217.1 562.9h0.8v0.8h-0.8zM223.4 573.7h0.8v0.8h-0.8zM220.1 553.0h0.8v0.8h-0.8zM216.9 541.6h0.8v0.8h-0.8zM218.6 565.6h0.8v0.8h-0.8zM219.9 546.0h0.8v0.8h-0.8zM219.8 560.6h0.8v0.8h-0.8zM217.9 574.0h0.8v0.8h-0.8zM221.3 570.6h0.8v0.8h-0.8zM220.4 550.8h0.8v0.8h-0.8zM223.2 570.6h0.8v0.8h-0.8zM218.4 547.4h0.8v0.8h-0.8zM222.4 554.7h0.8v0.8h-0.8zM216.7 559.3h0.8v0.8h-0.8zM221.7 552.9h0.8v0.8h-0.8zM220.2 569.6h0.8v0.8h-0.8zM222.2 545.3h0.8v0.8h-0.8zM222.1 577.0h0.8v0.8h-0.8zM222.7 559.3h0.8v0.8h-0.8zM221.1 545.1h0.8v0.8h-0.8zM218.4 555.2h0.8v0.8h-0.8zM226.0 560.1h0.8v0.8h-0.8zM217.3 576.2h0.8v0.8h-0.8zM223.6 544.4h0.8v0.8h-0.8zM219.5 544.0h0.8v0.8h-0.8zM223.1 538.4h0.8v0.8h-0.8zM225.4 550.0h0.8v0.8h-0.8zM217.1 580.3h0.8v0.8h-0.8zM221.6 563.5h0.8v0.8h-0.8zM222.5 550.7h0.8v0.8h-0.8zM222.6 557.4h0.8v0.8h-0.8zM221.6 562.3h0.8v0.8h-0.8zM224.0 547.8h0.8v0.8h-0.8zM216.1 566.3h0.8v0.8h-0.8zM226.9 565.3h0.8v0.8h-0.8zM219.6 566.5h0.8v0.8h-0.8zM216.6 561.0h0.8v0.8h-0.8zM215.2 561.2h0.8v0.8h-0.8zM222.1 576.3h0.8v0.8h-0.8zM218.6 569.0h0.8v0.8h-0.8zM223.9 550.1h0.8v0.8h-0.8zM219.3 542.4h0.8v0.8h-0.8zM217.5 564.3h0.8v0.8h-0.8zM214.2 557.3h0.8v0.8h-0.8zM222.1 573.8h0.8v0.8h-0.8zM212.9 563.8h0.8v0.8h-0.8zM218.3 538.1h0.8v0.8h-0.8zM217.1 565.8h0.8v0.8h-0.8zM220.0 566.8h0.8v0.8h-0.8zM219.2 566.4h0.8v0.8h-0.8zM217.3 550.8h0.8v0.8h-0.8zM219.6 543.4h0.8v0.8h-0.8zM223.6 557.7h0.8v0.8h-0.8zM217.2 551.8h0.8v0.8h-0.8zM217.3 561.3h0.8v0.8h-0.8zM219.0 568.4h0.8v0.8h-0.8zM216.8 559.4h0.8v0.8h-0.8zM215.7 555.7h0.8v0.8h-0.8zM224.0 559.0h0.8v0.8h-0.8zM222.6 559.5h0.8v0.8h-0.8zM216.9 551.7h0.8v0.8h-0.8zM216.8 563.4h0.8v0.8h-0.8zM220.7 588.2h0.8v0.8h-0.8zM224.8 568.2h0.8v0.8h-0.8zM217.3 561.2h0.8v0.8h-0.8zM217.5 582.6h0.8v0.8h-0.8zM218.0 571.3h0.8v0.8h-0.8zM216.2 567.4h0.8v0.8h-0.8zM216.5 555.6h0.8v0.8h-0.8zM220.5 561.4h0.8v0.8h-0.8zM219.9 559.5h0.8v0.8h-0.8zM217.6 559.0h0.8v0.8h-0.8zM219.9 551.1h0.8v0.8h-0.8zM221.7 561.8h0.8v0.8h-0.8zM217.9 572.6h0.8v0.8h-0.8zM218.4 541.9h0.8v0.8h-0.8zM223.7 556.5h0.8v0.8h-0.8zM224.3 564.3h0.8v0.8h-0.8zM217.5 570.8h0.8v0.8h-0.8zM221.4 569.0h0.8v0.8h-0.8zM220.2 575.1h0.8v0.8h-0.8zM222.7 556.9h0.8v0.8h-0.8zM215.7 559.7h0.8v0.8h-0.8zM220.2 550.6h0.8v0.8h-0.8zM219.5 574.5h0.8v0.8h-0.8zM218.7 570.9h0.8v0.8h-0.8zM217.4 550.8h0.8v0.8h-0.8zM222.7 558.4h0.8v0.8h-0.8zM220.7 570.0h0.8v0.8h-0.8zM224.7 548.2h0.8v0.8h-0.8zM221.7 562.3h0.8v0.8h-0.8zM220.5 577.3h0.8v0.8h-0.8zM219.4 554.4h0.8v0.8h-0.8zM221.5 540.6h0.8v0.8h-0.8zM221.1 551.5h0.8v0.8h-0.8zM221.0 553.0h0.8v0.8h-0.8zM221.5 557.7h0.8v0.8h-0.8zM218.0 565.3h0.8v0.8h-0.8zM222.2 544.7h0.8v0.8h-0.8zM216.3 557.6h0.8v0.8h-0.8zM219.0 572.8h0.8v0.8h-0.8zM224.6 564.7h0.8v0.8h-0.8zM223.2 557.0h0.8v0.8h-0.8zM216.1 563.0h0.8v0.8h-0.8zM215.0 575.8h0.8v0.8h-0.8zM220.8 571.3h0.8v0.8h-0.8zM218.2 544.6h0.8v0.8h-0.8zM219.5 564.8h0.8v0.8h-0.8zM219.4 555.2h0.8v0.8h-0.8zM220.3 558.2h0.8v0.8h-0.8zM224.0 547.5h0.8v0.8h-0.8zM213.7 559.2h0.8v0.8h-0.8zM220.8 545.3h0.8v0.8h-0.8zM219.9 564.3h0.8v0.8h-0.8zM221.0 563.0h0.8v0.8h-0.8zM217.9 546.1h0.8v0.8h-0.8zM222.8 556.7h0.8v0.8h-0.8zM216.1 575.0h0.8v0.8h-0.8zM227.5 561.5h0.8v0.8h-0.8zM215.4 569.3h0.8v0.8h-0.8zM221.0 572.1h0.8v0.8h-0.8zM220.1 544.0h0.8v0.8h-0.8zM219.6 555.9h0.8v0.8h-0.8zM220.9 558.3h0.8v0.8h-0.8zM221.6 548.3h0.8v0.8h-0.8zM218.5 555.1h0.8v0.8h-0.8zM221.2 543.6h0.8v0.8h-0.8zM220.0 583.0h0.8v0.8h-0.8zM214.9 570.0h0.8v0.8h-0.8zM220.3 569.6h0.8v0.8h-0.8zM220.2 562.6h0.8v0.8h-0.8zM221.1 564.5h0.8v0.8h-0.8zM216.6 558.8h0.8v0.8h-0.8zM225.3 573.7h0.8v0.8h-0.8zM217.6 550.9h0.8v0.8h-0.8zM219.5 570.3h0.8v0.8h-0.8zM222.7 554.4h0.8v0.8h-0.8zM213.2 559.6h0.8v0.8h-0.8zM215.3 571.6h0.8v0.8h-0.8zM224.3 566.5h0.8v0.8h-0.8zM221.7 565.5h0.8v0.8h-0.8zM225.3 570.6h0.8v0.8h-0.8zM224.2 549.0h0.8v0.8h-0.8zM218.5 560.0h0.8v0.8h-0.8zM213.6 557.3h0.8v0.8h-0.8zM220.0 559.4h0.8v0.8h-0.8zM227.3 558.1h0.8v0.8h-0.8zM219.5 558.9h0.8v0.8h-0.8zM219.0 546.4h0.8v0.8h-0.8zM223.2 560.3h0.8v0.8h-0.8zM221.1 560.4h0.8v0.8h-0.8zM217.8 544.7h0.8v0.8h-0.8zM219.2 565.2h0.8v0.8h-0.8zM219.7 567.1h0.8v0.8h-0.8zM217.8 557.2h0.8v0.8h-0.8zM220.5 559.1h0.8v0.8h-0.8zM220.5 573.9h0.8v0.8h-0.8zM218.8 561.3h0.8v0.8h-0.8zM218.2 565.3h0.8v0.8h-0.8zM220.7 552.9h0.8v0.8h-0.8zM217.1 548.5h0.8v0.8h-0.8zM219.2 561.5h0.8v0.8h-0.8zM218.6 559.0h0.8v0.8h-0.8zM220.4 582.7h0.8v0.8h-0.8zM223.4 582.4h0.8v0.8h-0.8zM220.4 562.1h0.8v0.8h-0.8zM225.6 563.7h0.8v0.8h-0.8zM221.9 555.2h0.8v0.8h-0.8zM218.5 567.5h0.8v0.8h-0.8zM218.3 553.7h0.8v0.8h-0.8zM215.7 562.9h0.8v0.8h-0.8zM219.7 565.3h0.8v0.8h-0.8zM217.5 548.1h0.8v0.8h-0.8zM223.2 560.3h0.8v0.8h-0.8zM222.3 549.0h0.8v0.8h-0.8zM220.9 569.6h0.8v0.8h-0.8zM223.8 577.1h0.8v0.8h-0.8zM214.8 549.5h0.8v0.8h-0.8zM218.5 552.4h0.8v0.8h-0.8zM219.4 552.3h0.8v0.8h-0.8zM215.8 559.6h0.8v0.8h-0.8zM220.4 552.6h0.8v0.8h-0.8zM220.1 547.5h0.8v0.8h-0.8zM219.1 556.8h0.8v0.8h-0.8zM218.7 559.3h0.8v0.8h-0.8zM216.4 547.1h0.8v0.8h-0.8zM217.6 567.1h0.8v0.8h-0.8zM217.3 551.0h0.8v0.8h-0.8zM225.7 557.5h0.8v0.8h-0.8zM218.9 551.5h0.8v0.8h-0.8zM224.2 565.1h0.8v0.8h-0.8zM220.8 575.4h0.8v0.8h-0.8zM216.6 543.8h0.8v0.8h-0.8zM223.2 564.2h0.8v0.8h-0.8zM218.5 567.7h0.8v0.8h-0.8zM219.7 578.9h0.8v0.8h-0.8zM216.4 563.5h0.8v0.8h-0.8zM222.8 568.6h0.8v0.8h-0.8zM219.0 556.2h0.8v0.8h-0.8zM218.8 566.7h0.8v0.8h-0.8zM218.8 558.7h0.8v0.8h-0.8zM223.0 558.9h0.8v0.8h-0.8zM220.7 558.8h0.8v0.8h-0.8zM220.0 538.6h0.8v0.8h-0.8zM217.3 563.6h0.8v0.8h-0.8zM218.2 554.1h0.8v0.8h-0.8zM220.2 582.1h0.8v0.8h-0.8zM217.8 550.8h0.8v0.8h-0.8zM214.8 564.5h0.8v0.8h-0.8zM219.8 551.9h0.8v0.8h-0.8zM218.8 569.5h0.8v0.8h-0.8zM222.9 563.6h0.8v0.8h-0.8zM223.3 569.8h0.8v0.8h-0.8zM218.7 567.7h0.8v0.8h-0.8zM220.5 567.4h0.8v0.8h-0.8zM220.8 580.7h0.8v0.8h-0.8zM216.4 563.5h0.8v0.8h-0.8zM216.9 582.5h0.8v0.8h-0.8zM218.5 556.5h0.8v0.8h-0.8zM219.9 559.6h0.8v0.8h-0.8zM224.9 559.5h0.8v0.8h-0.8zM220.7 570.3h0.8v0.8h-0.8zM224.4 550.7h0.8v0.8h-0.8zM220.9 547.2h0.8v0.8h-0.8zM221.4 573.7h0.8v0.8h-0.8zM218.5 557.3h0.8v0.8h-0.8zM223.4 564.3h0.8v0.8h-0.8zM222.3 555.6h0.8v0.8h-0.8zM219.1 556.4h0.8v0.8h-0.8zM224.5 545.5h0.8v0.8h-0.8zM218.5 575.1h0.8v0.8h-0.8zM219.8 549.4h0.8v0.8h-0.8zM220.7 557.9h0.8v0.8h-0.8zM219.6 564.8h0.8v0.8h-0.8zM222.3 545.5h0.8v0.8h-0.8zM220.6 574.6h0.8v0.8h-0.8zM216.1 559.1h0.8v0.8h-0.8zM216.6 566.5h0.8v0.8h-0.8zM217.6 556.8h0.8v0.8h-0.8zM218.8 564.4h0.8v0.8h-0.8zM216.2 546.4h0.8v0.8h-0.8zM220.5 573.2h0.8v0.8h-0.8zM218.5 564.0h0.8v0.8h-0.8zM220.8 561.1h0.8v0.8h-0.8zM219.9 554.6h0.8v0.8h-0.8zM219.3 571.7h0.8v0.8h-0.8zM221.3 572.5h0.8v0.8h-0.8zM217.9 561.2h0.8v0.8h-0.8zM218.1 547.1h0.8v0.8h-0.8zM222.6 557.3h0.8v0.8h-0.8zM220.7 546.2h0.8v0.8h-0.8zM219.3 558.8h0.8v0.8h-0.8zM218.9 569.9h0.8v0.8h-0.8zM221.3 561.3h0.8v0.8h-0.8zM220.7 555.7h0.8v0.8h-0.8zM217.9 557.3h0.8v0.8h-0.8zM217.0 558.3h0.8v0.8h-0.8zM219.7 571.0h0.8v0.8h-0.8zM218.7 583.7h0.8v0.8h-0.8zM218.5 561.3h0.8v0.8h-0.8zM219.9 554.0h0.8v0.8h-0.8zM219.8 542.7h0.8v0.8h-0.8zM223.2 554.4h0.8v0.8h-0.8zM219.9 542.3h0.8v0.8h-0.8zM221.6 547.5h0.8v0.8h-0.8zM223.9 549.8h0.8v0.8h-0.8zM217.9 566.5h0.8v0.8h-0.8zM223.7 540.7h0.8v0.8h-0.8zM215.1 575.8h0.8v0.8h-0.8zM221.3 545.2h0.8v0.8h-0.8zM218.7 566.8h0.8v0.8h-0.8zM218.9 574.7h0.8v0.8h-0.8zM217.9 561.6h0.8v0.8h-0.8zM223.3 574.5h0.8v0.8h-0.8zM220.7 565.7h0.8v0.8h-0.8zM219.0 559.3h0.8v0.8h-0.8zM218.3 563.8h0.8v0.8h-0.8zM222.4 550.1h0.8v0.8h-0.8zM216.6 560.4h0.8v0.8h-0.8zM225.7 562.2h0.8v0.8h-0.8zM220.4 559.6h0.8v0.8h-0.8zM215.2 553.0h0.8v0.8h-0.8zM224.3 539.4h0.8v0.8h-0.8zM225.1 548.2h0.8v0.8h-0.8zM225.8 585.7h0.8v0.8h-0.8zM224.3 558.6h0.8v0.8h-0.8zM221.7 554.6h0.8v0.8h-0.8zM218.7 562.0h0.8v0.8h-0.8zM210.9 565.5h0.8v0.8h-0.8zM219.1 549.3h0.8v0.8h-0.8zM219.2 566.3h0.8v0.8h-0.8zM217.8 563.5h0.8v0.8h-0.8zM216.1 560.9h0.8v0.8h-0.8zM216.7 567.5h0.8v0.8h-0.8zM217.0 566.0h0.8v0.8h-0.8zM214.3 561.7h0.8v0.8h-0.8zM223.1 551.9h0.8v0.8h-0.8zM220.1 551.5h0.8v0.8h-0.8zM221.4 567.4h0.8v0.8h-0.8zM223.3 573.1h0.8v0.8h-0.8zM223.7 552.8h0.8v0.8h-0.8zM220.3 565.2h0.8v0.8h-0.8zM220.5 547.1h0.8v0.8h-0.8zM225.8 585.1h0.8v0.8h-0.8zM225.2 558.2h0.8v0.8h-0.8zM226.5 549.7h0.8v0.8h-0.8zM221.5 567.8h0.8v0.8h-0.8zM215.8 556.7h0.8v0.8h-0.8zM221.4 566.5h0.8v0.8h-0.8zM213.1 563.6h0.8v0.8h-0.8zM224.6 544.8h0.8v0.8h-0.8zM221.1 569.1h0.8v0.8h-0.8zM217.2 544.3h0.8v0.8h-0.8zM220.7 555.6h0.8v0.8h-0.8zM219.7 558.0h0.8v0.8h-0.8zM219.6 563.0h0.8v0.8h-0.8zM218.4 559.6h0.8v0.8h-0.8zM218.3 551.4h0.8v0.8h-0.8zM221.0 551.8h0.8v0.8h-0.8zM221.5 559.7h0.8v0.8h-0.8zM223.1 565.8h0.8v0.8h-0.8zM214.2 559.7h0.8v0.8h-0.8zM221.9 561.0h0.8v0.8h-0.8zM220.1 570.7h0.8v0.8h-0.8zM221.9 546.7h0.8v0.8h-0.8zM220.2 569.9h0.8v0.8h-0.8zM220.4 547.3h0.8v0.8h-0.8zM222.2 565.9h0.8v0.8h-0.8zM223.3 561.7h0.8v0.8h-0.8zM220.3 568.4h0.8v0.8h-0.8zM216.8 576.9h0.8v0.8h-0.8zM221.1 562.2h0.8v0.8h-0.8zM222.1 567.8h0.8v0.8h-0.8zM213.6 569.2h0.8v0.8h-0.8zM219.7 552.2h0.8v0.8h-0.8zM222.6 569.3h0.8v0.8h-0.8zM221.1 553.8h0.8v0.8h-0.8zM220.3 550.5h0.8v0.8h-0.8zM227.2 553.4h0.8v0.8h-0.8zM222.5 576.1h0.8v0.8h-0.8zM217.5 554.7h0.8v0.8h-0.8zM213.5 557.6h0.8v0.8h-0.8zM216.2 561.5h0.8v0.8h-0.8zM219.3 560.1h0.8v0.8h-0.8zM220.1 555.3h0.8v0.8h-0.8zM220.3 559.3h0.8v0.8h-0.8zM217.9 556.8h0.8v0.8h-0.8zM218.3 547.1h0.8v0.8h-0.8zM219.9 541.5h0.8v0.8h-0.8zM221.5 559.6h0.8v0.8h-0.8zM220.4 571.4h0.8v0.8h-0.8zM222.7 555.6h0.8v0.8h-0.8zM221.0 571.8h0.8v0.8h-0.8zM219.5 563.7h0.8v0.8h-0.8zM221.2 549.7h0.8v0.8h-0.8zM220.8 556.1h0.8v0.8h-0.8zM219.2 564.3h0.8v0.8h-0.8zM221.8 551.0h0.8v0.8h-0.8zM219.2 558.0h0.8v0.8h-0.8zM217.2 563.6h0.8v0.8h-0.8zM219.4 553.0h0.8v0.8h-0.8zM222.7 559.1h0.8v0.8h-0.8zM216.6 559.0h0.8v0.8h-0.8zM219.4 562.9h0.8v0.8h-0.8zM226.4 565.4h0.8v0.8h-0.8zM224.1 558.2h0.8v0.8h-0.8zM221.3 564.9h0.8v0.8h-0.8zM219.7 562.4h0.8v0.8h-0.8zM218.7 566.8h0.8v0.8h-0.8zM217.4 576.9h0.8v0.8h-0.8zM209.3 546.2h0.8v0.8h-0.8zM219.6 563.6h0.8v0.8h-0.8zM220.4 543.9h0.8v0.8h-0.8zM221.2 551.2h0.8v0.8h-0.8zM220.5 555.8h0.8v0.8h-0.8zM219.2 544.9h0.8v0.8h-0.8zM216.2 554.4h0.8v0.8h-0.8zM216.9 562.4h0.8v0.8h-0.8zM215.9 562.1h0.8v0.8h-0.8zM221.5 552.6h0.8v0.8h-0.8zM217.2 556.5h0.8v0.8h-0.8zM222.2 573.7h0.8v0.8h-0.8zM226.2 560.8h0.8v0.8h-0.8zM221.7 561.9h0.8v0.8h-0.8zM219.9 549.3h0.8v0.8h-0.8zM218.9 571.0h0.8v0.8h-0.8zM223.9 554.0h0.8v0.8h-0.8zM215.3 578.7h0.8v0.8h-0.8zM220.0 564.5h0.8v0.8h-0.8zM219.5 542.1h0.8v0.8h-0.8zM220.9 550.4h0.8v0.8h-0.8zM219.1 553.8h0.8v0.8h-0.8zM219.2 583.7h0.8v0.8h-0.8zM224.3 540.6h0.8v0.8h-0.8zM215.5 554.9h0.8v0.8h-0.8zM218.0 567.7h0.8v0.8h-0.8zM224.5 552.7h0.8v0.8h-0.8zM221.6 557.9h0.8v0.8h-0.8zM214.3 571.6h0.8v0.8h-0.8zM225.0 551.8h0.8v0.8h-0.8zM221.8 554.8h0.8v0.8h-0.8zM219.7 555.4h0.8v0.8h-0.8zM219.6 560.4h0.8v0.8h-0.8zM218.2 562.7h0.8v0.8h-0.8zM216.2 568.0h0.8v0.8h-0.8zM217.2 541.5h0.8v0.8h-0.8zM222.3 556.5h0.8v0.8h-0.8zM218.4 569.0h0.8v0.8h-0.8zM219.9 579.3h0.8v0.8h-0.8zM221.2 545.8h0.8v0.8h-0.8zM218.5 553.3h0.8v0.8h-0.8zM219.1 576.7h0.8v0.8h-0.8zM227.8 576.9h0.8v0.8h-0.8zM221.3 565.4h0.8v0.8h-0.8zM220.4 538.0h0.8v0.8h-0.8zM224.0 579.7h0.8v0.8h-0.8zM218.5 559.7h0.8v0.8h-0.8zM217.9 557.9h0.8v0.8h-0.8zM217.5 548.7h0.8v0.8h-0.8zM223.4 540.6h0.8v0.8h-0.8zM222.9 548.6h0.8v0.8h-0.8zM219.2 540.0h0.8v0.8h-0.8zM221.8 550.0h0.8v0.8h-0.8zM227.1 550.7h0.8v0.8h-0.8zM220.7 566.5h0.8v0.8h-0.8zM217.2 551.7h0.8v0.8h-0.8zM216.9 565.5h0.8v0.8h-0.8zM220.8 570.0h0.8v0.8h-0.8zM215.8 550.7h0.8v0.8h-0.8zM219.6 555.5h0.8v0.8h-0.8zM220.9 571.1h0.8v0.8h-0.8zM220.3 552.0h0.8v0.8h-0.8zM219.8 552.8h0.8v0.8h-0.8zM218.1 578.4h0.8v0.8h-0.8zM221.9 578.1h0.8v0.8h-0.8zM219.4 559.3h0.8v0.8h-0.8zM216.3 562.3h0.8v0.8h-0.8zM222.1 566.8h0.8v0.8h-0.8zM216.6 561.0h0.8v0.8h-0.8zM222.6 555.3h0.8v0.8h-0.8zM222.0 555.0h0.8v0.8h-0.8zM219.9 554.2h0.8v0.8h-0.8zM215.7 551.7h0.8v0.8h-0.8zM220.5 557.1h0.8v0.8h-0.8zM219.9 554.2h0.8v0.8h-0.8zM222.5 558.2h0.8v0.8h-0.8zM221.1 555.2h0.8v0.8h-0.8zM223.7 558.9h0.8v0.8h-0.8zM221.2 581.8h0.8v0.8h-0.8zM221.2 544.5h0.8v0.8h-0.8zM218.0 563.2h0.8v0.8h-0.8zM216.2 545.3h0.8v0.8h-0.8zM219.6 544.3h0.8v0.8h-0.8zM223.1 564.3h0.8v0.8h-0.8zM219.1 572.0h0.8v0.8h-0.8zM218.0 548.2h0.8v0.8h-0.8zM222.6 560.1h0.8v0.8h-0.8zM219.3 570.2h0.8v0.8h-0.8zM219.6 566.4h0.8v0.8h-0.8zM220.6 571.5h0.8v0.8h-0.8zM221.5 555.3h0.8v0.8h-0.8zM224.3 556.4h0.8v0.8h-0.8zM225.0 547.4h0.8v0.8h-0.8zM220.1 537.8h0.8v0.8h-0.8zM221.5 573.3h0.8v0.8h-0.8zM218.8 564.6h0.8v0.8h-0.8zM219.3 574.2h0.8v0.8h-0.8zM220.9 563.5h0.8v0.8h-0.8zM223.1 544.9h0.8v0.8h-0.8zM222.0 561.3h0.8v0.8h-0.8zM223.7 560.3h0.8v0.8h-0.8zM221.7 559.4h0.8v0.8h-0.8zM217.1 555.0h0.8v0.8h-0.8zM219.5 546.8h0.8v0.8h-0.8zM219.8 555.3h0.8v0.8h-0.8zM225.2 557.6h0.8v0.8h-0.8zM220.3 560.9h0.8v0.8h-0.8zM222.0 544.0h0.8v0.8h-0.8zM215.0 575.7h0.8v0.8h-0.8zM217.6 551.2h0.8v0.8h-0.8zM223.3 562.9h0.8v0.8h-0.8zM217.7 567.4h0.8v0.8h-0.8zM216.7 576.1h0.8v0.8h-0.8zM219.1 563.3h0.8v0.8h-0.8zM220.0 579.0h0.8v0.8h-0.8zM217.2 559.0h0.8v0.8h-0.8zM226.1 539.8h0.8v0.8h-0.8zM218.6 562.7h0.8v0.8h-0.8zM219.4 564.4h0.8v0.8h-0.8zM223.3 548.7h0.8v0.8h-0.8zM218.1 573.0h0.8v0.8h-0.8zM221.5 569.8h0.8v0.8h-0.8zM218.0 551.4h0.8v0.8h-0.8zM216.7 558.0h0.8v0.8h-0.8zM216.7 567.0h0.8v0.8h-0.8zM218.0 565.1h0.8v0.8h-0.8zM215.5 568.8h0.8v0.8h-0.8zM221.9 569.3h0.8v0.8h-0.8zM220.8 582.8h0.8v0.8h-0.8zM222.8 560.5h0.8v0.8h-0.8zM224.6 556.5h0.8v0.8h-0.8zM220.4 576.2h0.8v0.8h-0.8zM218.7 560.0h0.8v0.8h-0.8zM220.7 561.8h0.8v0.8h-0.8zM219.3 570.0h0.8v0.8h-0.8zM226.2 556.2h0.8v0.8h-0.8zM215.8 555.4h0.8v0.8h-0.8zM216.0 547.4h0.8v0.8h-0.8zM217.0 570.5h0.8v0.8h-0.8zM220.4 567.0h0.8v0.8h-0.8zM219.7 570.1h0.8v0.8h-0.8zM218.8 572.9h0.8v0.8h-0.8zM222.5 562.2h0.8v0.8h-0.8zM215.8 549.1h0.8v0.8h-0.8zM220.7 549.7h0.8v0.8h-0.8zM219.5 558.4h0.8v0.8h-0.8zM224.0 553.2h0.8v0.8h-0.8zM220.4 555.4h0.8v0.8h-0.8zM217.8 564.3h0.8v0.8h-0.8zM222.8 545.9h0.8v0.8h-0.8zM224.3 582.1h0.8v0.8h-0.8zM220.4 565.2h0.8v0.8h-0.8zM217.0 556.0h0.8v0.8h-0.8zM220.9 559.1h0.8v0.8h-0.8zM224.0 551.3h0.8v0.8h-0.8zM219.3 565.2h0.8v0.8h-0.8zM219.8 557.6h0.8v0.8h-0.8zM219.7 564.0h0.8v0.8h-0.8zM214.5 585.7h0.8v0.8h-0.8zM222.1 549.6h0.8v0.8h-0.8zM217.4 548.8h0.8v0.8h-0.8zM221.3 541.6h0.8v0.8h-0.8zM227.0 554.6h0.8v0.8h-0.8zM216.0 580.4h0.8v0.8h-0.8zM220.0 564.9h0.8v0.8h-0.8zM219.5 557.5h0.8v0.8h-0.8zM225.9 540.5h0.8v0.8h-0.8zM220.7 552.7h0.8v0.8h-0.8zM219.0 559.4h0.8v0.8h-0.8zM214.7 566.1h0.8v0.8h-0.8zM220.6 565.5h0.8v0.8h-0.8zM218.3 567.4h0.8v0.8h-0.8zM218.7 567.7h0.8v0.8h-0.8zM223.9 566.2h0.8v0.8h-0.8zM215.9 560.7h0.8v0.8h-0.8zM217.0 579.2h0.8v0.8h-0.8zM220.6 547.4h0.8v0.8h-0.8zM215.6 573.1h0.8v0.8h-0.8zM217.1 564.1h0.8v0.8h-0.8zM219.1 558.6h0.8v0.8h-0.8zM218.7 560.1h0.8v0.8h-0.8zM224.6 551.4h0.8v0.8h-0.8zM221.5 564.8h0.8v0.8h-0.8zM218.1 549.2h0.8v0.8h-0.8zM217.5 565.7h0.8v0.8h-0.8zM220.5 570.1h0.8v0.8h-0.8zM221.1 561.2h0.8v0.8h-0.8zM220.1 562.3h0.8v0.8h-0.8zM220.1 566.6h0.8v0.8h-0.8zM217.5 570.6h0.8v0.8h-0.8zM224.7 559.1h0.8v0.8h-0.8zM221.6 548.4h0.8v0.8h-0.8zM220.3 545.9h0.8v0.8h-0.8zM222.9 560.5h0.8v0.8h-0.8zM223.1 571.1h0.8v0.8h-0.8zM217.9 568.1h0.8v0.8h-0.8zM224.5 581.9h0.8v0.8h-0.8zM219.7 565.4h0.8v0.8h-0.8zM218.2 566.3h0.8v0.8h-0.8zM221.7 574.3h0.8v0.8h-0.8zM219.6 560.6h0.8v0.8h-0.8zM221.4 558.4h0.8v0.8h-0.8zM226.0 538.2h0.8v0.8h-0.8zM215.1 555.1h0.8v0.8h-0.8zM222.0 560.2h0.8v0.8h-0.8zM221.2 545.1h0.8v0.8h-0.8zM221.7 565.4h0.8v0.8h-0.8zM224.7 568.1h0.8v0.8h-0.8zM218.2 552.8h0.8v0.8h-0.8zM216.8 555.3h0.8v0.8h-0.8zM219.7 572.4h0.8v0.8h-0.8zM224.8 560.8h0.8v0.8h-0.8zM221.7 558.4h0.8v0.8h-0.8zM216.3 565.3h0.8v0.8h-0.8zM217.9 544.2h0.8v0.8h-0.8zM217.6 574.7h0.8v0.8h-0.8zM216.7 573.4h0.8v0.8h-0.8zM216.1 559.4h0.8v0.8h-0.8zM221.5 556.1h0.8v0.8h-0.8zM217.2 560.1h0.8v0.8h-0.8zM224.8 566.5h0.8v0.8h-0.8zM220.6 565.7h0.8v0.8h-0.8zM223.4 573.1h0.8v0.8h-0.8zM219.2 551.4h0.8v0.8h-0.8zM217.2 560.7h0.8v0.8h-0.8zM219.2 560.1h0.8v0.8h-0.8zM218.2 584.5h0.8v0.8h-0.8zM218.0 574.1h0.8v0.8h-0.8zM217.5 552.4h0.8v0.8h-0.8zM216.6 549.4h0.8v0.8h-0.8zM215.3 552.0h0.8v0.8h-0.8zM219.3 566.9h0.8v0.8h-0.8zM214.9 564.4h0.8v0.8h-0.8zM219.7 560.0h0.8v0.8h-0.8zM213.8 564.8h0.8v0.8h-0.8zM221.9 571.3h0.8v0.8h-0.8zM219.2 572.2h0.8v0.8h-0.8zM220.2 551.1h0.8v0.8h-0.8zM221.5 569.6h0.8v0.8h-0.8zM220.7 559.8h0.8v0.8h-0.8zM219.3 566.6h0.8v0.8h-0.8zM214.8 563.0h0.8v0.8h-0.8zM216.3 555.0h0.8v0.8h-0.8zM220.6 572.2h0.8v0.8h-0.8zM220.0 551.0h0.8v0.8h-0.8zM227.9 563.2h0.8v0.8h-0.8zM212.2 559.1h0.8v0.8h-0.8zM217.9 554.1h0.8v0.8h-0.8zM223.1 580.9h0.8v0.8h-0.8zM220.3 547.0h0.8v0.8h-0.8zM222.5 561.0h0.8v0.8h-0.8zM218.8 562.1h0.8v0.8h-0.8zM216.7 562.0h0.8v0.8h-0.8zM221.0 571.7h0.8v0.8h-0.8zM225.8 553.9h0.8v0.8h-0.8zM221.1 552.3h0.8v0.8h-0.8zM220.4 571.3h0.8v0.8h-0.8zM221.9 557.2h0.8v0.8h-0.8zM225.2 568.8h0.8v0.8h-0.8zM223.6 560.9h0.8v0.8h-0.8zM223.9 558.6h0.8v0.8h-0.8zM222.5 560.5h0.8v0.8h-0.8zM220.0 544.9h0.8v0.8h-0.8zM222.9 565.7h0.8v0.8h-0.8zM218.2 560.7h0.8v0.8h-0.8zM221.8 566.3h0.8v0.8h-0.8z" fill="#000" fill-opacity="0.55"/>
<path d="M213.0 585.1h0.8v0.8h-0.8zM216.4 586.8h0.8v0.8h-0.8zM223.6 579.6h0.8v0.8h-0.8zM220.5 580.2h0.8v0.8h-0.8zM218.5 585.3h0.8v0.8h-0.8zM217.6 576.8h0.8v0.8h-0.8zM219.1 572.5h0.8v0.8h-0.8zM223.2 574.2h0.8v0.8h-0.8zM224.8 582.9h0.8v0.8h-0.8zM226.5 576.6h0.8v0.8h-0.8zM218.8 577.2h0.8v0.8h-0.8zM222.4 575.4h0.8v0.8h-0.8zM218.8 569.5h0.8v0.8h-0.8zM220.0 579.9h0.8v0.8h-0.8zM226.4 575.6h0.8v0.8h-0.8zM223.0 581.4h0.8v0.8h-0.8zM222.7 574.5h0.8v0.8h-0.8zM208.3 577.0h0.8v0.8h-0.8zM223.0 579.7h0.8v0.8h-0.8zM224.6 587.9h0.8v0.8h-0.8zM217.5 577.3h0.8v0.8h-0.8zM224.9 572.2h0.8v0.8h-0.8zM211.5 580.2h0.8v0.8h-0.8zM220.9 585.3h0.8v0.8h-0.8zM222.3 578.9h0.8v0.8h-0.8zM217.9 571.5h0.8v0.8h-0.8zM221.6 576.5h0.8v0.8h-0.8zM218.6 580.4h0.8v0.8h-0.8zM213.0 578.7h0.8v0.8h-0.8zM217.8 587.3h0.8v0.8h-0.8zM219.4 583.7h0.8v0.8h-0.8zM216.5 572.5h0.8v0.8h-0.8zM222.8 577.6h0.8v0.8h-0.8zM215.4 583.5h0.8v0.8h-0.8zM221.5 571.9h0.8v0.8h-0.8zM219.1 587.3h0.8v0.8h-0.8zM220.2 573.4h0.8v0.8h-0.8zM217.0 584.8h0.8v0.8h-0.8zM224.9 581.9h0.8v0.8h-0.8zM214.8 582.5h0.8v0.8h-0.8zM217.1 576.9h0.8v0.8h-0.8zM218.2 583.5h0.8v0.8h-0.8zM221.5 581.4h0.8v0.8h-0.8zM218.3 576.9h0.8v0.8h-0.8zM223.4 576.5h0.8v0.8h-0.8zM218.9 581.4h0.8v0.8h-0.8zM219.2 583.2h0.8v0.8h-0.8zM221.7 581.7h0.8v0.8h-0.8zM227.6 576.8h0.8v0.8h-0.8zM226.9 573.7h0.8v0.8h-0.8zM217.2 568.6h0.8v0.8h-0.8zM217.6 575.7h0.8v0.8h-0.8zM222.2 584.3h0.8v0.8h-0.8zM227.6 576.8h0.8v0.8h-0.8zM223.4 578.3h0.8v0.8h-0.8zM213.6 561.5h0.8v0.8h-0.8zM218.6 570.9h0.8v0.8h-0.8zM222.8 575.1h0.8v0.8h-0.8zM222.0 576.2h0.8v0.8h-0.8zM221.5 575.0h0.8v0.8h-0.8zM221.2 586.7h0.8v0.8h-0.8zM221.1 573.2h0.8v0.8h-0.8zM217.2 579.6h0.8v0.8h-0.8zM222.6 573.8h0.8v0.8h-0.8zM216.8 572.2h0.8v0.8h-0.8zM225.8 580.3h0.8v0.8h-0.8zM220.9 577.2h0.8v0.8h-0.8zM226.3 581.5h0.8v0.8h-0.8zM219.5 584.2h0.8v0.8h-0.8zM221.8 577.8h0.8v0.8h-0.8zM218.6 579.0h0.8v0.8h-0.8zM224.5 573.0h0.8v0.8h-0.8zM214.2 581.9h0.8v0.8h-0.8zM223.4 585.2h0.8v0.8h-0.8zM221.8 572.7h0.8v0.8h-0.8zM222.6 579.7h0.8v0.8h-0.8zM216.4 572.2h0.8v0.8h-0.8zM214.6 579.3h0.8v0.8h-0.8zM215.5 580.5h0.8v0.8h-0.8zM219.3 581.7h0.8v0.8h-0.8zM222.8 575.1h0.8v0.8h-0.8zM218.6 582.2h0.8v0.8h-0.8zM217.7 583.3h0.8v0.8h-0.8zM221.8 582.8h0.8v0.8h-0.8zM217.8 582.4h0.8v0.8h-0.8zM219.1 580.0h0.8v0.8h-0.8zM222.0 576.6h0.8v0.8h-0.8zM219.7 568.9h0.8v0.8h-0.8zM217.5 581.7h0.8v0.8h-0.8zM216.2 570.0h0.8v0.8h-0.8zM215.0 577.7h0.8v0.8h-0.8zM222.1 581.3h0.8v0.8h-0.8zM215.1 580.7h0.8v0.8h-0.8zM215.7 583.7h0.8v0.8h-0.8zM221.1 576.3h0.8v0.8h-0.8zM218.3 578.7h0.8v0.8h-0.8zM217.9 584.0h0.8v0.8h-0.8zM220.9 576.6h0.8v0.8h-0.8zM221.4 573.1h0.8v0.8h-0.8zM220.4 577.6h0.8v0.8h-0.8zM217.9 578.8h0.8v0.8h-0.8zM220.6 572.8h0.8v0.8h-0.8zM222.5 576.5h0.8v0.8h-0.8zM221.0 586.1h0.8v0.8h-0.8zM216.2 586.1h0.8v0.8h-0.8zM218.6 587.1h0.8v0.8h-0.8zM217.1 583.5h0.8v0.8h-0.8zM217.9 584.4h0.8v0.8h-0.8zM222.8 580.4h0.8v0.8h-0.8zM217.0 583.5h0.8v0.8h-0.8zM221.1 574.4h0.8v0.8h-0.8zM221.7 578.3h0.8v0.8h-0.8zM219.4 574.8h0.8v0.8h-0.8zM220.5 582.7h0.8v0.8h-0.8zM217.0 582.4h0.8v0.8h-0.8zM213.8 579.5h0.8v0.8h-0.8zM220.7 574.9h0.8v0.8h-0.8zM220.3 573.4h0.8v0.8h-0.8zM226.0 580.7h0.8v0.8h-0.8zM223.4 575.0h0.8v0.8h-0.8zM212.4 578.6h0.8v0.8h-0.8zM224.3 578.3h0.8v0.8h-0.8zM223.7 580.7h0.8v0.8h-0.8zM220.9 583.5h0.8v0.8h-0.8zM217.9 577.2h0.8v0.8h-0.8zM223.4 581.0h0.8v0.8h-0.8zM218.0 574.4h0.8v0.8h-0.8zM224.7 565.1h0.8v0.8h-0.8zM222.8 578.4h0.8v0.8h-0.8zM215.6 580.7h0.8v0.8h-0.8zM221.4 588.8h0.8v0.8h-0.8zM220.8 568.2h0.8v0.8h-0.8zM216.8 582.3h0.8v0.8h-0.8zM218.2 578.7h0.8v0.8h-0.8zM219.6 585.1h0.8v0.8h-0.8zM220.9 578.3h0.8v0.8h-0.8zM217.7 583.3h0.8v0.8h-0.8zM217.6 580.8h0.8v0.8h-0.8zM221.2 582.2h0.8v0.8h-0.8zM222.4 580.2h0.8v0.8h-0.8zM226.3 582.4h0.8v0.8h-0.8zM217.4 575.1h0.8v0.8h-0.8zM217.6 584.7h0.8v0.8h-0.8zM216.3 585.7h0.8v0.8h-0.8zM221.2 576.5h0.8v0.8h-0.8zM216.6 578.6h0.8v0.8h-0.8zM222.3 578.7h0.8v0.8h-0.8zM222.1 579.7h0.8v0.8h-0.8zM224.2 576.9h0.8v0.8h-0.8zM219.4 574.2h0.8v0.8h-0.8zM218.8 574.7h0.8v0.8h-0.8zM214.9 578.0h0.8v0.8h-0.8zM222.0 569.4h0.8v0.8h-0.8zM215.7 573.0h0.8v0.8h-0.8zM221.0 581.4h0.8v0.8h-0.8zM220.9 578.2h0.8v0.8h-0.8zM217.3 579.8h0.8v0.8h-0.8zM217.0 578.0h0.8v0.8h-0.8zM221.1 577.9h0.8v0.8h-0.8zM223.7 569.7h0.8v0.8h-0.8zM214.7 583.3h0.8v0.8h-0.8zM218.0 577.0h0.8v0.8h-0.8zM218.0 578.7h0.8v0.8h-0.8zM219.3 580.5h0.8v0.8h-0.8zM222.8 586.9h0.8v0.8h-0.8zM213.0 578.5h0.8v0.8h-0.8zM217.0 579.9h0.8v0.8h-0.8zM216.6 579.3h0.8v0.8h-0.8zM220.7 578.8h0.8v0.8h-0.8zM220.6 581.8h0.8v0.8h-0.8zM216.4 578.8h0.8v0.8h-0.8zM223.2 583.0h0.8v0.8h-0.8zM223.0 575.4h0.8v0.8h-0.8zM217.7 583.2h0.8v0.8h-0.8zM219.8 580.2h0.8v0.8h-0.8zM218.7 582.9h0.8v0.8h-0.8zM220.4 574.7h0.8v0.8h-0.8zM221.0 577.5h0.8v0.8h-0.8zM219.0 581.4h0.8v0.8h-0.8zM220.3 576.5h0.8v0.8h-0.8zM216.1 577.1h0.8v0.8h-0.8zM219.4 573.9h0.8v0.8h-0.8zM217.8 588.9h0.8v0.8h-0.8zM217.8 579.3h0.8v0.8h-0.8zM215.9 577.6h0.8v0.8h-0.8zM220.6 579.7h0.8v0.8h-0.8zM214.4 579.1h0.8v0.8h-0.8zM216.7 583.6h0.8v0.8h-0.8zM219.5 585.8h0.8v0.8h-0.8zM221.0 574.0h0.8v0.8h-0.8zM222.8 576.9h0.8v0.8h-0.8zM219.5 579.4h0.8v0.8h-0.8zM215.7 584.0h0.8v0.8h-0.8zM220.3 574.6h0.8v0.8h-0.8zM215.4 581.0h0.8v0.8h-0.8zM223.7 580.7h0.8v0.8h-0.8zM220.8 577.2h0.8v0.8h-0.8zM223.3 581.3h0.8v0.8h-0.8zM217.3 576.4h0.8v0.8h-0.8zM212.9 583.9h0.8v0.8h-0.8zM229.4 578.5h0.8v0.8h-0.8zM221.2 582.3h0.8v0.8h-0.8zM219.1 588.1h0.8v0.8h-0.8zM216.6 575.4h0.8v0.8h-0.8zM225.0 582.9h0.8v0.8h-0.8zM222.2 578.6h0.8v0.8h-0.8zM219.7 579.6h0.8v0.8h-0.8zM221.2 576.4h0.8v0.8h-0.8zM223.1 586.4h0.8v0.8h-0.8zM218.1 574.9h0.8v0.8h-0.8zM216.7 584.7h0.8v0.8h-0.8zM217.7 575.8h0.8v0.8h-0.8zM223.3 578.3h0.8v0.8h-0.8zM219.7 582.0h0.8v0.8h-0.8zM223.4 580.0h0.8v0.8h-0.8zM224.8 576.1h0.8v0.8h-0.8zM218.1 581.9h0.8v0.8h-0.8zM221.9 571.6h0.8v0.8h-0.8zM218.8 581.9h0.8v0.8h-0.8zM219.3 586.7h0.8v0.8h-0.8zM214.8 579.9h0.8v0.8h-0.8zM217.1 572.2h0.8v0.8h-0.8zM219.1 578.8h0.8v0.8h-0.8zM218.5 576.3h0.8v0.8h-0.8zM222.6 574.6h0.8v0.8h-0.8zM217.8 573.1h0.8v0.8h-0.8zM223.5 572.8h0.8v0.8h-0.8zM225.3 575.1h0.8v0.8h-0.8zM219.7 585.9h0.8v0.8h-0.8zM216.4 584.6h0.8v0.8h-0.8zM215.6 577.1h0.8v0.8h-0.8zM221.6 580.5h0.8v0.8h-0.8zM220.9 580.4h0.8v0.8h-0.8zM224.8 572.2h0.8v0.8h-0.8zM217.6 582.7h0.8v0.8h-0.8zM215.1 576.1h0.8v0.8h-0.8zM227.6 584.8h0.8v0.8h-0.8zM221.4 579.4h0.8v0.8h-0.8zM219.3 575.3h0.8v0.8h-0.8zM217.0 574.9h0.8v0.8h-0.8zM215.7 579.6h0.8v0.8h-0.8zM221.2 575.1h0.8v0.8h-0.8zM220.2 573.4h0.8v0.8h-0.8zM221.0 577.7h0.8v0.8h-0.8zM219.6 579.9h0.8v0.8h-0.8zM224.0 580.0h0.8v0.8h-0.8zM217.7 579.7h0.8v0.8h-0.8zM221.1 581.3h0.8v0.8h-0.8zM223.2 575.6h0.8v0.8h-0.8zM216.0 581.7h0.8v0.8h-0.8zM216.2 581.0h0.8v0.8h-0.8zM228.5 584.4h0.8v0.8h-0.8zM215.1 575.6h0.8v0.8h-0.8zM221.1 577.9h0.8v0.8h-0.8zM222.0 580.1h0.8v0.8h-0.8zM220.9 581.4h0.8v0.8h-0.8zM214.8 583.9h0.8v0.8h-0.8zM215.3 575.3h0.8v0.8h-0.8zM212.1 579.1h0.8v0.8h-0.8zM221.1 577.5h0.8v0.8h-0.8zM216.0 569.8h0.8v0.8h-0.8zM221.6 574.2h0.8v0.8h-0.8zM218.6 580.1h0.8v0.8h-0.8zM219.6 580.8h0.8v0.8h-0.8zM225.1 582.1h0.8v0.8h-0.8zM216.5 578.9h0.8v0.8h-0.8zM219.1 575.4h0.8v0.8h-0.8zM221.9 577.4h0.8v0.8h-0.8zM220.6 581.8h0.8v0.8h-0.8zM226.6 576.5h0.8v0.8h-0.8zM222.1 588.2h0.8v0.8h-0.8zM224.9 580.4h0.8v0.8h-0.8zM217.4 579.8h0.8v0.8h-0.8zM217.8 577.3h0.8v0.8h-0.8zM214.3 577.9h0.8v0.8h-0.8zM213.3 583.3h0.8v0.8h-0.8zM221.5 577.4h0.8v0.8h-0.8zM219.9 579.6h0.8v0.8h-0.8zM219.0 580.3h0.8v0.8h-0.8zM219.2 581.0h0.8v0.8h-0.8zM217.2 579.4h0.8v0.8h-0.8zM225.2 575.7h0.8v0.8h-0.8zM217.2 583.1h0.8v0.8h-0.8zM220.8 579.8h0.8v0.8h-0.8zM220.4 577.4h0.8v0.8h-0.8zM218.1 581.3h0.8v0.8h-0.8zM220.4 581.8h0.8v0.8h-0.8zM221.3 588.6h0.8v0.8h-0.8zM220.1 585.1h0.8v0.8h-0.8zM220.3 588.7h0.8v0.8h-0.8zM223.0 575.9h0.8v0.8h-0.8zM224.9 576.7h0.8v0.8h-0.8zM223.1 575.9h0.8v0.8h-0.8zM221.0 579.8h0.8v0.8h-0.8zM224.4 570.0h0.8v0.8h-0.8zM213.6 583.3h0.8v0.8h-0.8zM222.3 577.0h0.8v0.8h-0.8zM220.1 571.7h0.8v0.8h-0.8zM218.6 576.3h0.8v0.8h-0.8zM222.7 580.2h0.8v0.8h-0.8zM219.3 584.1h0.8v0.8h-0.8zM217.7 582.4h0.8v0.8h-0.8zM219.1 581.1h0.8v0.8h-0.8zM218.9 585.1h0.8v0.8h-0.8zM218.4 587.7h0.8v0.8h-0.8zM222.4 575.6h0.8v0.8h-0.8zM218.4 584.9h0.8v0.8h-0.8zM224.6 574.0h0.8v0.8h-0.8zM220.4 581.8h0.8v0.8h-0.8zM227.5 582.0h0.8v0.8h-0.8zM219.2 583.1h0.8v0.8h-0.8zM220.1 575.5h0.8v0.8h-0.8zM219.7 578.2h0.8v0.8h-0.8zM219.1 579.5h0.8v0.8h-0.8zM221.0 575.9h0.8v0.8h-0.8zM222.0 572.5h0.8v0.8h-0.8zM222.0 581.3h0.8v0.8h-0.8zM221.2 572.9h0.8v0.8h-0.8zM218.2 580.1h0.8v0.8h-0.8zM221.3 582.4h0.8v0.8h-0.8zM214.9 579.3h0.8v0.8h-0.8zM223.3 574.3h0.8v0.8h-0.8zM215.9 577.2h0.8v0.8h-0.8zM219.0 578.1h0.8v0.8h-0.8zM223.9 580.4h0.8v0.8h-0.8zM213.6 582.6h0.8v0.8h-0.8zM220.1 582.9h0.8v0.8h-0.8zM219.7 585.1h0.8v0.8h-0.8zM220.3 577.2h0.8v0.8h-0.8zM215.9 583.2h0.8v0.8h-0.8zM219.4 571.8h0.8v0.8h-0.8zM222.6 584.8h0.8v0.8h-0.8zM213.0 581.7h0.8v0.8h-0.8zM222.0 586.6h0.8v0.8h-0.8zM223.8 576.1h0.8v0.8h-0.8zM221.3 582.4h0.8v0.8h-0.8zM215.0 585.4h0.8v0.8h-0.8zM221.4 582.8h0.8v0.8h-0.8zM217.0 582.8h0.8v0.8h-0.8zM219.7 578.0h0.8v0.8h-0.8zM219.9 580.7h0.8v0.8h-0.8zM214.9 579.3h0.8v0.8h-0.8zM221.0 572.4h0.8v0.8h-0.8zM222.0 579.3h0.8v0.8h-0.8zM216.5 574.6h0.8v0.8h-0.8zM215.8 583.0h0.8v0.8h-0.8zM217.0 580.1h0.8v0.8h-0.8zM218.4 583.1h0.8v0.8h-0.8zM224.0 583.2h0.8v0.8h-0.8zM222.0 583.8h0.8v0.8h-0.8zM225.4 575.6h0.8v0.8h-0.8zM220.7 576.5h0.8v0.8h-0.8zM220.0 578.4h0.8v0.8h-0.8zM220.2 582.3h0.8v0.8h-0.8zM215.6 568.3h0.8v0.8h-0.8zM220.7 583.8h0.8v0.8h-0.8zM218.5 585.6h0.8v0.8h-0.8zM227.2 579.6h0.8v0.8h-0.8zM219.1 581.5h0.8v0.8h-0.8zM222.3 573.0h0.8v0.8h-0.8zM221.5 570.6h0.8v0.8h-0.8zM216.3 580.3h0.8v0.8h-0.8zM220.8 574.3h0.8v0.8h-0.8zM220.0 584.8h0.8v0.8h-0.8zM214.5 581.7h0.8v0.8h-0.8zM224.0 573.6h0.8v0.8h-0.8zM223.7 581.2h0.8v0.8h-0.8zM218.8 579.4h0.8v0.8h-0.8zM219.7 579.5h0.8v0.8h-0.8zM219.2 576.2h0.8v0.8h-0.8zM222.8 586.6h0.8v0.8h-0.8zM219.2 585.4h0.8v0.8h-0.8zM217.3 573.9h0.8v0.8h-0.8zM221.9 580.4h0.8v0.8h-0.8zM221.3 575.3h0.8v0.8h-0.8zM218.5 583.7h0.8v0.8h-0.8zM225.0 580.4h0.8v0.8h-0.8zM221.1 568.2h0.8v0.8h-0.8zM217.7 584.9h0.8v0.8h-0.8zM226.0 575.8h0.8v0.8h-0.8zM211.6 581.5h0.8v0.8h-0.8zM215.6 577.6h0.8v0.8h-0.8zM217.9 577.8h0.8v0.8h-0.8zM216.7 582.1h0.8v0.8h-0.8zM220.8 573.8h0.8v0.8h-0.8zM214.7 588.2h0.8v0.8h-0.8zM221.7 580.2h0.8v0.8h-0.8zM214.3 588.5h0.8v0.8h-0.8zM216.4 579.9h0.8v0.8h-0.8zM220.9 576.3h0.8v0.8h-0.8zM220.2 577.4h0.8v0.8h-0.8zM213.1 573.5h0.8v0.8h-0.8zM217.8 577.1h0.8v0.8h-0.8zM221.2 586.4h0.8v0.8h-0.8zM219.0 588.6h0.8v0.8h-0.8zM218.4 579.8h0.8v0.8h-0.8zM219.1 572.2h0.8v0.8h-0.8zM219.6 578.5h0.8v0.8h-0.8zM217.1 582.5h0.8v0.8h-0.8zM221.1 578.0h0.8v0.8h-0.8zM216.9 580.6h0.8v0.8h-0.8zM217.2 575.7h0.8v0.8h-0.8zM218.2 583.4h0.8v0.8h-0.8zM218.9 578.7h0.8v0.8h-0.8zM218.7 581.9h0.8v0.8h-0.8zM219.3 582.9h0.8v0.8h-0.8zM219.3 583.0h0.8v0.8h-0.8zM218.8 576.2h0.8v0.8h-0.8zM221.1 578.5h0.8v0.8h-0.8zM218.3 585.5h0.8v0.8h-0.8zM218.2 576.0h0.8v0.8h-0.8zM218.7 585.5h0.8v0.8h-0.8zM215.4 584.3h0.8v0.8h-0.8zM221.4 577.7h0.8v0.8h-0.8zM218.7 576.3h0.8v0.8h-0.8zM213.2 575.4h0.8v0.8h-0.8zM215.2 572.6h0.8v0.8h-0.8zM218.3 581.9h0.8v0.8h-0.8zM216.7 578.0h0.8v0.8h-0.8zM217.2 578.5h0.8v0.8h-0.8zM221.0 584.6h0.8v0.8h-0.8zM221.7 581.0h0.8v0.8h-0.8zM224.2 582.5h0.8v0.8h-0.8zM221.3 581.8h0.8v0.8h-0.8zM222.4 575.0h0.8v0.8h-0.8zM216.8 579.8h0.8v0.8h-0.8zM213.9 578.2h0.8v0.8h-0.8zM218.6 580.8h0.8v0.8h-0.8zM221.9 585.0h0.8v0.8h-0.8zM212.0 580.3h0.8v0.8h-0.8zM220.8 585.5h0.8v0.8h-0.8zM217.7 581.2h0.8v0.8h-0.8zM219.2 575.4h0.8v0.8h-0.8zM220.5 583.5h0.8v0.8h-0.8zM218.5 579.8h0.8v0.8h-0.8zM223.2 578.6h0.8v0.8h-0.8zM218.6 580.7h0.8v0.8h-0.8zM221.1 581.1h0.8v0.8h-0.8zM223.7 581.3h0.8v0.8h-0.8zM215.8 572.5h0.8v0.8h-0.8zM219.4 586.6h0.8v0.8h-0.8zM219.8 577.5h0.8v0.8h-0.8zM220.5 581.7h0.8v0.8h-0.8zM223.7 574.0h0.8v0.8h-0.8zM222.1 580.2h0.8v0.8h-0.8zM222.3 584.0h0.8v0.8h-0.8zM212.4 583.3h0.8v0.8h-0.8zM221.3 576.1h0.8v0.8h-0.8zM219.2 583.9h0.8v0.8h-0.8zM214.8 583.2h0.8v0.8h-0.8zM222.2 586.9h0.8v0.8h-0.8zM216.9 576.8h0.8v0.8h-0.8zM222.9 578.2h0.8v0.8h-0.8zM221.0 568.3h0.8v0.8h-0.8zM227.4 571.5h0.8v0.8h-0.8zM214.3 581.5h0.8v0.8h-0.8zM221.2 576.0h0.8v0.8h-0.8zM212.5 581.7h0.8v0.8h-0.8zM220.4 575.5h0.8v0.8h-0.8zM220.1 576.9h0.8v0.8h-0.8zM216.3 582.4h0.8v0.8h-0.8zM219.6 579.6h0.8v0.8h-0.8zM215.6 576.4h0.8v0.8h-0.8zM218.7 576.8h0.8v0.8h-0.8zM220.7 579.5h0.8v0.8h-0.8zM218.9 578.7h0.8v0.8h-0.8zM220.9 583.7h0.8v0.8h-0.8zM216.1 583.5h0.8v0.8h-0.8zM222.5 582.8h0.8v0.8h-0.8zM217.8 580.3h0.8v0.8h-0.8zM226.4 573.7h0.8v0.8h-0.8zM222.3 578.3h0.8v0.8h-0.8zM225.0 580.0h0.8v0.8h-0.8zM222.4 576.7h0.8v0.8h-0.8zM218.0 586.3h0.8v0.8h-0.8zM215.5 577.2h0.8v0.8h-0.8zM218.8 574.1h0.8v0.8h-0.8zM221.6 574.2h0.8v0.8h-0.8zM219.8 578.4h0.8v0.8h-0.8zM212.5 580.0h0.8v0.8h-0.8zM214.6 579.5h0.8v0.8h-0.8zM212.1 577.1h0.8v0.8h-0.8zM222.3 580.6h0.8v0.8h-0.8zM223.2 586.4h0.8v0.8h-0.8zM222.0 578.6h0.8v0.8h-0.8zM219.2 582.1h0.8v0.8h-0.8zM215.6 574.9h0.8v0.8h-0.8zM219.6 586.9h0.8v0.8h-0.8zM216.0 580.5h0.8v0.8h-0.8zM217.3 582.5h0.8v0.8h-0.8zM220.7 579.2h0.8v0.8h-0.8zM222.5 578.3h0.8v0.8h-0.8zM214.2 588.4h0.8v0.8h-0.8zM219.2 580.7h0.8v0.8h-0.8zM222.1 575.9h0.8v0.8h-0.8zM218.1 576.2h0.8v0.8h-0.8zM221.5 581.1h0.8v0.8h-0.8z" fill="#000" fill-opacity="0.55"/>
<ellipse cx="219.8" cy="579.0" rx="7.0" ry="8.5" fill="url(#g1)" fill-opacity="1.0"/>
<ellipse cx="220.0" cy="558" rx="5.2" ry="18" fill="url(#g2)" fill-opacity="1.0"/>
<ellipse cx="220.3" cy="556" rx="3.0" ry="12" fill="url(#g2)" fill-opacity="0.7"/>
<line x1="183.4" y1="522.2" x2="186.0" y2="522.2" stroke="#777" stroke-width="0.7"/>
<line x1="181.8" y1="521.0" x2="181.8" y2="522.8000000000001" stroke="#aaa" stroke-width="0.5"/>
<line x1="186.0" y1="589.3" x2="186.0" y2="591.9" stroke="#777" stroke-width="0.7"/>
<line x1="185.2" y1="593.0999999999999" x2="186.8" y2="593.0999999999999" stroke="#aaa" stroke-width="0.5"/>
<line x1="183.4" y1="538.975" x2="186.0" y2="538.975" stroke="#777" stroke-width="0.7"/>
<line x1="181.8" y1="537.775" x2="181.8" y2="539.575" stroke="#aaa" stroke-width="0.5"/>
<line x1="202.925" y1="589.3" x2="202.925" y2="591.9" stroke="#777" stroke-width="0.7"/>
<line x1="202.125" y1="593.0999999999999" x2="203.72500000000002" y2="593.0999999999999" stroke="#aaa" stroke-width="0.5"/>
<line x1="183.4" y1="555.75" x2="186.0" y2="555.75" stroke="#777" stroke-width="0.7"/>
<line x1="181.8" y1="554.55" x2="181.8" y2="556.35" stroke="#aaa" stroke-width="0.5"/>
<line x1="219.85" y1="589.3" x2="219.85" y2="591.9" stroke="#777" stroke-width="0.7"/>
<line x1="219.04999999999998" y1="593.0999999999999" x2="220.65" y2="593.0999999999999" stroke="#aaa" stroke-width="0.5"/>
<line x1="183.4" y1="572.525" x2="186.0" y2="572.525" stroke="#777" stroke-width="0.7"/>
<line x1="181.8" y1="571.3249999999999" x2="181.8" y2="573.125" stroke="#aaa" stroke-width="0.5"/>
<line x1="236.77499999999998" y1="589.3" x2="236.77499999999998" y2="591.9" stroke="#777" stroke-width="0.7"/>
<line x1="235.97499999999997" y1="593.0999999999999" x2="237.575" y2="593.0999999999999" stroke="#aaa" stroke-width="0.5"/>
<line x1="183.4" y1="589.3" x2="186.0" y2="589.3" stroke="#777" stroke-width="0.7"/>
<line x1="181.8" y1="588.0999999999999" x2="181.8" y2="589.9" stroke="#aaa" stroke-width="0.5"/>
<line x1="253.7" y1="589.3" x2="253.7" y2="591.9" stroke="#777" stroke-width="0.7"/>
<line x1="252.89999999999998" y1="593.0999999999999" x2="254.5" y2="593.0999999999999" stroke="#aaa" stroke-width="0.5"/>
<line x1="186.0" y1="522.2" x2="186.0" y2="589.3" stroke="#333" stroke-width="0.9"/>
<line x1="186.0" y1="589.3" x2="253.7" y2="589.3" stroke="#333" stroke-width="0.9"/>
<line x1="208.1" y1="522.2" x2="208.1" y2="589.3" stroke="#555" stroke-width="0.9"/>
<line x1="186.0" y1="571.8" x2="254.7" y2="571.8" stroke="#555" stroke-width="0.9"/>
<text transform="translate(218.6 517.0) scale(1 1.05)" font-size="10.8" text-anchor="middle" fill="#111" >After BMT</text>
<text transform="translate(212.5 530.8) scale(1 1.05)" font-size="9" text-anchor="start" fill="#111" >35.7±18.7%</text>
<text transform="translate(180.0,555.3) rotate(-90) scale(1 1.05)" font-size="10.8" text-anchor="middle" fill="#111">GFP</text>
<text transform="translate(219.2 607.4) scale(1 1.05)" font-size="10.6" text-anchor="middle" fill="#111" >CD45.2</text>
<path d="M452.4 439.6h0.8v0.8h-0.8zM447.3 438.8h0.8v0.8h-0.8zM444.6 442.8h0.8v0.8h-0.8zM452.9 449.8h0.8v0.8h-0.8zM442.5 450.6h0.8v0.8h-0.8zM453.2 456.1h0.8v0.8h-0.8zM455.6 438.4h0.8v0.8h-0.8zM453.8 448.4h0.8v0.8h-0.8zM453.0 442.8h0.8v0.8h-0.8zM458.5 447.6h0.8v0.8h-0.8zM448.5 436.7h0.8v0.8h-0.8zM450.1 439.1h0.8v0.8h-0.8zM444.1 456.3h0.8v0.8h-0.8zM451.1 452.6h0.8v0.8h-0.8zM456.9 451.2h0.8v0.8h-0.8zM449.3 440.3h0.8v0.8h-0.8zM450.6 447.7h0.8v0.8h-0.8zM450.7 445.3h0.8v0.8h-0.8zM452.1 438.7h0.8v0.8h-0.8zM456.7 440.2h0.8v0.8h-0.8zM452.0 442.0h0.8v0.8h-0.8zM458.1 443.8h0.8v0.8h-0.8zM446.8 444.9h0.8v0.8h-0.8zM455.8 439.9h0.8v0.8h-0.8zM444.9 443.9h0.8v0.8h-0.8zM455.2 430.1h0.8v0.8h-0.8zM456.0 460.0h0.8v0.8h-0.8zM450.5 452.3h0.8v0.8h-0.8zM450.8 436.3h0.8v0.8h-0.8zM449.3 450.5h0.8v0.8h-0.8zM445.9 445.3h0.8v0.8h-0.8zM448.1 449.2h0.8v0.8h-0.8zM463.7 447.4h0.8v0.8h-0.8zM444.9 456.6h0.8v0.8h-0.8zM449.9 444.6h0.8v0.8h-0.8zM453.9 451.4h0.8v0.8h-0.8zM452.5 449.0h0.8v0.8h-0.8zM452.3 440.0h0.8v0.8h-0.8zM455.3 452.0h0.8v0.8h-0.8zM447.5 436.9h0.8v0.8h-0.8zM448.4 448.0h0.8v0.8h-0.8zM458.4 448.3h0.8v0.8h-0.8zM451.7 448.4h0.8v0.8h-0.8zM443.8 444.9h0.8v0.8h-0.8zM452.1 451.0h0.8v0.8h-0.8zM455.5 456.5h0.8v0.8h-0.8zM448.0 444.5h0.8v0.8h-0.8zM449.2 449.8h0.8v0.8h-0.8zM461.4 448.0h0.8v0.8h-0.8zM452.2 441.7h0.8v0.8h-0.8zM445.0 457.2h0.8v0.8h-0.8zM451.0 455.2h0.8v0.8h-0.8zM455.5 444.1h0.8v0.8h-0.8zM452.7 441.7h0.8v0.8h-0.8zM454.6 446.1h0.8v0.8h-0.8zM455.4 454.2h0.8v0.8h-0.8zM448.5 451.6h0.8v0.8h-0.8zM453.6 443.9h0.8v0.8h-0.8zM452.8 454.2h0.8v0.8h-0.8zM452.2 452.6h0.8v0.8h-0.8zM453.2 454.3h0.8v0.8h-0.8zM450.8 445.0h0.8v0.8h-0.8zM454.6 433.7h0.8v0.8h-0.8zM448.8 455.9h0.8v0.8h-0.8zM447.7 457.7h0.8v0.8h-0.8zM459.5 444.1h0.8v0.8h-0.8zM447.7 449.3h0.8v0.8h-0.8zM456.0 457.1h0.8v0.8h-0.8zM459.1 442.9h0.8v0.8h-0.8zM455.8 444.0h0.8v0.8h-0.8zM456.9 449.7h0.8v0.8h-0.8zM458.7 446.5h0.8v0.8h-0.8zM455.6 439.6h0.8v0.8h-0.8zM446.6 449.9h0.8v0.8h-0.8zM452.0 452.1h0.8v0.8h-0.8zM463.0 443.3h0.8v0.8h-0.8zM445.5 440.8h0.8v0.8h-0.8zM448.4 453.7h0.8v0.8h-0.8zM453.4 445.2h0.8v0.8h-0.8zM454.9 446.0h0.8v0.8h-0.8zM452.8 446.8h0.8v0.8h-0.8zM444.7 451.7h0.8v0.8h-0.8zM452.4 459.9h0.8v0.8h-0.8zM452.0 443.5h0.8v0.8h-0.8zM452.4 442.7h0.8v0.8h-0.8zM451.3 444.8h0.8v0.8h-0.8zM453.2 441.6h0.8v0.8h-0.8zM451.0 444.5h0.8v0.8h-0.8zM446.6 446.5h0.8v0.8h-0.8zM455.0 451.2h0.8v0.8h-0.8zM453.1 446.2h0.8v0.8h-0.8zM456.3 445.3h0.8v0.8h-0.8zM454.9 436.8h0.8v0.8h-0.8zM445.4 442.7h0.8v0.8h-0.8zM457.2 445.4h0.8v0.8h-0.8zM453.8 440.5h0.8v0.8h-0.8zM443.9 463.2h0.8v0.8h-0.8zM459.9 457.2h0.8v0.8h-0.8zM451.6 443.0h0.8v0.8h-0.8zM452.8 445.5h0.8v0.8h-0.8zM449.2 432.4h0.8v0.8h-0.8zM452.7 434.0h0.8v0.8h-0.8zM448.9 437.9h0.8v0.8h-0.8zM461.7 439.4h0.8v0.8h-0.8zM449.5 449.1h0.8v0.8h-0.8zM449.9 448.3h0.8v0.8h-0.8zM456.2 443.2h0.8v0.8h-0.8zM454.2 446.1h0.8v0.8h-0.8zM444.9 448.5h0.8v0.8h-0.8zM446.1 452.9h0.8v0.8h-0.8zM451.6 447.9h0.8v0.8h-0.8zM456.6 442.0h0.8v0.8h-0.8zM447.5 455.2h0.8v0.8h-0.8zM455.2 449.4h0.8v0.8h-0.8zM441.4 447.0h0.8v0.8h-0.8zM446.7 443.3h0.8v0.8h-0.8zM443.2 437.2h0.8v0.8h-0.8zM449.3 449.1h0.8v0.8h-0.8zM449.0 445.8h0.8v0.8h-0.8zM452.0 454.7h0.8v0.8h-0.8zM448.6 447.6h0.8v0.8h-0.8zM465.6 446.7h0.8v0.8h-0.8zM455.8 439.9h0.8v0.8h-0.8zM446.2 444.2h0.8v0.8h-0.8zM467.3 443.1h0.8v0.8h-0.8zM458.8 443.9h0.8v0.8h-0.8zM445.2 435.8h0.8v0.8h-0.8zM452.4 453.0h0.8v0.8h-0.8zM447.5 444.4h0.8v0.8h-0.8zM445.9 442.5h0.8v0.8h-0.8zM456.8 443.6h0.8v0.8h-0.8zM446.2 450.4h0.8v0.8h-0.8zM453.0 446.5h0.8v0.8h-0.8zM462.2 448.5h0.8v0.8h-0.8zM457.6 439.5h0.8v0.8h-0.8zM451.3 454.2h0.8v0.8h-0.8zM455.5 452.1h0.8v0.8h-0.8zM444.0 445.1h0.8v0.8h-0.8zM460.3 455.4h0.8v0.8h-0.8zM458.7 451.4h0.8v0.8h-0.8zM458.5 430.4h0.8v0.8h-0.8zM452.1 451.5h0.8v0.8h-0.8zM458.0 441.1h0.8v0.8h-0.8zM457.1 451.4h0.8v0.8h-0.8zM448.9 456.1h0.8v0.8h-0.8zM458.3 452.0h0.8v0.8h-0.8zM449.2 448.4h0.8v0.8h-0.8zM451.5 456.5h0.8v0.8h-0.8zM464.5 441.7h0.8v0.8h-0.8zM462.1 449.4h0.8v0.8h-0.8zM448.1 442.5h0.8v0.8h-0.8zM459.7 448.6h0.8v0.8h-0.8zM448.2 445.6h0.8v0.8h-0.8zM449.6 446.0h0.8v0.8h-0.8zM461.1 442.7h0.8v0.8h-0.8zM450.0 429.0h0.8v0.8h-0.8zM454.3 452.3h0.8v0.8h-0.8zM462.5 443.1h0.8v0.8h-0.8zM450.1 444.4h0.8v0.8h-0.8zM445.1 446.7h0.8v0.8h-0.8zM447.5 445.4h0.8v0.8h-0.8zM452.5 451.2h0.8v0.8h-0.8zM452.0 460.8h0.8v0.8h-0.8zM453.4 449.8h0.8v0.8h-0.8zM454.4 446.2h0.8v0.8h-0.8zM456.8 447.7h0.8v0.8h-0.8zM444.6 443.6h0.8v0.8h-0.8zM459.5 437.3h0.8v0.8h-0.8zM461.0 447.4h0.8v0.8h-0.8zM453.1 454.0h0.8v0.8h-0.8zM452.9 444.0h0.8v0.8h-0.8zM445.4 450.8h0.8v0.8h-0.8zM452.2 441.2h0.8v0.8h-0.8zM457.9 451.9h0.8v0.8h-0.8zM463.5 448.3h0.8v0.8h-0.8zM445.1 447.3h0.8v0.8h-0.8zM455.7 451.9h0.8v0.8h-0.8zM444.7 449.5h0.8v0.8h-0.8zM455.3 449.0h0.8v0.8h-0.8zM443.0 444.0h0.8v0.8h-0.8zM451.1 445.4h0.8v0.8h-0.8zM456.6 444.4h0.8v0.8h-0.8zM441.9 434.3h0.8v0.8h-0.8zM454.2 442.0h0.8v0.8h-0.8zM451.5 453.2h0.8v0.8h-0.8zM448.9 446.5h0.8v0.8h-0.8zM444.0 439.6h0.8v0.8h-0.8zM454.8 453.5h0.8v0.8h-0.8zM448.2 445.6h0.8v0.8h-0.8zM453.5 444.1h0.8v0.8h-0.8zM452.1 444.4h0.8v0.8h-0.8zM454.9 443.7h0.8v0.8h-0.8zM449.2 438.7h0.8v0.8h-0.8zM447.6 438.0h0.8v0.8h-0.8zM451.0 452.5h0.8v0.8h-0.8zM444.8 441.7h0.8v0.8h-0.8zM447.6 449.3h0.8v0.8h-0.8zM450.1 444.8h0.8v0.8h-0.8zM446.6 445.1h0.8v0.8h-0.8zM449.8 441.9h0.8v0.8h-0.8zM459.2 449.5h0.8v0.8h-0.8zM450.9 448.4h0.8v0.8h-0.8zM463.9 450.2h0.8v0.8h-0.8zM448.8 446.4h0.8v0.8h-0.8zM457.8 449.3h0.8v0.8h-0.8zM450.2 447.2h0.8v0.8h-0.8zM445.7 444.7h0.8v0.8h-0.8zM449.5 445.2h0.8v0.8h-0.8zM459.0 446.8h0.8v0.8h-0.8zM457.9 446.6h0.8v0.8h-0.8zM443.7 453.7h0.8v0.8h-0.8zM448.8 445.9h0.8v0.8h-0.8zM457.6 454.7h0.8v0.8h-0.8zM452.6 454.0h0.8v0.8h-0.8zM449.1 450.3h0.8v0.8h-0.8zM446.9 452.3h0.8v0.8h-0.8zM448.7 450.4h0.8v0.8h-0.8zM445.3 454.9h0.8v0.8h-0.8zM460.4 445.1h0.8v0.8h-0.8zM452.1 441.0h0.8v0.8h-0.8zM450.7 438.2h0.8v0.8h-0.8zM455.5 446.2h0.8v0.8h-0.8zM457.9 446.6h0.8v0.8h-0.8zM450.5 441.8h0.8v0.8h-0.8zM455.1 445.9h0.8v0.8h-0.8zM445.3 438.0h0.8v0.8h-0.8zM456.8 446.0h0.8v0.8h-0.8zM451.3 443.4h0.8v0.8h-0.8zM448.9 446.5h0.8v0.8h-0.8zM452.8 439.7h0.8v0.8h-0.8zM464.9 451.9h0.8v0.8h-0.8zM441.5 447.0h0.8v0.8h-0.8zM457.7 442.8h0.8v0.8h-0.8zM444.4 449.7h0.8v0.8h-0.8zM448.4 446.5h0.8v0.8h-0.8zM460.5 446.6h0.8v0.8h-0.8zM458.8 442.1h0.8v0.8h-0.8zM442.0 444.3h0.8v0.8h-0.8zM449.6 450.5h0.8v0.8h-0.8zM454.1 435.1h0.8v0.8h-0.8zM445.7 444.0h0.8v0.8h-0.8zM447.8 442.8h0.8v0.8h-0.8zM449.9 447.5h0.8v0.8h-0.8zM443.7 441.2h0.8v0.8h-0.8zM446.8 453.5h0.8v0.8h-0.8zM450.8 438.0h0.8v0.8h-0.8zM454.3 451.9h0.8v0.8h-0.8zM443.1 439.5h0.8v0.8h-0.8zM454.1 446.8h0.8v0.8h-0.8zM455.0 455.8h0.8v0.8h-0.8zM455.3 452.3h0.8v0.8h-0.8zM449.1 454.6h0.8v0.8h-0.8zM448.0 448.5h0.8v0.8h-0.8zM440.9 444.2h0.8v0.8h-0.8zM455.9 441.2h0.8v0.8h-0.8zM449.2 434.1h0.8v0.8h-0.8zM449.9 439.0h0.8v0.8h-0.8zM452.0 443.8h0.8v0.8h-0.8zM448.0 444.6h0.8v0.8h-0.8zM449.5 446.5h0.8v0.8h-0.8zM450.3 453.1h0.8v0.8h-0.8zM457.4 432.1h0.8v0.8h-0.8zM458.9 445.3h0.8v0.8h-0.8zM453.6 441.3h0.8v0.8h-0.8zM454.9 449.8h0.8v0.8h-0.8zM448.7 440.1h0.8v0.8h-0.8zM454.5 449.1h0.8v0.8h-0.8zM446.9 434.2h0.8v0.8h-0.8zM445.8 448.8h0.8v0.8h-0.8zM458.5 440.9h0.8v0.8h-0.8zM448.7 440.3h0.8v0.8h-0.8zM453.6 442.0h0.8v0.8h-0.8zM460.7 449.9h0.8v0.8h-0.8zM450.7 444.2h0.8v0.8h-0.8zM457.1 444.2h0.8v0.8h-0.8zM449.7 447.1h0.8v0.8h-0.8zM457.3 454.7h0.8v0.8h-0.8zM449.9 439.5h0.8v0.8h-0.8zM446.9 445.5h0.8v0.8h-0.8zM455.1 431.5h0.8v0.8h-0.8zM455.2 448.8h0.8v0.8h-0.8zM452.8 438.0h0.8v0.8h-0.8zM452.3 443.5h0.8v0.8h-0.8zM446.8 449.9h0.8v0.8h-0.8zM458.4 447.5h0.8v0.8h-0.8zM454.8 452.2h0.8v0.8h-0.8zM451.9 444.1h0.8v0.8h-0.8zM459.7 442.9h0.8v0.8h-0.8zM450.2 448.4h0.8v0.8h-0.8zM449.6 441.0h0.8v0.8h-0.8zM457.6 446.4h0.8v0.8h-0.8zM448.1 443.2h0.8v0.8h-0.8zM454.9 451.1h0.8v0.8h-0.8zM452.9 453.0h0.8v0.8h-0.8zM451.7 455.5h0.8v0.8h-0.8zM456.6 439.9h0.8v0.8h-0.8zM451.3 448.3h0.8v0.8h-0.8zM451.7 440.8h0.8v0.8h-0.8zM454.3 446.1h0.8v0.8h-0.8zM444.0 439.2h0.8v0.8h-0.8zM449.8 451.7h0.8v0.8h-0.8zM451.6 447.5h0.8v0.8h-0.8zM456.8 445.2h0.8v0.8h-0.8zM451.9 446.0h0.8v0.8h-0.8zM456.6 442.7h0.8v0.8h-0.8zM453.9 442.3h0.8v0.8h-0.8zM452.3 452.7h0.8v0.8h-0.8zM447.7 449.2h0.8v0.8h-0.8zM452.3 447.7h0.8v0.8h-0.8zM454.6 446.9h0.8v0.8h-0.8zM454.5 456.7h0.8v0.8h-0.8zM448.3 440.3h0.8v0.8h-0.8zM455.8 448.7h0.8v0.8h-0.8zM462.2 442.9h0.8v0.8h-0.8zM455.6 443.3h0.8v0.8h-0.8zM449.4 443.1h0.8v0.8h-0.8zM447.7 441.1h0.8v0.8h-0.8zM450.2 445.5h0.8v0.8h-0.8zM452.2 451.0h0.8v0.8h-0.8zM447.2 445.9h0.8v0.8h-0.8zM447.4 451.1h0.8v0.8h-0.8zM447.2 444.5h0.8v0.8h-0.8zM447.9 452.5h0.8v0.8h-0.8zM445.7 440.0h0.8v0.8h-0.8zM449.9 444.4h0.8v0.8h-0.8zM447.2 452.8h0.8v0.8h-0.8zM449.1 434.6h0.8v0.8h-0.8zM450.9 439.0h0.8v0.8h-0.8zM448.5 443.7h0.8v0.8h-0.8zM447.3 444.1h0.8v0.8h-0.8zM449.9 449.9h0.8v0.8h-0.8zM464.8 442.5h0.8v0.8h-0.8zM449.5 452.8h0.8v0.8h-0.8zM460.6 450.9h0.8v0.8h-0.8zM450.6 457.4h0.8v0.8h-0.8zM452.3 453.2h0.8v0.8h-0.8zM449.1 439.5h0.8v0.8h-0.8zM458.7 441.4h0.8v0.8h-0.8zM446.6 447.2h0.8v0.8h-0.8zM447.1 450.2h0.8v0.8h-0.8zM452.3 445.3h0.8v0.8h-0.8zM449.0 454.7h0.8v0.8h-0.8zM458.9 452.8h0.8v0.8h-0.8zM445.2 455.8h0.8v0.8h-0.8zM452.4 456.1h0.8v0.8h-0.8zM454.6 442.6h0.8v0.8h-0.8zM443.4 442.7h0.8v0.8h-0.8zM458.0 443.9h0.8v0.8h-0.8zM460.3 439.2h0.8v0.8h-0.8zM455.2 445.8h0.8v0.8h-0.8zM444.8 448.6h0.8v0.8h-0.8zM449.9 444.8h0.8v0.8h-0.8zM441.3 440.8h0.8v0.8h-0.8zM448.5 445.6h0.8v0.8h-0.8zM447.7 458.0h0.8v0.8h-0.8zM449.8 447.6h0.8v0.8h-0.8zM450.2 453.6h0.8v0.8h-0.8zM454.8 452.1h0.8v0.8h-0.8zM444.1 447.4h0.8v0.8h-0.8zM451.1 450.1h0.8v0.8h-0.8zM448.5 447.3h0.8v0.8h-0.8zM446.9 444.4h0.8v0.8h-0.8zM453.7 443.6h0.8v0.8h-0.8zM447.6 445.7h0.8v0.8h-0.8zM453.5 448.8h0.8v0.8h-0.8zM445.8 444.0h0.8v0.8h-0.8zM445.9 440.8h0.8v0.8h-0.8zM464.0 453.3h0.8v0.8h-0.8zM455.4 444.8h0.8v0.8h-0.8zM456.2 455.2h0.8v0.8h-0.8zM458.1 450.6h0.8v0.8h-0.8zM446.8 460.0h0.8v0.8h-0.8zM455.7 451.4h0.8v0.8h-0.8zM453.6 448.6h0.8v0.8h-0.8zM449.8 436.9h0.8v0.8h-0.8zM460.9 461.1h0.8v0.8h-0.8zM454.3 450.3h0.8v0.8h-0.8zM451.7 450.8h0.8v0.8h-0.8zM451.0 446.0h0.8v0.8h-0.8zM455.0 436.8h0.8v0.8h-0.8zM458.9 444.3h0.8v0.8h-0.8zM454.6 449.9h0.8v0.8h-0.8zM459.9 456.0h0.8v0.8h-0.8zM445.2 441.0h0.8v0.8h-0.8zM452.6 437.2h0.8v0.8h-0.8zM454.9 445.8h0.8v0.8h-0.8zM447.8 451.2h0.8v0.8h-0.8zM447.0 442.3h0.8v0.8h-0.8zM451.7 451.4h0.8v0.8h-0.8zM450.7 444.5h0.8v0.8h-0.8zM452.7 444.4h0.8v0.8h-0.8zM442.3 451.7h0.8v0.8h-0.8zM454.2 452.7h0.8v0.8h-0.8zM452.4 449.1h0.8v0.8h-0.8zM443.2 438.7h0.8v0.8h-0.8zM441.9 453.1h0.8v0.8h-0.8zM448.2 454.0h0.8v0.8h-0.8zM453.9 443.9h0.8v0.8h-0.8zM451.2 442.0h0.8v0.8h-0.8zM449.4 448.4h0.8v0.8h-0.8zM455.1 443.7h0.8v0.8h-0.8zM443.6 452.9h0.8v0.8h-0.8zM446.0 450.5h0.8v0.8h-0.8zM443.9 441.3h0.8v0.8h-0.8zM441.5 450.2h0.8v0.8h-0.8zM453.9 464.0h0.8v0.8h-0.8zM461.2 447.2h0.8v0.8h-0.8zM441.1 445.2h0.8v0.8h-0.8zM452.9 448.5h0.8v0.8h-0.8zM452.4 440.8h0.8v0.8h-0.8zM450.0 457.2h0.8v0.8h-0.8zM448.8 444.3h0.8v0.8h-0.8zM445.5 443.0h0.8v0.8h-0.8zM457.7 448.5h0.8v0.8h-0.8zM449.0 444.4h0.8v0.8h-0.8zM455.7 443.2h0.8v0.8h-0.8zM447.5 444.7h0.8v0.8h-0.8zM447.4 450.8h0.8v0.8h-0.8zM451.5 452.2h0.8v0.8h-0.8zM448.8 460.4h0.8v0.8h-0.8zM454.4 445.3h0.8v0.8h-0.8zM453.1 434.7h0.8v0.8h-0.8zM445.7 434.9h0.8v0.8h-0.8zM450.1 458.8h0.8v0.8h-0.8zM453.3 438.2h0.8v0.8h-0.8zM443.6 448.6h0.8v0.8h-0.8zM454.8 445.3h0.8v0.8h-0.8zM459.0 447.9h0.8v0.8h-0.8zM461.9 451.3h0.8v0.8h-0.8zM462.1 431.5h0.8v0.8h-0.8zM455.4 450.9h0.8v0.8h-0.8zM459.2 449.9h0.8v0.8h-0.8zM453.6 448.3h0.8v0.8h-0.8zM452.6 449.7h0.8v0.8h-0.8zM459.8 437.4h0.8v0.8h-0.8zM449.2 438.2h0.8v0.8h-0.8zM448.5 448.1h0.8v0.8h-0.8zM452.5 448.7h0.8v0.8h-0.8zM455.3 448.9h0.8v0.8h-0.8zM449.8 445.8h0.8v0.8h-0.8zM446.1 444.0h0.8v0.8h-0.8zM451.0 448.6h0.8v0.8h-0.8zM443.4 452.7h0.8v0.8h-0.8zM451.1 437.7h0.8v0.8h-0.8zM450.7 449.7h0.8v0.8h-0.8zM452.0 444.2h0.8v0.8h-0.8zM446.9 447.7h0.8v0.8h-0.8zM452.3 448.2h0.8v0.8h-0.8zM449.5 453.4h0.8v0.8h-0.8zM442.2 446.5h0.8v0.8h-0.8zM443.1 435.5h0.8v0.8h-0.8zM452.4 451.2h0.8v0.8h-0.8zM450.0 449.0h0.8v0.8h-0.8zM450.5 453.0h0.8v0.8h-0.8zM448.4 449.5h0.8v0.8h-0.8zM453.1 437.6h0.8v0.8h-0.8zM457.4 443.2h0.8v0.8h-0.8zM445.6 442.8h0.8v0.8h-0.8zM455.8 444.2h0.8v0.8h-0.8zM455.4 441.2h0.8v0.8h-0.8zM452.8 436.8h0.8v0.8h-0.8zM449.9 453.8h0.8v0.8h-0.8zM448.7 447.5h0.8v0.8h-0.8zM442.1 455.8h0.8v0.8h-0.8zM450.3 449.0h0.8v0.8h-0.8zM449.4 440.7h0.8v0.8h-0.8zM449.6 444.6h0.8v0.8h-0.8zM446.1 445.6h0.8v0.8h-0.8zM446.4 443.7h0.8v0.8h-0.8zM453.0 447.7h0.8v0.8h-0.8zM450.2 448.8h0.8v0.8h-0.8zM460.1 448.5h0.8v0.8h-0.8zM452.0 446.0h0.8v0.8h-0.8zM453.1 450.1h0.8v0.8h-0.8zM456.2 449.1h0.8v0.8h-0.8zM448.3 445.8h0.8v0.8h-0.8zM447.5 454.0h0.8v0.8h-0.8zM447.9 437.4h0.8v0.8h-0.8zM450.2 441.7h0.8v0.8h-0.8zM452.3 447.3h0.8v0.8h-0.8zM447.0 437.9h0.8v0.8h-0.8zM449.6 439.2h0.8v0.8h-0.8zM450.3 447.4h0.8v0.8h-0.8zM449.3 447.4h0.8v0.8h-0.8zM449.2 455.7h0.8v0.8h-0.8zM442.3 440.4h0.8v0.8h-0.8zM457.0 439.6h0.8v0.8h-0.8zM454.5 445.2h0.8v0.8h-0.8zM451.3 438.6h0.8v0.8h-0.8zM449.2 445.6h0.8v0.8h-0.8zM449.0 433.9h0.8v0.8h-0.8zM452.1 444.5h0.8v0.8h-0.8zM443.6 452.8h0.8v0.8h-0.8zM450.6 440.1h0.8v0.8h-0.8zM446.7 448.1h0.8v0.8h-0.8zM448.4 450.4h0.8v0.8h-0.8zM444.9 447.9h0.8v0.8h-0.8zM453.5 449.3h0.8v0.8h-0.8zM447.1 441.1h0.8v0.8h-0.8zM445.4 446.9h0.8v0.8h-0.8zM440.7 461.9h0.8v0.8h-0.8zM449.8 453.1h0.8v0.8h-0.8zM449.6 453.7h0.8v0.8h-0.8zM449.9 452.0h0.8v0.8h-0.8zM456.2 448.0h0.8v0.8h-0.8zM444.8 448.7h0.8v0.8h-0.8zM451.9 444.7h0.8v0.8h-0.8zM450.0 450.3h0.8v0.8h-0.8zM440.7 449.5h0.8v0.8h-0.8zM459.3 442.7h0.8v0.8h-0.8zM457.3 443.9h0.8v0.8h-0.8zM449.6 444.5h0.8v0.8h-0.8zM451.0 442.2h0.8v0.8h-0.8zM448.1 445.1h0.8v0.8h-0.8zM446.5 446.1h0.8v0.8h-0.8zM456.3 441.8h0.8v0.8h-0.8zM452.1 442.2h0.8v0.8h-0.8zM445.3 446.3h0.8v0.8h-0.8zM449.7 451.9h0.8v0.8h-0.8zM454.6 446.9h0.8v0.8h-0.8zM447.9 453.9h0.8v0.8h-0.8zM444.5 442.2h0.8v0.8h-0.8zM454.8 448.6h0.8v0.8h-0.8zM454.2 445.2h0.8v0.8h-0.8zM454.8 452.8h0.8v0.8h-0.8zM441.5 449.3h0.8v0.8h-0.8zM456.0 440.7h0.8v0.8h-0.8zM446.3 448.4h0.8v0.8h-0.8zM454.2 446.3h0.8v0.8h-0.8zM442.9 447.5h0.8v0.8h-0.8zM450.6 444.3h0.8v0.8h-0.8zM456.3 434.6h0.8v0.8h-0.8zM451.6 443.1h0.8v0.8h-0.8zM454.0 444.6h0.8v0.8h-0.8zM459.7 447.4h0.8v0.8h-0.8zM448.4 437.4h0.8v0.8h-0.8zM449.8 446.1h0.8v0.8h-0.8zM459.0 448.4h0.8v0.8h-0.8zM452.0 441.3h0.8v0.8h-0.8zM452.2 441.1h0.8v0.8h-0.8zM444.1 448.8h0.8v0.8h-0.8zM448.9 439.0h0.8v0.8h-0.8zM456.8 453.0h0.8v0.8h-0.8zM453.4 437.3h0.8v0.8h-0.8zM446.9 441.0h0.8v0.8h-0.8zM452.4 465.0h0.8v0.8h-0.8zM455.7 445.7h0.8v0.8h-0.8zM446.9 438.7h0.8v0.8h-0.8zM447.5 447.3h0.8v0.8h-0.8zM449.9 449.1h0.8v0.8h-0.8zM453.8 440.1h0.8v0.8h-0.8zM455.3 446.5h0.8v0.8h-0.8zM459.2 445.6h0.8v0.8h-0.8zM449.3 445.7h0.8v0.8h-0.8zM457.3 449.2h0.8v0.8h-0.8zM457.0 452.0h0.8v0.8h-0.8zM452.8 459.1h0.8v0.8h-0.8zM450.7 445.1h0.8v0.8h-0.8zM456.7 440.0h0.8v0.8h-0.8zM452.8 451.8h0.8v0.8h-0.8zM446.7 436.0h0.8v0.8h-0.8zM444.1 452.5h0.8v0.8h-0.8zM463.7 441.5h0.8v0.8h-0.8zM444.6 439.4h0.8v0.8h-0.8zM459.0 450.5h0.8v0.8h-0.8zM454.6 442.4h0.8v0.8h-0.8zM454.5 442.3h0.8v0.8h-0.8zM454.0 442.2h0.8v0.8h-0.8zM444.9 443.9h0.8v0.8h-0.8zM453.3 448.1h0.8v0.8h-0.8zM448.5 451.3h0.8v0.8h-0.8zM443.2 435.5h0.8v0.8h-0.8zM454.2 445.5h0.8v0.8h-0.8zM451.0 443.8h0.8v0.8h-0.8zM453.9 447.5h0.8v0.8h-0.8zM458.2 441.1h0.8v0.8h-0.8zM444.9 445.6h0.8v0.8h-0.8zM450.0 444.6h0.8v0.8h-0.8zM459.7 448.3h0.8v0.8h-0.8zM457.5 449.6h0.8v0.8h-0.8zM452.6 448.5h0.8v0.8h-0.8zM456.8 448.8h0.8v0.8h-0.8zM454.6 446.0h0.8v0.8h-0.8zM447.6 448.2h0.8v0.8h-0.8zM449.3 449.5h0.8v0.8h-0.8zM458.0 454.6h0.8v0.8h-0.8zM453.3 440.5h0.8v0.8h-0.8zM449.3 439.9h0.8v0.8h-0.8zM453.4 446.4h0.8v0.8h-0.8zM452.2 436.1h0.8v0.8h-0.8zM443.8 434.2h0.8v0.8h-0.8zM458.5 449.0h0.8v0.8h-0.8zM451.7 444.3h0.8v0.8h-0.8zM442.3 444.2h0.8v0.8h-0.8zM449.3 441.7h0.8v0.8h-0.8zM456.5 435.2h0.8v0.8h-0.8zM452.2 450.7h0.8v0.8h-0.8zM455.5 438.0h0.8v0.8h-0.8zM458.6 445.4h0.8v0.8h-0.8zM450.1 448.1h0.8v0.8h-0.8zM456.9 447.0h0.8v0.8h-0.8zM449.7 447.5h0.8v0.8h-0.8zM453.4 457.6h0.8v0.8h-0.8zM451.6 441.2h0.8v0.8h-0.8zM461.2 454.5h0.8v0.8h-0.8zM459.0 441.1h0.8v0.8h-0.8zM448.5 438.7h0.8v0.8h-0.8zM450.9 453.6h0.8v0.8h-0.8zM456.3 446.6h0.8v0.8h-0.8zM452.7 449.0h0.8v0.8h-0.8zM450.8 440.5h0.8v0.8h-0.8zM448.0 455.4h0.8v0.8h-0.8zM446.7 440.0h0.8v0.8h-0.8zM454.4 444.5h0.8v0.8h-0.8zM449.8 447.2h0.8v0.8h-0.8zM450.9 437.2h0.8v0.8h-0.8zM456.4 447.5h0.8v0.8h-0.8zM460.3 451.0h0.8v0.8h-0.8zM448.6 443.9h0.8v0.8h-0.8zM447.9 434.2h0.8v0.8h-0.8zM455.3 442.6h0.8v0.8h-0.8zM456.6 447.3h0.8v0.8h-0.8zM451.0 455.2h0.8v0.8h-0.8zM446.8 456.0h0.8v0.8h-0.8zM449.7 458.2h0.8v0.8h-0.8zM457.6 443.5h0.8v0.8h-0.8zM460.6 448.7h0.8v0.8h-0.8zM453.4 444.1h0.8v0.8h-0.8zM451.4 444.1h0.8v0.8h-0.8zM449.9 450.7h0.8v0.8h-0.8zM455.8 453.2h0.8v0.8h-0.8zM457.8 445.9h0.8v0.8h-0.8zM455.5 445.0h0.8v0.8h-0.8zM454.6 449.8h0.8v0.8h-0.8zM453.6 442.0h0.8v0.8h-0.8zM445.6 455.8h0.8v0.8h-0.8zM447.6 443.0h0.8v0.8h-0.8zM453.7 444.3h0.8v0.8h-0.8zM453.9 453.9h0.8v0.8h-0.8zM443.8 446.9h0.8v0.8h-0.8zM454.8 438.7h0.8v0.8h-0.8zM455.5 454.5h0.8v0.8h-0.8zM451.9 449.0h0.8v0.8h-0.8zM450.2 451.8h0.8v0.8h-0.8zM449.1 446.4h0.8v0.8h-0.8zM448.3 442.4h0.8v0.8h-0.8zM457.6 446.1h0.8v0.8h-0.8zM456.3 437.6h0.8v0.8h-0.8zM445.6 441.4h0.8v0.8h-0.8zM461.5 452.8h0.8v0.8h-0.8zM463.2 443.9h0.8v0.8h-0.8zM454.9 448.4h0.8v0.8h-0.8zM450.4 449.7h0.8v0.8h-0.8zM451.6 449.0h0.8v0.8h-0.8zM442.7 440.6h0.8v0.8h-0.8zM446.7 455.6h0.8v0.8h-0.8zM456.3 441.1h0.8v0.8h-0.8zM454.3 443.3h0.8v0.8h-0.8zM446.0 441.3h0.8v0.8h-0.8zM467.0 446.9h0.8v0.8h-0.8zM451.3 453.2h0.8v0.8h-0.8zM453.2 440.3h0.8v0.8h-0.8zM462.8 458.5h0.8v0.8h-0.8zM455.8 441.7h0.8v0.8h-0.8zM451.5 447.0h0.8v0.8h-0.8zM446.1 460.9h0.8v0.8h-0.8zM451.8 443.3h0.8v0.8h-0.8zM450.4 444.6h0.8v0.8h-0.8zM457.7 447.6h0.8v0.8h-0.8zM454.0 446.0h0.8v0.8h-0.8zM442.8 449.6h0.8v0.8h-0.8zM455.3 440.7h0.8v0.8h-0.8zM446.0 443.2h0.8v0.8h-0.8zM445.0 432.7h0.8v0.8h-0.8zM449.7 443.1h0.8v0.8h-0.8zM452.4 453.0h0.8v0.8h-0.8zM447.1 437.9h0.8v0.8h-0.8zM451.2 450.1h0.8v0.8h-0.8zM459.1 451.6h0.8v0.8h-0.8zM452.4 446.7h0.8v0.8h-0.8zM442.9 450.2h0.8v0.8h-0.8zM455.8 446.0h0.8v0.8h-0.8zM450.2 448.7h0.8v0.8h-0.8zM454.0 449.2h0.8v0.8h-0.8zM453.9 438.0h0.8v0.8h-0.8zM448.9 437.3h0.8v0.8h-0.8zM455.8 460.6h0.8v0.8h-0.8zM447.7 445.6h0.8v0.8h-0.8zM453.0 442.5h0.8v0.8h-0.8zM460.4 447.5h0.8v0.8h-0.8zM462.8 458.9h0.8v0.8h-0.8zM454.2 442.2h0.8v0.8h-0.8zM458.5 444.9h0.8v0.8h-0.8zM447.6 445.2h0.8v0.8h-0.8zM457.5 442.0h0.8v0.8h-0.8zM450.6 451.2h0.8v0.8h-0.8zM450.3 451.3h0.8v0.8h-0.8zM458.0 443.7h0.8v0.8h-0.8zM445.7 439.9h0.8v0.8h-0.8zM458.2 449.4h0.8v0.8h-0.8zM452.1 444.2h0.8v0.8h-0.8zM457.2 443.8h0.8v0.8h-0.8zM465.7 448.1h0.8v0.8h-0.8zM443.5 452.2h0.8v0.8h-0.8zM453.0 446.3h0.8v0.8h-0.8zM450.8 452.9h0.8v0.8h-0.8zM449.2 454.9h0.8v0.8h-0.8zM447.8 451.3h0.8v0.8h-0.8zM444.1 451.7h0.8v0.8h-0.8zM446.7 445.1h0.8v0.8h-0.8zM455.6 442.1h0.8v0.8h-0.8zM454.4 446.4h0.8v0.8h-0.8zM458.4 451.3h0.8v0.8h-0.8zM453.0 445.3h0.8v0.8h-0.8zM447.1 454.1h0.8v0.8h-0.8zM450.5 439.5h0.8v0.8h-0.8zM447.6 436.0h0.8v0.8h-0.8zM447.2 443.9h0.8v0.8h-0.8zM452.9 451.4h0.8v0.8h-0.8zM455.9 436.4h0.8v0.8h-0.8zM449.2 449.6h0.8v0.8h-0.8zM453.4 446.2h0.8v0.8h-0.8zM447.6 450.2h0.8v0.8h-0.8zM451.2 445.0h0.8v0.8h-0.8zM451.1 445.1h0.8v0.8h-0.8zM453.2 452.3h0.8v0.8h-0.8zM452.0 442.9h0.8v0.8h-0.8zM451.1 445.5h0.8v0.8h-0.8zM454.2 450.5h0.8v0.8h-0.8zM460.1 451.2h0.8v0.8h-0.8zM443.0 441.7h0.8v0.8h-0.8zM445.2 447.9h0.8v0.8h-0.8zM463.6 448.8h0.8v0.8h-0.8zM448.8 453.9h0.8v0.8h-0.8zM454.8 441.9h0.8v0.8h-0.8zM446.7 454.4h0.8v0.8h-0.8zM455.5 434.9h0.8v0.8h-0.8zM447.8 449.4h0.8v0.8h-0.8zM444.7 446.3h0.8v0.8h-0.8zM447.1 437.2h0.8v0.8h-0.8zM449.0 443.4h0.8v0.8h-0.8zM453.0 436.9h0.8v0.8h-0.8zM452.9 444.3h0.8v0.8h-0.8zM443.4 452.9h0.8v0.8h-0.8zM449.3 448.6h0.8v0.8h-0.8zM459.6 448.5h0.8v0.8h-0.8zM456.4 447.5h0.8v0.8h-0.8zM448.6 447.4h0.8v0.8h-0.8zM443.5 448.9h0.8v0.8h-0.8zM455.8 448.7h0.8v0.8h-0.8zM448.1 439.7h0.8v0.8h-0.8zM447.8 444.7h0.8v0.8h-0.8zM444.3 456.8h0.8v0.8h-0.8zM447.4 447.0h0.8v0.8h-0.8zM449.2 447.0h0.8v0.8h-0.8zM451.4 446.1h0.8v0.8h-0.8zM453.6 443.4h0.8v0.8h-0.8zM455.8 447.5h0.8v0.8h-0.8zM451.3 446.4h0.8v0.8h-0.8zM457.0 446.1h0.8v0.8h-0.8zM459.6 447.0h0.8v0.8h-0.8zM452.8 446.3h0.8v0.8h-0.8zM453.1 448.8h0.8v0.8h-0.8zM448.3 450.6h0.8v0.8h-0.8zM464.8 449.3h0.8v0.8h-0.8zM452.2 442.0h0.8v0.8h-0.8zM447.6 441.8h0.8v0.8h-0.8zM452.9 442.6h0.8v0.8h-0.8zM459.8 444.0h0.8v0.8h-0.8zM447.0 441.4h0.8v0.8h-0.8zM451.1 445.5h0.8v0.8h-0.8zM456.3 442.4h0.8v0.8h-0.8zM453.3 451.5h0.8v0.8h-0.8zM450.1 436.8h0.8v0.8h-0.8zM452.8 451.9h0.8v0.8h-0.8zM453.6 446.4h0.8v0.8h-0.8zM441.6 455.1h0.8v0.8h-0.8zM450.6 439.8h0.8v0.8h-0.8zM449.8 447.2h0.8v0.8h-0.8zM451.8 441.4h0.8v0.8h-0.8zM463.9 453.1h0.8v0.8h-0.8zM456.7 449.8h0.8v0.8h-0.8zM449.5 439.9h0.8v0.8h-0.8zM445.0 452.1h0.8v0.8h-0.8zM451.9 455.2h0.8v0.8h-0.8zM453.9 443.3h0.8v0.8h-0.8zM456.1 442.7h0.8v0.8h-0.8zM450.1 449.2h0.8v0.8h-0.8zM452.3 447.9h0.8v0.8h-0.8zM452.6 452.0h0.8v0.8h-0.8zM447.2 435.4h0.8v0.8h-0.8zM446.8 433.1h0.8v0.8h-0.8zM461.6 442.7h0.8v0.8h-0.8zM451.3 448.1h0.8v0.8h-0.8zM447.5 443.6h0.8v0.8h-0.8zM452.9 446.4h0.8v0.8h-0.8zM455.7 445.0h0.8v0.8h-0.8zM448.1 438.3h0.8v0.8h-0.8zM442.8 447.7h0.8v0.8h-0.8zM453.1 444.1h0.8v0.8h-0.8zM457.8 431.6h0.8v0.8h-0.8zM454.8 439.8h0.8v0.8h-0.8zM449.8 445.0h0.8v0.8h-0.8zM447.7 444.8h0.8v0.8h-0.8zM453.0 459.4h0.8v0.8h-0.8zM451.5 450.2h0.8v0.8h-0.8zM455.8 441.1h0.8v0.8h-0.8zM454.0 444.1h0.8v0.8h-0.8zM456.1 443.1h0.8v0.8h-0.8zM457.1 441.4h0.8v0.8h-0.8zM449.1 450.9h0.8v0.8h-0.8zM456.8 451.0h0.8v0.8h-0.8zM461.8 451.9h0.8v0.8h-0.8zM451.5 451.4h0.8v0.8h-0.8zM447.2 450.7h0.8v0.8h-0.8zM453.6 445.5h0.8v0.8h-0.8zM447.8 452.1h0.8v0.8h-0.8zM441.2 445.4h0.8v0.8h-0.8zM444.2 444.4h0.8v0.8h-0.8zM449.2 441.8h0.8v0.8h-0.8zM448.4 447.9h0.8v0.8h-0.8zM461.7 455.8h0.8v0.8h-0.8zM450.5 444.0h0.8v0.8h-0.8zM454.7 441.7h0.8v0.8h-0.8zM443.8 451.6h0.8v0.8h-0.8zM449.4 454.6h0.8v0.8h-0.8zM453.3 438.3h0.8v0.8h-0.8zM453.0 449.0h0.8v0.8h-0.8zM451.8 438.8h0.8v0.8h-0.8zM443.7 456.5h0.8v0.8h-0.8zM455.7 456.1h0.8v0.8h-0.8zM454.9 446.2h0.8v0.8h-0.8zM453.5 452.5h0.8v0.8h-0.8zM448.8 453.3h0.8v0.8h-0.8zM452.8 447.4h0.8v0.8h-0.8zM453.8 448.0h0.8v0.8h-0.8zM446.7 454.8h0.8v0.8h-0.8zM449.0 444.8h0.8v0.8h-0.8zM454.4 445.8h0.8v0.8h-0.8zM451.0 444.3h0.8v0.8h-0.8zM454.7 442.7h0.8v0.8h-0.8zM443.9 437.4h0.8v0.8h-0.8zM447.4 448.0h0.8v0.8h-0.8zM458.9 449.4h0.8v0.8h-0.8zM448.0 439.0h0.8v0.8h-0.8zM455.8 449.1h0.8v0.8h-0.8zM451.2 449.7h0.8v0.8h-0.8zM454.6 449.1h0.8v0.8h-0.8zM458.4 437.9h0.8v0.8h-0.8zM448.2 443.4h0.8v0.8h-0.8zM446.4 457.1h0.8v0.8h-0.8zM453.4 448.6h0.8v0.8h-0.8zM455.6 445.0h0.8v0.8h-0.8zM455.9 445.2h0.8v0.8h-0.8zM455.4 449.4h0.8v0.8h-0.8zM458.3 438.0h0.8v0.8h-0.8zM446.8 442.1h0.8v0.8h-0.8zM447.3 448.4h0.8v0.8h-0.8zM456.5 444.4h0.8v0.8h-0.8zM457.1 451.2h0.8v0.8h-0.8zM448.5 450.0h0.8v0.8h-0.8zM458.9 443.7h0.8v0.8h-0.8zM453.0 449.7h0.8v0.8h-0.8zM454.2 446.0h0.8v0.8h-0.8zM451.5 441.9h0.8v0.8h-0.8zM461.6 454.8h0.8v0.8h-0.8zM450.8 441.6h0.8v0.8h-0.8zM453.8 455.1h0.8v0.8h-0.8zM451.8 441.8h0.8v0.8h-0.8zM456.4 447.7h0.8v0.8h-0.8zM447.5 445.1h0.8v0.8h-0.8zM452.4 440.2h0.8v0.8h-0.8zM453.0 453.4h0.8v0.8h-0.8zM457.0 453.2h0.8v0.8h-0.8zM455.4 445.9h0.8v0.8h-0.8zM454.8 453.1h0.8v0.8h-0.8zM451.8 449.2h0.8v0.8h-0.8zM448.4 446.4h0.8v0.8h-0.8zM449.1 440.5h0.8v0.8h-0.8zM453.6 458.6h0.8v0.8h-0.8zM442.9 443.7h0.8v0.8h-0.8zM452.6 442.3h0.8v0.8h-0.8zM452.4 451.1h0.8v0.8h-0.8zM443.2 445.8h0.8v0.8h-0.8zM454.6 449.5h0.8v0.8h-0.8zM461.0 447.5h0.8v0.8h-0.8zM458.0 443.3h0.8v0.8h-0.8zM447.0 443.4h0.8v0.8h-0.8zM449.4 451.3h0.8v0.8h-0.8zM455.5 446.5h0.8v0.8h-0.8zM447.0 447.2h0.8v0.8h-0.8zM449.5 444.4h0.8v0.8h-0.8zM442.7 455.0h0.8v0.8h-0.8zM454.6 462.8h0.8v0.8h-0.8zM465.4 446.7h0.8v0.8h-0.8zM463.0 444.1h0.8v0.8h-0.8zM466.0 446.2h0.8v0.8h-0.8zM442.2 446.4h0.8v0.8h-0.8zM455.8 455.9h0.8v0.8h-0.8zM456.7 456.2h0.8v0.8h-0.8zM452.6 438.1h0.8v0.8h-0.8zM452.5 441.6h0.8v0.8h-0.8zM456.0 434.7h0.8v0.8h-0.8zM446.6 440.0h0.8v0.8h-0.8zM452.2 452.1h0.8v0.8h-0.8zM450.1 439.2h0.8v0.8h-0.8zM449.0 445.6h0.8v0.8h-0.8zM457.6 447.1h0.8v0.8h-0.8zM458.8 430.7h0.8v0.8h-0.8zM460.8 458.6h0.8v0.8h-0.8zM449.0 461.4h0.8v0.8h-0.8zM443.7 451.7h0.8v0.8h-0.8zM445.0 443.1h0.8v0.8h-0.8zM454.3 447.7h0.8v0.8h-0.8zM453.2 445.4h0.8v0.8h-0.8zM442.1 437.5h0.8v0.8h-0.8zM447.3 440.9h0.8v0.8h-0.8zM449.3 437.0h0.8v0.8h-0.8zM451.0 449.2h0.8v0.8h-0.8zM449.1 453.9h0.8v0.8h-0.8zM452.7 451.6h0.8v0.8h-0.8zM447.1 447.6h0.8v0.8h-0.8zM444.3 435.9h0.8v0.8h-0.8zM442.6 444.2h0.8v0.8h-0.8zM452.9 458.3h0.8v0.8h-0.8zM453.3 444.4h0.8v0.8h-0.8zM457.1 447.1h0.8v0.8h-0.8zM451.7 447.2h0.8v0.8h-0.8zM456.7 455.4h0.8v0.8h-0.8zM444.3 447.0h0.8v0.8h-0.8zM449.2 446.6h0.8v0.8h-0.8zM463.9 445.2h0.8v0.8h-0.8zM449.2 441.3h0.8v0.8h-0.8zM463.1 457.6h0.8v0.8h-0.8zM457.0 447.9h0.8v0.8h-0.8zM447.9 454.6h0.8v0.8h-0.8zM450.4 447.7h0.8v0.8h-0.8zM450.7 447.3h0.8v0.8h-0.8zM441.4 439.7h0.8v0.8h-0.8zM445.0 434.3h0.8v0.8h-0.8zM445.6 443.7h0.8v0.8h-0.8zM450.7 446.0h0.8v0.8h-0.8zM449.4 452.3h0.8v0.8h-0.8zM440.9 443.5h0.8v0.8h-0.8zM450.4 441.6h0.8v0.8h-0.8zM458.8 445.8h0.8v0.8h-0.8zM457.4 449.5h0.8v0.8h-0.8zM450.2 451.9h0.8v0.8h-0.8zM444.1 439.6h0.8v0.8h-0.8zM449.6 433.1h0.8v0.8h-0.8zM449.4 445.3h0.8v0.8h-0.8zM442.6 440.6h0.8v0.8h-0.8zM444.9 459.7h0.8v0.8h-0.8zM458.2 449.8h0.8v0.8h-0.8zM452.8 453.9h0.8v0.8h-0.8zM452.2 453.4h0.8v0.8h-0.8zM456.2 458.3h0.8v0.8h-0.8zM457.2 443.3h0.8v0.8h-0.8zM454.8 452.7h0.8v0.8h-0.8zM455.1 458.7h0.8v0.8h-0.8zM453.2 444.1h0.8v0.8h-0.8zM456.3 452.8h0.8v0.8h-0.8zM451.6 449.4h0.8v0.8h-0.8zM452.4 447.9h0.8v0.8h-0.8zM453.6 444.2h0.8v0.8h-0.8zM455.5 448.5h0.8v0.8h-0.8zM460.7 448.1h0.8v0.8h-0.8zM452.3 439.6h0.8v0.8h-0.8zM463.4 445.1h0.8v0.8h-0.8zM449.0 444.9h0.8v0.8h-0.8zM451.7 445.9h0.8v0.8h-0.8zM460.5 443.8h0.8v0.8h-0.8zM450.5 443.9h0.8v0.8h-0.8zM454.8 437.3h0.8v0.8h-0.8zM456.9 444.4h0.8v0.8h-0.8zM444.3 454.7h0.8v0.8h-0.8zM444.8 450.3h0.8v0.8h-0.8zM451.8 442.7h0.8v0.8h-0.8zM443.0 442.4h0.8v0.8h-0.8zM455.6 446.0h0.8v0.8h-0.8zM448.7 451.8h0.8v0.8h-0.8zM451.9 446.8h0.8v0.8h-0.8zM447.2 438.7h0.8v0.8h-0.8zM449.3 448.0h0.8v0.8h-0.8zM449.5 448.1h0.8v0.8h-0.8zM450.3 445.0h0.8v0.8h-0.8zM451.4 448.3h0.8v0.8h-0.8zM450.6 443.9h0.8v0.8h-0.8zM456.7 452.8h0.8v0.8h-0.8zM457.6 450.4h0.8v0.8h-0.8zM454.0 447.1h0.8v0.8h-0.8zM455.6 442.7h0.8v0.8h-0.8zM451.0 448.1h0.8v0.8h-0.8zM450.9 439.4h0.8v0.8h-0.8zM451.2 444.0h0.8v0.8h-0.8zM448.3 449.8h0.8v0.8h-0.8zM457.2 446.8h0.8v0.8h-0.8zM445.7 445.4h0.8v0.8h-0.8zM450.7 440.5h0.8v0.8h-0.8zM448.5 447.1h0.8v0.8h-0.8zM448.6 448.8h0.8v0.8h-0.8zM444.8 450.0h0.8v0.8h-0.8zM448.0 447.0h0.8v0.8h-0.8zM451.7 443.5h0.8v0.8h-0.8zM457.1 436.4h0.8v0.8h-0.8zM452.7 449.9h0.8v0.8h-0.8zM450.4 445.9h0.8v0.8h-0.8zM445.7 446.0h0.8v0.8h-0.8zM452.5 443.0h0.8v0.8h-0.8zM451.7 444.2h0.8v0.8h-0.8zM446.3 445.8h0.8v0.8h-0.8zM447.5 451.1h0.8v0.8h-0.8zM447.5 454.0h0.8v0.8h-0.8zM451.5 446.1h0.8v0.8h-0.8zM447.8 448.6h0.8v0.8h-0.8zM446.3 437.7h0.8v0.8h-0.8zM453.8 434.7h0.8v0.8h-0.8zM457.5 443.3h0.8v0.8h-0.8zM459.8 447.6h0.8v0.8h-0.8zM460.2 438.2h0.8v0.8h-0.8zM449.3 447.7h0.8v0.8h-0.8zM448.7 446.6h0.8v0.8h-0.8zM450.8 449.9h0.8v0.8h-0.8zM459.1 434.3h0.8v0.8h-0.8zM454.9 439.9h0.8v0.8h-0.8zM460.1 438.1h0.8v0.8h-0.8zM447.2 449.0h0.8v0.8h-0.8zM450.7 450.0h0.8v0.8h-0.8zM453.5 442.0h0.8v0.8h-0.8zM443.1 452.6h0.8v0.8h-0.8zM450.5 445.6h0.8v0.8h-0.8zM450.0 444.8h0.8v0.8h-0.8zM447.8 446.5h0.8v0.8h-0.8zM452.9 439.4h0.8v0.8h-0.8zM443.3 449.3h0.8v0.8h-0.8zM456.2 443.2h0.8v0.8h-0.8zM450.7 443.5h0.8v0.8h-0.8zM453.7 445.8h0.8v0.8h-0.8zM448.7 442.0h0.8v0.8h-0.8zM453.9 448.2h0.8v0.8h-0.8zM449.3 448.4h0.8v0.8h-0.8zM452.5 435.0h0.8v0.8h-0.8zM448.5 447.5h0.8v0.8h-0.8zM458.2 448.3h0.8v0.8h-0.8zM445.1 451.1h0.8v0.8h-0.8zM450.1 450.7h0.8v0.8h-0.8zM444.3 437.2h0.8v0.8h-0.8zM443.2 449.4h0.8v0.8h-0.8zM457.8 447.6h0.8v0.8h-0.8zM452.5 445.6h0.8v0.8h-0.8zM452.6 440.6h0.8v0.8h-0.8zM458.1 450.6h0.8v0.8h-0.8zM456.7 445.8h0.8v0.8h-0.8zM456.0 451.6h0.8v0.8h-0.8zM464.8 452.1h0.8v0.8h-0.8zM447.7 441.8h0.8v0.8h-0.8zM456.2 448.9h0.8v0.8h-0.8zM454.5 446.5h0.8v0.8h-0.8zM447.3 447.0h0.8v0.8h-0.8zM443.9 447.7h0.8v0.8h-0.8zM463.6 450.2h0.8v0.8h-0.8zM447.1 441.4h0.8v0.8h-0.8zM464.3 449.8h0.8v0.8h-0.8zM448.9 449.4h0.8v0.8h-0.8zM449.9 440.4h0.8v0.8h-0.8zM452.4 449.0h0.8v0.8h-0.8zM458.4 439.3h0.8v0.8h-0.8zM459.4 444.9h0.8v0.8h-0.8zM441.1 451.6h0.8v0.8h-0.8zM456.9 449.1h0.8v0.8h-0.8zM456.0 441.3h0.8v0.8h-0.8zM454.3 437.2h0.8v0.8h-0.8zM448.2 460.1h0.8v0.8h-0.8zM460.4 448.4h0.8v0.8h-0.8zM454.3 446.7h0.8v0.8h-0.8zM455.0 447.3h0.8v0.8h-0.8zM446.7 444.3h0.8v0.8h-0.8zM441.5 441.5h0.8v0.8h-0.8zM450.7 448.3h0.8v0.8h-0.8zM463.5 437.3h0.8v0.8h-0.8zM462.8 443.9h0.8v0.8h-0.8z" fill="#000" fill-opacity="0.45"/>
<ellipse cx="451.7" cy="446.3" rx="10.2" ry="10.6" fill="url(#g1)" fill-opacity="1.0"/>
<path d="M451.8 473.7h0.7v0.7h-0.7zM458.7 487.3h0.7v0.7h-0.7zM448.5 474.8h0.7v0.7h-0.7zM443.0 478.5h0.7v0.7h-0.7zM446.2 477.5h0.7v0.7h-0.7zM448.2 484.8h0.7v0.7h-0.7zM449.4 474.7h0.7v0.7h-0.7zM452.7 479.8h0.7v0.7h-0.7zM443.3 479.5h0.7v0.7h-0.7zM447.3 476.1h0.7v0.7h-0.7zM458.2 488.0h0.7v0.7h-0.7zM450.8 486.3h0.7v0.7h-0.7z" fill="#000" fill-opacity="0.2"/>
<path d="M479.5 484.4h0.7v0.7h-0.7zM481.3 481.9h0.7v0.7h-0.7zM481.3 486.9h0.7v0.7h-0.7zM486.1 477.7h0.7v0.7h-0.7zM484.3 481.1h0.7v0.7h-0.7zM486.0 482.7h0.7v0.7h-0.7zM481.5 480.8h0.7v0.7h-0.7zM483.1 486.0h0.7v0.7h-0.7zM483.2 480.6h0.7v0.7h-0.7zM482.2 484.0h0.7v0.7h-0.7zM482.4 486.2h0.7v0.7h-0.7zM484.8 482.3h0.7v0.7h-0.7zM483.2 481.1h0.7v0.7h-0.7zM478.1 484.8h0.7v0.7h-0.7z" fill="#000" fill-opacity="0.25"/>
<line x1="438.09999999999997" y1="422.4" x2="440.7" y2="422.4" stroke="#777" stroke-width="0.7"/>
<line x1="436.5" y1="421.2" x2="436.5" y2="423.0" stroke="#aaa" stroke-width="0.5"/>
<line x1="440.7" y1="488.4" x2="440.7" y2="491.0" stroke="#777" stroke-width="0.7"/>
<line x1="439.9" y1="492.2" x2="441.5" y2="492.2" stroke="#aaa" stroke-width="0.5"/>
<line x1="438.09999999999997" y1="438.9" x2="440.7" y2="438.9" stroke="#777" stroke-width="0.7"/>
<line x1="436.5" y1="437.7" x2="436.5" y2="439.5" stroke="#aaa" stroke-width="0.5"/>
<line x1="457.475" y1="488.4" x2="457.475" y2="491.0" stroke="#777" stroke-width="0.7"/>
<line x1="456.675" y1="492.2" x2="458.27500000000003" y2="492.2" stroke="#aaa" stroke-width="0.5"/>
<line x1="438.09999999999997" y1="455.4" x2="440.7" y2="455.4" stroke="#777" stroke-width="0.7"/>
<line x1="436.5" y1="454.2" x2="436.5" y2="456.0" stroke="#aaa" stroke-width="0.5"/>
<line x1="474.25" y1="488.4" x2="474.25" y2="491.0" stroke="#777" stroke-width="0.7"/>
<line x1="473.45" y1="492.2" x2="475.05" y2="492.2" stroke="#aaa" stroke-width="0.5"/>
<line x1="438.09999999999997" y1="471.9" x2="440.7" y2="471.9" stroke="#777" stroke-width="0.7"/>
<line x1="436.5" y1="470.7" x2="436.5" y2="472.5" stroke="#aaa" stroke-width="0.5"/>
<line x1="491.025" y1="488.4" x2="491.025" y2="491.0" stroke="#777" stroke-width="0.7"/>
<line x1="490.22499999999997" y1="492.2" x2="491.825" y2="492.2" stroke="#aaa" stroke-width="0.5"/>
<line x1="438.09999999999997" y1="488.4" x2="440.7" y2="488.4" stroke="#777" stroke-width="0.7"/>
<line x1="436.5" y1="487.2" x2="436.5" y2="489.0" stroke="#aaa" stroke-width="0.5"/>
<line x1="507.8" y1="488.4" x2="507.8" y2="491.0" stroke="#777" stroke-width="0.7"/>
<line x1="507.0" y1="492.2" x2="508.6" y2="492.2" stroke="#aaa" stroke-width="0.5"/>
<line x1="440.7" y1="422.4" x2="440.7" y2="488.4" stroke="#333" stroke-width="0.9"/>
<line x1="440.7" y1="488.4" x2="507.8" y2="488.4" stroke="#333" stroke-width="0.9"/>
<line x1="462.8" y1="422.4" x2="462.8" y2="488.4" stroke="#555" stroke-width="0.9"/>
<line x1="440.7" y1="471.3" x2="508.8" y2="471.3" stroke="#555" stroke-width="0.9"/>
<text transform="translate(464.1 415.8) scale(1 1.05)" font-size="10.8" text-anchor="middle" fill="#111" >Before BMT</text>
<text transform="translate(442.7 431.6) scale(1 1.05)" font-size="9" text-anchor="start" fill="#111" >99.5±0.7%</text>
<text transform="translate(434.2,463.0) rotate(-90) scale(1 1.05)" font-size="10.5" text-anchor="middle" fill="#111">CD45.1</text>
<text transform="translate(471.2 504.2) scale(1 1.05)" font-size="10.6" text-anchor="middle" fill="#111" >CD45.2</text>
<path d="M458.7 579.5h0.8v0.8h-0.8zM452.4 574.6h0.8v0.8h-0.8zM449.9 581.2h0.8v0.8h-0.8zM450.6 580.6h0.8v0.8h-0.8zM456.1 583.5h0.8v0.8h-0.8zM455.0 577.9h0.8v0.8h-0.8zM448.4 580.4h0.8v0.8h-0.8zM442.8 574.2h0.8v0.8h-0.8zM452.7 580.5h0.8v0.8h-0.8zM451.4 585.5h0.8v0.8h-0.8zM449.8 574.8h0.8v0.8h-0.8zM454.4 586.5h0.8v0.8h-0.8zM443.4 580.6h0.8v0.8h-0.8zM455.9 580.6h0.8v0.8h-0.8zM448.7 584.6h0.8v0.8h-0.8zM442.2 580.2h0.8v0.8h-0.8zM447.7 580.1h0.8v0.8h-0.8zM444.5 581.2h0.8v0.8h-0.8zM457.3 582.3h0.8v0.8h-0.8zM444.4 578.2h0.8v0.8h-0.8zM447.1 574.0h0.8v0.8h-0.8zM454.7 582.6h0.8v0.8h-0.8zM450.1 586.8h0.8v0.8h-0.8zM454.7 577.9h0.8v0.8h-0.8zM451.2 579.8h0.8v0.8h-0.8zM450.9 586.1h0.8v0.8h-0.8zM457.5 576.3h0.8v0.8h-0.8zM461.0 573.5h0.8v0.8h-0.8zM454.5 585.5h0.8v0.8h-0.8zM451.7 582.6h0.8v0.8h-0.8zM447.6 586.8h0.8v0.8h-0.8zM450.0 578.2h0.8v0.8h-0.8zM443.4 576.1h0.8v0.8h-0.8zM453.5 580.6h0.8v0.8h-0.8zM459.9 583.2h0.8v0.8h-0.8zM452.7 577.1h0.8v0.8h-0.8zM453.8 574.3h0.8v0.8h-0.8zM447.1 586.4h0.8v0.8h-0.8zM452.4 575.5h0.8v0.8h-0.8zM447.7 579.9h0.8v0.8h-0.8zM452.6 581.3h0.8v0.8h-0.8zM455.2 567.7h0.8v0.8h-0.8zM454.7 572.4h0.8v0.8h-0.8zM448.7 581.0h0.8v0.8h-0.8zM456.4 577.8h0.8v0.8h-0.8zM444.2 576.9h0.8v0.8h-0.8zM444.7 578.3h0.8v0.8h-0.8zM447.4 585.3h0.8v0.8h-0.8zM453.9 579.8h0.8v0.8h-0.8zM452.6 587.3h0.8v0.8h-0.8zM449.5 575.6h0.8v0.8h-0.8zM451.1 575.2h0.8v0.8h-0.8zM452.2 584.2h0.8v0.8h-0.8zM449.2 584.5h0.8v0.8h-0.8zM457.2 588.4h0.8v0.8h-0.8zM449.2 583.0h0.8v0.8h-0.8zM455.2 584.0h0.8v0.8h-0.8zM455.9 582.6h0.8v0.8h-0.8zM454.6 584.5h0.8v0.8h-0.8zM453.5 583.0h0.8v0.8h-0.8zM452.5 580.2h0.8v0.8h-0.8zM441.7 580.2h0.8v0.8h-0.8zM451.2 578.2h0.8v0.8h-0.8zM448.8 585.9h0.8v0.8h-0.8zM449.7 570.8h0.8v0.8h-0.8zM448.4 580.0h0.8v0.8h-0.8zM457.4 581.8h0.8v0.8h-0.8zM453.7 578.2h0.8v0.8h-0.8zM448.1 573.7h0.8v0.8h-0.8zM454.3 580.6h0.8v0.8h-0.8zM447.4 580.8h0.8v0.8h-0.8zM456.7 584.5h0.8v0.8h-0.8zM455.1 585.5h0.8v0.8h-0.8zM452.3 580.6h0.8v0.8h-0.8zM451.0 582.6h0.8v0.8h-0.8zM442.4 581.8h0.8v0.8h-0.8zM451.2 576.8h0.8v0.8h-0.8zM448.2 585.5h0.8v0.8h-0.8zM449.1 580.2h0.8v0.8h-0.8zM458.6 576.4h0.8v0.8h-0.8zM450.8 578.7h0.8v0.8h-0.8zM448.4 579.8h0.8v0.8h-0.8zM453.9 579.4h0.8v0.8h-0.8zM455.8 583.7h0.8v0.8h-0.8zM445.6 580.8h0.8v0.8h-0.8zM450.1 575.0h0.8v0.8h-0.8zM442.0 584.9h0.8v0.8h-0.8zM452.6 585.8h0.8v0.8h-0.8zM459.0 583.9h0.8v0.8h-0.8zM452.9 586.0h0.8v0.8h-0.8zM450.4 578.9h0.8v0.8h-0.8zM456.0 583.3h0.8v0.8h-0.8zM448.4 578.8h0.8v0.8h-0.8zM449.1 578.4h0.8v0.8h-0.8zM448.0 578.3h0.8v0.8h-0.8zM451.7 580.7h0.8v0.8h-0.8zM455.1 569.9h0.8v0.8h-0.8zM451.7 587.7h0.8v0.8h-0.8zM451.3 578.0h0.8v0.8h-0.8zM461.2 578.3h0.8v0.8h-0.8zM454.5 581.6h0.8v0.8h-0.8zM450.3 576.3h0.8v0.8h-0.8zM451.9 581.4h0.8v0.8h-0.8zM460.3 574.1h0.8v0.8h-0.8zM443.2 582.9h0.8v0.8h-0.8zM443.4 568.4h0.8v0.8h-0.8zM449.4 585.4h0.8v0.8h-0.8zM441.8 574.1h0.8v0.8h-0.8zM458.6 576.8h0.8v0.8h-0.8zM446.5 579.8h0.8v0.8h-0.8zM459.2 579.7h0.8v0.8h-0.8zM455.0 579.8h0.8v0.8h-0.8zM445.6 581.6h0.8v0.8h-0.8zM441.9 584.9h0.8v0.8h-0.8zM442.9 581.1h0.8v0.8h-0.8zM453.1 577.3h0.8v0.8h-0.8zM460.9 580.5h0.8v0.8h-0.8zM453.2 574.2h0.8v0.8h-0.8zM448.5 581.5h0.8v0.8h-0.8zM454.8 583.0h0.8v0.8h-0.8zM443.9 574.2h0.8v0.8h-0.8zM445.3 585.3h0.8v0.8h-0.8zM442.1 575.2h0.8v0.8h-0.8zM451.6 580.3h0.8v0.8h-0.8zM450.7 577.0h0.8v0.8h-0.8zM452.7 580.0h0.8v0.8h-0.8zM450.0 581.5h0.8v0.8h-0.8zM449.8 579.7h0.8v0.8h-0.8zM456.7 583.5h0.8v0.8h-0.8zM451.4 581.1h0.8v0.8h-0.8zM457.9 574.8h0.8v0.8h-0.8zM441.3 580.6h0.8v0.8h-0.8zM442.3 575.9h0.8v0.8h-0.8zM452.1 581.4h0.8v0.8h-0.8zM449.2 577.2h0.8v0.8h-0.8zM443.6 577.4h0.8v0.8h-0.8zM446.8 580.4h0.8v0.8h-0.8zM455.7 579.2h0.8v0.8h-0.8zM445.3 582.3h0.8v0.8h-0.8zM457.1 581.8h0.8v0.8h-0.8zM448.7 578.8h0.8v0.8h-0.8zM449.4 576.0h0.8v0.8h-0.8zM455.6 579.2h0.8v0.8h-0.8zM460.7 585.6h0.8v0.8h-0.8zM448.6 577.1h0.8v0.8h-0.8zM442.0 580.5h0.8v0.8h-0.8zM452.9 578.9h0.8v0.8h-0.8zM450.4 582.5h0.8v0.8h-0.8zM447.0 580.3h0.8v0.8h-0.8zM449.6 586.9h0.8v0.8h-0.8zM454.3 580.1h0.8v0.8h-0.8zM445.8 579.9h0.8v0.8h-0.8zM446.9 579.0h0.8v0.8h-0.8zM452.7 583.9h0.8v0.8h-0.8zM456.0 578.0h0.8v0.8h-0.8zM451.9 580.4h0.8v0.8h-0.8zM456.1 584.3h0.8v0.8h-0.8zM452.2 582.7h0.8v0.8h-0.8zM441.0 581.9h0.8v0.8h-0.8zM450.2 580.3h0.8v0.8h-0.8zM452.3 575.4h0.8v0.8h-0.8zM449.1 584.0h0.8v0.8h-0.8zM454.5 581.3h0.8v0.8h-0.8zM453.7 577.2h0.8v0.8h-0.8zM458.5 571.8h0.8v0.8h-0.8zM449.3 577.3h0.8v0.8h-0.8zM448.7 581.5h0.8v0.8h-0.8zM451.5 584.6h0.8v0.8h-0.8zM460.5 582.7h0.8v0.8h-0.8zM446.3 580.6h0.8v0.8h-0.8zM447.1 577.2h0.8v0.8h-0.8zM449.0 584.5h0.8v0.8h-0.8zM447.0 581.9h0.8v0.8h-0.8zM447.2 584.2h0.8v0.8h-0.8zM456.8 574.4h0.8v0.8h-0.8zM454.7 576.9h0.8v0.8h-0.8zM452.7 580.2h0.8v0.8h-0.8zM455.2 575.2h0.8v0.8h-0.8zM460.5 582.0h0.8v0.8h-0.8zM447.8 585.9h0.8v0.8h-0.8zM457.8 582.8h0.8v0.8h-0.8zM448.5 577.1h0.8v0.8h-0.8zM446.5 587.4h0.8v0.8h-0.8zM451.3 580.4h0.8v0.8h-0.8zM449.2 585.7h0.8v0.8h-0.8zM449.2 584.2h0.8v0.8h-0.8zM442.1 577.2h0.8v0.8h-0.8zM452.7 576.5h0.8v0.8h-0.8zM460.6 571.9h0.8v0.8h-0.8zM452.9 582.8h0.8v0.8h-0.8zM453.2 580.3h0.8v0.8h-0.8zM452.4 577.9h0.8v0.8h-0.8zM450.9 588.2h0.8v0.8h-0.8zM450.9 585.2h0.8v0.8h-0.8zM457.8 578.2h0.8v0.8h-0.8zM460.6 574.2h0.8v0.8h-0.8zM448.5 580.2h0.8v0.8h-0.8zM449.7 583.1h0.8v0.8h-0.8zM450.4 583.1h0.8v0.8h-0.8zM446.9 573.9h0.8v0.8h-0.8zM460.1 581.7h0.8v0.8h-0.8zM453.0 575.7h0.8v0.8h-0.8zM453.3 580.4h0.8v0.8h-0.8zM453.4 581.1h0.8v0.8h-0.8zM456.2 586.5h0.8v0.8h-0.8zM449.2 579.0h0.8v0.8h-0.8zM454.6 574.4h0.8v0.8h-0.8zM447.5 579.0h0.8v0.8h-0.8zM449.7 579.7h0.8v0.8h-0.8zM445.1 582.9h0.8v0.8h-0.8zM448.7 575.5h0.8v0.8h-0.8zM452.7 587.1h0.8v0.8h-0.8zM443.6 580.5h0.8v0.8h-0.8zM461.9 579.7h0.8v0.8h-0.8zM447.5 587.4h0.8v0.8h-0.8zM452.2 584.5h0.8v0.8h-0.8zM459.2 583.3h0.8v0.8h-0.8zM452.6 588.8h0.8v0.8h-0.8zM443.5 575.8h0.8v0.8h-0.8zM449.9 578.0h0.8v0.8h-0.8zM450.2 572.6h0.8v0.8h-0.8zM442.9 583.6h0.8v0.8h-0.8zM450.0 582.4h0.8v0.8h-0.8zM449.1 580.5h0.8v0.8h-0.8zM443.4 588.1h0.8v0.8h-0.8zM456.2 574.9h0.8v0.8h-0.8zM448.8 582.1h0.8v0.8h-0.8zM448.9 580.4h0.8v0.8h-0.8zM452.1 572.7h0.8v0.8h-0.8zM454.7 582.6h0.8v0.8h-0.8zM446.1 579.8h0.8v0.8h-0.8zM450.5 579.5h0.8v0.8h-0.8zM451.2 574.1h0.8v0.8h-0.8zM451.3 582.4h0.8v0.8h-0.8zM452.9 582.5h0.8v0.8h-0.8zM448.2 581.2h0.8v0.8h-0.8zM455.8 580.9h0.8v0.8h-0.8zM452.1 580.9h0.8v0.8h-0.8zM453.7 575.1h0.8v0.8h-0.8zM450.7 584.2h0.8v0.8h-0.8zM446.5 583.0h0.8v0.8h-0.8zM448.7 578.8h0.8v0.8h-0.8zM445.4 576.7h0.8v0.8h-0.8zM456.9 574.4h0.8v0.8h-0.8zM451.7 574.8h0.8v0.8h-0.8zM461.1 583.6h0.8v0.8h-0.8zM447.0 575.7h0.8v0.8h-0.8zM449.6 582.0h0.8v0.8h-0.8zM459.3 586.8h0.8v0.8h-0.8zM446.1 581.6h0.8v0.8h-0.8zM455.6 577.6h0.8v0.8h-0.8zM448.6 584.5h0.8v0.8h-0.8zM444.1 580.8h0.8v0.8h-0.8zM450.6 579.4h0.8v0.8h-0.8zM451.1 573.7h0.8v0.8h-0.8zM455.1 578.7h0.8v0.8h-0.8zM460.8 589.0h0.8v0.8h-0.8zM448.7 588.9h0.8v0.8h-0.8zM458.1 577.2h0.8v0.8h-0.8zM449.7 585.7h0.8v0.8h-0.8zM447.4 579.1h0.8v0.8h-0.8zM445.2 577.6h0.8v0.8h-0.8zM447.4 581.7h0.8v0.8h-0.8zM452.3 579.0h0.8v0.8h-0.8zM444.2 581.6h0.8v0.8h-0.8zM454.1 580.4h0.8v0.8h-0.8zM457.9 578.7h0.8v0.8h-0.8zM455.2 581.8h0.8v0.8h-0.8zM457.6 587.5h0.8v0.8h-0.8zM445.2 572.9h0.8v0.8h-0.8zM456.1 582.0h0.8v0.8h-0.8zM452.7 578.7h0.8v0.8h-0.8zM447.3 585.7h0.8v0.8h-0.8zM453.4 578.3h0.8v0.8h-0.8zM451.2 581.9h0.8v0.8h-0.8zM444.5 577.9h0.8v0.8h-0.8zM453.5 581.2h0.8v0.8h-0.8zM444.1 581.9h0.8v0.8h-0.8zM460.9 583.2h0.8v0.8h-0.8zM444.4 578.6h0.8v0.8h-0.8zM447.9 577.3h0.8v0.8h-0.8zM446.9 578.1h0.8v0.8h-0.8zM450.6 575.3h0.8v0.8h-0.8zM455.6 582.0h0.8v0.8h-0.8zM460.7 584.2h0.8v0.8h-0.8zM455.8 582.8h0.8v0.8h-0.8zM450.5 576.1h0.8v0.8h-0.8zM454.3 581.0h0.8v0.8h-0.8zM447.8 582.4h0.8v0.8h-0.8zM452.6 577.9h0.8v0.8h-0.8zM458.2 578.6h0.8v0.8h-0.8zM451.6 585.2h0.8v0.8h-0.8zM448.4 579.3h0.8v0.8h-0.8zM453.3 579.2h0.8v0.8h-0.8zM448.5 575.8h0.8v0.8h-0.8zM452.1 579.0h0.8v0.8h-0.8zM455.1 584.9h0.8v0.8h-0.8zM450.9 583.9h0.8v0.8h-0.8zM447.5 587.4h0.8v0.8h-0.8zM448.3 580.1h0.8v0.8h-0.8zM449.2 578.5h0.8v0.8h-0.8zM455.0 580.6h0.8v0.8h-0.8zM446.6 583.9h0.8v0.8h-0.8zM451.2 583.1h0.8v0.8h-0.8zM452.1 578.7h0.8v0.8h-0.8zM442.0 579.4h0.8v0.8h-0.8zM446.6 585.8h0.8v0.8h-0.8zM449.9 586.9h0.8v0.8h-0.8zM462.4 585.6h0.8v0.8h-0.8zM462.9 576.7h0.8v0.8h-0.8zM448.5 576.2h0.8v0.8h-0.8zM444.4 575.2h0.8v0.8h-0.8zM455.4 577.3h0.8v0.8h-0.8zM449.4 583.1h0.8v0.8h-0.8zM449.0 587.2h0.8v0.8h-0.8zM456.9 583.7h0.8v0.8h-0.8zM459.3 582.9h0.8v0.8h-0.8zM452.0 585.3h0.8v0.8h-0.8zM456.2 574.9h0.8v0.8h-0.8zM456.5 585.0h0.8v0.8h-0.8zM451.8 586.6h0.8v0.8h-0.8zM445.2 581.6h0.8v0.8h-0.8zM447.6 577.1h0.8v0.8h-0.8zM452.4 574.6h0.8v0.8h-0.8zM450.9 583.6h0.8v0.8h-0.8zM447.3 576.1h0.8v0.8h-0.8zM453.8 584.6h0.8v0.8h-0.8zM455.6 578.4h0.8v0.8h-0.8zM449.0 586.5h0.8v0.8h-0.8zM455.4 582.1h0.8v0.8h-0.8zM452.2 580.0h0.8v0.8h-0.8zM454.1 583.7h0.8v0.8h-0.8zM451.3 581.8h0.8v0.8h-0.8zM444.2 580.1h0.8v0.8h-0.8zM458.9 581.6h0.8v0.8h-0.8zM444.3 578.8h0.8v0.8h-0.8zM451.5 586.8h0.8v0.8h-0.8zM461.6 580.6h0.8v0.8h-0.8zM450.3 581.3h0.8v0.8h-0.8zM445.6 586.3h0.8v0.8h-0.8zM445.1 583.8h0.8v0.8h-0.8zM448.8 576.3h0.8v0.8h-0.8zM452.7 587.8h0.8v0.8h-0.8zM445.0 581.6h0.8v0.8h-0.8zM447.6 585.2h0.8v0.8h-0.8zM443.7 575.3h0.8v0.8h-0.8zM449.1 575.3h0.8v0.8h-0.8zM455.9 574.4h0.8v0.8h-0.8zM451.3 578.6h0.8v0.8h-0.8zM455.9 578.5h0.8v0.8h-0.8zM450.1 587.9h0.8v0.8h-0.8zM454.2 586.0h0.8v0.8h-0.8zM458.1 582.8h0.8v0.8h-0.8zM452.6 573.7h0.8v0.8h-0.8zM442.5 579.0h0.8v0.8h-0.8zM452.5 585.4h0.8v0.8h-0.8zM447.2 579.3h0.8v0.8h-0.8zM461.3 576.0h0.8v0.8h-0.8zM450.1 580.3h0.8v0.8h-0.8zM447.6 587.0h0.8v0.8h-0.8zM443.1 579.5h0.8v0.8h-0.8zM442.7 577.8h0.8v0.8h-0.8zM458.7 572.3h0.8v0.8h-0.8zM442.7 580.8h0.8v0.8h-0.8zM452.8 577.6h0.8v0.8h-0.8zM453.2 579.9h0.8v0.8h-0.8zM449.1 581.1h0.8v0.8h-0.8zM457.1 575.8h0.8v0.8h-0.8zM455.3 581.9h0.8v0.8h-0.8zM450.0 577.6h0.8v0.8h-0.8zM452.7 584.1h0.8v0.8h-0.8zM446.4 583.8h0.8v0.8h-0.8zM451.2 584.2h0.8v0.8h-0.8zM452.4 579.9h0.8v0.8h-0.8zM452.1 583.5h0.8v0.8h-0.8zM443.8 580.8h0.8v0.8h-0.8zM448.6 580.8h0.8v0.8h-0.8zM455.9 584.6h0.8v0.8h-0.8zM458.1 584.7h0.8v0.8h-0.8zM450.0 577.4h0.8v0.8h-0.8zM463.8 577.9h0.8v0.8h-0.8zM449.2 582.5h0.8v0.8h-0.8zM447.0 581.4h0.8v0.8h-0.8zM452.1 578.5h0.8v0.8h-0.8zM445.9 580.8h0.8v0.8h-0.8zM453.1 576.6h0.8v0.8h-0.8zM451.7 581.2h0.8v0.8h-0.8zM446.6 582.5h0.8v0.8h-0.8zM444.2 584.5h0.8v0.8h-0.8zM447.5 585.0h0.8v0.8h-0.8zM451.5 581.0h0.8v0.8h-0.8zM444.4 583.9h0.8v0.8h-0.8zM453.2 581.6h0.8v0.8h-0.8zM451.2 583.6h0.8v0.8h-0.8zM453.3 582.4h0.8v0.8h-0.8zM455.3 580.1h0.8v0.8h-0.8zM459.0 574.3h0.8v0.8h-0.8zM442.9 583.2h0.8v0.8h-0.8zM450.9 574.3h0.8v0.8h-0.8zM445.0 577.7h0.8v0.8h-0.8zM457.3 583.5h0.8v0.8h-0.8zM442.8 575.0h0.8v0.8h-0.8zM451.7 575.5h0.8v0.8h-0.8zM448.0 578.3h0.8v0.8h-0.8zM451.3 583.2h0.8v0.8h-0.8zM447.5 578.5h0.8v0.8h-0.8zM452.3 587.6h0.8v0.8h-0.8zM453.1 579.2h0.8v0.8h-0.8zM455.7 580.2h0.8v0.8h-0.8zM444.2 583.5h0.8v0.8h-0.8zM459.1 576.0h0.8v0.8h-0.8zM454.8 575.6h0.8v0.8h-0.8zM450.6 580.2h0.8v0.8h-0.8zM449.3 580.2h0.8v0.8h-0.8zM454.4 578.6h0.8v0.8h-0.8zM449.9 579.4h0.8v0.8h-0.8zM452.4 578.0h0.8v0.8h-0.8zM454.9 582.0h0.8v0.8h-0.8zM448.1 575.3h0.8v0.8h-0.8zM449.7 585.0h0.8v0.8h-0.8zM454.2 580.8h0.8v0.8h-0.8zM461.0 587.3h0.8v0.8h-0.8zM453.6 586.6h0.8v0.8h-0.8zM449.8 579.2h0.8v0.8h-0.8zM452.1 572.7h0.8v0.8h-0.8zM451.2 578.6h0.8v0.8h-0.8zM457.7 583.1h0.8v0.8h-0.8zM458.8 578.8h0.8v0.8h-0.8zM458.4 581.3h0.8v0.8h-0.8zM453.7 582.4h0.8v0.8h-0.8zM444.8 584.6h0.8v0.8h-0.8zM448.8 583.4h0.8v0.8h-0.8zM450.8 576.6h0.8v0.8h-0.8zM449.5 581.9h0.8v0.8h-0.8zM449.6 587.9h0.8v0.8h-0.8zM457.0 581.1h0.8v0.8h-0.8zM449.2 586.8h0.8v0.8h-0.8zM451.2 585.6h0.8v0.8h-0.8zM444.3 572.3h0.8v0.8h-0.8zM454.8 584.6h0.8v0.8h-0.8zM450.2 580.0h0.8v0.8h-0.8zM453.3 582.9h0.8v0.8h-0.8zM450.7 580.8h0.8v0.8h-0.8zM452.2 585.2h0.8v0.8h-0.8zM454.6 569.7h0.8v0.8h-0.8zM452.8 579.4h0.8v0.8h-0.8zM456.4 583.7h0.8v0.8h-0.8zM448.4 580.3h0.8v0.8h-0.8zM445.6 581.2h0.8v0.8h-0.8zM447.5 585.9h0.8v0.8h-0.8zM457.4 579.2h0.8v0.8h-0.8zM446.6 586.2h0.8v0.8h-0.8zM444.4 579.2h0.8v0.8h-0.8zM449.2 581.7h0.8v0.8h-0.8zM451.3 576.8h0.8v0.8h-0.8zM455.4 582.3h0.8v0.8h-0.8zM452.7 587.4h0.8v0.8h-0.8zM460.4 581.8h0.8v0.8h-0.8zM449.0 579.5h0.8v0.8h-0.8zM450.5 576.1h0.8v0.8h-0.8zM447.6 578.5h0.8v0.8h-0.8zM453.6 583.8h0.8v0.8h-0.8zM448.0 576.1h0.8v0.8h-0.8zM450.9 573.2h0.8v0.8h-0.8zM449.9 581.5h0.8v0.8h-0.8zM453.0 578.8h0.8v0.8h-0.8zM453.1 583.9h0.8v0.8h-0.8zM449.3 576.2h0.8v0.8h-0.8zM448.5 581.9h0.8v0.8h-0.8zM452.4 573.5h0.8v0.8h-0.8zM443.6 573.8h0.8v0.8h-0.8zM460.0 582.5h0.8v0.8h-0.8zM451.9 575.7h0.8v0.8h-0.8zM454.1 570.2h0.8v0.8h-0.8zM459.0 582.3h0.8v0.8h-0.8zM450.8 581.8h0.8v0.8h-0.8zM455.5 572.2h0.8v0.8h-0.8zM452.4 575.2h0.8v0.8h-0.8zM449.0 579.8h0.8v0.8h-0.8zM448.9 577.5h0.8v0.8h-0.8zM451.9 579.0h0.8v0.8h-0.8zM452.3 583.8h0.8v0.8h-0.8zM446.8 579.8h0.8v0.8h-0.8zM446.8 584.1h0.8v0.8h-0.8zM454.6 585.0h0.8v0.8h-0.8zM456.3 581.2h0.8v0.8h-0.8zM446.1 577.4h0.8v0.8h-0.8zM457.0 581.2h0.8v0.8h-0.8zM455.0 578.2h0.8v0.8h-0.8zM449.9 588.8h0.8v0.8h-0.8zM455.9 573.9h0.8v0.8h-0.8zM447.6 581.3h0.8v0.8h-0.8zM456.2 584.8h0.8v0.8h-0.8zM455.3 585.9h0.8v0.8h-0.8zM454.5 584.3h0.8v0.8h-0.8zM446.7 575.5h0.8v0.8h-0.8zM448.5 586.0h0.8v0.8h-0.8zM457.7 576.1h0.8v0.8h-0.8zM449.6 581.0h0.8v0.8h-0.8zM453.9 582.1h0.8v0.8h-0.8zM458.4 581.8h0.8v0.8h-0.8zM449.9 579.6h0.8v0.8h-0.8zM456.4 579.6h0.8v0.8h-0.8zM453.6 578.9h0.8v0.8h-0.8zM445.2 571.6h0.8v0.8h-0.8zM449.6 577.3h0.8v0.8h-0.8zM455.0 579.1h0.8v0.8h-0.8zM446.4 583.7h0.8v0.8h-0.8zM448.8 581.0h0.8v0.8h-0.8zM447.2 587.1h0.8v0.8h-0.8zM452.5 579.7h0.8v0.8h-0.8zM450.6 571.8h0.8v0.8h-0.8zM457.3 580.7h0.8v0.8h-0.8zM456.8 577.1h0.8v0.8h-0.8zM458.2 577.9h0.8v0.8h-0.8zM451.2 589.2h0.8v0.8h-0.8zM448.5 580.8h0.8v0.8h-0.8zM450.2 581.1h0.8v0.8h-0.8zM451.8 580.0h0.8v0.8h-0.8zM453.2 578.8h0.8v0.8h-0.8zM457.6 583.5h0.8v0.8h-0.8zM445.4 578.4h0.8v0.8h-0.8zM449.4 584.7h0.8v0.8h-0.8zM441.4 585.3h0.8v0.8h-0.8zM441.3 578.0h0.8v0.8h-0.8zM446.8 579.2h0.8v0.8h-0.8zM454.9 584.6h0.8v0.8h-0.8zM450.5 579.8h0.8v0.8h-0.8zM446.2 585.6h0.8v0.8h-0.8zM443.2 577.8h0.8v0.8h-0.8zM454.4 588.4h0.8v0.8h-0.8zM449.5 582.5h0.8v0.8h-0.8zM448.0 581.6h0.8v0.8h-0.8zM448.4 582.5h0.8v0.8h-0.8zM450.4 576.5h0.8v0.8h-0.8zM443.3 576.5h0.8v0.8h-0.8zM450.8 583.7h0.8v0.8h-0.8zM456.6 584.8h0.8v0.8h-0.8zM461.2 584.9h0.8v0.8h-0.8zM459.9 584.0h0.8v0.8h-0.8zM452.6 573.4h0.8v0.8h-0.8zM455.8 580.1h0.8v0.8h-0.8zM449.1 575.0h0.8v0.8h-0.8zM457.3 580.6h0.8v0.8h-0.8zM448.9 577.3h0.8v0.8h-0.8zM450.6 582.5h0.8v0.8h-0.8zM454.0 581.1h0.8v0.8h-0.8zM452.1 580.9h0.8v0.8h-0.8zM448.9 585.5h0.8v0.8h-0.8zM450.3 578.2h0.8v0.8h-0.8zM459.6 576.7h0.8v0.8h-0.8zM448.8 581.2h0.8v0.8h-0.8zM450.1 580.3h0.8v0.8h-0.8zM455.8 584.9h0.8v0.8h-0.8zM444.4 588.6h0.8v0.8h-0.8zM445.2 576.3h0.8v0.8h-0.8zM454.4 576.4h0.8v0.8h-0.8zM445.0 584.2h0.8v0.8h-0.8zM453.5 582.3h0.8v0.8h-0.8zM458.0 585.1h0.8v0.8h-0.8zM448.7 578.7h0.8v0.8h-0.8zM453.1 578.9h0.8v0.8h-0.8zM452.3 584.4h0.8v0.8h-0.8zM452.3 574.7h0.8v0.8h-0.8zM459.2 580.4h0.8v0.8h-0.8zM452.7 573.7h0.8v0.8h-0.8zM450.8 575.2h0.8v0.8h-0.8zM458.9 578.6h0.8v0.8h-0.8zM444.1 580.1h0.8v0.8h-0.8zM446.4 580.9h0.8v0.8h-0.8zM446.3 573.4h0.8v0.8h-0.8zM450.1 579.4h0.8v0.8h-0.8zM447.0 583.5h0.8v0.8h-0.8zM455.2 580.3h0.8v0.8h-0.8zM450.6 582.2h0.8v0.8h-0.8zM455.6 581.4h0.8v0.8h-0.8zM445.4 583.3h0.8v0.8h-0.8zM462.8 583.4h0.8v0.8h-0.8zM452.6 578.3h0.8v0.8h-0.8zM443.4 582.8h0.8v0.8h-0.8zM453.9 582.5h0.8v0.8h-0.8zM451.8 586.1h0.8v0.8h-0.8zM450.5 572.7h0.8v0.8h-0.8zM450.3 581.4h0.8v0.8h-0.8zM454.9 583.0h0.8v0.8h-0.8zM454.5 582.6h0.8v0.8h-0.8zM452.5 575.7h0.8v0.8h-0.8zM449.4 584.9h0.8v0.8h-0.8zM459.1 569.4h0.8v0.8h-0.8zM450.3 578.8h0.8v0.8h-0.8zM455.3 572.4h0.8v0.8h-0.8zM448.2 581.4h0.8v0.8h-0.8zM447.0 573.3h0.8v0.8h-0.8zM460.2 579.6h0.8v0.8h-0.8zM451.3 583.2h0.8v0.8h-0.8zM460.4 577.7h0.8v0.8h-0.8zM450.2 579.2h0.8v0.8h-0.8zM455.7 584.6h0.8v0.8h-0.8zM458.9 578.8h0.8v0.8h-0.8zM445.0 578.0h0.8v0.8h-0.8zM441.5 582.1h0.8v0.8h-0.8zM440.8 582.4h0.8v0.8h-0.8zM445.8 582.4h0.8v0.8h-0.8zM458.3 580.1h0.8v0.8h-0.8zM450.3 580.8h0.8v0.8h-0.8zM447.9 582.1h0.8v0.8h-0.8zM449.7 581.3h0.8v0.8h-0.8zM446.9 582.9h0.8v0.8h-0.8zM452.6 577.0h0.8v0.8h-0.8zM450.6 574.8h0.8v0.8h-0.8zM443.9 576.0h0.8v0.8h-0.8zM453.0 579.0h0.8v0.8h-0.8zM450.7 581.8h0.8v0.8h-0.8zM449.6 579.9h0.8v0.8h-0.8zM446.9 583.2h0.8v0.8h-0.8zM449.7 588.3h0.8v0.8h-0.8zM445.3 580.2h0.8v0.8h-0.8zM452.9 578.6h0.8v0.8h-0.8zM461.5 581.7h0.8v0.8h-0.8zM453.0 573.6h0.8v0.8h-0.8zM453.0 575.6h0.8v0.8h-0.8zM453.7 582.2h0.8v0.8h-0.8zM450.3 578.3h0.8v0.8h-0.8zM446.9 577.9h0.8v0.8h-0.8zM458.6 577.3h0.8v0.8h-0.8zM449.4 582.4h0.8v0.8h-0.8zM444.2 578.9h0.8v0.8h-0.8zM456.6 581.7h0.8v0.8h-0.8zM453.7 583.7h0.8v0.8h-0.8zM450.8 570.7h0.8v0.8h-0.8zM454.7 583.0h0.8v0.8h-0.8zM458.0 575.7h0.8v0.8h-0.8zM455.6 586.8h0.8v0.8h-0.8zM450.4 579.5h0.8v0.8h-0.8zM445.9 583.3h0.8v0.8h-0.8zM452.1 583.0h0.8v0.8h-0.8zM450.6 580.8h0.8v0.8h-0.8zM447.9 585.2h0.8v0.8h-0.8zM450.2 585.9h0.8v0.8h-0.8zM455.4 577.5h0.8v0.8h-0.8zM445.4 585.0h0.8v0.8h-0.8zM452.9 579.1h0.8v0.8h-0.8zM456.1 572.1h0.8v0.8h-0.8zM453.8 579.1h0.8v0.8h-0.8zM454.6 578.2h0.8v0.8h-0.8zM448.6 583.5h0.8v0.8h-0.8zM452.8 574.6h0.8v0.8h-0.8zM453.5 583.6h0.8v0.8h-0.8zM442.7 576.6h0.8v0.8h-0.8zM445.3 576.5h0.8v0.8h-0.8zM447.5 588.6h0.8v0.8h-0.8zM445.9 576.6h0.8v0.8h-0.8zM449.7 586.2h0.8v0.8h-0.8zM448.9 584.6h0.8v0.8h-0.8zM456.0 578.9h0.8v0.8h-0.8zM452.9 584.8h0.8v0.8h-0.8zM452.1 587.4h0.8v0.8h-0.8zM452.9 587.3h0.8v0.8h-0.8zM446.0 581.6h0.8v0.8h-0.8zM448.1 578.9h0.8v0.8h-0.8zM449.8 582.8h0.8v0.8h-0.8zM443.7 573.4h0.8v0.8h-0.8zM454.7 581.9h0.8v0.8h-0.8zM455.6 584.1h0.8v0.8h-0.8zM452.5 578.4h0.8v0.8h-0.8zM453.4 576.7h0.8v0.8h-0.8zM444.4 579.2h0.8v0.8h-0.8zM462.0 576.6h0.8v0.8h-0.8zM457.6 579.9h0.8v0.8h-0.8zM459.5 578.5h0.8v0.8h-0.8zM445.0 577.9h0.8v0.8h-0.8zM449.9 583.0h0.8v0.8h-0.8zM447.3 581.5h0.8v0.8h-0.8zM462.6 580.7h0.8v0.8h-0.8zM447.1 580.6h0.8v0.8h-0.8zM449.2 581.8h0.8v0.8h-0.8zM446.9 579.4h0.8v0.8h-0.8zM454.5 580.7h0.8v0.8h-0.8zM441.3 585.4h0.8v0.8h-0.8zM452.7 588.7h0.8v0.8h-0.8zM446.7 582.1h0.8v0.8h-0.8zM446.4 583.9h0.8v0.8h-0.8zM448.0 586.1h0.8v0.8h-0.8zM451.4 571.4h0.8v0.8h-0.8zM445.2 583.4h0.8v0.8h-0.8zM454.6 584.9h0.8v0.8h-0.8zM453.4 578.7h0.8v0.8h-0.8zM451.5 580.8h0.8v0.8h-0.8zM450.9 584.9h0.8v0.8h-0.8zM446.2 579.3h0.8v0.8h-0.8zM457.4 580.1h0.8v0.8h-0.8zM453.6 578.4h0.8v0.8h-0.8zM451.2 586.1h0.8v0.8h-0.8zM458.8 580.8h0.8v0.8h-0.8zM447.7 586.9h0.8v0.8h-0.8zM441.4 579.8h0.8v0.8h-0.8zM456.1 580.1h0.8v0.8h-0.8zM450.6 580.4h0.8v0.8h-0.8zM446.1 578.9h0.8v0.8h-0.8zM452.5 573.5h0.8v0.8h-0.8zM446.9 568.1h0.8v0.8h-0.8zM455.5 581.1h0.8v0.8h-0.8zM442.6 574.3h0.8v0.8h-0.8zM447.4 587.5h0.8v0.8h-0.8zM453.3 575.9h0.8v0.8h-0.8zM448.3 573.7h0.8v0.8h-0.8zM446.1 573.3h0.8v0.8h-0.8zM459.8 583.6h0.8v0.8h-0.8zM457.3 582.5h0.8v0.8h-0.8zM447.1 584.8h0.8v0.8h-0.8zM453.2 577.6h0.8v0.8h-0.8zM442.6 580.4h0.8v0.8h-0.8zM444.8 579.4h0.8v0.8h-0.8zM440.7 572.8h0.8v0.8h-0.8zM455.6 582.9h0.8v0.8h-0.8zM451.6 579.5h0.8v0.8h-0.8zM451.8 576.5h0.8v0.8h-0.8zM454.7 587.3h0.8v0.8h-0.8zM447.8 574.0h0.8v0.8h-0.8zM450.9 573.3h0.8v0.8h-0.8zM460.7 580.1h0.8v0.8h-0.8zM452.9 581.3h0.8v0.8h-0.8zM448.3 577.4h0.8v0.8h-0.8zM445.5 589.0h0.8v0.8h-0.8zM451.2 585.1h0.8v0.8h-0.8zM458.3 579.3h0.8v0.8h-0.8zM448.3 578.9h0.8v0.8h-0.8zM452.7 576.4h0.8v0.8h-0.8zM455.6 579.5h0.8v0.8h-0.8zM447.0 583.5h0.8v0.8h-0.8zM458.0 576.8h0.8v0.8h-0.8zM449.9 579.8h0.8v0.8h-0.8zM453.5 583.9h0.8v0.8h-0.8zM450.2 576.6h0.8v0.8h-0.8zM447.8 584.3h0.8v0.8h-0.8zM460.1 581.3h0.8v0.8h-0.8zM456.6 577.4h0.8v0.8h-0.8zM444.5 576.6h0.8v0.8h-0.8zM465.7 585.9h0.8v0.8h-0.8zM445.8 577.3h0.8v0.8h-0.8zM449.0 575.0h0.8v0.8h-0.8zM453.8 575.9h0.8v0.8h-0.8zM449.6 583.0h0.8v0.8h-0.8zM449.6 584.8h0.8v0.8h-0.8zM448.2 585.6h0.8v0.8h-0.8zM447.5 578.0h0.8v0.8h-0.8zM443.5 582.0h0.8v0.8h-0.8zM454.3 580.6h0.8v0.8h-0.8zM458.1 583.3h0.8v0.8h-0.8zM452.6 573.5h0.8v0.8h-0.8zM450.0 582.1h0.8v0.8h-0.8zM444.8 586.8h0.8v0.8h-0.8zM452.5 587.0h0.8v0.8h-0.8zM444.6 588.2h0.8v0.8h-0.8zM457.8 581.1h0.8v0.8h-0.8zM449.1 587.5h0.8v0.8h-0.8zM445.9 579.6h0.8v0.8h-0.8zM456.5 580.2h0.8v0.8h-0.8zM446.7 575.6h0.8v0.8h-0.8zM448.4 586.0h0.8v0.8h-0.8zM464.7 576.3h0.8v0.8h-0.8zM444.7 583.2h0.8v0.8h-0.8zM450.0 578.7h0.8v0.8h-0.8zM450.1 586.3h0.8v0.8h-0.8zM454.7 577.3h0.8v0.8h-0.8zM453.4 575.3h0.8v0.8h-0.8zM456.5 571.8h0.8v0.8h-0.8zM448.6 584.4h0.8v0.8h-0.8zM459.5 582.7h0.8v0.8h-0.8zM440.9 579.7h0.8v0.8h-0.8zM455.5 583.3h0.8v0.8h-0.8zM452.8 578.1h0.8v0.8h-0.8zM441.1 578.5h0.8v0.8h-0.8zM451.6 577.7h0.8v0.8h-0.8zM446.5 582.2h0.8v0.8h-0.8zM449.2 581.3h0.8v0.8h-0.8zM456.3 577.4h0.8v0.8h-0.8zM455.9 575.7h0.8v0.8h-0.8zM455.3 582.3h0.8v0.8h-0.8zM453.4 583.7h0.8v0.8h-0.8zM451.9 573.0h0.8v0.8h-0.8zM459.4 581.5h0.8v0.8h-0.8zM451.9 580.8h0.8v0.8h-0.8zM452.8 579.5h0.8v0.8h-0.8zM444.1 575.4h0.8v0.8h-0.8zM459.8 583.2h0.8v0.8h-0.8zM445.4 587.5h0.8v0.8h-0.8zM452.3 575.7h0.8v0.8h-0.8zM446.9 577.7h0.8v0.8h-0.8zM456.6 583.8h0.8v0.8h-0.8zM449.6 579.5h0.8v0.8h-0.8zM447.3 581.0h0.8v0.8h-0.8zM445.6 584.4h0.8v0.8h-0.8zM450.4 584.6h0.8v0.8h-0.8zM458.8 581.9h0.8v0.8h-0.8zM455.3 567.3h0.8v0.8h-0.8zM446.2 581.6h0.8v0.8h-0.8zM446.4 585.2h0.8v0.8h-0.8zM449.2 579.8h0.8v0.8h-0.8zM448.3 586.2h0.8v0.8h-0.8zM453.5 580.3h0.8v0.8h-0.8zM455.3 579.4h0.8v0.8h-0.8zM446.7 580.3h0.8v0.8h-0.8zM449.7 585.2h0.8v0.8h-0.8zM447.4 575.9h0.8v0.8h-0.8zM457.7 584.4h0.8v0.8h-0.8zM449.0 581.1h0.8v0.8h-0.8zM442.7 587.7h0.8v0.8h-0.8zM448.1 571.2h0.8v0.8h-0.8zM450.2 582.7h0.8v0.8h-0.8zM454.2 581.6h0.8v0.8h-0.8zM452.1 579.8h0.8v0.8h-0.8zM450.5 579.5h0.8v0.8h-0.8zM463.5 580.9h0.8v0.8h-0.8zM451.6 571.6h0.8v0.8h-0.8zM450.7 583.0h0.8v0.8h-0.8zM454.5 573.8h0.8v0.8h-0.8zM450.5 587.4h0.8v0.8h-0.8zM449.9 579.7h0.8v0.8h-0.8zM453.9 580.1h0.8v0.8h-0.8zM448.2 577.7h0.8v0.8h-0.8zM442.1 581.3h0.8v0.8h-0.8zM453.8 583.2h0.8v0.8h-0.8zM447.1 582.4h0.8v0.8h-0.8zM445.6 573.4h0.8v0.8h-0.8zM454.1 575.0h0.8v0.8h-0.8zM443.8 579.1h0.8v0.8h-0.8zM449.2 587.3h0.8v0.8h-0.8zM451.8 573.4h0.8v0.8h-0.8zM444.4 581.7h0.8v0.8h-0.8zM443.9 582.4h0.8v0.8h-0.8zM456.2 583.1h0.8v0.8h-0.8zM442.3 585.4h0.8v0.8h-0.8zM459.6 585.0h0.8v0.8h-0.8zM462.9 577.0h0.8v0.8h-0.8zM450.2 584.3h0.8v0.8h-0.8zM456.0 587.1h0.8v0.8h-0.8zM450.1 577.5h0.8v0.8h-0.8zM449.9 577.4h0.8v0.8h-0.8zM451.4 579.1h0.8v0.8h-0.8zM454.8 577.5h0.8v0.8h-0.8zM455.6 577.2h0.8v0.8h-0.8zM457.1 585.9h0.8v0.8h-0.8zM450.8 579.6h0.8v0.8h-0.8zM452.7 582.5h0.8v0.8h-0.8zM445.7 583.6h0.8v0.8h-0.8zM441.5 575.4h0.8v0.8h-0.8zM444.8 581.4h0.8v0.8h-0.8zM446.7 570.2h0.8v0.8h-0.8zM456.4 578.0h0.8v0.8h-0.8zM449.2 582.0h0.8v0.8h-0.8zM452.7 583.1h0.8v0.8h-0.8zM444.4 581.9h0.8v0.8h-0.8zM455.8 583.8h0.8v0.8h-0.8zM458.4 574.2h0.8v0.8h-0.8zM457.0 574.2h0.8v0.8h-0.8zM445.2 581.4h0.8v0.8h-0.8zM462.8 585.8h0.8v0.8h-0.8zM450.2 580.9h0.8v0.8h-0.8zM456.5 575.2h0.8v0.8h-0.8zM449.1 578.0h0.8v0.8h-0.8zM457.0 583.0h0.8v0.8h-0.8zM452.5 585.9h0.8v0.8h-0.8zM449.7 576.6h0.8v0.8h-0.8zM455.6 572.5h0.8v0.8h-0.8zM452.4 580.5h0.8v0.8h-0.8zM442.8 581.4h0.8v0.8h-0.8zM446.5 586.5h0.8v0.8h-0.8zM454.8 584.5h0.8v0.8h-0.8zM455.9 580.5h0.8v0.8h-0.8zM456.6 583.2h0.8v0.8h-0.8zM453.8 585.3h0.8v0.8h-0.8zM461.0 573.2h0.8v0.8h-0.8zM448.6 574.2h0.8v0.8h-0.8zM444.6 583.6h0.8v0.8h-0.8zM446.0 579.7h0.8v0.8h-0.8zM448.1 584.8h0.8v0.8h-0.8zM459.1 581.1h0.8v0.8h-0.8zM447.5 578.1h0.8v0.8h-0.8zM450.0 573.4h0.8v0.8h-0.8zM444.8 581.4h0.8v0.8h-0.8zM452.2 581.3h0.8v0.8h-0.8zM452.7 577.4h0.8v0.8h-0.8zM450.4 576.2h0.8v0.8h-0.8zM452.2 571.8h0.8v0.8h-0.8zM453.6 581.6h0.8v0.8h-0.8zM448.9 581.2h0.8v0.8h-0.8zM456.2 580.9h0.8v0.8h-0.8zM460.7 585.9h0.8v0.8h-0.8zM451.6 579.7h0.8v0.8h-0.8zM445.0 575.9h0.8v0.8h-0.8zM452.0 581.1h0.8v0.8h-0.8zM452.8 587.9h0.8v0.8h-0.8zM453.1 582.3h0.8v0.8h-0.8zM449.8 575.8h0.8v0.8h-0.8zM448.7 580.2h0.8v0.8h-0.8zM454.6 583.6h0.8v0.8h-0.8zM445.9 580.1h0.8v0.8h-0.8zM454.8 574.4h0.8v0.8h-0.8zM449.8 574.2h0.8v0.8h-0.8zM447.5 585.6h0.8v0.8h-0.8zM445.8 584.6h0.8v0.8h-0.8zM450.2 573.6h0.8v0.8h-0.8zM452.0 581.6h0.8v0.8h-0.8zM449.6 585.9h0.8v0.8h-0.8zM449.4 583.8h0.8v0.8h-0.8zM451.0 578.3h0.8v0.8h-0.8zM453.0 585.2h0.8v0.8h-0.8zM458.3 585.8h0.8v0.8h-0.8zM442.5 574.8h0.8v0.8h-0.8zM449.7 585.8h0.8v0.8h-0.8zM441.5 581.2h0.8v0.8h-0.8zM445.0 584.0h0.8v0.8h-0.8zM456.2 579.4h0.8v0.8h-0.8zM457.9 583.9h0.8v0.8h-0.8zM450.3 586.9h0.8v0.8h-0.8zM461.7 580.2h0.8v0.8h-0.8zM452.3 582.1h0.8v0.8h-0.8zM455.2 578.8h0.8v0.8h-0.8zM449.9 585.8h0.8v0.8h-0.8zM450.4 586.4h0.8v0.8h-0.8zM452.4 588.1h0.8v0.8h-0.8zM458.5 575.6h0.8v0.8h-0.8zM454.6 579.6h0.8v0.8h-0.8zM448.1 584.4h0.8v0.8h-0.8zM456.4 582.9h0.8v0.8h-0.8zM456.6 587.8h0.8v0.8h-0.8zM452.9 583.3h0.8v0.8h-0.8zM453.5 587.2h0.8v0.8h-0.8zM446.7 580.3h0.8v0.8h-0.8zM445.0 578.2h0.8v0.8h-0.8zM452.9 579.1h0.8v0.8h-0.8zM447.3 579.6h0.8v0.8h-0.8zM451.8 577.5h0.8v0.8h-0.8zM452.1 578.0h0.8v0.8h-0.8zM452.8 583.7h0.8v0.8h-0.8zM460.8 577.4h0.8v0.8h-0.8zM450.5 577.0h0.8v0.8h-0.8zM456.5 576.5h0.8v0.8h-0.8zM457.6 588.6h0.8v0.8h-0.8zM442.6 585.4h0.8v0.8h-0.8zM462.6 581.2h0.8v0.8h-0.8zM450.1 580.3h0.8v0.8h-0.8zM446.6 583.5h0.8v0.8h-0.8zM457.8 577.3h0.8v0.8h-0.8zM455.3 582.9h0.8v0.8h-0.8zM459.0 580.3h0.8v0.8h-0.8zM447.3 581.7h0.8v0.8h-0.8zM453.5 579.5h0.8v0.8h-0.8zM446.5 583.5h0.8v0.8h-0.8zM443.2 575.7h0.8v0.8h-0.8zM450.6 574.8h0.8v0.8h-0.8zM453.7 573.6h0.8v0.8h-0.8zM450.2 582.5h0.8v0.8h-0.8zM457.9 577.0h0.8v0.8h-0.8zM452.6 586.0h0.8v0.8h-0.8zM447.1 582.3h0.8v0.8h-0.8zM456.8 585.6h0.8v0.8h-0.8zM450.8 582.3h0.8v0.8h-0.8zM447.6 583.1h0.8v0.8h-0.8zM453.3 578.4h0.8v0.8h-0.8zM463.2 583.6h0.8v0.8h-0.8zM447.0 580.9h0.8v0.8h-0.8zM453.6 576.2h0.8v0.8h-0.8zM446.6 584.0h0.8v0.8h-0.8zM450.8 580.4h0.8v0.8h-0.8z" fill="#000" fill-opacity="0.45"/>
<ellipse cx="451" cy="580.6" rx="10.0" ry="8.8" fill="url(#g1)" fill-opacity="1.0"/>
<line x1="438.0" y1="522.8" x2="440.6" y2="522.8" stroke="#777" stroke-width="0.7"/>
<line x1="436.40000000000003" y1="521.5999999999999" x2="436.40000000000003" y2="523.4" stroke="#aaa" stroke-width="0.5"/>
<line x1="440.6" y1="589.4" x2="440.6" y2="592.0" stroke="#777" stroke-width="0.7"/>
<line x1="439.8" y1="593.1999999999999" x2="441.40000000000003" y2="593.1999999999999" stroke="#aaa" stroke-width="0.5"/>
<line x1="438.0" y1="539.4499999999999" x2="440.6" y2="539.4499999999999" stroke="#777" stroke-width="0.7"/>
<line x1="436.40000000000003" y1="538.2499999999999" x2="436.40000000000003" y2="540.05" stroke="#aaa" stroke-width="0.5"/>
<line x1="457.20000000000005" y1="589.4" x2="457.20000000000005" y2="592.0" stroke="#777" stroke-width="0.7"/>
<line x1="456.40000000000003" y1="593.1999999999999" x2="458.00000000000006" y2="593.1999999999999" stroke="#aaa" stroke-width="0.5"/>
<line x1="438.0" y1="556.0999999999999" x2="440.6" y2="556.0999999999999" stroke="#777" stroke-width="0.7"/>
<line x1="436.40000000000003" y1="554.8999999999999" x2="436.40000000000003" y2="556.6999999999999" stroke="#aaa" stroke-width="0.5"/>
<line x1="473.8" y1="589.4" x2="473.8" y2="592.0" stroke="#777" stroke-width="0.7"/>
<line x1="473.0" y1="593.1999999999999" x2="474.6" y2="593.1999999999999" stroke="#aaa" stroke-width="0.5"/>
<line x1="438.0" y1="572.75" x2="440.6" y2="572.75" stroke="#777" stroke-width="0.7"/>
<line x1="436.40000000000003" y1="571.55" x2="436.40000000000003" y2="573.35" stroke="#aaa" stroke-width="0.5"/>
<line x1="490.4" y1="589.4" x2="490.4" y2="592.0" stroke="#777" stroke-width="0.7"/>
<line x1="489.59999999999997" y1="593.1999999999999" x2="491.2" y2="593.1999999999999" stroke="#aaa" stroke-width="0.5"/>
<line x1="438.0" y1="589.4" x2="440.6" y2="589.4" stroke="#777" stroke-width="0.7"/>
<line x1="436.40000000000003" y1="588.1999999999999" x2="436.40000000000003" y2="590.0" stroke="#aaa" stroke-width="0.5"/>
<line x1="507.0" y1="589.4" x2="507.0" y2="592.0" stroke="#777" stroke-width="0.7"/>
<line x1="506.2" y1="593.1999999999999" x2="507.8" y2="593.1999999999999" stroke="#aaa" stroke-width="0.5"/>
<line x1="440.6" y1="522.8" x2="440.6" y2="589.4" stroke="#333" stroke-width="0.9"/>
<line x1="440.6" y1="589.4" x2="507.0" y2="589.4" stroke="#333" stroke-width="0.9"/>
<line x1="462.2" y1="522.8" x2="462.2" y2="589.4" stroke="#555" stroke-width="0.9"/>
<line x1="440.6" y1="571.8" x2="508.0" y2="571.8" stroke="#555" stroke-width="0.9"/>
<text transform="translate(471.6 518.0) scale(1 1.05)" font-size="10.8" text-anchor="middle" fill="#111" >After BMT</text>
<text transform="translate(473.4 531.0) scale(1 1.05)" font-size="8.9" text-anchor="start" fill="#111" >0%</text>
<text transform="translate(434.5,556.6) rotate(-90) scale(1 1.05)" font-size="10.8" text-anchor="middle" fill="#111">GFP</text>
<text transform="translate(473.8 607.0) scale(1 1.05)" font-size="10.6" text-anchor="middle" fill="#111" >CD45.2</text></svg>
</body></html>
